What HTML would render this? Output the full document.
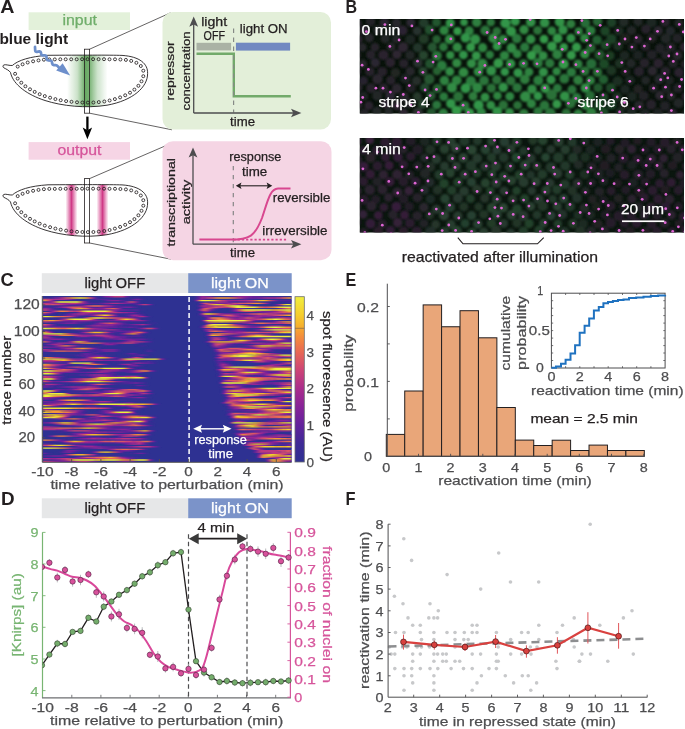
<!DOCTYPE html>
<html><head><meta charset="utf-8"><title>Figure</title>
<style>html,body{margin:0;padding:0;background:#fff;width:685px;height:729px;overflow:hidden}
svg{display:block} text{font-family:"Liberation Sans", sans-serif}</style></head>
<body><svg width="685" height="729" viewBox="0 0 685 729" font-family="Liberation Sans, sans-serif" style="will-change:transform">
<text x="0.3" y="12.7" font-size="18" fill="#231f20" font-weight="bold" textLength="14.2" lengthAdjust="spacingAndGlyphs" >A</text>
<rect x="28.6" y="12.3" width="101.4" height="17.7" fill="#e3f1da"/>
<text x="79.7" y="25.0" font-size="14" fill="#6fae6a" stroke="#6fae6a" stroke-width="0.25" text-anchor="middle" textLength="34.5" lengthAdjust="spacingAndGlyphs" >input</text>
<rect x="28.6" y="142.1" width="101.4" height="17.6" fill="#f6d5e5"/>
<text x="79.5" y="154.6" font-size="14" fill="#d6559b" stroke="#d6559b" stroke-width="0.25" text-anchor="middle" textLength="44" lengthAdjust="spacingAndGlyphs" >output</text>
<text x="-0.6" y="43.5" font-size="13.8" fill="#231f20" font-weight="bold" textLength="68.8" lengthAdjust="spacingAndGlyphs" >blue light</text>
<defs><linearGradient id="gg" x1="67" x2="107.5" y1="0" y2="0" gradientUnits="userSpaceOnUse"><stop offset="0" stop-color="#6fae6a" stop-opacity="0"/><stop offset="0.25" stop-color="#6fae6a" stop-opacity="0.35"/><stop offset="0.45" stop-color="#5fa45a" stop-opacity="0.95"/><stop offset="0.55" stop-color="#5fa45a" stop-opacity="0.85"/><stop offset="0.75" stop-color="#6fae6a" stop-opacity="0.35"/><stop offset="1" stop-color="#6fae6a" stop-opacity="0"/></linearGradient><linearGradient id="pg1" x1="65.5" x2="77.5" y1="0" y2="0" gradientUnits="userSpaceOnUse"><stop offset="0" stop-color="#d8468e" stop-opacity="0"/><stop offset="0.5" stop-color="#cf3a86" stop-opacity="1"/><stop offset="1" stop-color="#d8468e" stop-opacity="0"/></linearGradient><linearGradient id="pg2" x1="96.5" x2="108.5" y1="0" y2="0" gradientUnits="userSpaceOnUse"><stop offset="0" stop-color="#d8468e" stop-opacity="0"/><stop offset="0.5" stop-color="#cf3a86" stop-opacity="1"/><stop offset="1" stop-color="#d8468e" stop-opacity="0"/></linearGradient><clipPath id="ec1"><path d="M12.3,65.5 C18,60.4 30,56.4 48,55.3 C80,55.1 110,55.0 122,55.4 C140,56.5 148,64 147.6,73.5 C147.8,87 133,100.5 107,105.2 C86,108.6 62,106 45,100.5 C28,95 13.2,85 10.5,72.5 C9,70.2 6,69 4,67.9 C2.6,67.1 2.6,65.4 4,64.9 C6,64.2 9.5,65.8 12.3,65.5 Z"/></clipPath><clipPath id="ec2"><path d="M12.3,195.0 C18,189.9 30,185.9 48,184.8 C80,184.6 110,184.5 122,184.9 C140,186.0 148,193.5 147.6,203.0 C147.8,216.5 133,230.0 107,234.7 C86,238.1 62,235.5 45,230.0 C28,224.5 13.2,214.5 10.5,202.0 C9,199.7 6,198.5 4,197.4 C2.6,196.6 2.6,194.9 4,194.4 C6,193.7 9.5,195.3 12.3,195.0 Z"/></clipPath></defs>
<rect x="60" y="50" width="50" height="60" fill="url(#gg)" clip-path="url(#ec1)"/>
<path d="M12.3,65.5 C18,60.4 30,56.4 48,55.3 C80,55.1 110,55.0 122,55.4 C140,56.5 148,64 147.6,73.5 C147.8,87 133,100.5 107,105.2 C86,108.6 62,106 45,100.5 C28,95 13.2,85 10.5,72.5 C9,70.2 6,69 4,67.9 C2.6,67.1 2.6,65.4 4,64.9 C6,64.2 9.5,65.8 12.3,65.5 Z" fill="none" stroke="#231f20" stroke-width="0.9"/>
<g fill="none" stroke="#231f20" stroke-width="0.85"><circle cx="17.7" cy="66.6" r="1.5"/><circle cx="22.6" cy="64.3" r="1.5"/><circle cx="27.7" cy="62.5" r="1.5"/><circle cx="33.1" cy="61.3" r="1.5"/><circle cx="38.5" cy="60.4" r="1.5"/><circle cx="43.9" cy="59.7" r="1.5"/><circle cx="49.3" cy="59.4" r="1.5"/><circle cx="54.8" cy="59.4" r="1.5"/><circle cx="60.3" cy="59.3" r="1.5"/><circle cx="65.7" cy="59.3" r="1.5"/><circle cx="71.2" cy="59.3" r="1.5"/><circle cx="76.7" cy="59.3" r="1.5"/><circle cx="82.1" cy="59.2" r="1.5"/><circle cx="87.6" cy="59.2" r="1.5"/><circle cx="93.1" cy="59.2" r="1.5"/><circle cx="98.6" cy="59.2" r="1.5"/><circle cx="104.0" cy="59.2" r="1.5"/><circle cx="109.5" cy="59.3" r="1.5"/><circle cx="115.0" cy="59.3" r="1.5"/><circle cx="120.4" cy="59.5" r="1.5"/><circle cx="125.9" cy="59.9" r="1.5"/><circle cx="131.2" cy="60.9" r="1.5"/><circle cx="136.4" cy="62.8" r="1.5"/><circle cx="140.8" cy="66.0" r="1.5"/><circle cx="143.3" cy="70.7" r="1.5"/><circle cx="143.3" cy="76.2" r="1.5"/><circle cx="141.5" cy="81.3" r="1.5"/><circle cx="138.4" cy="85.8" r="1.5"/><circle cx="134.4" cy="89.6" r="1.5"/><circle cx="130.0" cy="92.7" r="1.5"/><circle cx="125.2" cy="95.3" r="1.5"/><circle cx="120.1" cy="97.4" r="1.5"/><circle cx="114.9" cy="99.1" r="1.5"/><circle cx="109.6" cy="100.5" r="1.5"/><circle cx="104.3" cy="101.5" r="1.5"/><circle cx="98.8" cy="102.1" r="1.5"/><circle cx="93.4" cy="102.5" r="1.5"/><circle cx="87.9" cy="102.6" r="1.5"/><circle cx="82.4" cy="102.5" r="1.5"/><circle cx="77.0" cy="102.3" r="1.5"/><circle cx="71.5" cy="101.8" r="1.5"/><circle cx="66.1" cy="101.1" r="1.5"/><circle cx="60.7" cy="100.2" r="1.5"/><circle cx="55.4" cy="99.1" r="1.5"/><circle cx="50.1" cy="97.7" r="1.5"/><circle cx="44.8" cy="96.1" r="1.5"/><circle cx="39.7" cy="94.2" r="1.5"/><circle cx="34.7" cy="91.9" r="1.5"/><circle cx="30.0" cy="89.3" r="1.5"/><circle cx="25.4" cy="86.3" r="1.5"/><circle cx="21.3" cy="82.7" r="1.5"/><circle cx="17.7" cy="78.6" r="1.5"/><circle cx="15.1" cy="73.8" r="1.5"/></g>
<g clip-path="url(#ec2)"><rect x="65.5" y="180" width="12" height="60" fill="url(#pg1)"/><rect x="96.5" y="180" width="12" height="60" fill="url(#pg2)"/></g>
<path d="M12.3,195.0 C18,189.9 30,185.9 48,184.8 C80,184.6 110,184.5 122,184.9 C140,186.0 148,193.5 147.6,203.0 C147.8,216.5 133,230.0 107,234.7 C86,238.1 62,235.5 45,230.0 C28,224.5 13.2,214.5 10.5,202.0 C9,199.7 6,198.5 4,197.4 C2.6,196.6 2.6,194.9 4,194.4 C6,193.7 9.5,195.3 12.3,195.0 Z" fill="none" stroke="#231f20" stroke-width="0.9"/>
<g fill="none" stroke="#231f20" stroke-width="0.85"><circle cx="17.7" cy="196.1" r="1.5"/><circle cx="22.6" cy="193.8" r="1.5"/><circle cx="27.7" cy="192.0" r="1.5"/><circle cx="33.1" cy="190.8" r="1.5"/><circle cx="38.5" cy="189.9" r="1.5"/><circle cx="43.9" cy="189.2" r="1.5"/><circle cx="49.3" cy="188.9" r="1.5"/><circle cx="54.8" cy="188.9" r="1.5"/><circle cx="60.3" cy="188.8" r="1.5"/><circle cx="65.7" cy="188.8" r="1.5"/><circle cx="71.2" cy="188.8" r="1.5"/><circle cx="76.7" cy="188.8" r="1.5"/><circle cx="82.1" cy="188.7" r="1.5"/><circle cx="87.6" cy="188.7" r="1.5"/><circle cx="93.1" cy="188.7" r="1.5"/><circle cx="98.6" cy="188.7" r="1.5"/><circle cx="104.0" cy="188.7" r="1.5"/><circle cx="109.5" cy="188.8" r="1.5"/><circle cx="115.0" cy="188.8" r="1.5"/><circle cx="120.4" cy="189.0" r="1.5"/><circle cx="125.9" cy="189.4" r="1.5"/><circle cx="131.2" cy="190.4" r="1.5"/><circle cx="136.4" cy="192.3" r="1.5"/><circle cx="140.8" cy="195.5" r="1.5"/><circle cx="143.3" cy="200.2" r="1.5"/><circle cx="143.3" cy="205.7" r="1.5"/><circle cx="141.5" cy="210.8" r="1.5"/><circle cx="138.4" cy="215.3" r="1.5"/><circle cx="134.4" cy="219.1" r="1.5"/><circle cx="130.0" cy="222.2" r="1.5"/><circle cx="125.2" cy="224.8" r="1.5"/><circle cx="120.1" cy="226.9" r="1.5"/><circle cx="114.9" cy="228.6" r="1.5"/><circle cx="109.6" cy="230.0" r="1.5"/><circle cx="104.3" cy="231.0" r="1.5"/><circle cx="98.8" cy="231.6" r="1.5"/><circle cx="93.4" cy="232.0" r="1.5"/><circle cx="87.9" cy="232.1" r="1.5"/><circle cx="82.4" cy="232.0" r="1.5"/><circle cx="77.0" cy="231.8" r="1.5"/><circle cx="71.5" cy="231.3" r="1.5"/><circle cx="66.1" cy="230.6" r="1.5"/><circle cx="60.7" cy="229.7" r="1.5"/><circle cx="55.4" cy="228.6" r="1.5"/><circle cx="50.1" cy="227.2" r="1.5"/><circle cx="44.8" cy="225.6" r="1.5"/><circle cx="39.7" cy="223.7" r="1.5"/><circle cx="34.7" cy="221.4" r="1.5"/><circle cx="30.0" cy="218.8" r="1.5"/><circle cx="25.4" cy="215.8" r="1.5"/><circle cx="21.3" cy="212.2" r="1.5"/><circle cx="17.7" cy="208.1" r="1.5"/><circle cx="15.1" cy="203.3" r="1.5"/></g>
<rect x="84.4" y="49.2" width="5.2" height="64" fill="none" stroke="#231f20" stroke-width="0.8"/>
<rect x="84.4" y="178.6" width="5.2" height="64.4" fill="none" stroke="#231f20" stroke-width="0.8"/>
<g stroke="#231f20" stroke-width="0.7"><line x1="89.6" y1="49.2" x2="170.5" y2="12.8"/><line x1="89.6" y1="113.2" x2="172" y2="129.8"/><line x1="89.6" y1="178.6" x2="168.5" y2="144.5"/><line x1="89.6" y1="243" x2="171" y2="259.2"/></g>
<line x1="87.4" y1="116.6" x2="87.4" y2="130" stroke="#000" stroke-width="2.3"/>
<path d="M82.7,127.6 L87.4,139.2 L92.1,127.6 L87.4,130.2 Z" fill="#000"/>
<path d="M35,46.9 L35.2,50.6 Q35.4,52.1 37,51.8 L39.3,51.4 Q40.8,51.2 41,52.7 L41.2,54.3 Q41.5,55.6 43,55.4 L44.9,55.3 Q46.3,55.3 46.5,56.8 L46.7,58.9 Q47,60.4 48.5,60.4 L50.3,60.5 Q51.8,60.6 52,62 L52.2,63.8 Q52.5,65.3 54,65.2 L55.5,65.1 Q57,65.1 58,66.5 L59,67.6" fill="none" stroke="#6d8fcb" stroke-width="2.7" stroke-linecap="round" stroke-linejoin="round"/>
<path d="M56.2,70.6 L62.6,63.2 L70.2,75.4 Z" fill="#6d8fcb"/>
<rect x="162.5" y="12" width="168.5" height="117.5" rx="10.5" fill="#e3efd9"/>
<rect x="162.5" y="141.2" width="169" height="119" rx="10.5" fill="#f5d5e4"/>
<rect x="196.5" y="42.8" width="34.6" height="7.6" fill="#aab2a5"/>
<rect x="235.9" y="42.7" width="54.2" height="7.9" fill="#7189c1"/>
<path d="M196.5,53.8 H233.8 V96.2 H290.8" fill="none" stroke="#72aa6a" stroke-width="2.4"/>
<line x1="233.6" y1="28.6" x2="233.6" y2="112.5" stroke="#868a86" stroke-width="1.2" stroke-dasharray="4.3,4.7"/>
<path d="M193.7,113 V22 M193.7,113 H295" fill="none" stroke="#4d4d4f" stroke-width="1.3"/>
<path d="M189.3,26.8 L193.7,16.6 L198.1,26.8 L193.7,24.5 Z" fill="#4d4d4f"/>
<path d="M291,108.8 L301.4,113 L291,117.2 L293.3,113 Z" fill="#4d4d4f"/>
<text x="214.2" y="25.6" font-size="12" fill="#231f20" stroke="#231f20" stroke-width="0.25" text-anchor="middle" textLength="26" lengthAdjust="spacingAndGlyphs" >light</text>
<text x="214.3" y="40.1" font-size="12" fill="#231f20" stroke="#231f20" stroke-width="0.25" text-anchor="middle" textLength="21.4" lengthAdjust="spacingAndGlyphs" >OFF</text>
<text x="239.8" y="32.7" font-size="12" fill="#231f20" stroke="#231f20" stroke-width="0.25" textLength="47.8" lengthAdjust="spacingAndGlyphs" >light ON</text>
<text x="230.1" y="125.8" font-size="12" fill="#231f20" stroke="#231f20" stroke-width="0.25" textLength="24.9" lengthAdjust="spacingAndGlyphs" >time</text>
<text transform="translate(174.3,70.9) rotate(-90)" font-size="11.8" fill="#231f20" stroke="#231f20" stroke-width="0.25" text-anchor="middle" textLength="59" lengthAdjust="spacingAndGlyphs" >repressor</text>
<text transform="translate(190.3,70.9) rotate(-90)" font-size="11.8" fill="#231f20" stroke="#231f20" stroke-width="0.25" text-anchor="middle" textLength="79" lengthAdjust="spacingAndGlyphs" >concentration</text>
<line x1="233.3" y1="166" x2="233.3" y2="243.5" stroke="#868686" stroke-width="1.2" stroke-dasharray="4.3,4.7"/>
<path d="M193,244.2 V152 M193,244.2 H295" fill="none" stroke="#4d4d4f" stroke-width="1.3"/>
<path d="M188.6,157.6 L193,147.4 L197.4,157.6 L193,155.3 Z" fill="#4d4d4f"/>
<path d="M291,240 L301.4,244.2 L291,248.4 L293.3,244.2 Z" fill="#4d4d4f"/>
<path d="M233.5,239.6 H287.5" stroke="#d8478f" stroke-width="1.8" stroke-dasharray="2.2,2"/>
<path d="M199.4,239.6 H230 C250,239.6 255,236 262,218 C268,200 270,189 278,188.6 H290.5" fill="none" stroke="#d8478f" stroke-width="2"/>
<path d="M240,185.8 H268" stroke="#231f20" stroke-width="1.1"/>
<path d="M235.8,185.8 L241.5,182.6 L240.3,185.8 L241.5,189 Z M272.3,185.8 L266.6,182.6 L267.8,185.8 L266.6,189 Z" fill="#231f20"/>
<text x="255.3" y="160.8" font-size="12" fill="#231f20" stroke="#231f20" stroke-width="0.25" text-anchor="middle" textLength="52" lengthAdjust="spacingAndGlyphs" >response</text>
<text x="254.7" y="176.0" font-size="12" fill="#231f20" stroke="#231f20" stroke-width="0.25" text-anchor="middle" textLength="25.2" lengthAdjust="spacingAndGlyphs" >time</text>
<text x="272.8" y="202.0" font-size="12" fill="#231f20" stroke="#231f20" stroke-width="0.25" textLength="57.5" lengthAdjust="spacingAndGlyphs" >reversible</text>
<text x="262.3" y="235.2" font-size="12" fill="#231f20" stroke="#231f20" stroke-width="0.25" textLength="65.2" lengthAdjust="spacingAndGlyphs" >irreversible</text>
<text x="230.1" y="257.3" font-size="12" fill="#231f20" stroke="#231f20" stroke-width="0.25" textLength="24.9" lengthAdjust="spacingAndGlyphs" >time</text>
<text transform="translate(174.5,202.3) rotate(-90)" font-size="11.8" fill="#231f20" stroke="#231f20" stroke-width="0.25" text-anchor="middle" textLength="88.5" lengthAdjust="spacingAndGlyphs" >transcriptional</text>
<text transform="translate(189.5,202.0) rotate(-90)" font-size="11.8" fill="#231f20" stroke="#231f20" stroke-width="0.25" text-anchor="middle" textLength="44.5" lengthAdjust="spacingAndGlyphs" >activity</text>
<defs><clipPath id="mc1"><rect x="359.8" y="19" width="324.2" height="94.5"/></clipPath><clipPath id="mc2"><rect x="359.8" y="138" width="324.2" height="94.5"/></clipPath><filter id="mblur" x="0" y="0" width="1" height="1"><feGaussianBlur stdDeviation="1.1"/></filter></defs>
<text x="345.4" y="12.7" font-size="18" fill="#231f20" font-weight="bold" textLength="11.6" lengthAdjust="spacingAndGlyphs" >B</text>
<rect x="359.8" y="19" width="324.2" height="94.5" fill="#08120a"/>
<g clip-path="url(#mc1)"><g filter="url(#mblur)">
<circle cx="357.1" cy="23.1" r="4.5" fill="rgb(45,37,49)"/>
<circle cx="370.5" cy="21.6" r="4.8" fill="rgb(34,35,38)"/>
<circle cx="384.4" cy="22.8" r="4.8" fill="rgb(44,37,48)"/>
<circle cx="396.5" cy="22.9" r="4.6" fill="rgb(38,38,42)"/>
<circle cx="410.7" cy="22.7" r="4.4" fill="rgb(44,38,49)"/>
<circle cx="423.8" cy="22.9" r="4.9" fill="rgb(33,59,41)"/>
<circle cx="436.5" cy="22.4" r="4.5" fill="rgb(35,87,46)"/>
<circle cx="450.2" cy="22.9" r="4.6" fill="rgb(50,146,71)"/>
<circle cx="464.0" cy="22.3" r="3.8" fill="rgb(50,146,71)"/>
<circle cx="476.7" cy="22.3" r="4.8" fill="rgb(45,127,63)"/>
<circle cx="490.8" cy="22.3" r="4.1" fill="rgb(43,118,59)"/>
<circle cx="505.4" cy="23.2" r="5.1" fill="rgb(51,149,72)"/>
<circle cx="515.2" cy="21.2" r="4.6" fill="rgb(51,149,72)"/>
<circle cx="530.8" cy="22.2" r="4.8" fill="rgb(50,144,70)"/>
<circle cx="544.6" cy="22.7" r="4.9" fill="rgb(50,144,70)"/>
<circle cx="559.7" cy="21.7" r="5.0" fill="rgb(51,147,71)"/>
<circle cx="570.9" cy="23.9" r="4.5" fill="rgb(45,125,62)"/>
<circle cx="585.2" cy="23.0" r="4.9" fill="rgb(40,108,55)"/>
<circle cx="597.5" cy="21.3" r="4.8" fill="rgb(38,101,52)"/>
<circle cx="611.6" cy="22.6" r="4.8" fill="rgb(30,63,38)"/>
<circle cx="623.7" cy="22.0" r="4.8" fill="rgb(32,43,37)"/>
<circle cx="638.1" cy="21.8" r="4.5" fill="rgb(32,39,37)"/>
<circle cx="651.5" cy="22.6" r="4.9" fill="rgb(31,39,36)"/>
<circle cx="665.0" cy="22.1" r="4.7" fill="rgb(39,34,44)"/>
<circle cx="678.9" cy="23.1" r="4.4" fill="rgb(35,38,40)"/>
<circle cx="692.1" cy="21.9" r="4.8" fill="rgb(31,39,36)"/>
<circle cx="364.2" cy="30.3" r="4.7" fill="rgb(45,39,50)"/>
<circle cx="377.7" cy="29.9" r="4.7" fill="rgb(36,39,40)"/>
<circle cx="391.1" cy="30.7" r="4.7" fill="rgb(32,39,37)"/>
<circle cx="402.6" cy="30.5" r="4.9" fill="rgb(44,35,48)"/>
<circle cx="417.1" cy="30.9" r="4.4" fill="rgb(40,49,47)"/>
<circle cx="429.6" cy="29.9" r="4.9" fill="rgb(35,79,46)"/>
<circle cx="444.1" cy="30.4" r="4.7" fill="rgb(47,133,65)"/>
<circle cx="457.5" cy="31.2" r="4.1" fill="rgb(52,154,74)"/>
<circle cx="469.2" cy="30.9" r="4.6" fill="rgb(46,129,64)"/>
<circle cx="485.2" cy="30.5" r="4.9" fill="rgb(42,115,58)"/>
<circle cx="496.8" cy="31.2" r="4.3" fill="rgb(41,113,57)"/>
<circle cx="511.1" cy="31.3" r="5.1" fill="rgb(51,148,71)"/>
<circle cx="524.0" cy="29.7" r="4.7" fill="rgb(48,137,67)"/>
<circle cx="537.6" cy="30.4" r="4.4" fill="rgb(41,114,57)"/>
<circle cx="551.8" cy="30.8" r="4.4" fill="rgb(46,132,65)"/>
<circle cx="563.0" cy="29.9" r="4.7" fill="rgb(50,144,70)"/>
<circle cx="578.7" cy="31.2" r="4.0" fill="rgb(46,129,63)"/>
<circle cx="590.7" cy="30.7" r="4.8" fill="rgb(44,122,61)"/>
<circle cx="605.1" cy="31.0" r="4.8" fill="rgb(30,69,39)"/>
<circle cx="618.9" cy="30.9" r="4.7" fill="rgb(28,43,33)"/>
<circle cx="631.4" cy="30.5" r="4.7" fill="rgb(33,37,37)"/>
<circle cx="645.9" cy="29.1" r="4.7" fill="rgb(39,36,43)"/>
<circle cx="658.2" cy="30.7" r="4.7" fill="rgb(41,37,46)"/>
<circle cx="670.4" cy="30.9" r="4.6" fill="rgb(36,39,41)"/>
<circle cx="684.5" cy="31.3" r="4.6" fill="rgb(33,34,37)"/>
<circle cx="698.4" cy="31.2" r="4.7" fill="rgb(36,33,40)"/>
<circle cx="357.9" cy="39.2" r="4.8" fill="rgb(41,35,45)"/>
<circle cx="369.4" cy="37.8" r="4.6" fill="rgb(37,38,42)"/>
<circle cx="385.2" cy="38.8" r="4.5" fill="rgb(34,38,38)"/>
<circle cx="396.4" cy="39.0" r="4.4" fill="rgb(35,37,39)"/>
<circle cx="410.2" cy="39.5" r="4.9" fill="rgb(31,38,36)"/>
<circle cx="423.8" cy="38.9" r="5.0" fill="rgb(33,58,40)"/>
<circle cx="436.6" cy="39.2" r="4.2" fill="rgb(37,97,51)"/>
<circle cx="449.7" cy="39.4" r="4.9" fill="rgb(48,138,67)"/>
<circle cx="465.4" cy="37.8" r="4.8" fill="rgb(51,149,72)"/>
<circle cx="475.2" cy="39.3" r="5.1" fill="rgb(50,145,70)"/>
<circle cx="493.1" cy="38.2" r="4.8" fill="rgb(48,136,67)"/>
<circle cx="503.1" cy="39.3" r="4.6" fill="rgb(46,131,64)"/>
<circle cx="516.8" cy="38.5" r="4.8" fill="rgb(43,120,60)"/>
<circle cx="530.7" cy="39.3" r="4.7" fill="rgb(49,140,68)"/>
<circle cx="544.0" cy="39.1" r="4.4" fill="rgb(53,154,74)"/>
<circle cx="557.6" cy="38.3" r="4.8" fill="rgb(52,152,73)"/>
<circle cx="570.9" cy="38.2" r="4.5" fill="rgb(50,144,70)"/>
<circle cx="584.6" cy="38.1" r="4.4" fill="rgb(47,132,65)"/>
<circle cx="597.0" cy="39.9" r="4.7" fill="rgb(36,96,50)"/>
<circle cx="611.4" cy="38.9" r="5.0" fill="rgb(29,64,38)"/>
<circle cx="625.3" cy="38.6" r="5.3" fill="rgb(27,36,31)"/>
<circle cx="638.0" cy="39.2" r="4.6" fill="rgb(38,36,43)"/>
<circle cx="651.9" cy="38.1" r="4.7" fill="rgb(32,34,36)"/>
<circle cx="665.8" cy="38.5" r="4.9" fill="rgb(35,39,39)"/>
<circle cx="677.4" cy="38.3" r="4.8" fill="rgb(34,36,38)"/>
<circle cx="691.4" cy="40.0" r="5.0" fill="rgb(32,33,36)"/>
<circle cx="362.4" cy="47.2" r="4.3" fill="rgb(38,37,43)"/>
<circle cx="375.0" cy="47.1" r="4.4" fill="rgb(37,34,41)"/>
<circle cx="391.1" cy="46.9" r="4.4" fill="rgb(39,37,44)"/>
<circle cx="403.1" cy="47.3" r="5.0" fill="rgb(46,39,51)"/>
<circle cx="417.7" cy="47.6" r="4.7" fill="rgb(36,54,43)"/>
<circle cx="432.3" cy="47.2" r="4.7" fill="rgb(37,87,49)"/>
<circle cx="443.4" cy="47.0" r="4.4" fill="rgb(43,118,59)"/>
<circle cx="457.2" cy="47.2" r="4.7" fill="rgb(48,137,67)"/>
<circle cx="470.7" cy="47.2" r="4.5" fill="rgb(52,153,74)"/>
<circle cx="482.6" cy="47.7" r="4.6" fill="rgb(47,133,65)"/>
<circle cx="497.0" cy="46.3" r="4.3" fill="rgb(51,148,71)"/>
<circle cx="511.5" cy="48.0" r="4.9" fill="rgb(48,139,68)"/>
<circle cx="524.7" cy="47.2" r="4.7" fill="rgb(43,120,60)"/>
<circle cx="536.9" cy="49.1" r="4.9" fill="rgb(45,126,62)"/>
<circle cx="551.9" cy="46.3" r="4.9" fill="rgb(52,153,74)"/>
<circle cx="563.8" cy="47.2" r="4.2" fill="rgb(52,152,73)"/>
<circle cx="576.5" cy="47.2" r="4.6" fill="rgb(53,154,74)"/>
<circle cx="590.9" cy="48.0" r="4.7" fill="rgb(37,97,50)"/>
<circle cx="605.6" cy="45.2" r="4.9" fill="rgb(30,70,39)"/>
<circle cx="618.1" cy="46.0" r="4.8" fill="rgb(26,47,32)"/>
<circle cx="632.5" cy="47.2" r="4.4" fill="rgb(30,35,34)"/>
<circle cx="645.4" cy="46.4" r="4.6" fill="rgb(36,34,40)"/>
<circle cx="659.9" cy="48.5" r="4.9" fill="rgb(35,35,40)"/>
<circle cx="670.7" cy="47.4" r="4.9" fill="rgb(32,35,37)"/>
<circle cx="684.5" cy="47.1" r="4.8" fill="rgb(42,36,46)"/>
<circle cx="697.4" cy="48.4" r="4.5" fill="rgb(43,38,47)"/>
<circle cx="355.9" cy="55.1" r="4.8" fill="rgb(42,39,47)"/>
<circle cx="370.7" cy="54.8" r="4.6" fill="rgb(38,36,42)"/>
<circle cx="383.4" cy="54.9" r="5.2" fill="rgb(41,34,45)"/>
<circle cx="396.9" cy="54.5" r="4.6" fill="rgb(45,37,49)"/>
<circle cx="410.0" cy="55.2" r="4.6" fill="rgb(35,38,39)"/>
<circle cx="423.5" cy="55.3" r="4.6" fill="rgb(38,68,47)"/>
<circle cx="436.9" cy="55.8" r="4.9" fill="rgb(43,117,59)"/>
<circle cx="450.3" cy="55.2" r="4.1" fill="rgb(49,141,69)"/>
<circle cx="463.4" cy="54.9" r="4.4" fill="rgb(51,148,72)"/>
<circle cx="476.3" cy="55.7" r="4.5" fill="rgb(52,150,72)"/>
<circle cx="489.8" cy="54.8" r="4.2" fill="rgb(44,124,62)"/>
<circle cx="504.5" cy="55.6" r="4.7" fill="rgb(46,132,65)"/>
<circle cx="517.2" cy="53.9" r="4.4" fill="rgb(46,131,64)"/>
<circle cx="531.4" cy="55.5" r="4.7" fill="rgb(53,155,74)"/>
<circle cx="543.1" cy="55.8" r="4.5" fill="rgb(49,140,68)"/>
<circle cx="557.2" cy="54.5" r="4.9" fill="rgb(46,129,63)"/>
<circle cx="571.3" cy="55.2" r="4.6" fill="rgb(52,153,74)"/>
<circle cx="584.8" cy="54.2" r="4.6" fill="rgb(48,138,67)"/>
<circle cx="599.6" cy="54.9" r="5.1" fill="rgb(33,83,44)"/>
<circle cx="610.0" cy="55.7" r="4.6" fill="rgb(28,60,36)"/>
<circle cx="624.5" cy="55.5" r="4.7" fill="rgb(30,40,35)"/>
<circle cx="637.9" cy="55.3" r="4.8" fill="rgb(28,34,32)"/>
<circle cx="651.8" cy="54.8" r="4.9" fill="rgb(36,34,40)"/>
<circle cx="665.6" cy="55.0" r="4.5" fill="rgb(33,34,37)"/>
<circle cx="677.6" cy="55.4" r="4.9" fill="rgb(39,38,43)"/>
<circle cx="692.2" cy="55.1" r="4.9" fill="rgb(32,36,36)"/>
<circle cx="362.7" cy="63.9" r="4.3" fill="rgb(40,39,44)"/>
<circle cx="375.3" cy="62.8" r="4.7" fill="rgb(43,37,48)"/>
<circle cx="390.3" cy="62.5" r="4.8" fill="rgb(41,34,45)"/>
<circle cx="403.7" cy="63.5" r="4.6" fill="rgb(39,34,43)"/>
<circle cx="417.9" cy="62.9" r="4.7" fill="rgb(39,50,45)"/>
<circle cx="429.9" cy="63.7" r="4.9" fill="rgb(36,81,47)"/>
<circle cx="441.7" cy="65.7" r="5.1" fill="rgb(44,123,61)"/>
<circle cx="456.7" cy="63.0" r="4.6" fill="rgb(48,137,67)"/>
<circle cx="471.5" cy="63.5" r="4.6" fill="rgb(49,142,69)"/>
<circle cx="482.5" cy="63.9" r="5.1" fill="rgb(48,136,67)"/>
<circle cx="498.3" cy="63.2" r="4.9" fill="rgb(52,152,73)"/>
<circle cx="510.6" cy="63.8" r="4.7" fill="rgb(50,145,70)"/>
<circle cx="523.5" cy="63.8" r="4.6" fill="rgb(44,123,61)"/>
<circle cx="537.9" cy="63.0" r="4.9" fill="rgb(44,122,61)"/>
<circle cx="549.8" cy="63.3" r="4.7" fill="rgb(43,119,59)"/>
<circle cx="563.7" cy="64.2" r="5.1" fill="rgb(52,152,73)"/>
<circle cx="578.0" cy="64.0" r="4.5" fill="rgb(45,128,63)"/>
<circle cx="591.4" cy="63.7" r="5.2" fill="rgb(40,109,55)"/>
<circle cx="604.0" cy="64.0" r="5.0" fill="rgb(31,73,40)"/>
<circle cx="619.7" cy="63.3" r="4.8" fill="rgb(30,49,36)"/>
<circle cx="631.0" cy="63.4" r="4.6" fill="rgb(32,38,37)"/>
<circle cx="644.5" cy="63.0" r="4.8" fill="rgb(37,36,42)"/>
<circle cx="658.4" cy="63.3" r="4.9" fill="rgb(42,36,46)"/>
<circle cx="673.0" cy="63.5" r="4.6" fill="rgb(34,34,38)"/>
<circle cx="685.4" cy="64.2" r="4.7" fill="rgb(36,35,40)"/>
<circle cx="698.2" cy="64.5" r="4.9" fill="rgb(34,33,38)"/>
<circle cx="356.2" cy="71.1" r="4.7" fill="rgb(44,33,48)"/>
<circle cx="369.9" cy="71.6" r="4.7" fill="rgb(37,36,42)"/>
<circle cx="382.3" cy="71.7" r="4.8" fill="rgb(40,33,44)"/>
<circle cx="395.5" cy="72.7" r="4.7" fill="rgb(32,38,36)"/>
<circle cx="410.3" cy="71.3" r="4.5" fill="rgb(39,39,44)"/>
<circle cx="423.0" cy="71.4" r="4.3" fill="rgb(41,71,51)"/>
<circle cx="437.0" cy="71.0" r="4.3" fill="rgb(38,98,51)"/>
<circle cx="449.8" cy="71.6" r="4.5" fill="rgb(48,139,68)"/>
<circle cx="463.5" cy="72.4" r="4.9" fill="rgb(48,138,67)"/>
<circle cx="478.4" cy="71.7" r="4.8" fill="rgb(48,136,67)"/>
<circle cx="491.2" cy="70.8" r="5.0" fill="rgb(50,144,70)"/>
<circle cx="504.8" cy="71.7" r="4.3" fill="rgb(51,149,72)"/>
<circle cx="518.0" cy="72.8" r="4.6" fill="rgb(51,149,72)"/>
<circle cx="528.9" cy="71.9" r="4.5" fill="rgb(46,130,64)"/>
<circle cx="543.4" cy="72.1" r="4.6" fill="rgb(50,145,70)"/>
<circle cx="556.6" cy="71.4" r="4.2" fill="rgb(47,136,66)"/>
<circle cx="571.4" cy="72.1" r="4.7" fill="rgb(43,121,60)"/>
<circle cx="584.7" cy="71.1" r="4.7" fill="rgb(41,112,56)"/>
<circle cx="597.5" cy="72.3" r="4.6" fill="rgb(41,111,56)"/>
<circle cx="611.4" cy="70.5" r="4.9" fill="rgb(27,54,34)"/>
<circle cx="625.6" cy="72.0" r="4.4" fill="rgb(26,36,31)"/>
<circle cx="639.0" cy="71.5" r="5.0" fill="rgb(39,35,43)"/>
<circle cx="652.3" cy="71.0" r="4.7" fill="rgb(42,39,47)"/>
<circle cx="665.5" cy="71.4" r="4.8" fill="rgb(37,36,42)"/>
<circle cx="679.0" cy="72.4" r="4.8" fill="rgb(41,33,45)"/>
<circle cx="691.1" cy="71.7" r="4.6" fill="rgb(38,36,43)"/>
<circle cx="363.5" cy="80.7" r="4.4" fill="rgb(40,36,45)"/>
<circle cx="377.5" cy="79.0" r="5.2" fill="rgb(41,37,45)"/>
<circle cx="390.7" cy="80.4" r="4.6" fill="rgb(38,33,42)"/>
<circle cx="405.6" cy="78.7" r="5.1" fill="rgb(31,34,35)"/>
<circle cx="416.6" cy="80.8" r="4.6" fill="rgb(37,47,43)"/>
<circle cx="429.3" cy="79.1" r="5.3" fill="rgb(39,87,51)"/>
<circle cx="444.4" cy="80.6" r="4.8" fill="rgb(46,130,64)"/>
<circle cx="456.7" cy="80.3" r="4.9" fill="rgb(46,131,64)"/>
<circle cx="470.8" cy="81.0" r="5.1" fill="rgb(44,124,62)"/>
<circle cx="484.1" cy="80.6" r="4.9" fill="rgb(42,117,59)"/>
<circle cx="496.7" cy="79.8" r="4.7" fill="rgb(41,111,56)"/>
<circle cx="510.8" cy="80.7" r="4.7" fill="rgb(41,111,56)"/>
<circle cx="524.8" cy="79.4" r="4.9" fill="rgb(45,125,62)"/>
<circle cx="538.3" cy="80.4" r="5.0" fill="rgb(44,125,62)"/>
<circle cx="551.0" cy="79.7" r="4.6" fill="rgb(50,144,70)"/>
<circle cx="564.3" cy="78.7" r="4.9" fill="rgb(42,117,59)"/>
<circle cx="578.1" cy="80.1" r="4.9" fill="rgb(45,125,62)"/>
<circle cx="590.5" cy="80.4" r="4.4" fill="rgb(45,128,63)"/>
<circle cx="603.5" cy="79.5" r="4.7" fill="rgb(36,94,49)"/>
<circle cx="617.7" cy="81.3" r="5.0" fill="rgb(26,46,32)"/>
<circle cx="630.1" cy="80.3" r="4.7" fill="rgb(30,38,35)"/>
<circle cx="645.7" cy="80.2" r="4.3" fill="rgb(36,38,40)"/>
<circle cx="659.4" cy="79.2" r="4.9" fill="rgb(36,39,41)"/>
<circle cx="669.6" cy="80.4" r="4.4" fill="rgb(30,34,34)"/>
<circle cx="684.0" cy="79.7" r="4.3" fill="rgb(30,34,34)"/>
<circle cx="697.4" cy="80.6" r="4.9" fill="rgb(39,39,44)"/>
<circle cx="357.6" cy="87.6" r="4.7" fill="rgb(41,39,46)"/>
<circle cx="371.0" cy="88.2" r="4.9" fill="rgb(38,35,42)"/>
<circle cx="383.5" cy="88.1" r="4.9" fill="rgb(37,34,41)"/>
<circle cx="396.8" cy="88.5" r="4.9" fill="rgb(42,37,46)"/>
<circle cx="410.7" cy="87.9" r="4.9" fill="rgb(33,36,37)"/>
<circle cx="424.7" cy="87.7" r="4.6" fill="rgb(36,70,46)"/>
<circle cx="437.5" cy="88.4" r="4.7" fill="rgb(37,96,50)"/>
<circle cx="451.9" cy="87.7" r="5.1" fill="rgb(49,140,68)"/>
<circle cx="465.6" cy="88.2" r="5.0" fill="rgb(51,150,72)"/>
<circle cx="477.2" cy="87.6" r="5.2" fill="rgb(47,135,66)"/>
<circle cx="491.3" cy="88.1" r="4.7" fill="rgb(41,113,57)"/>
<circle cx="503.2" cy="87.3" r="4.8" fill="rgb(50,146,71)"/>
<circle cx="517.1" cy="87.6" r="4.7" fill="rgb(42,117,59)"/>
<circle cx="532.0" cy="89.1" r="4.7" fill="rgb(49,140,68)"/>
<circle cx="545.2" cy="88.4" r="4.6" fill="rgb(52,151,73)"/>
<circle cx="557.4" cy="88.1" r="4.4" fill="rgb(43,120,60)"/>
<circle cx="572.0" cy="89.6" r="4.5" fill="rgb(42,115,58)"/>
<circle cx="585.4" cy="87.9" r="4.7" fill="rgb(50,143,70)"/>
<circle cx="598.0" cy="87.8" r="4.6" fill="rgb(34,88,46)"/>
<circle cx="610.7" cy="88.0" r="4.9" fill="rgb(30,68,39)"/>
<circle cx="625.0" cy="89.4" r="4.6" fill="rgb(29,39,34)"/>
<circle cx="638.2" cy="89.1" r="4.6" fill="rgb(32,33,36)"/>
<circle cx="653.2" cy="88.2" r="4.4" fill="rgb(34,36,39)"/>
<circle cx="666.4" cy="88.6" r="4.6" fill="rgb(30,33,34)"/>
<circle cx="678.0" cy="88.3" r="5.0" fill="rgb(34,33,38)"/>
<circle cx="691.8" cy="87.9" r="4.6" fill="rgb(35,33,39)"/>
<circle cx="363.3" cy="96.4" r="4.8" fill="rgb(31,36,36)"/>
<circle cx="377.3" cy="95.7" r="4.9" fill="rgb(36,38,40)"/>
<circle cx="390.3" cy="95.2" r="4.9" fill="rgb(43,38,48)"/>
<circle cx="403.9" cy="96.7" r="4.9" fill="rgb(37,38,42)"/>
<circle cx="417.2" cy="96.5" r="4.4" fill="rgb(37,55,44)"/>
<circle cx="431.0" cy="95.8" r="4.6" fill="rgb(38,87,50)"/>
<circle cx="443.7" cy="96.7" r="4.4" fill="rgb(44,122,61)"/>
<circle cx="458.2" cy="96.6" r="5.0" fill="rgb(41,113,57)"/>
<circle cx="473.0" cy="96.2" r="4.5" fill="rgb(45,125,62)"/>
<circle cx="485.0" cy="97.2" r="4.5" fill="rgb(49,142,69)"/>
<circle cx="497.4" cy="95.7" r="4.3" fill="rgb(47,133,65)"/>
<circle cx="509.8" cy="96.4" r="4.5" fill="rgb(47,134,66)"/>
<circle cx="525.3" cy="96.5" r="5.4" fill="rgb(49,140,68)"/>
<circle cx="537.9" cy="96.0" r="4.4" fill="rgb(51,149,72)"/>
<circle cx="551.6" cy="94.8" r="5.5" fill="rgb(41,113,57)"/>
<circle cx="564.7" cy="96.3" r="5.0" fill="rgb(50,146,71)"/>
<circle cx="576.7" cy="97.8" r="4.7" fill="rgb(43,121,60)"/>
<circle cx="590.1" cy="95.5" r="4.8" fill="rgb(39,106,54)"/>
<circle cx="603.6" cy="97.1" r="4.6" fill="rgb(30,70,39)"/>
<circle cx="617.3" cy="96.8" r="4.8" fill="rgb(28,47,34)"/>
<circle cx="632.0" cy="96.5" r="4.8" fill="rgb(29,39,34)"/>
<circle cx="643.7" cy="95.9" r="4.9" fill="rgb(35,33,39)"/>
<circle cx="659.8" cy="95.4" r="4.6" fill="rgb(42,38,47)"/>
<circle cx="671.0" cy="96.2" r="4.4" fill="rgb(35,38,40)"/>
<circle cx="685.8" cy="96.5" r="4.4" fill="rgb(40,34,44)"/>
<circle cx="699.2" cy="95.6" r="4.3" fill="rgb(37,37,41)"/>
<circle cx="357.7" cy="104.9" r="4.9" fill="rgb(38,34,43)"/>
<circle cx="368.8" cy="105.6" r="4.4" fill="rgb(42,34,46)"/>
<circle cx="385.7" cy="104.0" r="4.6" fill="rgb(44,33,48)"/>
<circle cx="397.1" cy="105.5" r="4.9" fill="rgb(42,36,46)"/>
<circle cx="409.1" cy="103.1" r="5.2" fill="rgb(32,36,37)"/>
<circle cx="422.6" cy="104.1" r="4.8" fill="rgb(37,67,46)"/>
<circle cx="436.7" cy="104.9" r="4.5" fill="rgb(43,118,60)"/>
<circle cx="450.8" cy="103.6" r="4.8" fill="rgb(51,149,72)"/>
<circle cx="464.5" cy="105.8" r="4.9" fill="rgb(42,115,58)"/>
<circle cx="478.5" cy="105.2" r="5.1" fill="rgb(51,150,72)"/>
<circle cx="490.8" cy="105.2" r="4.4" fill="rgb(49,142,69)"/>
<circle cx="503.3" cy="105.0" r="4.7" fill="rgb(41,111,56)"/>
<circle cx="517.5" cy="105.3" r="4.3" fill="rgb(41,112,56)"/>
<circle cx="531.4" cy="103.7" r="4.6" fill="rgb(46,131,64)"/>
<circle cx="544.5" cy="105.4" r="4.9" fill="rgb(42,116,58)"/>
<circle cx="556.8" cy="104.1" r="4.5" fill="rgb(52,151,73)"/>
<circle cx="570.5" cy="103.5" r="5.1" fill="rgb(41,112,57)"/>
<circle cx="585.5" cy="105.4" r="4.5" fill="rgb(45,127,63)"/>
<circle cx="598.7" cy="104.7" r="4.5" fill="rgb(33,84,45)"/>
<circle cx="611.4" cy="104.7" r="5.0" fill="rgb(29,63,38)"/>
<circle cx="624.1" cy="105.1" r="5.0" fill="rgb(27,36,31)"/>
<circle cx="639.1" cy="105.2" r="4.8" fill="rgb(39,37,43)"/>
<circle cx="651.1" cy="104.6" r="5.0" fill="rgb(38,35,42)"/>
<circle cx="664.9" cy="105.8" r="4.9" fill="rgb(34,36,38)"/>
<circle cx="678.6" cy="103.2" r="5.0" fill="rgb(35,37,40)"/>
<circle cx="692.2" cy="105.8" r="5.1" fill="rgb(36,33,40)"/>
<circle cx="364.1" cy="113.3" r="4.6" fill="rgb(35,33,39)"/>
<circle cx="376.9" cy="111.3" r="4.6" fill="rgb(35,37,40)"/>
<circle cx="388.7" cy="111.8" r="4.3" fill="rgb(33,37,38)"/>
<circle cx="403.6" cy="112.9" r="4.4" fill="rgb(45,39,50)"/>
<circle cx="417.7" cy="112.5" r="5.0" fill="rgb(41,49,47)"/>
<circle cx="431.4" cy="112.5" r="4.5" fill="rgb(36,86,47)"/>
<circle cx="443.3" cy="113.3" r="4.7" fill="rgb(45,128,63)"/>
<circle cx="456.5" cy="110.8" r="5.0" fill="rgb(53,154,74)"/>
<circle cx="469.7" cy="112.8" r="4.6" fill="rgb(52,152,73)"/>
<circle cx="481.3" cy="112.5" r="4.7" fill="rgb(47,134,66)"/>
<circle cx="497.2" cy="111.7" r="4.9" fill="rgb(51,147,71)"/>
<circle cx="509.6" cy="112.4" r="4.4" fill="rgb(49,141,69)"/>
<circle cx="523.8" cy="113.6" r="4.6" fill="rgb(45,125,62)"/>
<circle cx="538.0" cy="111.6" r="4.6" fill="rgb(43,118,59)"/>
<circle cx="550.3" cy="113.2" r="5.4" fill="rgb(42,115,58)"/>
<circle cx="566.2" cy="113.0" r="4.6" fill="rgb(41,112,56)"/>
<circle cx="578.2" cy="114.0" r="4.7" fill="rgb(46,129,64)"/>
<circle cx="591.3" cy="112.5" r="5.1" fill="rgb(45,126,62)"/>
<circle cx="603.4" cy="112.3" r="5.0" fill="rgb(30,73,40)"/>
<circle cx="620.1" cy="111.7" r="4.4" fill="rgb(27,42,32)"/>
<circle cx="631.5" cy="111.7" r="4.7" fill="rgb(28,39,33)"/>
<circle cx="645.0" cy="113.3" r="4.8" fill="rgb(31,35,35)"/>
<circle cx="658.1" cy="113.2" r="5.0" fill="rgb(31,33,35)"/>
<circle cx="672.3" cy="113.0" r="4.6" fill="rgb(42,36,46)"/>
<circle cx="686.6" cy="113.2" r="4.4" fill="rgb(34,39,39)"/>
<circle cx="698.2" cy="112.2" r="4.5" fill="rgb(38,38,43)"/>
<circle cx="356.0" cy="121.2" r="4.6" fill="rgb(45,37,49)"/>
<circle cx="369.9" cy="122.8" r="4.6" fill="rgb(35,36,39)"/>
<circle cx="385.3" cy="120.7" r="4.1" fill="rgb(34,36,39)"/>
<circle cx="396.7" cy="122.1" r="4.8" fill="rgb(42,39,46)"/>
<circle cx="408.7" cy="120.6" r="4.8" fill="rgb(39,40,44)"/>
<circle cx="424.7" cy="120.3" r="4.8" fill="rgb(38,73,48)"/>
<circle cx="436.8" cy="120.7" r="5.2" fill="rgb(37,97,51)"/>
<circle cx="451.2" cy="121.0" r="4.7" fill="rgb(51,150,72)"/>
<circle cx="464.4" cy="121.3" r="5.0" fill="rgb(53,154,74)"/>
<circle cx="477.4" cy="121.7" r="4.6" fill="rgb(51,147,71)"/>
<circle cx="490.1" cy="119.9" r="4.4" fill="rgb(44,125,62)"/>
<circle cx="502.6" cy="119.8" r="4.8" fill="rgb(41,113,57)"/>
<circle cx="517.1" cy="121.6" r="5.0" fill="rgb(50,145,70)"/>
<circle cx="531.2" cy="120.5" r="4.6" fill="rgb(49,141,69)"/>
<circle cx="543.4" cy="120.5" r="4.7" fill="rgb(46,130,64)"/>
<circle cx="557.4" cy="120.5" r="4.4" fill="rgb(48,139,68)"/>
<circle cx="569.9" cy="120.6" r="5.0" fill="rgb(44,123,61)"/>
<circle cx="585.5" cy="119.4" r="5.1" fill="rgb(42,116,58)"/>
<circle cx="597.8" cy="119.4" r="4.4" fill="rgb(37,98,51)"/>
<circle cx="611.6" cy="120.4" r="4.6" fill="rgb(28,61,36)"/>
<circle cx="622.9" cy="121.0" r="4.8" fill="rgb(27,41,32)"/>
<circle cx="639.8" cy="121.0" r="4.7" fill="rgb(30,33,34)"/>
<circle cx="652.6" cy="120.8" r="4.8" fill="rgb(34,34,38)"/>
<circle cx="663.1" cy="121.2" r="4.4" fill="rgb(32,35,36)"/>
<circle cx="678.0" cy="119.9" r="4.6" fill="rgb(31,35,35)"/>
<circle cx="692.5" cy="121.1" r="4.8" fill="rgb(38,34,43)"/>
</g>
<circle cx="384.9" cy="24.6" r="1.4" fill="#de66d4"/>
<circle cx="411.9" cy="25.9" r="1.4" fill="#de66d4"/>
<circle cx="451.3" cy="24.9" r="1.4" fill="#de66d4"/>
<circle cx="530.2" cy="19.6" r="1.4" fill="#de66d4"/>
<circle cx="581.9" cy="20.6" r="1.4" fill="#de66d4"/>
<circle cx="600.2" cy="25.3" r="1.4" fill="#de66d4"/>
<circle cx="662.9" cy="21.4" r="1.4" fill="#de66d4"/>
<circle cx="679.3" cy="24.4" r="1.4" fill="#de66d4"/>
<circle cx="692.0" cy="22.4" r="1.4" fill="#de66d4"/>
<circle cx="366.4" cy="31.6" r="1.4" fill="#de66d4"/>
<circle cx="432.1" cy="30.1" r="1.4" fill="#de66d4"/>
<circle cx="487.1" cy="32.5" r="1.4" fill="#de66d4"/>
<circle cx="578.4" cy="32.4" r="1.4" fill="#de66d4"/>
<circle cx="589.3" cy="33.6" r="1.4" fill="#de66d4"/>
<circle cx="617.7" cy="30.4" r="1.4" fill="#de66d4"/>
<circle cx="657.5" cy="31.3" r="1.4" fill="#de66d4"/>
<circle cx="683.3" cy="31.9" r="1.4" fill="#de66d4"/>
<circle cx="399.1" cy="40.0" r="1.4" fill="#de66d4"/>
<circle cx="450.8" cy="38.9" r="1.4" fill="#de66d4"/>
<circle cx="495.2" cy="37.5" r="1.4" fill="#de66d4"/>
<circle cx="505.5" cy="39.3" r="1.4" fill="#de66d4"/>
<circle cx="586.7" cy="40.3" r="1.4" fill="#de66d4"/>
<circle cx="625.0" cy="39.0" r="1.4" fill="#de66d4"/>
<circle cx="636.3" cy="37.6" r="1.4" fill="#de66d4"/>
<circle cx="650.2" cy="38.9" r="1.4" fill="#de66d4"/>
<circle cx="389.9" cy="46.4" r="1.4" fill="#de66d4"/>
<circle cx="499.1" cy="43.5" r="1.4" fill="#de66d4"/>
<circle cx="562.2" cy="49.3" r="1.4" fill="#de66d4"/>
<circle cx="590.4" cy="45.6" r="1.4" fill="#de66d4"/>
<circle cx="607.1" cy="44.7" r="1.4" fill="#de66d4"/>
<circle cx="619.3" cy="44.0" r="1.4" fill="#de66d4"/>
<circle cx="631.9" cy="47.1" r="1.4" fill="#de66d4"/>
<circle cx="644.4" cy="46.1" r="1.4" fill="#de66d4"/>
<circle cx="670.4" cy="47.0" r="1.4" fill="#de66d4"/>
<circle cx="697.7" cy="46.9" r="1.4" fill="#de66d4"/>
<circle cx="353.7" cy="56.7" r="1.4" fill="#de66d4"/>
<circle cx="435.8" cy="56.3" r="1.4" fill="#de66d4"/>
<circle cx="585.2" cy="52.5" r="1.4" fill="#de66d4"/>
<circle cx="599.1" cy="53.7" r="1.4" fill="#de66d4"/>
<circle cx="607.7" cy="55.8" r="1.4" fill="#de66d4"/>
<circle cx="668.8" cy="56.0" r="1.4" fill="#de66d4"/>
<circle cx="677.0" cy="54.0" r="1.4" fill="#de66d4"/>
<circle cx="362.1" cy="65.2" r="1.4" fill="#de66d4"/>
<circle cx="417.5" cy="61.2" r="1.4" fill="#de66d4"/>
<circle cx="433.1" cy="62.1" r="1.4" fill="#de66d4"/>
<circle cx="484.9" cy="65.4" r="1.4" fill="#de66d4"/>
<circle cx="509.6" cy="64.4" r="1.4" fill="#de66d4"/>
<circle cx="523.6" cy="63.3" r="1.4" fill="#de66d4"/>
<circle cx="537.0" cy="63.8" r="1.4" fill="#de66d4"/>
<circle cx="563.0" cy="62.0" r="1.4" fill="#de66d4"/>
<circle cx="575.9" cy="64.7" r="1.4" fill="#de66d4"/>
<circle cx="621.8" cy="62.6" r="1.4" fill="#de66d4"/>
<circle cx="673.3" cy="61.4" r="1.4" fill="#de66d4"/>
<circle cx="696.2" cy="65.5" r="1.4" fill="#de66d4"/>
<circle cx="368.4" cy="69.4" r="1.4" fill="#de66d4"/>
<circle cx="422.9" cy="72.3" r="1.4" fill="#de66d4"/>
<circle cx="479.7" cy="72.2" r="1.4" fill="#de66d4"/>
<circle cx="583.1" cy="71.4" r="1.4" fill="#de66d4"/>
<circle cx="597.4" cy="71.3" r="1.4" fill="#de66d4"/>
<circle cx="625.2" cy="71.4" r="1.4" fill="#de66d4"/>
<circle cx="664.6" cy="73.4" r="1.4" fill="#de66d4"/>
<circle cx="691.4" cy="71.7" r="1.4" fill="#de66d4"/>
<circle cx="405.5" cy="78.1" r="1.4" fill="#de66d4"/>
<circle cx="589.1" cy="80.6" r="1.4" fill="#de66d4"/>
<circle cx="629.8" cy="81.3" r="1.4" fill="#de66d4"/>
<circle cx="660.7" cy="79.7" r="1.4" fill="#de66d4"/>
<circle cx="667.8" cy="77.9" r="1.4" fill="#de66d4"/>
<circle cx="681.6" cy="79.5" r="1.4" fill="#de66d4"/>
<circle cx="699.2" cy="82.8" r="1.4" fill="#de66d4"/>
<circle cx="375.9" cy="88.2" r="1.4" fill="#de66d4"/>
<circle cx="383.0" cy="88.2" r="1.4" fill="#de66d4"/>
<circle cx="409.3" cy="85.6" r="1.4" fill="#de66d4"/>
<circle cx="425.1" cy="90.0" r="1.4" fill="#de66d4"/>
<circle cx="436.5" cy="89.4" r="1.4" fill="#de66d4"/>
<circle cx="544.7" cy="87.9" r="1.4" fill="#de66d4"/>
<circle cx="586.3" cy="88.0" r="1.4" fill="#de66d4"/>
<circle cx="612.5" cy="90.2" r="1.4" fill="#de66d4"/>
<circle cx="653.6" cy="88.2" r="1.4" fill="#de66d4"/>
<circle cx="665.5" cy="87.2" r="1.4" fill="#de66d4"/>
<circle cx="679.6" cy="86.5" r="1.4" fill="#de66d4"/>
<circle cx="362.7" cy="97.5" r="1.4" fill="#de66d4"/>
<circle cx="390.4" cy="92.1" r="1.4" fill="#de66d4"/>
<circle cx="403.3" cy="94.5" r="1.4" fill="#de66d4"/>
<circle cx="430.1" cy="95.6" r="1.4" fill="#de66d4"/>
<circle cx="575.8" cy="98.4" r="1.4" fill="#de66d4"/>
<circle cx="603.0" cy="95.0" r="1.4" fill="#de66d4"/>
<circle cx="617.2" cy="97.0" r="1.4" fill="#de66d4"/>
<circle cx="661.7" cy="96.7" r="1.4" fill="#de66d4"/>
<circle cx="671.4" cy="95.0" r="1.4" fill="#de66d4"/>
<circle cx="685.4" cy="94.8" r="1.4" fill="#de66d4"/>
<circle cx="701.7" cy="97.4" r="1.4" fill="#de66d4"/>
<circle cx="360.9" cy="102.2" r="1.4" fill="#de66d4"/>
<circle cx="397.3" cy="105.8" r="1.4" fill="#de66d4"/>
<circle cx="410.7" cy="105.1" r="1.4" fill="#de66d4"/>
<circle cx="463.1" cy="105.2" r="1.4" fill="#de66d4"/>
<circle cx="568.4" cy="103.3" r="1.4" fill="#de66d4"/>
<circle cx="624.4" cy="102.4" r="1.4" fill="#de66d4"/>
<circle cx="639.8" cy="106.8" r="1.4" fill="#de66d4"/>
<circle cx="418.4" cy="112.3" r="1.4" fill="#de66d4"/>
<circle cx="468.3" cy="112.5" r="1.4" fill="#de66d4"/>
<circle cx="581.6" cy="115.9" r="1.4" fill="#de66d4"/>
<circle cx="601.4" cy="112.9" r="1.4" fill="#de66d4"/>
<circle cx="619.6" cy="111.9" r="1.4" fill="#de66d4"/>
<circle cx="633.2" cy="108.7" r="1.4" fill="#de66d4"/>
<circle cx="645.7" cy="114.8" r="1.4" fill="#de66d4"/>
<circle cx="671.4" cy="110.6" r="1.4" fill="#de66d4"/>
<circle cx="387.7" cy="121.0" r="1.4" fill="#de66d4"/>
<circle cx="406.4" cy="121.9" r="1.4" fill="#de66d4"/>
<circle cx="503.3" cy="115.4" r="1.4" fill="#de66d4"/>
<circle cx="556.7" cy="123.1" r="1.4" fill="#de66d4"/>
<circle cx="598.7" cy="119.8" r="1.4" fill="#de66d4"/>
<circle cx="610.4" cy="121.7" r="1.4" fill="#de66d4"/>
<circle cx="661.1" cy="121.8" r="1.4" fill="#de66d4"/>
<circle cx="675.0" cy="119.6" r="1.4" fill="#de66d4"/>
</g>
<rect x="359.8" y="138" width="324.2" height="94.5" fill="#0a160e"/>
<g clip-path="url(#mc2)"><g filter="url(#mblur)">
<circle cx="357.0" cy="141.1" r="4.8" fill="rgb(46,31,49)"/>
<circle cx="369.8" cy="139.8" r="4.4" fill="rgb(55,33,59)"/>
<circle cx="385.2" cy="142.3" r="5.0" fill="rgb(42,29,46)"/>
<circle cx="396.7" cy="142.0" r="5.3" fill="rgb(45,29,49)"/>
<circle cx="410.7" cy="141.1" r="4.9" fill="rgb(36,30,39)"/>
<circle cx="424.7" cy="141.3" r="4.8" fill="rgb(30,38,35)"/>
<circle cx="436.9" cy="140.9" r="4.6" fill="rgb(33,58,41)"/>
<circle cx="451.0" cy="141.4" r="4.7" fill="rgb(39,60,46)"/>
<circle cx="464.5" cy="141.1" r="5.1" fill="rgb(33,56,41)"/>
<circle cx="477.5" cy="140.9" r="4.5" fill="rgb(34,56,41)"/>
<circle cx="491.6" cy="141.6" r="4.5" fill="rgb(38,63,46)"/>
<circle cx="504.5" cy="141.8" r="5.0" fill="rgb(40,60,48)"/>
<circle cx="516.7" cy="142.0" r="4.9" fill="rgb(33,58,41)"/>
<circle cx="532.9" cy="140.4" r="4.5" fill="rgb(33,55,40)"/>
<circle cx="542.8" cy="140.4" r="4.8" fill="rgb(38,67,47)"/>
<circle cx="558.6" cy="141.6" r="5.0" fill="rgb(39,62,47)"/>
<circle cx="572.2" cy="142.0" r="4.7" fill="rgb(36,55,43)"/>
<circle cx="584.8" cy="141.7" r="4.4" fill="rgb(30,44,35)"/>
<circle cx="597.8" cy="142.1" r="4.5" fill="rgb(31,35,35)"/>
<circle cx="610.4" cy="141.2" r="4.1" fill="rgb(35,30,39)"/>
<circle cx="625.0" cy="142.8" r="4.5" fill="rgb(33,29,37)"/>
<circle cx="637.5" cy="140.7" r="4.2" fill="rgb(32,30,35)"/>
<circle cx="651.1" cy="142.2" r="4.6" fill="rgb(34,31,38)"/>
<circle cx="664.8" cy="142.4" r="5.0" fill="rgb(38,30,41)"/>
<circle cx="676.7" cy="142.3" r="4.6" fill="rgb(32,32,36)"/>
<circle cx="692.7" cy="140.5" r="4.8" fill="rgb(46,31,49)"/>
<circle cx="363.6" cy="150.6" r="4.6" fill="rgb(42,30,45)"/>
<circle cx="377.0" cy="150.4" r="4.8" fill="rgb(42,31,46)"/>
<circle cx="392.4" cy="149.9" r="5.0" fill="rgb(42,29,46)"/>
<circle cx="403.4" cy="149.2" r="4.3" fill="rgb(37,32,41)"/>
<circle cx="417.7" cy="149.6" r="5.2" fill="rgb(34,31,38)"/>
<circle cx="430.3" cy="149.6" r="4.9" fill="rgb(33,50,39)"/>
<circle cx="444.5" cy="149.0" r="4.8" fill="rgb(38,63,46)"/>
<circle cx="455.9" cy="148.0" r="5.0" fill="rgb(41,64,50)"/>
<circle cx="471.8" cy="149.8" r="4.9" fill="rgb(41,69,50)"/>
<circle cx="485.5" cy="149.7" r="4.8" fill="rgb(39,66,48)"/>
<circle cx="496.8" cy="150.0" r="4.5" fill="rgb(40,59,48)"/>
<circle cx="510.8" cy="148.8" r="4.5" fill="rgb(38,59,46)"/>
<circle cx="523.5" cy="150.9" r="4.3" fill="rgb(35,55,42)"/>
<circle cx="538.0" cy="150.0" r="4.2" fill="rgb(36,55,43)"/>
<circle cx="550.9" cy="149.2" r="4.3" fill="rgb(38,57,45)"/>
<circle cx="565.3" cy="149.6" r="4.7" fill="rgb(39,61,47)"/>
<circle cx="577.2" cy="149.6" r="4.7" fill="rgb(32,44,37)"/>
<circle cx="590.5" cy="149.8" r="4.7" fill="rgb(28,39,33)"/>
<circle cx="605.7" cy="149.1" r="4.9" fill="rgb(32,31,36)"/>
<circle cx="619.4" cy="149.2" r="4.8" fill="rgb(37,32,40)"/>
<circle cx="631.6" cy="149.1" r="4.6" fill="rgb(45,33,49)"/>
<circle cx="644.7" cy="149.7" r="4.6" fill="rgb(30,28,33)"/>
<circle cx="657.9" cy="149.2" r="4.7" fill="rgb(35,31,39)"/>
<circle cx="671.1" cy="149.1" r="4.7" fill="rgb(38,32,42)"/>
<circle cx="683.7" cy="149.5" r="4.5" fill="rgb(43,33,47)"/>
<circle cx="698.9" cy="150.3" r="4.6" fill="rgb(42,29,45)"/>
<circle cx="357.4" cy="159.6" r="4.6" fill="rgb(43,30,47)"/>
<circle cx="370.5" cy="157.6" r="5.0" fill="rgb(41,32,44)"/>
<circle cx="385.3" cy="157.2" r="4.4" fill="rgb(47,30,51)"/>
<circle cx="397.9" cy="157.2" r="4.8" fill="rgb(51,29,55)"/>
<circle cx="410.7" cy="156.5" r="4.6" fill="rgb(41,29,45)"/>
<circle cx="424.6" cy="157.8" r="4.3" fill="rgb(36,43,41)"/>
<circle cx="436.3" cy="159.1" r="4.8" fill="rgb(39,59,46)"/>
<circle cx="451.3" cy="157.9" r="4.4" fill="rgb(39,59,47)"/>
<circle cx="463.3" cy="157.9" r="4.8" fill="rgb(41,66,50)"/>
<circle cx="477.3" cy="158.4" r="4.8" fill="rgb(38,59,45)"/>
<circle cx="491.5" cy="157.4" r="4.6" fill="rgb(35,59,42)"/>
<circle cx="503.7" cy="157.5" r="4.9" fill="rgb(35,55,42)"/>
<circle cx="516.4" cy="157.5" r="4.8" fill="rgb(36,69,45)"/>
<circle cx="530.9" cy="158.4" r="4.7" fill="rgb(39,56,47)"/>
<circle cx="545.6" cy="157.3" r="4.3" fill="rgb(40,68,49)"/>
<circle cx="558.3" cy="157.6" r="5.3" fill="rgb(34,58,42)"/>
<circle cx="573.1" cy="157.9" r="5.1" fill="rgb(35,55,42)"/>
<circle cx="585.1" cy="157.2" r="4.7" fill="rgb(31,46,36)"/>
<circle cx="597.3" cy="158.0" r="4.7" fill="rgb(30,35,35)"/>
<circle cx="611.1" cy="158.1" r="4.6" fill="rgb(35,32,39)"/>
<circle cx="623.4" cy="158.4" r="5.0" fill="rgb(37,31,41)"/>
<circle cx="637.4" cy="159.1" r="4.7" fill="rgb(38,30,42)"/>
<circle cx="651.3" cy="158.7" r="4.7" fill="rgb(46,32,49)"/>
<circle cx="663.7" cy="158.2" r="4.2" fill="rgb(46,32,50)"/>
<circle cx="677.6" cy="157.6" r="5.0" fill="rgb(34,32,38)"/>
<circle cx="691.8" cy="157.7" r="4.8" fill="rgb(44,30,48)"/>
<circle cx="363.7" cy="166.6" r="4.9" fill="rgb(54,31,58)"/>
<circle cx="377.5" cy="166.0" r="4.8" fill="rgb(44,30,47)"/>
<circle cx="389.1" cy="165.5" r="4.5" fill="rgb(52,30,56)"/>
<circle cx="403.5" cy="164.6" r="4.5" fill="rgb(42,29,45)"/>
<circle cx="417.8" cy="165.9" r="4.5" fill="rgb(34,33,38)"/>
<circle cx="430.3" cy="166.8" r="4.9" fill="rgb(32,45,37)"/>
<circle cx="444.5" cy="166.3" r="4.5" fill="rgb(40,58,47)"/>
<circle cx="456.4" cy="166.3" r="4.5" fill="rgb(41,62,49)"/>
<circle cx="471.0" cy="165.5" r="5.3" fill="rgb(36,57,44)"/>
<circle cx="485.0" cy="166.5" r="4.6" fill="rgb(38,57,45)"/>
<circle cx="495.7" cy="166.2" r="5.1" fill="rgb(38,61,46)"/>
<circle cx="509.8" cy="166.9" r="4.8" fill="rgb(33,56,41)"/>
<circle cx="525.0" cy="165.3" r="5.0" fill="rgb(40,67,49)"/>
<circle cx="536.9" cy="166.2" r="4.3" fill="rgb(37,58,44)"/>
<circle cx="550.9" cy="167.2" r="5.3" fill="rgb(36,55,43)"/>
<circle cx="565.2" cy="165.9" r="4.9" fill="rgb(34,55,41)"/>
<circle cx="578.4" cy="164.7" r="4.5" fill="rgb(33,42,38)"/>
<circle cx="591.6" cy="166.7" r="4.7" fill="rgb(35,34,39)"/>
<circle cx="604.5" cy="165.6" r="5.1" fill="rgb(32,31,35)"/>
<circle cx="618.6" cy="167.5" r="4.4" fill="rgb(34,33,37)"/>
<circle cx="631.7" cy="165.3" r="4.7" fill="rgb(31,32,35)"/>
<circle cx="646.2" cy="164.8" r="4.9" fill="rgb(31,30,35)"/>
<circle cx="658.8" cy="165.7" r="4.5" fill="rgb(41,33,45)"/>
<circle cx="672.5" cy="165.5" r="4.8" fill="rgb(32,29,36)"/>
<circle cx="686.3" cy="166.3" r="4.4" fill="rgb(34,29,37)"/>
<circle cx="696.9" cy="164.7" r="4.4" fill="rgb(41,32,45)"/>
<circle cx="356.5" cy="175.2" r="4.5" fill="rgb(44,32,47)"/>
<circle cx="370.3" cy="174.3" r="4.7" fill="rgb(50,29,54)"/>
<circle cx="383.4" cy="174.8" r="4.7" fill="rgb(45,32,49)"/>
<circle cx="397.3" cy="174.5" r="5.0" fill="rgb(46,32,50)"/>
<circle cx="409.5" cy="175.1" r="4.6" fill="rgb(34,32,38)"/>
<circle cx="425.0" cy="173.4" r="5.0" fill="rgb(36,37,40)"/>
<circle cx="439.3" cy="174.8" r="4.9" fill="rgb(34,59,42)"/>
<circle cx="450.2" cy="173.0" r="4.5" fill="rgb(37,66,46)"/>
<circle cx="464.6" cy="174.7" r="4.7" fill="rgb(39,59,46)"/>
<circle cx="476.9" cy="173.0" r="4.5" fill="rgb(33,61,41)"/>
<circle cx="491.8" cy="173.9" r="4.4" fill="rgb(35,62,43)"/>
<circle cx="503.8" cy="176.3" r="4.8" fill="rgb(34,60,42)"/>
<circle cx="519.5" cy="175.0" r="4.8" fill="rgb(36,63,44)"/>
<circle cx="530.6" cy="174.8" r="4.3" fill="rgb(34,54,41)"/>
<circle cx="542.3" cy="174.4" r="4.9" fill="rgb(35,58,43)"/>
<circle cx="557.1" cy="173.4" r="5.1" fill="rgb(41,62,49)"/>
<circle cx="569.8" cy="174.7" r="4.6" fill="rgb(36,59,44)"/>
<circle cx="584.7" cy="174.4" r="4.9" fill="rgb(29,47,35)"/>
<circle cx="598.8" cy="173.7" r="4.9" fill="rgb(29,35,34)"/>
<circle cx="610.3" cy="173.1" r="4.6" fill="rgb(28,31,32)"/>
<circle cx="624.5" cy="174.8" r="4.8" fill="rgb(40,29,43)"/>
<circle cx="638.1" cy="174.7" r="4.8" fill="rgb(40,32,44)"/>
<circle cx="650.5" cy="174.0" r="4.7" fill="rgb(36,29,40)"/>
<circle cx="664.3" cy="173.4" r="4.6" fill="rgb(39,32,43)"/>
<circle cx="680.1" cy="174.9" r="4.2" fill="rgb(47,32,51)"/>
<circle cx="691.1" cy="173.8" r="4.4" fill="rgb(38,30,42)"/>
<circle cx="363.4" cy="181.5" r="4.6" fill="rgb(43,29,46)"/>
<circle cx="377.3" cy="181.6" r="4.7" fill="rgb(35,32,39)"/>
<circle cx="390.0" cy="181.8" r="4.5" fill="rgb(53,28,56)"/>
<circle cx="403.3" cy="181.6" r="4.8" fill="rgb(40,29,43)"/>
<circle cx="415.7" cy="181.8" r="4.8" fill="rgb(44,31,48)"/>
<circle cx="429.9" cy="182.3" r="4.6" fill="rgb(35,43,41)"/>
<circle cx="444.0" cy="183.6" r="4.7" fill="rgb(36,66,44)"/>
<circle cx="458.0" cy="182.3" r="4.7" fill="rgb(35,64,43)"/>
<circle cx="471.4" cy="182.0" r="4.6" fill="rgb(39,65,48)"/>
<circle cx="485.4" cy="182.9" r="4.6" fill="rgb(37,67,45)"/>
<circle cx="496.3" cy="183.0" r="5.0" fill="rgb(39,58,47)"/>
<circle cx="511.6" cy="180.6" r="4.6" fill="rgb(39,65,47)"/>
<circle cx="523.6" cy="182.2" r="5.1" fill="rgb(38,58,45)"/>
<circle cx="536.0" cy="181.8" r="4.6" fill="rgb(41,63,50)"/>
<circle cx="550.2" cy="182.9" r="4.3" fill="rgb(39,57,46)"/>
<circle cx="564.8" cy="184.3" r="4.9" fill="rgb(34,55,42)"/>
<circle cx="577.5" cy="183.3" r="4.7" fill="rgb(37,47,43)"/>
<circle cx="591.4" cy="182.7" r="4.0" fill="rgb(33,35,37)"/>
<circle cx="603.7" cy="181.2" r="4.4" fill="rgb(31,34,35)"/>
<circle cx="617.4" cy="183.0" r="4.2" fill="rgb(32,31,35)"/>
<circle cx="632.9" cy="182.9" r="4.7" fill="rgb(31,32,35)"/>
<circle cx="645.3" cy="181.9" r="4.5" fill="rgb(35,30,39)"/>
<circle cx="659.7" cy="183.4" r="4.5" fill="rgb(43,29,46)"/>
<circle cx="671.2" cy="182.5" r="4.5" fill="rgb(46,31,50)"/>
<circle cx="684.2" cy="183.5" r="4.9" fill="rgb(33,30,37)"/>
<circle cx="698.9" cy="182.4" r="4.5" fill="rgb(43,31,46)"/>
<circle cx="357.2" cy="191.0" r="4.3" fill="rgb(50,32,53)"/>
<circle cx="369.8" cy="189.8" r="5.2" fill="rgb(43,32,47)"/>
<circle cx="382.4" cy="189.5" r="4.9" fill="rgb(43,33,47)"/>
<circle cx="397.4" cy="192.3" r="4.9" fill="rgb(45,32,49)"/>
<circle cx="408.9" cy="190.8" r="4.6" fill="rgb(52,32,56)"/>
<circle cx="424.2" cy="190.0" r="4.7" fill="rgb(36,43,42)"/>
<circle cx="437.4" cy="189.9" r="4.6" fill="rgb(33,49,39)"/>
<circle cx="451.7" cy="190.3" r="4.6" fill="rgb(34,62,42)"/>
<circle cx="464.1" cy="191.2" r="4.8" fill="rgb(39,58,47)"/>
<circle cx="477.0" cy="189.4" r="4.9" fill="rgb(37,55,44)"/>
<circle cx="490.3" cy="191.2" r="4.1" fill="rgb(34,64,42)"/>
<circle cx="504.1" cy="190.9" r="4.5" fill="rgb(38,56,45)"/>
<circle cx="516.6" cy="190.8" r="4.3" fill="rgb(34,64,43)"/>
<circle cx="531.7" cy="190.7" r="4.3" fill="rgb(37,55,45)"/>
<circle cx="546.1" cy="190.6" r="4.8" fill="rgb(39,60,46)"/>
<circle cx="556.9" cy="189.6" r="4.7" fill="rgb(33,59,41)"/>
<circle cx="572.2" cy="190.7" r="4.7" fill="rgb(34,49,40)"/>
<circle cx="585.5" cy="191.0" r="4.2" fill="rgb(35,40,40)"/>
<circle cx="599.5" cy="191.6" r="4.7" fill="rgb(33,34,37)"/>
<circle cx="611.1" cy="190.9" r="4.3" fill="rgb(39,29,42)"/>
<circle cx="625.8" cy="189.8" r="4.4" fill="rgb(35,31,39)"/>
<circle cx="639.5" cy="191.5" r="4.9" fill="rgb(32,29,35)"/>
<circle cx="652.5" cy="190.6" r="4.9" fill="rgb(43,29,46)"/>
<circle cx="665.3" cy="189.9" r="4.6" fill="rgb(33,29,36)"/>
<circle cx="678.5" cy="190.3" r="4.7" fill="rgb(40,29,43)"/>
<circle cx="691.9" cy="190.4" r="4.5" fill="rgb(44,31,48)"/>
<circle cx="363.8" cy="199.7" r="5.0" fill="rgb(39,29,43)"/>
<circle cx="375.7" cy="199.5" r="4.5" fill="rgb(35,30,38)"/>
<circle cx="388.5" cy="197.4" r="4.4" fill="rgb(43,32,47)"/>
<circle cx="403.6" cy="198.9" r="4.6" fill="rgb(35,31,39)"/>
<circle cx="417.5" cy="197.7" r="4.8" fill="rgb(38,34,42)"/>
<circle cx="430.4" cy="199.0" r="4.6" fill="rgb(31,44,37)"/>
<circle cx="445.0" cy="198.8" r="4.7" fill="rgb(40,66,48)"/>
<circle cx="457.8" cy="198.2" r="4.9" fill="rgb(39,55,46)"/>
<circle cx="470.5" cy="198.6" r="4.4" fill="rgb(33,60,41)"/>
<circle cx="484.7" cy="198.2" r="4.5" fill="rgb(37,53,44)"/>
<circle cx="496.7" cy="199.3" r="4.7" fill="rgb(39,61,47)"/>
<circle cx="512.5" cy="199.2" r="4.5" fill="rgb(37,57,44)"/>
<circle cx="524.6" cy="198.7" r="4.6" fill="rgb(34,63,42)"/>
<circle cx="538.7" cy="199.3" r="5.0" fill="rgb(37,57,45)"/>
<circle cx="552.7" cy="199.1" r="4.0" fill="rgb(35,55,42)"/>
<circle cx="563.6" cy="198.5" r="4.5" fill="rgb(39,64,48)"/>
<circle cx="577.0" cy="198.0" r="4.9" fill="rgb(34,50,41)"/>
<circle cx="592.4" cy="199.5" r="4.4" fill="rgb(32,35,36)"/>
<circle cx="603.6" cy="200.1" r="4.4" fill="rgb(30,31,33)"/>
<circle cx="618.3" cy="198.2" r="4.5" fill="rgb(32,32,36)"/>
<circle cx="631.8" cy="198.9" r="4.5" fill="rgb(44,32,47)"/>
<circle cx="644.2" cy="197.5" r="4.5" fill="rgb(41,29,45)"/>
<circle cx="658.3" cy="199.1" r="4.9" fill="rgb(44,30,47)"/>
<circle cx="669.4" cy="199.3" r="4.9" fill="rgb(43,32,46)"/>
<circle cx="685.7" cy="198.6" r="4.3" fill="rgb(32,30,36)"/>
<circle cx="698.6" cy="198.7" r="4.7" fill="rgb(42,30,45)"/>
<circle cx="356.0" cy="206.8" r="4.8" fill="rgb(48,32,52)"/>
<circle cx="371.4" cy="206.1" r="5.0" fill="rgb(44,32,47)"/>
<circle cx="383.8" cy="207.2" r="4.3" fill="rgb(45,30,48)"/>
<circle cx="396.4" cy="206.8" r="5.0" fill="rgb(54,29,58)"/>
<circle cx="409.1" cy="206.5" r="4.6" fill="rgb(33,30,37)"/>
<circle cx="423.8" cy="207.3" r="4.6" fill="rgb(43,39,47)"/>
<circle cx="436.4" cy="209.2" r="4.5" fill="rgb(40,56,47)"/>
<circle cx="450.1" cy="207.2" r="4.9" fill="rgb(40,62,48)"/>
<circle cx="463.8" cy="206.8" r="4.5" fill="rgb(33,53,40)"/>
<circle cx="478.6" cy="206.8" r="4.2" fill="rgb(32,54,39)"/>
<circle cx="492.0" cy="207.9" r="5.1" fill="rgb(38,67,47)"/>
<circle cx="503.3" cy="207.8" r="4.7" fill="rgb(42,69,51)"/>
<circle cx="517.0" cy="209.0" r="4.8" fill="rgb(35,64,43)"/>
<circle cx="530.7" cy="206.4" r="4.5" fill="rgb(41,65,50)"/>
<circle cx="542.7" cy="206.2" r="5.1" fill="rgb(33,54,39)"/>
<circle cx="557.3" cy="206.4" r="4.4" fill="rgb(41,64,49)"/>
<circle cx="570.1" cy="206.6" r="4.9" fill="rgb(34,57,41)"/>
<circle cx="584.4" cy="208.1" r="4.8" fill="rgb(32,42,37)"/>
<circle cx="596.5" cy="206.7" r="4.6" fill="rgb(27,33,31)"/>
<circle cx="610.5" cy="206.0" r="4.8" fill="rgb(40,30,43)"/>
<circle cx="623.7" cy="206.5" r="4.6" fill="rgb(31,29,34)"/>
<circle cx="638.8" cy="207.0" r="4.8" fill="rgb(33,32,37)"/>
<circle cx="651.1" cy="207.5" r="5.0" fill="rgb(46,33,49)"/>
<circle cx="665.3" cy="206.9" r="5.0" fill="rgb(44,31,48)"/>
<circle cx="678.7" cy="206.5" r="4.6" fill="rgb(36,28,39)"/>
<circle cx="692.4" cy="207.4" r="4.4" fill="rgb(46,30,49)"/>
<circle cx="363.1" cy="214.4" r="4.3" fill="rgb(51,33,55)"/>
<circle cx="378.3" cy="215.4" r="4.3" fill="rgb(54,30,57)"/>
<circle cx="393.0" cy="214.8" r="4.7" fill="rgb(39,32,43)"/>
<circle cx="404.5" cy="215.0" r="4.5" fill="rgb(53,30,56)"/>
<circle cx="417.3" cy="215.9" r="4.7" fill="rgb(39,33,43)"/>
<circle cx="429.8" cy="215.2" r="4.3" fill="rgb(34,48,40)"/>
<circle cx="444.0" cy="215.4" r="5.0" fill="rgb(41,65,50)"/>
<circle cx="457.8" cy="216.0" r="4.7" fill="rgb(39,58,47)"/>
<circle cx="471.5" cy="215.5" r="4.6" fill="rgb(40,65,49)"/>
<circle cx="483.8" cy="214.5" r="4.6" fill="rgb(33,54,39)"/>
<circle cx="496.8" cy="214.9" r="4.9" fill="rgb(40,63,49)"/>
<circle cx="511.5" cy="215.0" r="4.9" fill="rgb(41,64,49)"/>
<circle cx="523.2" cy="215.7" r="5.2" fill="rgb(39,57,46)"/>
<circle cx="537.0" cy="214.8" r="4.4" fill="rgb(35,55,42)"/>
<circle cx="550.9" cy="215.6" r="4.7" fill="rgb(40,62,48)"/>
<circle cx="562.3" cy="214.5" r="4.9" fill="rgb(36,51,43)"/>
<circle cx="578.1" cy="215.0" r="4.6" fill="rgb(30,47,36)"/>
<circle cx="590.5" cy="214.9" r="4.6" fill="rgb(28,38,32)"/>
<circle cx="605.9" cy="215.0" r="5.0" fill="rgb(30,31,34)"/>
<circle cx="618.7" cy="215.9" r="5.2" fill="rgb(40,28,43)"/>
<circle cx="631.1" cy="215.6" r="4.9" fill="rgb(38,29,42)"/>
<circle cx="644.5" cy="214.9" r="4.6" fill="rgb(41,32,45)"/>
<circle cx="657.3" cy="215.9" r="4.5" fill="rgb(35,30,38)"/>
<circle cx="671.3" cy="214.9" r="4.6" fill="rgb(41,33,45)"/>
<circle cx="684.1" cy="216.6" r="5.2" fill="rgb(42,29,46)"/>
<circle cx="699.2" cy="215.2" r="5.0" fill="rgb(31,30,34)"/>
<circle cx="356.2" cy="222.4" r="4.3" fill="rgb(38,29,42)"/>
<circle cx="370.5" cy="223.7" r="5.0" fill="rgb(51,30,55)"/>
<circle cx="382.3" cy="224.3" r="4.7" fill="rgb(38,29,42)"/>
<circle cx="397.7" cy="222.8" r="4.7" fill="rgb(53,32,57)"/>
<circle cx="409.9" cy="223.2" r="4.8" fill="rgb(44,28,47)"/>
<circle cx="423.9" cy="223.4" r="4.3" fill="rgb(33,36,38)"/>
<circle cx="435.7" cy="224.5" r="4.4" fill="rgb(37,53,44)"/>
<circle cx="450.9" cy="224.4" r="4.6" fill="rgb(39,62,47)"/>
<circle cx="465.1" cy="223.4" r="4.4" fill="rgb(36,64,45)"/>
<circle cx="477.7" cy="224.0" r="4.7" fill="rgb(39,65,48)"/>
<circle cx="491.5" cy="223.4" r="4.8" fill="rgb(32,58,40)"/>
<circle cx="503.6" cy="223.5" r="4.5" fill="rgb(37,55,45)"/>
<circle cx="516.9" cy="223.1" r="4.6" fill="rgb(32,54,39)"/>
<circle cx="529.2" cy="223.6" r="4.6" fill="rgb(35,66,43)"/>
<circle cx="543.5" cy="223.1" r="4.4" fill="rgb(37,62,46)"/>
<circle cx="557.8" cy="223.7" r="4.3" fill="rgb(34,60,42)"/>
<circle cx="572.9" cy="223.6" r="4.8" fill="rgb(33,55,40)"/>
<circle cx="583.3" cy="223.6" r="4.7" fill="rgb(29,41,34)"/>
<circle cx="597.5" cy="223.8" r="4.8" fill="rgb(32,32,36)"/>
<circle cx="610.8" cy="223.0" r="5.1" fill="rgb(39,31,43)"/>
<circle cx="624.3" cy="223.1" r="4.6" fill="rgb(39,29,43)"/>
<circle cx="636.6" cy="223.0" r="4.9" fill="rgb(43,29,47)"/>
<circle cx="651.6" cy="224.3" r="4.8" fill="rgb(37,30,41)"/>
<circle cx="664.7" cy="223.2" r="4.7" fill="rgb(37,32,41)"/>
<circle cx="678.9" cy="223.9" r="4.1" fill="rgb(32,28,35)"/>
<circle cx="693.2" cy="223.9" r="5.0" fill="rgb(38,30,42)"/>
<circle cx="363.5" cy="232.6" r="4.4" fill="rgb(38,31,41)"/>
<circle cx="378.3" cy="231.4" r="4.8" fill="rgb(41,29,44)"/>
<circle cx="390.4" cy="230.5" r="4.5" fill="rgb(51,31,55)"/>
<circle cx="403.4" cy="231.1" r="4.7" fill="rgb(41,29,44)"/>
<circle cx="416.9" cy="231.4" r="5.0" fill="rgb(41,31,45)"/>
<circle cx="430.4" cy="231.6" r="5.3" fill="rgb(35,47,41)"/>
<circle cx="444.3" cy="231.9" r="4.9" fill="rgb(35,59,43)"/>
<circle cx="456.8" cy="230.8" r="5.0" fill="rgb(38,67,46)"/>
<circle cx="471.8" cy="232.7" r="4.8" fill="rgb(38,67,47)"/>
<circle cx="483.7" cy="232.1" r="4.6" fill="rgb(39,61,47)"/>
<circle cx="496.1" cy="230.6" r="5.1" fill="rgb(38,53,44)"/>
<circle cx="510.7" cy="232.7" r="4.3" fill="rgb(37,56,45)"/>
<circle cx="523.4" cy="231.1" r="4.7" fill="rgb(34,61,42)"/>
<circle cx="539.1" cy="230.4" r="4.9" fill="rgb(34,61,42)"/>
<circle cx="551.7" cy="232.0" r="4.4" fill="rgb(32,53,39)"/>
<circle cx="564.3" cy="231.8" r="4.9" fill="rgb(36,53,42)"/>
<circle cx="580.3" cy="230.9" r="5.0" fill="rgb(33,48,39)"/>
<circle cx="591.0" cy="231.5" r="5.0" fill="rgb(33,39,38)"/>
<circle cx="604.1" cy="230.8" r="5.0" fill="rgb(35,32,39)"/>
<circle cx="619.5" cy="231.9" r="4.2" fill="rgb(31,31,35)"/>
<circle cx="629.9" cy="231.2" r="4.8" fill="rgb(33,31,36)"/>
<circle cx="645.3" cy="232.0" r="5.2" fill="rgb(32,30,35)"/>
<circle cx="657.0" cy="231.6" r="4.8" fill="rgb(39,31,43)"/>
<circle cx="671.9" cy="232.0" r="4.5" fill="rgb(42,29,45)"/>
<circle cx="685.5" cy="230.4" r="4.8" fill="rgb(42,28,45)"/>
<circle cx="700.2" cy="231.8" r="4.8" fill="rgb(39,31,43)"/>
<circle cx="358.4" cy="241.9" r="4.6" fill="rgb(42,32,46)"/>
<circle cx="370.1" cy="239.0" r="4.6" fill="rgb(45,29,48)"/>
<circle cx="384.4" cy="239.8" r="4.8" fill="rgb(42,30,45)"/>
<circle cx="396.6" cy="239.2" r="4.9" fill="rgb(52,31,55)"/>
<circle cx="411.9" cy="239.6" r="4.5" fill="rgb(49,30,53)"/>
<circle cx="422.5" cy="239.6" r="4.2" fill="rgb(32,34,37)"/>
<circle cx="436.2" cy="240.0" r="4.6" fill="rgb(37,52,44)"/>
<circle cx="450.2" cy="239.2" r="4.7" fill="rgb(36,68,45)"/>
<circle cx="464.5" cy="239.4" r="4.8" fill="rgb(35,56,42)"/>
<circle cx="478.1" cy="240.8" r="5.2" fill="rgb(37,58,44)"/>
<circle cx="490.5" cy="239.4" r="4.6" fill="rgb(35,54,42)"/>
<circle cx="504.4" cy="240.5" r="5.0" fill="rgb(34,53,41)"/>
<circle cx="517.6" cy="240.0" r="4.8" fill="rgb(38,66,47)"/>
<circle cx="531.0" cy="240.1" r="4.8" fill="rgb(39,57,46)"/>
<circle cx="545.0" cy="239.4" r="4.6" fill="rgb(34,62,42)"/>
<circle cx="557.4" cy="239.9" r="4.7" fill="rgb(32,53,38)"/>
<circle cx="570.6" cy="240.0" r="4.9" fill="rgb(30,47,36)"/>
<circle cx="585.1" cy="239.9" r="4.5" fill="rgb(30,45,36)"/>
<circle cx="597.5" cy="239.4" r="4.6" fill="rgb(30,32,34)"/>
<circle cx="613.0" cy="240.5" r="4.6" fill="rgb(35,32,39)"/>
<circle cx="623.8" cy="239.3" r="4.7" fill="rgb(32,29,35)"/>
<circle cx="639.9" cy="241.0" r="4.5" fill="rgb(45,31,48)"/>
<circle cx="651.7" cy="240.7" r="4.4" fill="rgb(44,32,48)"/>
<circle cx="663.7" cy="239.9" r="4.2" fill="rgb(32,31,35)"/>
<circle cx="679.1" cy="238.6" r="4.6" fill="rgb(41,29,45)"/>
<circle cx="691.1" cy="240.4" r="4.7" fill="rgb(34,29,38)"/>
</g>
<circle cx="437.0" cy="141.8" r="1.4" fill="#de66d4"/>
<circle cx="448.6" cy="142.4" r="1.4" fill="#de66d4"/>
<circle cx="494.5" cy="140.3" r="1.4" fill="#de66d4"/>
<circle cx="516.9" cy="142.3" r="1.4" fill="#de66d4"/>
<circle cx="558.7" cy="140.4" r="1.4" fill="#de66d4"/>
<circle cx="570.3" cy="138.8" r="1.4" fill="#de66d4"/>
<circle cx="583.8" cy="143.1" r="1.4" fill="#de66d4"/>
<circle cx="677.1" cy="142.4" r="1.4" fill="#de66d4"/>
<circle cx="692.3" cy="137.8" r="1.4" fill="#de66d4"/>
<circle cx="377.3" cy="152.1" r="1.4" fill="#de66d4"/>
<circle cx="404.2" cy="147.6" r="1.4" fill="#de66d4"/>
<circle cx="456.8" cy="148.6" r="1.4" fill="#de66d4"/>
<circle cx="467.5" cy="148.2" r="1.4" fill="#de66d4"/>
<circle cx="485.6" cy="146.1" r="1.4" fill="#de66d4"/>
<circle cx="497.4" cy="147.0" r="1.4" fill="#de66d4"/>
<circle cx="509.0" cy="150.5" r="1.4" fill="#de66d4"/>
<circle cx="528.4" cy="148.8" r="1.4" fill="#de66d4"/>
<circle cx="643.0" cy="150.0" r="1.4" fill="#de66d4"/>
<circle cx="659.3" cy="150.0" r="1.4" fill="#de66d4"/>
<circle cx="682.3" cy="149.8" r="1.4" fill="#de66d4"/>
<circle cx="356.6" cy="158.9" r="1.4" fill="#de66d4"/>
<circle cx="427.0" cy="157.8" r="1.4" fill="#de66d4"/>
<circle cx="434.0" cy="156.7" r="1.4" fill="#de66d4"/>
<circle cx="452.4" cy="158.5" r="1.4" fill="#de66d4"/>
<circle cx="463.6" cy="158.3" r="1.4" fill="#de66d4"/>
<circle cx="518.8" cy="157.5" r="1.4" fill="#de66d4"/>
<circle cx="529.0" cy="155.5" r="1.4" fill="#de66d4"/>
<circle cx="597.2" cy="156.4" r="1.4" fill="#de66d4"/>
<circle cx="622.7" cy="158.1" r="1.4" fill="#de66d4"/>
<circle cx="638.1" cy="160.4" r="1.4" fill="#de66d4"/>
<circle cx="650.3" cy="159.1" r="1.4" fill="#de66d4"/>
<circle cx="691.8" cy="157.4" r="1.4" fill="#de66d4"/>
<circle cx="362.9" cy="168.8" r="1.4" fill="#de66d4"/>
<circle cx="402.1" cy="166.8" r="1.4" fill="#de66d4"/>
<circle cx="416.8" cy="167.1" r="1.4" fill="#de66d4"/>
<circle cx="428.2" cy="166.3" r="1.4" fill="#de66d4"/>
<circle cx="455.0" cy="167.4" r="1.4" fill="#de66d4"/>
<circle cx="486.2" cy="166.1" r="1.4" fill="#de66d4"/>
<circle cx="495.5" cy="163.1" r="1.4" fill="#de66d4"/>
<circle cx="510.5" cy="166.1" r="1.4" fill="#de66d4"/>
<circle cx="525.2" cy="165.1" r="1.4" fill="#de66d4"/>
<circle cx="536.7" cy="165.4" r="1.4" fill="#de66d4"/>
<circle cx="553.5" cy="167.5" r="1.4" fill="#de66d4"/>
<circle cx="591.0" cy="167.8" r="1.4" fill="#de66d4"/>
<circle cx="646.2" cy="165.5" r="1.4" fill="#de66d4"/>
<circle cx="657.1" cy="165.5" r="1.4" fill="#de66d4"/>
<circle cx="698.4" cy="164.9" r="1.4" fill="#de66d4"/>
<circle cx="408.8" cy="173.8" r="1.4" fill="#de66d4"/>
<circle cx="441.3" cy="174.2" r="1.4" fill="#de66d4"/>
<circle cx="465.2" cy="174.2" r="1.4" fill="#de66d4"/>
<circle cx="475.4" cy="171.7" r="1.4" fill="#de66d4"/>
<circle cx="491.8" cy="174.7" r="1.4" fill="#de66d4"/>
<circle cx="504.7" cy="176.3" r="1.4" fill="#de66d4"/>
<circle cx="521.2" cy="174.2" r="1.4" fill="#de66d4"/>
<circle cx="554.7" cy="174.1" r="1.4" fill="#de66d4"/>
<circle cx="570.2" cy="172.0" r="1.4" fill="#de66d4"/>
<circle cx="587.8" cy="172.0" r="1.4" fill="#de66d4"/>
<circle cx="598.4" cy="173.8" r="1.4" fill="#de66d4"/>
<circle cx="638.9" cy="175.3" r="1.4" fill="#de66d4"/>
<circle cx="388.8" cy="181.4" r="1.4" fill="#de66d4"/>
<circle cx="415.1" cy="183.2" r="1.4" fill="#de66d4"/>
<circle cx="428.0" cy="181.0" r="1.4" fill="#de66d4"/>
<circle cx="459.2" cy="182.2" r="1.4" fill="#de66d4"/>
<circle cx="496.2" cy="182.0" r="1.4" fill="#de66d4"/>
<circle cx="508.9" cy="181.0" r="1.4" fill="#de66d4"/>
<circle cx="534.1" cy="183.7" r="1.4" fill="#de66d4"/>
<circle cx="547.3" cy="183.5" r="1.4" fill="#de66d4"/>
<circle cx="560.8" cy="185.1" r="1.4" fill="#de66d4"/>
<circle cx="578.7" cy="183.6" r="1.4" fill="#de66d4"/>
<circle cx="590.6" cy="183.5" r="1.4" fill="#de66d4"/>
<circle cx="602.9" cy="180.7" r="1.4" fill="#de66d4"/>
<circle cx="614.1" cy="183.7" r="1.4" fill="#de66d4"/>
<circle cx="629.5" cy="184.1" r="1.4" fill="#de66d4"/>
<circle cx="646.6" cy="184.1" r="1.4" fill="#de66d4"/>
<circle cx="397.7" cy="193.0" r="1.4" fill="#de66d4"/>
<circle cx="422.0" cy="190.3" r="1.4" fill="#de66d4"/>
<circle cx="477.1" cy="191.5" r="1.4" fill="#de66d4"/>
<circle cx="490.4" cy="192.6" r="1.4" fill="#de66d4"/>
<circle cx="506.6" cy="192.8" r="1.4" fill="#de66d4"/>
<circle cx="544.9" cy="192.1" r="1.4" fill="#de66d4"/>
<circle cx="585.4" cy="192.3" r="1.4" fill="#de66d4"/>
<circle cx="638.8" cy="190.3" r="1.4" fill="#de66d4"/>
<circle cx="665.9" cy="194.4" r="1.4" fill="#de66d4"/>
<circle cx="362.1" cy="200.4" r="1.4" fill="#de66d4"/>
<circle cx="497.2" cy="199.2" r="1.4" fill="#de66d4"/>
<circle cx="513.1" cy="200.8" r="1.4" fill="#de66d4"/>
<circle cx="523.6" cy="200.1" r="1.4" fill="#de66d4"/>
<circle cx="537.5" cy="198.8" r="1.4" fill="#de66d4"/>
<circle cx="547.5" cy="201.0" r="1.4" fill="#de66d4"/>
<circle cx="563.7" cy="198.1" r="1.4" fill="#de66d4"/>
<circle cx="603.2" cy="201.5" r="1.4" fill="#de66d4"/>
<circle cx="642.2" cy="199.3" r="1.4" fill="#de66d4"/>
<circle cx="686.9" cy="199.2" r="1.4" fill="#de66d4"/>
<circle cx="700.5" cy="197.1" r="1.4" fill="#de66d4"/>
<circle cx="356.4" cy="208.2" r="1.4" fill="#de66d4"/>
<circle cx="436.3" cy="209.1" r="1.4" fill="#de66d4"/>
<circle cx="449.6" cy="205.2" r="1.4" fill="#de66d4"/>
<circle cx="494.9" cy="207.6" r="1.4" fill="#de66d4"/>
<circle cx="501.5" cy="208.1" r="1.4" fill="#de66d4"/>
<circle cx="528.9" cy="206.1" r="1.4" fill="#de66d4"/>
<circle cx="555.8" cy="203.8" r="1.4" fill="#de66d4"/>
<circle cx="570.0" cy="204.5" r="1.4" fill="#de66d4"/>
<circle cx="586.4" cy="205.1" r="1.4" fill="#de66d4"/>
<circle cx="598.6" cy="209.1" r="1.4" fill="#de66d4"/>
<circle cx="608.3" cy="205.5" r="1.4" fill="#de66d4"/>
<circle cx="623.9" cy="205.8" r="1.4" fill="#de66d4"/>
<circle cx="665.7" cy="208.7" r="1.4" fill="#de66d4"/>
<circle cx="677.3" cy="207.8" r="1.4" fill="#de66d4"/>
<circle cx="429.3" cy="213.9" r="1.4" fill="#de66d4"/>
<circle cx="442.6" cy="213.5" r="1.4" fill="#de66d4"/>
<circle cx="458.8" cy="218.0" r="1.4" fill="#de66d4"/>
<circle cx="497.9" cy="216.2" r="1.4" fill="#de66d4"/>
<circle cx="513.2" cy="214.4" r="1.4" fill="#de66d4"/>
<circle cx="523.1" cy="216.7" r="1.4" fill="#de66d4"/>
<circle cx="549.6" cy="213.4" r="1.4" fill="#de66d4"/>
<circle cx="559.7" cy="215.5" r="1.4" fill="#de66d4"/>
<circle cx="580.2" cy="212.5" r="1.4" fill="#de66d4"/>
<circle cx="589.1" cy="213.5" r="1.4" fill="#de66d4"/>
<circle cx="607.4" cy="214.9" r="1.4" fill="#de66d4"/>
<circle cx="669.4" cy="214.5" r="1.4" fill="#de66d4"/>
<circle cx="684.6" cy="217.9" r="1.4" fill="#de66d4"/>
<circle cx="382.3" cy="225.2" r="1.4" fill="#de66d4"/>
<circle cx="448.8" cy="225.0" r="1.4" fill="#de66d4"/>
<circle cx="478.6" cy="222.6" r="1.4" fill="#de66d4"/>
<circle cx="489.8" cy="218.8" r="1.4" fill="#de66d4"/>
<circle cx="500.3" cy="223.5" r="1.4" fill="#de66d4"/>
<circle cx="545.2" cy="222.5" r="1.4" fill="#de66d4"/>
<circle cx="558.5" cy="226.3" r="1.4" fill="#de66d4"/>
<circle cx="573.4" cy="223.3" r="1.4" fill="#de66d4"/>
<circle cx="594.7" cy="221.3" r="1.4" fill="#de66d4"/>
<circle cx="665.2" cy="222.7" r="1.4" fill="#de66d4"/>
<circle cx="678.4" cy="226.8" r="1.4" fill="#de66d4"/>
<circle cx="694.5" cy="225.5" r="1.4" fill="#de66d4"/>
<circle cx="364.8" cy="232.7" r="1.4" fill="#de66d4"/>
<circle cx="391.0" cy="233.4" r="1.4" fill="#de66d4"/>
<circle cx="442.2" cy="230.6" r="1.4" fill="#de66d4"/>
<circle cx="455.6" cy="230.4" r="1.4" fill="#de66d4"/>
<circle cx="471.6" cy="231.5" r="1.4" fill="#de66d4"/>
<circle cx="540.3" cy="231.7" r="1.4" fill="#de66d4"/>
<circle cx="551.1" cy="230.6" r="1.4" fill="#de66d4"/>
<circle cx="563.2" cy="231.2" r="1.4" fill="#de66d4"/>
<circle cx="590.1" cy="232.9" r="1.4" fill="#de66d4"/>
<circle cx="602.4" cy="228.9" r="1.4" fill="#de66d4"/>
<circle cx="619.1" cy="230.5" r="1.4" fill="#de66d4"/>
<circle cx="642.9" cy="230.3" r="1.4" fill="#de66d4"/>
<circle cx="672.7" cy="231.5" r="1.4" fill="#de66d4"/>
<circle cx="685.0" cy="231.6" r="1.4" fill="#de66d4"/>
<circle cx="696.4" cy="232.1" r="1.4" fill="#de66d4"/>
<circle cx="358.3" cy="244.1" r="1.4" fill="#de66d4"/>
<circle cx="373.0" cy="236.5" r="1.4" fill="#de66d4"/>
<circle cx="385.0" cy="241.1" r="1.4" fill="#de66d4"/>
<circle cx="433.9" cy="237.2" r="1.4" fill="#de66d4"/>
<circle cx="450.8" cy="239.2" r="1.4" fill="#de66d4"/>
<circle cx="466.3" cy="237.6" r="1.4" fill="#de66d4"/>
<circle cx="480.4" cy="242.4" r="1.4" fill="#de66d4"/>
<circle cx="491.6" cy="237.2" r="1.4" fill="#de66d4"/>
<circle cx="531.7" cy="239.4" r="1.4" fill="#de66d4"/>
<circle cx="546.4" cy="242.7" r="1.4" fill="#de66d4"/>
<circle cx="571.7" cy="240.7" r="1.4" fill="#de66d4"/>
<circle cx="586.1" cy="240.0" r="1.4" fill="#de66d4"/>
<circle cx="595.6" cy="237.7" r="1.4" fill="#de66d4"/>
<circle cx="611.7" cy="240.9" r="1.4" fill="#de66d4"/>
<circle cx="642.4" cy="241.3" r="1.4" fill="#de66d4"/>
</g>
<text x="361.5" y="34.7" font-size="14" fill="#fff" stroke="#fff" stroke-width="0.25" textLength="38.8" lengthAdjust="spacingAndGlyphs" >0 min</text>
<text x="378.4" y="107.2" font-size="14" fill="#fff" stroke="#fff" stroke-width="0.25" textLength="51.2" lengthAdjust="spacingAndGlyphs" >stripe 4</text>
<text x="577.6" y="107.2" font-size="14" fill="#fff" stroke="#fff" stroke-width="0.25" textLength="51.1" lengthAdjust="spacingAndGlyphs" >stripe 6</text>
<text x="362.0" y="153.7" font-size="14" fill="#fff" stroke="#fff" stroke-width="0.25" textLength="38.8" lengthAdjust="spacingAndGlyphs" >4 min</text>
<text x="621.0" y="213.8" font-size="14" fill="#fff" stroke="#fff" stroke-width="0.25" textLength="43" lengthAdjust="spacingAndGlyphs" >20 μm</text>
<rect x="622" y="220.4" width="42.3" height="1.7" fill="#fff"/>
<path d="M457.8,237.7 L463,243.8 H537.5 L543.7,237.7" fill="none" stroke="#231f20" stroke-width="1.1"/>
<text x="401.7" y="261.6" font-size="14.2" fill="#231f20" stroke="#231f20" stroke-width="0.25" textLength="196.3" lengthAdjust="spacingAndGlyphs" >reactivated after illumination</text>
<defs><filter id="hblur" x="0" y="0" width="1" height="1"><feGaussianBlur stdDeviation="0.9,0.45"/></filter><clipPath id="hclip"><rect x="42.6" y="296.0" width="249.1" height="166.0"/></clipPath></defs>
<text x="0.4" y="286.3" font-size="18" fill="#231f20" font-weight="bold" textLength="13.2" lengthAdjust="spacingAndGlyphs" >C</text>
<rect x="41.8" y="273.2" width="146.4" height="19.8" fill="#e6e7e8"/>
<rect x="188.2" y="273.2" width="103.5" height="19.8" fill="#7b93c9"/>
<text x="84.4" y="287.8" font-size="14" fill="#231f20" stroke="#231f20" stroke-width="0.25" textLength="60.8" lengthAdjust="spacingAndGlyphs" >light OFF</text>
<text x="211.0" y="287.8" font-size="14" fill="#fff" stroke="#fff" stroke-width="0.25" textLength="57.8" lengthAdjust="spacingAndGlyphs" >light ON</text>
<rect x="42.6" y="296.0" width="249.1" height="166.0" fill="#2e3192"/>
<g filter="url(#hblur)" clip-path="url(#hclip)">
<path fill="#362e94" d="M98.7 296.00h1.5v1.38h-1.5zM130.9 296.00h1.5v1.38h-1.5zM195.2 296.00h1.5v1.38h-1.5zM214.2 296.00h2.9v1.38h-2.9zM228.8 296.00h1.5v1.38h-1.5zM268.3 296.00h14.6v1.38h-14.6zM47.5 297.33h2.9v1.38h-2.9zM97.2 297.33h1.5v1.38h-1.5zM132.3 297.33h2.9v1.38h-2.9zM139.6 297.33h2.9v1.38h-2.9zM76.8 298.66h2.9v1.38h-2.9zM87.0 298.66h4.4v1.38h-4.4zM111.8 298.66h2.9v1.38h-2.9zM125.0 298.66h2.9v1.38h-2.9zM144.0 298.66h1.5v1.38h-1.5zM209.8 298.66h1.5v1.38h-1.5zM237.6 298.66h2.9v1.38h-2.9zM252.2 298.66h2.9v1.38h-2.9zM56.3 299.98h1.5v1.38h-1.5zM101.6 299.98h1.5v1.38h-1.5zM126.5 299.98h8.8v1.38h-8.8zM138.2 299.98h2.9v1.38h-2.9zM89.9 301.31h1.5v1.38h-1.5zM122.1 301.31h1.5v1.38h-1.5zM139.6 301.31h1.5v1.38h-1.5zM205.4 301.31h2.9v1.38h-2.9zM258.0 301.31h1.5v1.38h-1.5zM282.9 301.31h2.9v1.38h-2.9zM139.6 302.64h2.9v1.38h-2.9zM198.1 302.64h1.5v1.38h-1.5zM269.7 302.64h1.5v1.38h-1.5zM87.0 303.97h2.9v1.38h-2.9zM100.1 303.97h1.5v1.38h-1.5zM111.8 303.97h1.5v1.38h-1.5zM132.3 303.97h1.5v1.38h-1.5zM152.8 303.97h1.5v1.38h-1.5zM198.1 303.97h1.5v1.38h-1.5zM244.9 303.97h2.9v1.38h-2.9zM272.7 303.97h1.5v1.38h-1.5zM54.8 305.30h2.9v1.38h-2.9zM125.0 305.30h7.3v1.38h-7.3zM253.7 305.30h1.5v1.38h-1.5zM274.1 305.30h1.5v1.38h-1.5zM281.4 305.30h2.9v1.38h-2.9zM138.2 306.62h1.5v1.38h-1.5zM198.1 306.62h1.5v1.38h-1.5zM54.8 307.95h2.9v1.38h-2.9zM63.6 307.95h1.5v1.38h-1.5zM198.1 307.95h1.5v1.38h-1.5zM221.5 307.95h7.3v1.38h-7.3zM246.3 307.95h1.5v1.38h-1.5zM275.6 307.95h1.5v1.38h-1.5zM59.2 309.28h1.5v1.38h-1.5zM78.2 309.28h2.9v1.38h-2.9zM141.1 309.28h4.4v1.38h-4.4zM215.6 309.28h1.5v1.38h-1.5zM228.8 309.28h1.5v1.38h-1.5zM46.1 310.61h1.5v1.38h-1.5zM120.6 310.61h1.5v1.38h-1.5zM212.7 310.61h1.5v1.38h-1.5zM228.8 310.61h1.5v1.38h-1.5zM57.8 311.94h1.5v1.38h-1.5zM73.8 311.94h1.5v1.38h-1.5zM139.6 311.94h2.9v1.38h-2.9zM208.3 311.94h2.9v1.38h-2.9zM244.9 311.94h7.3v1.38h-7.3zM53.4 313.26h1.5v1.38h-1.5zM62.1 313.26h2.9v1.38h-2.9zM116.2 313.26h8.8v1.38h-8.8zM138.2 313.26h5.8v1.38h-5.8zM198.1 313.26h1.5v1.38h-1.5zM59.2 314.59h1.5v1.38h-1.5zM119.2 314.59h5.8v1.38h-5.8zM198.1 314.59h1.5v1.38h-1.5zM81.1 315.92h2.9v1.38h-2.9zM88.5 315.92h2.9v1.38h-2.9zM149.9 315.92h1.5v1.38h-1.5zM201.0 315.92h1.5v1.38h-1.5zM212.7 315.92h5.8v1.38h-5.8zM282.9 315.92h1.5v1.38h-1.5zM49.0 317.25h2.9v1.38h-2.9zM81.1 317.25h1.5v1.38h-1.5zM138.2 317.25h1.5v1.38h-1.5zM204.0 317.25h1.5v1.38h-1.5zM53.4 318.58h2.9v1.38h-2.9zM98.7 318.58h1.5v1.38h-1.5zM202.5 318.58h1.5v1.38h-1.5zM149.9 319.90h1.5v1.38h-1.5zM275.6 319.90h2.9v1.38h-2.9zM95.8 321.23h13.2v1.38h-13.2zM132.3 321.23h11.7v1.38h-11.7zM202.5 321.23h1.5v1.38h-1.5zM255.1 321.23h1.5v1.38h-1.5zM268.3 321.23h1.5v1.38h-1.5zM53.4 322.56h1.5v1.38h-1.5zM85.5 322.56h5.8v1.38h-5.8zM127.9 322.56h1.5v1.38h-1.5zM148.4 322.56h8.8v1.38h-8.8zM204.0 322.56h1.5v1.38h-1.5zM221.5 322.56h14.6v1.38h-14.6zM56.3 323.89h1.5v1.38h-1.5zM87.0 323.89h1.5v1.38h-1.5zM151.3 323.89h1.5v1.38h-1.5zM204.0 323.89h1.5v1.38h-1.5zM244.9 323.89h4.4v1.38h-4.4zM256.6 323.89h5.8v1.38h-5.8zM271.2 323.89h2.9v1.38h-2.9zM57.8 325.22h1.5v1.38h-1.5zM79.7 325.22h2.9v1.38h-2.9zM138.2 325.22h2.9v1.38h-2.9zM75.3 326.54h2.9v1.38h-2.9zM85.5 326.54h4.4v1.38h-4.4zM141.1 326.54h2.9v1.38h-2.9zM110.4 327.87h1.5v1.38h-1.5zM133.8 327.87h1.5v1.38h-1.5zM158.6 327.87h1.5v1.38h-1.5zM202.5 327.87h2.9v1.38h-2.9zM218.6 327.87h1.5v1.38h-1.5zM263.9 327.87h1.5v1.38h-1.5zM72.4 329.20h1.5v1.38h-1.5zM123.5 329.20h1.5v1.38h-1.5zM106.0 330.53h4.4v1.38h-4.4zM144.0 330.53h1.5v1.38h-1.5zM247.8 330.53h1.5v1.38h-1.5zM78.2 331.86h1.5v1.38h-1.5zM117.7 331.86h1.5v1.38h-1.5zM148.4 331.86h1.5v1.38h-1.5zM218.6 331.86h1.5v1.38h-1.5zM87.0 333.18h4.4v1.38h-4.4zM110.4 333.18h5.8v1.38h-5.8zM205.4 333.18h1.5v1.38h-1.5zM263.9 333.18h2.9v1.38h-2.9zM116.2 334.51h1.5v1.38h-1.5zM132.3 334.51h1.5v1.38h-1.5zM141.1 334.51h1.5v1.38h-1.5zM275.6 334.51h1.5v1.38h-1.5zM70.9 335.84h1.5v1.38h-1.5zM144.0 335.84h1.5v1.38h-1.5zM205.4 335.84h2.9v1.38h-2.9zM218.6 335.84h10.2v1.38h-10.2zM56.3 337.17h1.5v1.38h-1.5zM100.1 337.17h1.5v1.38h-1.5zM130.9 337.17h2.9v1.38h-2.9zM228.8 337.17h2.9v1.38h-2.9zM262.4 337.17h4.4v1.38h-4.4zM281.4 337.17h2.9v1.38h-2.9zM149.9 338.50h2.9v1.38h-2.9zM206.9 338.50h1.5v1.38h-1.5zM228.8 338.50h1.5v1.38h-1.5zM252.2 338.50h1.5v1.38h-1.5zM51.9 339.82h2.9v1.38h-2.9zM68.0 339.82h1.5v1.38h-1.5zM92.8 339.82h1.5v1.38h-1.5zM122.1 339.82h1.5v1.38h-1.5zM141.1 339.82h2.9v1.38h-2.9zM53.4 341.15h1.5v1.38h-1.5zM65.1 341.15h1.5v1.38h-1.5zM117.7 341.15h1.5v1.38h-1.5zM204.0 341.15h1.5v1.38h-1.5zM253.7 341.15h1.5v1.38h-1.5zM265.4 341.15h2.9v1.38h-2.9zM47.5 342.48h1.5v1.38h-1.5zM141.1 342.48h1.5v1.38h-1.5zM66.5 343.81h1.5v1.38h-1.5zM119.2 343.81h2.9v1.38h-2.9zM208.3 343.81h1.5v1.38h-1.5zM237.6 343.81h13.2v1.38h-13.2zM89.9 345.14h4.4v1.38h-4.4zM136.7 345.14h2.9v1.38h-2.9zM145.5 345.14h1.5v1.38h-1.5zM75.3 346.46h2.9v1.38h-2.9zM91.4 346.46h2.9v1.38h-2.9zM103.1 346.46h2.9v1.38h-2.9zM227.3 346.46h1.5v1.38h-1.5zM249.3 346.46h1.5v1.38h-1.5zM54.8 347.79h1.5v1.38h-1.5zM100.1 347.79h1.5v1.38h-1.5zM212.7 347.79h2.9v1.38h-2.9zM120.6 349.12h1.5v1.38h-1.5zM145.5 349.12h7.3v1.38h-7.3zM120.6 350.45h1.5v1.38h-1.5zM144.0 350.45h1.5v1.38h-1.5zM152.8 350.45h1.5v1.38h-1.5zM212.7 350.45h1.5v1.38h-1.5zM277.1 350.45h5.8v1.38h-5.8zM88.5 351.78h1.5v1.38h-1.5zM103.1 351.78h2.9v1.38h-2.9zM214.2 351.78h1.5v1.38h-1.5zM265.4 351.78h1.5v1.38h-1.5zM42.6 353.10h3.5v1.38h-3.5zM78.2 353.10h1.5v1.38h-1.5zM95.8 353.10h1.5v1.38h-1.5zM123.5 353.10h2.9v1.38h-2.9zM138.2 353.10h1.5v1.38h-1.5zM214.2 353.10h1.5v1.38h-1.5zM288.7 353.10h2.9v1.38h-2.9zM49.0 354.43h5.8v1.38h-5.8zM110.4 354.43h4.4v1.38h-4.4zM127.9 354.43h2.9v1.38h-2.9zM148.4 354.43h2.9v1.38h-2.9zM75.3 355.76h2.9v1.38h-2.9zM108.9 355.76h1.5v1.38h-1.5zM129.4 355.76h2.9v1.38h-2.9zM138.2 355.76h2.9v1.38h-2.9zM215.6 355.76h1.5v1.38h-1.5zM68.0 357.09h1.5v1.38h-1.5zM82.6 357.09h1.5v1.38h-1.5zM119.2 357.09h2.9v1.38h-2.9zM125.0 357.09h1.5v1.38h-1.5zM144.0 357.09h1.5v1.38h-1.5zM282.9 357.09h1.5v1.38h-1.5zM103.1 358.42h1.5v1.38h-1.5zM113.3 358.42h1.5v1.38h-1.5zM165.9 358.42h1.5v1.38h-1.5zM215.6 358.42h1.5v1.38h-1.5zM142.5 359.74h4.4v1.38h-4.4zM73.8 361.07h5.8v1.38h-5.8zM88.5 361.07h7.3v1.38h-7.3zM111.8 361.07h5.8v1.38h-5.8zM120.6 361.07h7.3v1.38h-7.3zM138.2 361.07h4.4v1.38h-4.4zM152.8 361.07h4.4v1.38h-4.4zM214.2 361.07h1.5v1.38h-1.5zM223.0 361.07h1.5v1.38h-1.5zM244.9 361.07h1.5v1.38h-1.5zM43.1 362.40h2.9v1.38h-2.9zM65.1 362.40h1.5v1.38h-1.5zM127.9 362.40h1.5v1.38h-1.5zM155.7 362.40h1.5v1.38h-1.5zM230.3 362.40h1.5v1.38h-1.5zM275.6 362.40h1.5v1.38h-1.5zM73.8 363.73h2.9v1.38h-2.9zM111.8 363.73h4.4v1.38h-4.4zM136.7 363.73h1.5v1.38h-1.5zM215.6 363.73h1.5v1.38h-1.5zM233.2 363.73h1.5v1.38h-1.5zM263.9 363.73h1.5v1.38h-1.5zM66.5 365.06h2.9v1.38h-2.9zM94.3 365.06h5.8v1.38h-5.8zM122.1 365.06h1.5v1.38h-1.5zM142.5 365.06h2.9v1.38h-2.9zM234.7 365.06h2.9v1.38h-2.9zM250.7 365.06h2.9v1.38h-2.9zM285.8 365.06h2.9v1.38h-2.9zM95.8 366.38h2.9v1.38h-2.9zM104.5 366.38h2.9v1.38h-2.9zM122.1 366.38h1.5v1.38h-1.5zM217.1 366.38h1.5v1.38h-1.5zM135.2 367.71h1.5v1.38h-1.5zM217.1 367.71h1.5v1.38h-1.5zM84.1 369.04h1.5v1.38h-1.5zM100.1 369.04h1.5v1.38h-1.5zM127.9 369.04h5.8v1.38h-5.8zM81.1 370.37h2.9v1.38h-2.9zM89.9 370.37h1.5v1.38h-1.5zM155.7 370.37h1.5v1.38h-1.5zM217.1 370.37h1.5v1.38h-1.5zM116.2 371.70h8.8v1.38h-8.8zM145.5 371.70h1.5v1.38h-1.5zM217.1 371.70h1.5v1.38h-1.5zM227.3 371.70h1.5v1.38h-1.5zM84.1 373.02h5.8v1.38h-5.8zM94.3 373.02h4.4v1.38h-4.4zM117.7 373.02h1.5v1.38h-1.5zM218.6 373.02h1.5v1.38h-1.5zM63.6 374.35h4.4v1.38h-4.4zM114.8 374.35h1.5v1.38h-1.5zM217.1 374.35h1.5v1.38h-1.5zM65.1 375.68h1.5v1.38h-1.5zM82.6 375.68h2.9v1.38h-2.9zM144.0 375.68h1.5v1.38h-1.5zM217.1 375.68h1.5v1.38h-1.5zM63.6 377.01h2.9v1.38h-2.9zM224.4 377.01h1.5v1.38h-1.5zM120.6 378.34h1.5v1.38h-1.5zM127.9 378.34h2.9v1.38h-2.9zM139.6 378.34h2.9v1.38h-2.9zM221.5 378.34h2.9v1.38h-2.9zM51.9 379.66h1.5v1.38h-1.5zM68.0 379.66h1.5v1.38h-1.5zM113.3 379.66h1.5v1.38h-1.5zM278.5 379.66h1.5v1.38h-1.5zM132.3 380.99h2.9v1.38h-2.9zM218.6 380.99h1.5v1.38h-1.5zM265.4 380.99h1.5v1.38h-1.5zM287.3 380.99h4.4v1.38h-4.4zM42.6 382.32h4.9v1.38h-4.9zM63.6 382.32h5.8v1.38h-5.8zM87.0 382.32h1.5v1.38h-1.5zM113.3 382.32h4.4v1.38h-4.4zM145.5 382.32h2.9v1.38h-2.9zM218.6 382.32h1.5v1.38h-1.5zM65.1 383.65h4.4v1.38h-4.4zM84.1 383.65h1.5v1.38h-1.5zM117.7 383.65h13.2v1.38h-13.2zM223.0 383.65h1.5v1.38h-1.5zM60.7 384.98h5.8v1.38h-5.8zM73.8 384.98h8.8v1.38h-8.8zM104.5 384.98h1.5v1.38h-1.5zM130.9 384.98h2.9v1.38h-2.9zM146.9 384.98h1.5v1.38h-1.5zM221.5 384.98h1.5v1.38h-1.5zM246.3 384.98h1.5v1.38h-1.5zM275.6 384.98h1.5v1.38h-1.5zM220.0 386.30h1.5v1.38h-1.5zM65.1 387.63h2.9v1.38h-2.9zM120.6 387.63h20.5v1.38h-20.5zM230.3 387.63h1.5v1.38h-1.5zM49.0 388.96h1.5v1.38h-1.5zM100.1 388.96h1.5v1.38h-1.5zM113.3 388.96h1.5v1.38h-1.5zM145.5 388.96h1.5v1.38h-1.5zM221.5 388.96h1.5v1.38h-1.5zM284.4 388.96h1.5v1.38h-1.5zM60.7 390.29h1.5v1.38h-1.5zM100.1 390.29h1.5v1.38h-1.5zM65.1 391.62h2.9v1.38h-2.9zM148.4 391.62h1.5v1.38h-1.5zM152.8 392.94h1.5v1.38h-1.5zM220.0 392.94h1.5v1.38h-1.5zM146.9 394.27h2.9v1.38h-2.9zM287.3 394.27h4.4v1.38h-4.4zM132.3 395.60h1.5v1.38h-1.5zM223.0 395.60h1.5v1.38h-1.5zM265.4 395.60h1.5v1.38h-1.5zM68.0 396.93h7.3v1.38h-7.3zM114.8 396.93h2.9v1.38h-2.9zM148.4 396.93h2.9v1.38h-2.9zM243.4 396.93h4.4v1.38h-4.4zM268.3 396.93h2.9v1.38h-2.9zM56.3 398.26h2.9v1.38h-2.9zM103.1 398.26h7.3v1.38h-7.3zM138.2 398.26h10.2v1.38h-10.2zM223.0 398.26h1.5v1.38h-1.5zM97.2 399.58h2.9v1.38h-2.9zM106.0 399.58h4.4v1.38h-4.4zM126.5 399.58h17.5v1.38h-17.5zM223.0 399.58h1.5v1.38h-1.5zM284.4 399.58h1.5v1.38h-1.5zM117.7 400.91h1.5v1.38h-1.5zM223.0 400.91h1.5v1.38h-1.5zM263.9 400.91h2.9v1.38h-2.9zM272.7 400.91h1.5v1.38h-1.5zM136.7 402.24h1.5v1.38h-1.5zM220.0 402.24h1.5v1.38h-1.5zM247.8 402.24h10.2v1.38h-10.2zM269.7 402.24h2.9v1.38h-2.9zM158.6 403.57h1.5v1.38h-1.5zM225.9 403.57h1.5v1.38h-1.5zM68.0 404.90h4.4v1.38h-4.4zM85.5 404.90h19.0v1.38h-19.0zM145.5 404.90h1.5v1.38h-1.5zM224.4 404.90h1.5v1.38h-1.5zM50.4 406.22h10.2v1.38h-10.2zM81.1 406.22h1.5v1.38h-1.5zM98.7 406.22h1.5v1.38h-1.5zM148.4 406.22h1.5v1.38h-1.5zM225.9 406.22h1.5v1.38h-1.5zM113.3 407.55h1.5v1.38h-1.5zM130.9 407.55h1.5v1.38h-1.5zM142.5 407.55h1.5v1.38h-1.5zM225.9 407.55h1.5v1.38h-1.5zM285.8 407.55h1.5v1.38h-1.5zM60.7 408.88h11.7v1.38h-11.7zM114.8 408.88h1.5v1.38h-1.5zM141.1 408.88h1.5v1.38h-1.5zM228.8 408.88h1.5v1.38h-1.5zM87.0 410.21h1.5v1.38h-1.5zM95.8 410.21h2.9v1.38h-2.9zM133.8 410.21h1.5v1.38h-1.5zM224.4 410.21h1.5v1.38h-1.5zM84.1 411.54h2.9v1.38h-2.9zM94.3 411.54h2.9v1.38h-2.9zM135.2 411.54h1.5v1.38h-1.5zM227.3 411.54h4.4v1.38h-4.4zM49.0 412.86h2.9v1.38h-2.9zM88.5 412.86h11.7v1.38h-11.7zM138.2 412.86h2.9v1.38h-2.9zM70.9 415.52h1.5v1.38h-1.5zM91.4 415.52h1.5v1.38h-1.5zM151.3 415.52h2.9v1.38h-2.9zM69.4 416.85h1.5v1.38h-1.5zM84.1 416.85h1.5v1.38h-1.5zM104.5 416.85h2.9v1.38h-2.9zM111.8 416.85h2.9v1.38h-2.9zM43.1 418.18h4.4v1.38h-4.4zM113.3 418.18h4.4v1.38h-4.4zM149.9 418.18h1.5v1.38h-1.5zM230.3 418.18h1.5v1.38h-1.5zM268.3 418.18h1.5v1.38h-1.5zM72.4 419.50h1.5v1.38h-1.5zM151.3 419.50h1.5v1.38h-1.5zM268.3 419.50h1.5v1.38h-1.5zM62.1 420.83h4.4v1.38h-4.4zM148.4 420.83h1.5v1.38h-1.5zM230.3 420.83h1.5v1.38h-1.5zM249.3 420.83h1.5v1.38h-1.5zM259.5 420.83h2.9v1.38h-2.9zM82.6 422.16h1.5v1.38h-1.5zM98.7 422.16h1.5v1.38h-1.5zM151.3 422.16h2.9v1.38h-2.9zM233.2 423.49h1.5v1.38h-1.5zM62.1 424.82h1.5v1.38h-1.5zM152.8 424.82h1.5v1.38h-1.5zM231.7 424.82h1.5v1.38h-1.5zM266.8 424.82h1.5v1.38h-1.5zM275.6 424.82h1.5v1.38h-1.5zM65.1 426.14h10.2v1.38h-10.2zM119.2 426.14h8.8v1.38h-8.8zM138.2 426.14h5.8v1.38h-5.8zM144.0 427.47h1.5v1.38h-1.5zM266.8 427.47h2.9v1.38h-2.9zM76.8 428.80h7.3v1.38h-7.3zM133.8 428.80h1.5v1.38h-1.5zM233.2 428.80h1.5v1.38h-1.5zM100.1 430.13h1.5v1.38h-1.5zM116.2 430.13h2.9v1.38h-2.9zM236.1 430.13h2.9v1.38h-2.9zM54.8 431.46h1.5v1.38h-1.5zM63.6 431.46h2.9v1.38h-2.9zM81.1 431.46h1.5v1.38h-1.5zM151.3 431.46h1.5v1.38h-1.5zM234.7 431.46h5.8v1.38h-5.8zM244.9 431.46h2.9v1.38h-2.9zM278.5 431.46h1.5v1.38h-1.5zM66.5 432.78h1.5v1.38h-1.5zM106.0 432.78h21.9v1.38h-21.9zM135.2 432.78h7.3v1.38h-7.3zM268.3 432.78h2.9v1.38h-2.9zM68.0 434.11h1.5v1.38h-1.5zM151.3 434.11h1.5v1.38h-1.5zM234.7 434.11h1.5v1.38h-1.5zM46.1 435.44h1.5v1.38h-1.5zM91.4 435.44h1.5v1.38h-1.5zM116.2 435.44h1.5v1.38h-1.5zM145.5 435.44h1.5v1.38h-1.5zM56.3 436.77h8.8v1.38h-8.8zM79.7 436.77h2.9v1.38h-2.9zM107.5 436.77h4.4v1.38h-4.4zM129.4 436.77h4.4v1.38h-4.4zM236.1 436.77h1.5v1.38h-1.5zM284.4 436.77h1.5v1.38h-1.5zM66.5 438.10h4.4v1.38h-4.4zM148.4 438.10h1.5v1.38h-1.5zM239.0 438.10h1.5v1.38h-1.5zM70.9 439.42h2.9v1.38h-2.9zM106.0 439.42h2.9v1.38h-2.9zM139.6 439.42h2.9v1.38h-2.9zM239.0 439.42h1.5v1.38h-1.5zM256.6 439.42h1.5v1.38h-1.5zM280.0 439.42h2.9v1.38h-2.9zM155.7 440.75h1.5v1.38h-1.5zM240.5 440.75h1.5v1.38h-1.5zM249.3 440.75h5.8v1.38h-5.8zM262.4 440.75h2.9v1.38h-2.9zM60.7 442.08h1.5v1.38h-1.5zM148.4 442.08h1.5v1.38h-1.5zM243.4 442.08h1.5v1.38h-1.5zM281.4 442.08h2.9v1.38h-2.9zM53.4 443.41h1.5v1.38h-1.5zM122.1 443.41h1.5v1.38h-1.5zM149.9 443.41h1.5v1.38h-1.5zM100.1 444.74h1.5v1.38h-1.5zM272.7 444.74h2.9v1.38h-2.9zM280.0 444.74h2.9v1.38h-2.9zM62.1 446.06h1.5v1.38h-1.5zM72.4 446.06h1.5v1.38h-1.5zM158.6 446.06h1.5v1.38h-1.5zM247.8 446.06h1.5v1.38h-1.5zM117.7 447.39h2.9v1.38h-2.9zM149.9 447.39h1.5v1.38h-1.5zM244.9 447.39h1.5v1.38h-1.5zM265.4 447.39h1.5v1.38h-1.5zM281.4 447.39h4.4v1.38h-4.4zM146.9 448.72h1.5v1.38h-1.5zM265.4 448.72h1.5v1.38h-1.5zM60.7 450.05h1.5v1.38h-1.5zM85.5 450.05h2.9v1.38h-2.9zM110.4 450.05h1.5v1.38h-1.5zM136.7 450.05h1.5v1.38h-1.5zM57.8 451.38h1.5v1.38h-1.5zM76.8 451.38h1.5v1.38h-1.5zM89.9 451.38h1.5v1.38h-1.5zM123.5 451.38h1.5v1.38h-1.5zM50.4 452.70h1.5v1.38h-1.5zM120.6 452.70h8.8v1.38h-8.8zM146.9 452.70h1.5v1.38h-1.5zM255.1 452.70h1.5v1.38h-1.5zM60.7 454.03h1.5v1.38h-1.5zM69.4 455.36h2.9v1.38h-2.9zM92.8 455.36h1.5v1.38h-1.5zM114.8 455.36h4.4v1.38h-4.4zM42.6 456.69h0.5v1.38h-0.5zM72.4 456.69h1.5v1.38h-1.5zM138.2 456.69h2.9v1.38h-2.9zM138.2 458.02h4.4v1.38h-4.4zM261.0 458.02h2.9v1.38h-2.9zM266.8 458.02h4.4v1.38h-4.4zM47.5 459.34h2.9v1.38h-2.9zM101.6 460.67h10.2v1.38h-10.2zM136.7 460.67h4.4v1.38h-4.4zM265.4 460.67h1.5v1.38h-1.5z"/>
<path fill="#3e2a96" d="M100.1 296.00h1.5v1.38h-1.5zM129.4 296.00h1.5v1.38h-1.5zM212.7 296.00h1.5v1.38h-1.5zM230.3 296.00h1.5v1.38h-1.5zM262.4 296.00h5.8v1.38h-5.8zM50.4 297.33h1.5v1.38h-1.5zM135.2 297.33h4.4v1.38h-4.4zM195.2 297.33h1.5v1.38h-1.5zM75.3 298.66h1.5v1.38h-1.5zM91.4 298.66h4.4v1.38h-4.4zM108.9 298.66h2.9v1.38h-2.9zM127.9 298.66h2.9v1.38h-2.9zM142.5 298.66h1.5v1.38h-1.5zM193.7 298.66h1.5v1.38h-1.5zM206.9 298.66h2.9v1.38h-2.9zM240.5 298.66h2.9v1.38h-2.9zM247.8 298.66h4.4v1.38h-4.4zM54.8 299.98h1.5v1.38h-1.5zM103.1 299.98h1.5v1.38h-1.5zM125.0 299.98h1.5v1.38h-1.5zM135.2 299.98h2.9v1.38h-2.9zM193.7 299.98h1.5v1.38h-1.5zM42.6 301.31h3.5v1.38h-3.5zM88.5 301.31h1.5v1.38h-1.5zM208.3 301.31h1.5v1.38h-1.5zM236.1 301.31h2.9v1.38h-2.9zM256.6 301.31h1.5v1.38h-1.5zM285.8 301.31h4.4v1.38h-4.4zM136.7 302.64h2.9v1.38h-2.9zM85.5 303.97h1.5v1.38h-1.5zM101.6 303.97h4.4v1.38h-4.4zM108.9 303.97h2.9v1.38h-2.9zM133.8 303.97h1.5v1.38h-1.5zM199.6 303.97h1.5v1.38h-1.5zM243.4 303.97h1.5v1.38h-1.5zM57.8 305.30h2.9v1.38h-2.9zM66.5 305.30h10.2v1.38h-10.2zM120.6 305.30h4.4v1.38h-4.4zM196.6 305.30h1.5v1.38h-1.5zM275.6 305.30h5.8v1.38h-5.8zM49.0 306.62h4.4v1.38h-4.4zM136.7 306.62h1.5v1.38h-1.5zM199.6 306.62h1.5v1.38h-1.5zM53.4 307.95h1.5v1.38h-1.5zM65.1 307.95h1.5v1.38h-1.5zM122.1 307.95h1.5v1.38h-1.5zM220.0 307.95h1.5v1.38h-1.5zM228.8 307.95h2.9v1.38h-2.9zM244.9 307.95h1.5v1.38h-1.5zM277.1 307.95h1.5v1.38h-1.5zM56.3 309.28h2.9v1.38h-2.9zM81.1 309.28h2.9v1.38h-2.9zM138.2 309.28h2.9v1.38h-2.9zM196.6 309.28h1.5v1.38h-1.5zM214.2 309.28h1.5v1.38h-1.5zM47.5 310.61h1.5v1.38h-1.5zM119.2 310.61h1.5v1.38h-1.5zM199.6 310.61h1.5v1.38h-1.5zM211.3 310.61h1.5v1.38h-1.5zM230.3 310.61h1.5v1.38h-1.5zM56.3 311.94h1.5v1.38h-1.5zM75.3 311.94h1.5v1.38h-1.5zM138.2 311.94h1.5v1.38h-1.5zM201.0 311.94h1.5v1.38h-1.5zM206.9 311.94h1.5v1.38h-1.5zM252.2 311.94h5.8v1.38h-5.8zM50.4 313.26h2.9v1.38h-2.9zM65.1 313.26h1.5v1.38h-1.5zM110.4 313.26h5.8v1.38h-5.8zM125.0 313.26h13.2v1.38h-13.2zM60.7 314.59h2.9v1.38h-2.9zM117.7 314.59h1.5v1.38h-1.5zM125.0 314.59h1.5v1.38h-1.5zM144.0 314.59h1.5v1.38h-1.5zM199.6 314.59h1.5v1.38h-1.5zM79.7 315.92h1.5v1.38h-1.5zM91.4 315.92h2.9v1.38h-2.9zM117.7 315.92h10.2v1.38h-10.2zM148.4 315.92h1.5v1.38h-1.5zM211.3 315.92h1.5v1.38h-1.5zM218.6 315.92h1.5v1.38h-1.5zM281.4 315.92h1.5v1.38h-1.5zM47.5 317.25h1.5v1.38h-1.5zM136.7 317.25h1.5v1.38h-1.5zM56.3 318.58h1.5v1.38h-1.5zM111.8 318.58h1.5v1.38h-1.5zM204.0 318.58h1.5v1.38h-1.5zM148.4 319.90h1.5v1.38h-1.5zM201.0 319.90h1.5v1.38h-1.5zM271.2 319.90h4.4v1.38h-4.4zM88.5 321.23h7.3v1.38h-7.3zM253.7 321.23h1.5v1.38h-1.5zM269.7 321.23h1.5v1.38h-1.5zM54.8 322.56h2.9v1.38h-2.9zM81.1 322.56h4.4v1.38h-4.4zM91.4 322.56h2.9v1.38h-2.9zM126.5 322.56h1.5v1.38h-1.5zM205.4 322.56h1.5v1.38h-1.5zM217.1 322.56h4.4v1.38h-4.4zM236.1 322.56h2.9v1.38h-2.9zM54.8 323.89h1.5v1.38h-1.5zM88.5 323.89h2.9v1.38h-2.9zM243.4 323.89h1.5v1.38h-1.5zM262.4 323.89h8.8v1.38h-8.8zM54.8 325.22h2.9v1.38h-2.9zM82.6 325.22h1.5v1.38h-1.5zM122.1 325.22h16.1v1.38h-16.1zM201.0 325.22h1.5v1.38h-1.5zM290.2 325.22h1.5v1.38h-1.5zM72.4 326.54h2.9v1.38h-2.9zM89.9 326.54h2.9v1.38h-2.9zM138.2 326.54h2.9v1.38h-2.9zM199.6 326.54h1.5v1.38h-1.5zM108.9 327.87h1.5v1.38h-1.5zM135.2 327.87h1.5v1.38h-1.5zM205.4 327.87h1.5v1.38h-1.5zM217.1 327.87h1.5v1.38h-1.5zM73.8 329.20h1.5v1.38h-1.5zM122.1 329.20h1.5v1.38h-1.5zM202.5 329.20h1.5v1.38h-1.5zM243.4 329.20h10.2v1.38h-10.2zM50.4 330.53h1.5v1.38h-1.5zM110.4 330.53h1.5v1.38h-1.5zM142.5 330.53h1.5v1.38h-1.5zM204.0 330.53h1.5v1.38h-1.5zM246.3 330.53h1.5v1.38h-1.5zM268.3 330.53h1.5v1.38h-1.5zM114.8 331.86h2.9v1.38h-2.9zM119.2 331.86h4.4v1.38h-4.4zM81.1 333.18h5.8v1.38h-5.8zM91.4 333.18h4.4v1.38h-4.4zM107.5 333.18h2.9v1.38h-2.9zM116.2 333.18h2.9v1.38h-2.9zM142.5 333.18h1.5v1.38h-1.5zM261.0 333.18h2.9v1.38h-2.9zM114.8 334.51h1.5v1.38h-1.5zM133.8 334.51h2.9v1.38h-2.9zM139.6 334.51h1.5v1.38h-1.5zM205.4 334.51h1.5v1.38h-1.5zM233.2 334.51h4.4v1.38h-4.4zM50.4 335.84h1.5v1.38h-1.5zM72.4 335.84h1.5v1.38h-1.5zM141.1 335.84h2.9v1.38h-2.9zM208.3 335.84h10.2v1.38h-10.2zM228.8 335.84h1.5v1.38h-1.5zM54.8 337.17h1.5v1.38h-1.5zM101.6 337.17h1.5v1.38h-1.5zM127.9 337.17h2.9v1.38h-2.9zM206.9 337.17h1.5v1.38h-1.5zM227.3 337.17h1.5v1.38h-1.5zM266.8 337.17h2.9v1.38h-2.9zM278.5 337.17h2.9v1.38h-2.9zM69.4 338.50h11.7v1.38h-11.7zM146.9 338.50h2.9v1.38h-2.9zM208.3 338.50h1.5v1.38h-1.5zM253.7 338.50h1.5v1.38h-1.5zM288.7 338.50h2.9v1.38h-2.9zM50.4 339.82h1.5v1.38h-1.5zM69.4 339.82h2.9v1.38h-2.9zM91.4 339.82h1.5v1.38h-1.5zM123.5 339.82h1.5v1.38h-1.5zM139.6 339.82h1.5v1.38h-1.5zM66.5 341.15h1.5v1.38h-1.5zM89.9 341.15h1.5v1.38h-1.5zM119.2 341.15h1.5v1.38h-1.5zM151.3 341.15h1.5v1.38h-1.5zM252.2 341.15h1.5v1.38h-1.5zM268.3 341.15h1.5v1.38h-1.5zM49.0 342.48h1.5v1.38h-1.5zM139.6 342.48h1.5v1.38h-1.5zM209.8 342.48h1.5v1.38h-1.5zM42.6 343.81h2.0v1.38h-2.0zM65.1 343.81h1.5v1.38h-1.5zM100.1 343.81h1.5v1.38h-1.5zM117.7 343.81h1.5v1.38h-1.5zM209.8 343.81h1.5v1.38h-1.5zM233.2 343.81h4.4v1.38h-4.4zM250.7 343.81h2.9v1.38h-2.9zM51.9 345.14h1.5v1.38h-1.5zM84.1 345.14h5.8v1.38h-5.8zM139.6 345.14h5.8v1.38h-5.8zM209.8 345.14h1.5v1.38h-1.5zM236.1 345.14h2.9v1.38h-2.9zM73.8 346.46h1.5v1.38h-1.5zM94.3 346.46h8.8v1.38h-8.8zM211.3 346.46h1.5v1.38h-1.5zM225.9 346.46h1.5v1.38h-1.5zM56.3 347.79h1.5v1.38h-1.5zM98.7 347.79h1.5v1.38h-1.5zM215.6 347.79h1.5v1.38h-1.5zM84.1 349.12h5.8v1.38h-5.8zM119.2 349.12h1.5v1.38h-1.5zM212.7 349.12h1.5v1.38h-1.5zM272.7 349.12h1.5v1.38h-1.5zM92.8 350.45h4.4v1.38h-4.4zM119.2 350.45h1.5v1.38h-1.5zM145.5 350.45h1.5v1.38h-1.5zM151.3 350.45h1.5v1.38h-1.5zM274.1 350.45h2.9v1.38h-2.9zM89.9 351.78h2.9v1.38h-2.9zM98.7 351.78h4.4v1.38h-4.4zM215.6 351.78h1.5v1.38h-1.5zM79.7 353.10h1.5v1.38h-1.5zM92.8 353.10h2.9v1.38h-2.9zM126.5 353.10h1.5v1.38h-1.5zM136.7 353.10h1.5v1.38h-1.5zM215.6 353.10h1.5v1.38h-1.5zM281.4 353.10h7.3v1.38h-7.3zM54.8 354.43h20.5v1.38h-20.5zM106.0 354.43h4.4v1.38h-4.4zM130.9 354.43h2.9v1.38h-2.9zM146.9 354.43h1.5v1.38h-1.5zM214.2 354.43h1.5v1.38h-1.5zM78.2 355.76h2.9v1.38h-2.9zM107.5 355.76h1.5v1.38h-1.5zM132.3 355.76h5.8v1.38h-5.8zM66.5 357.09h1.5v1.38h-1.5zM84.1 357.09h1.5v1.38h-1.5zM117.7 357.09h1.5v1.38h-1.5zM126.5 357.09h1.5v1.38h-1.5zM281.4 357.09h1.5v1.38h-1.5zM100.1 358.42h2.9v1.38h-2.9zM114.8 358.42h1.5v1.38h-1.5zM164.5 358.42h1.5v1.38h-1.5zM217.1 358.42h1.5v1.38h-1.5zM141.1 359.74h1.5v1.38h-1.5zM214.2 359.74h1.5v1.38h-1.5zM69.4 361.07h4.4v1.38h-4.4zM117.7 361.07h2.9v1.38h-2.9zM142.5 361.07h4.4v1.38h-4.4zM149.9 361.07h2.9v1.38h-2.9zM215.6 361.07h1.5v1.38h-1.5zM221.5 361.07h1.5v1.38h-1.5zM246.3 361.07h1.5v1.38h-1.5zM275.6 361.07h10.2v1.38h-10.2zM42.6 362.40h0.5v1.38h-0.5zM95.8 362.40h1.5v1.38h-1.5zM129.4 362.40h1.5v1.38h-1.5zM154.2 362.40h1.5v1.38h-1.5zM215.6 362.40h1.5v1.38h-1.5zM227.3 362.40h2.9v1.38h-2.9zM277.1 362.40h1.5v1.38h-1.5zM70.9 363.73h2.9v1.38h-2.9zM76.8 363.73h1.5v1.38h-1.5zM108.9 363.73h2.9v1.38h-2.9zM116.2 363.73h1.5v1.38h-1.5zM217.1 363.73h1.5v1.38h-1.5zM231.7 363.73h1.5v1.38h-1.5zM265.4 363.73h1.5v1.38h-1.5zM65.1 365.06h1.5v1.38h-1.5zM123.5 365.06h2.9v1.38h-2.9zM141.1 365.06h1.5v1.38h-1.5zM215.6 365.06h1.5v1.38h-1.5zM233.2 365.06h1.5v1.38h-1.5zM253.7 365.06h1.5v1.38h-1.5zM282.9 365.06h2.9v1.38h-2.9zM56.3 366.38h5.8v1.38h-5.8zM94.3 366.38h1.5v1.38h-1.5zM107.5 366.38h4.4v1.38h-4.4zM119.2 366.38h2.9v1.38h-2.9zM218.6 366.38h1.5v1.38h-1.5zM68.0 367.71h7.3v1.38h-7.3zM218.6 367.71h1.5v1.38h-1.5zM42.6 369.04h2.0v1.38h-2.0zM81.1 369.04h2.9v1.38h-2.9zM101.6 369.04h1.5v1.38h-1.5zM125.0 369.04h2.9v1.38h-2.9zM133.8 369.04h2.9v1.38h-2.9zM145.5 369.04h1.5v1.38h-1.5zM215.6 369.04h1.5v1.38h-1.5zM79.7 370.37h1.5v1.38h-1.5zM91.4 370.37h2.9v1.38h-2.9zM113.3 371.70h2.9v1.38h-2.9zM125.0 371.70h1.5v1.38h-1.5zM144.0 371.70h1.5v1.38h-1.5zM218.6 371.70h1.5v1.38h-1.5zM223.0 371.70h4.4v1.38h-4.4zM228.8 371.70h2.9v1.38h-2.9zM63.6 373.02h1.5v1.38h-1.5zM98.7 373.02h4.4v1.38h-4.4zM114.8 373.02h2.9v1.38h-2.9zM68.0 374.35h11.7v1.38h-11.7zM113.3 374.35h1.5v1.38h-1.5zM218.6 374.35h1.5v1.38h-1.5zM253.7 374.35h2.9v1.38h-2.9zM63.6 375.68h1.5v1.38h-1.5zM85.5 375.68h2.9v1.38h-2.9zM142.5 375.68h1.5v1.38h-1.5zM258.0 375.68h2.9v1.38h-2.9zM60.7 377.01h2.9v1.38h-2.9zM89.9 377.01h1.5v1.38h-1.5zM148.4 377.01h1.5v1.38h-1.5zM288.7 377.01h2.9v1.38h-2.9zM62.1 378.34h5.8v1.38h-5.8zM119.2 378.34h1.5v1.38h-1.5zM130.9 378.34h8.8v1.38h-8.8zM224.4 378.34h2.9v1.38h-2.9zM50.4 379.66h1.5v1.38h-1.5zM69.4 379.66h1.5v1.38h-1.5zM111.8 379.66h1.5v1.38h-1.5zM220.0 379.66h1.5v1.38h-1.5zM277.1 379.66h1.5v1.38h-1.5zM129.4 380.99h2.9v1.38h-2.9zM220.0 380.99h1.5v1.38h-1.5zM263.9 380.99h1.5v1.38h-1.5zM69.4 382.32h4.4v1.38h-4.4zM84.1 382.32h2.9v1.38h-2.9zM117.7 382.32h5.8v1.38h-5.8zM144.0 382.32h1.5v1.38h-1.5zM63.6 383.65h1.5v1.38h-1.5zM85.5 383.65h1.5v1.38h-1.5zM114.8 383.65h2.9v1.38h-2.9zM56.3 384.98h4.4v1.38h-4.4zM82.6 384.98h5.8v1.38h-5.8zM101.6 384.98h2.9v1.38h-2.9zM133.8 384.98h1.5v1.38h-1.5zM145.5 384.98h1.5v1.38h-1.5zM223.0 384.98h1.5v1.38h-1.5zM244.9 384.98h1.5v1.38h-1.5zM277.1 384.98h1.5v1.38h-1.5zM53.4 386.30h4.4v1.38h-4.4zM100.1 386.30h1.5v1.38h-1.5zM243.4 386.30h1.5v1.38h-1.5zM275.6 386.30h1.5v1.38h-1.5zM68.0 387.63h1.5v1.38h-1.5zM113.3 387.63h7.3v1.38h-7.3zM50.4 388.96h1.5v1.38h-1.5zM114.8 388.96h1.5v1.38h-1.5zM223.0 388.96h1.5v1.38h-1.5zM282.9 388.96h1.5v1.38h-1.5zM101.6 390.29h1.5v1.38h-1.5zM151.3 390.29h1.5v1.38h-1.5zM221.5 390.29h1.5v1.38h-1.5zM53.4 391.62h1.5v1.38h-1.5zM68.0 391.62h11.7v1.38h-11.7zM146.9 391.62h1.5v1.38h-1.5zM221.5 391.62h1.5v1.38h-1.5zM94.3 392.94h1.5v1.38h-1.5zM130.9 392.94h4.4v1.38h-4.4zM144.0 394.27h2.9v1.38h-2.9zM227.3 394.27h1.5v1.38h-1.5zM284.4 394.27h2.9v1.38h-2.9zM130.9 395.60h1.5v1.38h-1.5zM263.9 395.60h1.5v1.38h-1.5zM63.6 396.93h4.4v1.38h-4.4zM117.7 396.93h4.4v1.38h-4.4zM146.9 396.93h1.5v1.38h-1.5zM225.9 396.93h1.5v1.38h-1.5zM242.0 396.93h1.5v1.38h-1.5zM271.2 396.93h1.5v1.38h-1.5zM53.4 398.26h2.9v1.38h-2.9zM224.4 398.26h1.5v1.38h-1.5zM287.3 398.26h4.4v1.38h-4.4zM53.4 399.58h1.5v1.38h-1.5zM95.8 399.58h1.5v1.38h-1.5zM110.4 399.58h4.4v1.38h-4.4zM119.2 399.58h7.3v1.38h-7.3zM116.2 400.91h1.5v1.38h-1.5zM262.4 400.91h1.5v1.38h-1.5zM274.1 400.91h1.5v1.38h-1.5zM110.4 402.24h10.2v1.38h-10.2zM135.2 402.24h1.5v1.38h-1.5zM246.3 402.24h1.5v1.38h-1.5zM258.0 402.24h11.7v1.38h-11.7zM65.1 404.90h2.9v1.38h-2.9zM104.5 404.90h4.4v1.38h-4.4zM144.0 404.90h1.5v1.38h-1.5zM225.9 404.90h1.5v1.38h-1.5zM82.6 406.22h2.9v1.38h-2.9zM97.2 406.22h1.5v1.38h-1.5zM126.5 406.22h1.5v1.38h-1.5zM227.3 406.22h1.5v1.38h-1.5zM132.3 407.55h1.5v1.38h-1.5zM139.6 407.55h2.9v1.38h-2.9zM227.3 407.55h1.5v1.38h-1.5zM284.4 407.55h1.5v1.38h-1.5zM56.3 408.88h4.4v1.38h-4.4zM116.2 408.88h2.9v1.38h-2.9zM139.6 408.88h1.5v1.38h-1.5zM230.3 408.88h1.5v1.38h-1.5zM243.4 408.88h5.8v1.38h-5.8zM85.5 410.21h1.5v1.38h-1.5zM98.7 410.21h1.5v1.38h-1.5zM132.3 410.21h1.5v1.38h-1.5zM225.9 410.21h1.5v1.38h-1.5zM82.6 411.54h1.5v1.38h-1.5zM97.2 411.54h2.9v1.38h-2.9zM255.1 411.54h1.5v1.38h-1.5zM51.9 412.86h2.9v1.38h-2.9zM84.1 412.86h4.4v1.38h-4.4zM100.1 412.86h1.5v1.38h-1.5zM136.7 412.86h1.5v1.38h-1.5zM103.1 414.19h1.5v1.38h-1.5zM225.9 414.19h1.5v1.38h-1.5zM149.9 415.52h1.5v1.38h-1.5zM68.0 416.85h1.5v1.38h-1.5zM85.5 416.85h1.5v1.38h-1.5zM103.1 416.85h1.5v1.38h-1.5zM114.8 416.85h1.5v1.38h-1.5zM155.7 416.85h1.5v1.38h-1.5zM228.8 416.85h1.5v1.38h-1.5zM47.5 418.18h2.9v1.38h-2.9zM110.4 418.18h2.9v1.38h-2.9zM117.7 418.18h2.9v1.38h-2.9zM146.9 418.18h2.9v1.38h-2.9zM231.7 418.18h1.5v1.38h-1.5zM265.4 418.18h2.9v1.38h-2.9zM73.8 419.50h2.9v1.38h-2.9zM149.9 419.50h1.5v1.38h-1.5zM269.7 419.50h1.5v1.38h-1.5zM66.5 420.83h5.8v1.38h-5.8zM247.8 420.83h1.5v1.38h-1.5zM262.4 420.83h2.9v1.38h-2.9zM81.1 422.16h1.5v1.38h-1.5zM148.4 422.16h2.9v1.38h-2.9zM51.9 423.49h1.5v1.38h-1.5zM142.5 423.49h1.5v1.38h-1.5zM234.7 423.49h1.5v1.38h-1.5zM63.6 424.82h2.9v1.38h-2.9zM151.3 424.82h1.5v1.38h-1.5zM233.2 424.82h1.5v1.38h-1.5zM265.4 424.82h1.5v1.38h-1.5zM277.1 424.82h1.5v1.38h-1.5zM60.7 426.14h4.4v1.38h-4.4zM75.3 426.14h4.4v1.38h-4.4zM111.8 426.14h7.3v1.38h-7.3zM127.9 426.14h10.2v1.38h-10.2zM231.7 426.14h1.5v1.38h-1.5zM142.5 427.47h1.5v1.38h-1.5zM269.7 427.47h1.5v1.38h-1.5zM73.8 428.80h2.9v1.38h-2.9zM84.1 428.80h4.4v1.38h-4.4zM132.3 428.80h1.5v1.38h-1.5zM62.1 430.13h1.5v1.38h-1.5zM98.7 430.13h1.5v1.38h-1.5zM119.2 430.13h1.5v1.38h-1.5zM154.2 430.13h1.5v1.38h-1.5zM239.0 430.13h1.5v1.38h-1.5zM56.3 431.46h7.3v1.38h-7.3zM82.6 431.46h1.5v1.38h-1.5zM149.9 431.46h1.5v1.38h-1.5zM247.8 431.46h2.9v1.38h-2.9zM68.0 432.78h2.9v1.38h-2.9zM101.6 432.78h4.4v1.38h-4.4zM127.9 432.78h7.3v1.38h-7.3zM233.2 432.78h1.5v1.38h-1.5zM266.8 432.78h1.5v1.38h-1.5zM69.4 434.11h2.9v1.38h-2.9zM149.9 434.11h1.5v1.38h-1.5zM262.4 434.11h7.3v1.38h-7.3zM47.5 435.44h1.5v1.38h-1.5zM89.9 435.44h1.5v1.38h-1.5zM144.0 435.44h1.5v1.38h-1.5zM236.1 435.44h1.5v1.38h-1.5zM82.6 436.77h4.4v1.38h-4.4zM103.1 436.77h4.4v1.38h-4.4zM111.8 436.77h5.8v1.38h-5.8zM125.0 436.77h4.4v1.38h-4.4zM282.9 436.77h1.5v1.38h-1.5zM70.9 438.10h2.9v1.38h-2.9zM146.9 438.10h1.5v1.38h-1.5zM240.5 438.10h1.5v1.38h-1.5zM66.5 439.42h4.4v1.38h-4.4zM108.9 439.42h2.9v1.38h-2.9zM136.7 439.42h2.9v1.38h-2.9zM282.9 439.42h2.9v1.38h-2.9zM42.6 440.75h12.2v1.38h-12.2zM242.0 440.75h7.3v1.38h-7.3zM265.4 440.75h1.5v1.38h-1.5zM62.1 442.08h1.5v1.38h-1.5zM146.9 442.08h1.5v1.38h-1.5zM280.0 442.08h1.5v1.38h-1.5zM51.9 443.41h1.5v1.38h-1.5zM148.4 443.41h1.5v1.38h-1.5zM243.4 443.41h1.5v1.38h-1.5zM97.2 444.74h2.9v1.38h-2.9zM242.0 444.74h1.5v1.38h-1.5zM271.2 444.74h1.5v1.38h-1.5zM282.9 444.74h1.5v1.38h-1.5zM42.6 446.06h4.9v1.38h-4.9zM59.2 446.06h2.9v1.38h-2.9zM73.8 446.06h1.5v1.38h-1.5zM116.2 447.39h1.5v1.38h-1.5zM263.9 447.39h1.5v1.38h-1.5zM285.8 447.39h5.8v1.38h-5.8zM104.5 448.72h1.5v1.38h-1.5zM62.1 450.05h1.5v1.38h-1.5zM81.1 450.05h4.4v1.38h-4.4zM111.8 450.05h2.9v1.38h-2.9zM135.2 450.05h1.5v1.38h-1.5zM59.2 451.38h1.5v1.38h-1.5zM75.3 451.38h1.5v1.38h-1.5zM252.2 451.38h1.5v1.38h-1.5zM47.5 452.70h2.9v1.38h-2.9zM129.4 452.70h4.4v1.38h-4.4zM145.5 452.70h1.5v1.38h-1.5zM256.6 452.70h1.5v1.38h-1.5zM97.2 454.03h1.5v1.38h-1.5zM256.6 454.03h1.5v1.38h-1.5zM68.0 455.36h1.5v1.38h-1.5zM94.3 455.36h2.9v1.38h-2.9zM106.0 455.36h8.8v1.38h-8.8zM73.8 456.69h1.5v1.38h-1.5zM133.8 456.69h4.4v1.38h-4.4zM135.2 458.02h2.9v1.38h-2.9zM263.9 458.02h2.9v1.38h-2.9zM271.2 458.02h1.5v1.38h-1.5zM50.4 459.34h1.5v1.38h-1.5zM152.8 459.34h1.5v1.38h-1.5zM98.7 460.67h2.9v1.38h-2.9zM111.8 460.67h2.9v1.38h-2.9zM135.2 460.67h1.5v1.38h-1.5z"/>
<path fill="#502699" d="M101.6 296.00h1.5v1.38h-1.5zM127.9 296.00h1.5v1.38h-1.5zM196.6 296.00h1.5v1.38h-1.5zM211.3 296.00h1.5v1.38h-1.5zM231.7 296.00h1.5v1.38h-1.5zM258.0 296.00h4.4v1.38h-4.4zM51.9 297.33h1.5v1.38h-1.5zM95.8 297.33h1.5v1.38h-1.5zM196.6 297.33h1.5v1.38h-1.5zM73.8 298.66h1.5v1.38h-1.5zM95.8 298.66h13.2v1.38h-13.2zM130.9 298.66h1.5v1.38h-1.5zM141.1 298.66h1.5v1.38h-1.5zM195.2 298.66h1.5v1.38h-1.5zM205.4 298.66h1.5v1.38h-1.5zM243.4 298.66h4.4v1.38h-4.4zM104.5 299.98h1.5v1.38h-1.5zM122.1 299.98h2.9v1.38h-2.9zM278.5 299.98h13.2v1.38h-13.2zM46.1 301.31h1.5v1.38h-1.5zM87.0 301.31h1.5v1.38h-1.5zM123.5 301.31h1.5v1.38h-1.5zM138.2 301.31h1.5v1.38h-1.5zM209.8 301.31h1.5v1.38h-1.5zM233.2 301.31h2.9v1.38h-2.9zM239.0 301.31h4.4v1.38h-4.4zM255.1 301.31h1.5v1.38h-1.5zM290.2 301.31h1.5v1.38h-1.5zM89.9 302.64h10.2v1.38h-10.2zM135.2 302.64h1.5v1.38h-1.5zM82.6 303.97h2.9v1.38h-2.9zM106.0 303.97h2.9v1.38h-2.9zM135.2 303.97h1.5v1.38h-1.5zM151.3 303.97h1.5v1.38h-1.5zM201.0 303.97h1.5v1.38h-1.5zM242.0 303.97h1.5v1.38h-1.5zM274.1 303.97h1.5v1.38h-1.5zM60.7 305.30h5.8v1.38h-5.8zM76.8 305.30h2.9v1.38h-2.9zM117.7 305.30h2.9v1.38h-2.9zM198.1 305.30h1.5v1.38h-1.5zM252.2 305.30h1.5v1.38h-1.5zM42.6 306.62h6.4v1.38h-6.4zM53.4 306.62h2.9v1.38h-2.9zM92.8 306.62h5.8v1.38h-5.8zM111.8 306.62h7.3v1.38h-7.3zM133.8 306.62h2.9v1.38h-2.9zM51.9 307.95h1.5v1.38h-1.5zM218.6 307.95h1.5v1.38h-1.5zM231.7 307.95h2.9v1.38h-2.9zM242.0 307.95h2.9v1.38h-2.9zM54.8 309.28h1.5v1.38h-1.5zM84.1 309.28h4.4v1.38h-4.4zM127.9 309.28h10.2v1.38h-10.2zM230.3 309.28h1.5v1.38h-1.5zM49.0 310.61h1.5v1.38h-1.5zM117.7 310.61h1.5v1.38h-1.5zM209.8 310.61h1.5v1.38h-1.5zM231.7 310.61h1.5v1.38h-1.5zM54.8 311.94h1.5v1.38h-1.5zM76.8 311.94h1.5v1.38h-1.5zM136.7 311.94h1.5v1.38h-1.5zM202.5 311.94h4.4v1.38h-4.4zM258.0 311.94h2.9v1.38h-2.9zM49.0 313.26h1.5v1.38h-1.5zM66.5 313.26h1.5v1.38h-1.5zM101.6 313.26h8.8v1.38h-8.8zM63.6 314.59h1.5v1.38h-1.5zM85.5 314.59h1.5v1.38h-1.5zM126.5 314.59h1.5v1.38h-1.5zM142.5 314.59h1.5v1.38h-1.5zM201.0 314.59h1.5v1.38h-1.5zM243.4 314.59h4.4v1.38h-4.4zM78.2 315.92h1.5v1.38h-1.5zM94.3 315.92h2.9v1.38h-2.9zM114.8 315.92h2.9v1.38h-2.9zM127.9 315.92h2.9v1.38h-2.9zM202.5 315.92h1.5v1.38h-1.5zM209.8 315.92h1.5v1.38h-1.5zM220.0 315.92h1.5v1.38h-1.5zM278.5 315.92h2.9v1.38h-2.9zM43.1 317.25h4.4v1.38h-4.4zM82.6 317.25h1.5v1.38h-1.5zM135.2 317.25h1.5v1.38h-1.5zM205.4 317.25h1.5v1.38h-1.5zM265.4 317.25h2.9v1.38h-2.9zM57.8 318.58h1.5v1.38h-1.5zM97.2 318.58h1.5v1.38h-1.5zM139.6 318.58h1.5v1.38h-1.5zM146.9 319.90h1.5v1.38h-1.5zM259.5 319.90h11.7v1.38h-11.7zM60.7 321.23h4.4v1.38h-4.4zM84.1 321.23h4.4v1.38h-4.4zM252.2 321.23h1.5v1.38h-1.5zM271.2 321.23h1.5v1.38h-1.5zM57.8 322.56h2.9v1.38h-2.9zM78.2 322.56h2.9v1.38h-2.9zM94.3 322.56h1.5v1.38h-1.5zM123.5 322.56h2.9v1.38h-2.9zM206.9 322.56h2.9v1.38h-2.9zM212.7 322.56h4.4v1.38h-4.4zM239.0 322.56h2.9v1.38h-2.9zM91.4 323.89h1.5v1.38h-1.5zM123.5 323.89h5.8v1.38h-5.8zM149.9 323.89h1.5v1.38h-1.5zM242.0 323.89h1.5v1.38h-1.5zM53.4 325.22h1.5v1.38h-1.5zM84.1 325.22h1.5v1.38h-1.5zM119.2 325.22h2.9v1.38h-2.9zM256.6 325.22h5.8v1.38h-5.8zM287.3 325.22h2.9v1.38h-2.9zM69.4 326.54h2.9v1.38h-2.9zM92.8 326.54h7.3v1.38h-7.3zM117.7 326.54h10.2v1.38h-10.2zM133.8 326.54h4.4v1.38h-4.4zM107.5 327.87h1.5v1.38h-1.5zM136.7 327.87h1.5v1.38h-1.5zM157.2 327.87h1.5v1.38h-1.5zM206.9 327.87h2.9v1.38h-2.9zM214.2 327.87h2.9v1.38h-2.9zM265.4 327.87h1.5v1.38h-1.5zM75.3 329.20h1.5v1.38h-1.5zM120.6 329.20h1.5v1.38h-1.5zM223.0 329.20h10.2v1.38h-10.2zM239.0 329.20h4.4v1.38h-4.4zM253.7 329.20h1.5v1.38h-1.5zM49.0 330.53h1.5v1.38h-1.5zM111.8 330.53h4.4v1.38h-4.4zM139.6 330.53h2.9v1.38h-2.9zM244.9 330.53h1.5v1.38h-1.5zM269.7 330.53h1.5v1.38h-1.5zM53.4 331.86h1.5v1.38h-1.5zM79.7 331.86h1.5v1.38h-1.5zM113.3 331.86h1.5v1.38h-1.5zM123.5 331.86h1.5v1.38h-1.5zM146.9 331.86h1.5v1.38h-1.5zM220.0 331.86h2.9v1.38h-2.9zM78.2 333.18h2.9v1.38h-2.9zM95.8 333.18h5.8v1.38h-5.8zM103.1 333.18h4.4v1.38h-4.4zM119.2 333.18h1.5v1.38h-1.5zM141.1 333.18h1.5v1.38h-1.5zM206.9 333.18h1.5v1.38h-1.5zM258.0 333.18h2.9v1.38h-2.9zM113.3 334.51h1.5v1.38h-1.5zM136.7 334.51h2.9v1.38h-2.9zM230.3 334.51h2.9v1.38h-2.9zM237.6 334.51h2.9v1.38h-2.9zM274.1 334.51h1.5v1.38h-1.5zM73.8 335.84h1.5v1.38h-1.5zM126.5 335.84h14.6v1.38h-14.6zM230.3 335.84h1.5v1.38h-1.5zM125.0 337.17h2.9v1.38h-2.9zM269.7 337.17h8.8v1.38h-8.8zM42.6 338.50h2.0v1.38h-2.0zM66.5 338.50h2.9v1.38h-2.9zM81.1 338.50h32.2v1.38h-32.2zM144.0 338.50h2.9v1.38h-2.9zM227.3 338.50h1.5v1.38h-1.5zM255.1 338.50h1.5v1.38h-1.5zM47.5 339.82h2.9v1.38h-2.9zM72.4 339.82h2.9v1.38h-2.9zM88.5 339.82h2.9v1.38h-2.9zM125.0 339.82h1.5v1.38h-1.5zM138.2 339.82h1.5v1.38h-1.5zM208.3 339.82h1.5v1.38h-1.5zM220.0 339.82h7.3v1.38h-7.3zM51.9 341.15h1.5v1.38h-1.5zM120.6 341.15h1.5v1.38h-1.5zM149.9 341.15h1.5v1.38h-1.5zM205.4 341.15h1.5v1.38h-1.5zM250.7 341.15h1.5v1.38h-1.5zM269.7 341.15h4.4v1.38h-4.4zM50.4 342.48h1.5v1.38h-1.5zM138.2 342.48h1.5v1.38h-1.5zM44.6 343.81h1.5v1.38h-1.5zM63.6 343.81h1.5v1.38h-1.5zM101.6 343.81h1.5v1.38h-1.5zM116.2 343.81h1.5v1.38h-1.5zM231.7 343.81h1.5v1.38h-1.5zM253.7 343.81h1.5v1.38h-1.5zM53.4 345.14h1.5v1.38h-1.5zM81.1 345.14h2.9v1.38h-2.9zM230.3 345.14h5.8v1.38h-5.8zM239.0 345.14h4.4v1.38h-4.4zM70.9 346.46h2.9v1.38h-2.9zM224.4 346.46h1.5v1.38h-1.5zM250.7 346.46h1.5v1.38h-1.5zM57.8 347.79h1.5v1.38h-1.5zM97.2 347.79h1.5v1.38h-1.5zM217.1 347.79h1.5v1.38h-1.5zM57.8 349.12h7.3v1.38h-7.3zM78.2 349.12h5.8v1.38h-5.8zM89.9 349.12h5.8v1.38h-5.8zM117.7 349.12h1.5v1.38h-1.5zM271.2 349.12h1.5v1.38h-1.5zM91.4 350.45h1.5v1.38h-1.5zM97.2 350.45h2.9v1.38h-2.9zM117.7 350.45h1.5v1.38h-1.5zM146.9 350.45h4.4v1.38h-4.4zM214.2 350.45h1.5v1.38h-1.5zM271.2 350.45h2.9v1.38h-2.9zM92.8 351.78h5.8v1.38h-5.8zM217.1 351.78h1.5v1.38h-1.5zM263.9 351.78h1.5v1.38h-1.5zM81.1 353.10h2.9v1.38h-2.9zM89.9 353.10h2.9v1.38h-2.9zM127.9 353.10h1.5v1.38h-1.5zM135.2 353.10h1.5v1.38h-1.5zM217.1 353.10h1.5v1.38h-1.5zM280.0 353.10h1.5v1.38h-1.5zM75.3 354.43h4.4v1.38h-4.4zM100.1 354.43h5.8v1.38h-5.8zM133.8 354.43h2.9v1.38h-2.9zM144.0 354.43h2.9v1.38h-2.9zM81.1 355.76h4.4v1.38h-4.4zM106.0 355.76h1.5v1.38h-1.5zM217.1 355.76h1.5v1.38h-1.5zM65.1 357.09h1.5v1.38h-1.5zM116.2 357.09h1.5v1.38h-1.5zM127.9 357.09h1.5v1.38h-1.5zM214.2 357.09h1.5v1.38h-1.5zM280.0 357.09h1.5v1.38h-1.5zM98.7 358.42h1.5v1.38h-1.5zM116.2 358.42h1.5v1.38h-1.5zM218.6 358.42h1.5v1.38h-1.5zM139.6 359.74h1.5v1.38h-1.5zM215.6 359.74h1.5v1.38h-1.5zM65.1 361.07h4.4v1.38h-4.4zM146.9 361.07h2.9v1.38h-2.9zM217.1 361.07h4.4v1.38h-4.4zM247.8 361.07h1.5v1.38h-1.5zM272.7 361.07h2.9v1.38h-2.9zM285.8 361.07h5.8v1.38h-5.8zM151.3 362.40h2.9v1.38h-2.9zM217.1 362.40h1.5v1.38h-1.5zM225.9 362.40h1.5v1.38h-1.5zM68.0 363.73h2.9v1.38h-2.9zM78.2 363.73h1.5v1.38h-1.5zM107.5 363.73h1.5v1.38h-1.5zM117.7 363.73h1.5v1.38h-1.5zM135.2 363.73h1.5v1.38h-1.5zM230.3 363.73h1.5v1.38h-1.5zM266.8 363.73h1.5v1.38h-1.5zM63.6 365.06h1.5v1.38h-1.5zM126.5 365.06h1.5v1.38h-1.5zM139.6 365.06h1.5v1.38h-1.5zM217.1 365.06h1.5v1.38h-1.5zM231.7 365.06h1.5v1.38h-1.5zM255.1 365.06h2.9v1.38h-2.9zM281.4 365.06h1.5v1.38h-1.5zM54.8 366.38h1.5v1.38h-1.5zM62.1 366.38h1.5v1.38h-1.5zM92.8 366.38h1.5v1.38h-1.5zM111.8 366.38h7.3v1.38h-7.3zM65.1 367.71h2.9v1.38h-2.9zM75.3 367.71h1.5v1.38h-1.5zM133.8 367.71h1.5v1.38h-1.5zM220.0 367.71h1.5v1.38h-1.5zM44.6 369.04h4.4v1.38h-4.4zM79.7 369.04h1.5v1.38h-1.5zM103.1 369.04h1.5v1.38h-1.5zM123.5 369.04h1.5v1.38h-1.5zM144.0 369.04h1.5v1.38h-1.5zM78.2 370.37h1.5v1.38h-1.5zM94.3 370.37h1.5v1.38h-1.5zM154.2 370.37h1.5v1.38h-1.5zM218.6 370.37h1.5v1.38h-1.5zM110.4 371.70h2.9v1.38h-2.9zM126.5 371.70h2.9v1.38h-2.9zM142.5 371.70h1.5v1.38h-1.5zM220.0 371.70h2.9v1.38h-2.9zM231.7 371.70h1.5v1.38h-1.5zM269.7 371.70h4.4v1.38h-4.4zM62.1 373.02h1.5v1.38h-1.5zM103.1 373.02h11.7v1.38h-11.7zM79.7 374.35h5.8v1.38h-5.8zM111.8 374.35h1.5v1.38h-1.5zM220.0 374.35h1.5v1.38h-1.5zM249.3 374.35h4.4v1.38h-4.4zM256.6 374.35h2.9v1.38h-2.9zM62.1 375.68h1.5v1.38h-1.5zM88.5 375.68h1.5v1.38h-1.5zM250.7 375.68h7.3v1.38h-7.3zM261.0 375.68h7.3v1.38h-7.3zM59.2 377.01h1.5v1.38h-1.5zM91.4 377.01h1.5v1.38h-1.5zM225.9 377.01h1.5v1.38h-1.5zM285.8 377.01h2.9v1.38h-2.9zM60.7 378.34h1.5v1.38h-1.5zM68.0 378.34h1.5v1.38h-1.5zM117.7 378.34h1.5v1.38h-1.5zM227.3 378.34h2.9v1.38h-2.9zM49.0 379.66h1.5v1.38h-1.5zM70.9 379.66h1.5v1.38h-1.5zM275.6 379.66h1.5v1.38h-1.5zM126.5 380.99h2.9v1.38h-2.9zM262.4 380.99h1.5v1.38h-1.5zM73.8 382.32h10.2v1.38h-10.2zM123.5 382.32h4.4v1.38h-4.4zM141.1 382.32h2.9v1.38h-2.9zM62.1 383.65h1.5v1.38h-1.5zM87.0 383.65h1.5v1.38h-1.5zM113.3 383.65h1.5v1.38h-1.5zM224.4 383.65h1.5v1.38h-1.5zM266.8 383.65h5.8v1.38h-5.8zM50.4 384.98h5.8v1.38h-5.8zM88.5 384.98h4.4v1.38h-4.4zM97.2 384.98h4.4v1.38h-4.4zM135.2 384.98h1.5v1.38h-1.5zM142.5 384.98h2.9v1.38h-2.9zM224.4 384.98h1.5v1.38h-1.5zM242.0 384.98h2.9v1.38h-2.9zM278.5 384.98h1.5v1.38h-1.5zM49.0 386.30h4.4v1.38h-4.4zM57.8 386.30h2.9v1.38h-2.9zM98.7 386.30h1.5v1.38h-1.5zM221.5 386.30h1.5v1.38h-1.5zM242.0 386.30h1.5v1.38h-1.5zM69.4 387.63h2.9v1.38h-2.9zM111.8 387.63h1.5v1.38h-1.5zM231.7 387.63h1.5v1.38h-1.5zM51.9 388.96h1.5v1.38h-1.5zM65.1 388.96h2.9v1.38h-2.9zM98.7 388.96h1.5v1.38h-1.5zM144.0 388.96h1.5v1.38h-1.5zM281.4 388.96h1.5v1.38h-1.5zM59.2 390.29h1.5v1.38h-1.5zM51.9 391.62h1.5v1.38h-1.5zM79.7 391.62h5.8v1.38h-5.8zM145.5 391.62h1.5v1.38h-1.5zM69.4 392.94h1.5v1.38h-1.5zM129.4 392.94h1.5v1.38h-1.5zM135.2 392.94h1.5v1.38h-1.5zM151.3 392.94h1.5v1.38h-1.5zM221.5 392.94h1.5v1.38h-1.5zM142.5 394.27h1.5v1.38h-1.5zM282.9 394.27h1.5v1.38h-1.5zM129.4 395.60h1.5v1.38h-1.5zM224.4 395.60h1.5v1.38h-1.5zM261.0 395.60h2.9v1.38h-2.9zM60.7 396.93h2.9v1.38h-2.9zM122.1 396.93h5.8v1.38h-5.8zM145.5 396.93h1.5v1.38h-1.5zM240.5 396.93h1.5v1.38h-1.5zM272.7 396.93h2.9v1.38h-2.9zM51.9 398.26h1.5v1.38h-1.5zM225.9 398.26h1.5v1.38h-1.5zM285.8 398.26h1.5v1.38h-1.5zM94.3 399.58h1.5v1.38h-1.5zM114.8 399.58h4.4v1.38h-4.4zM224.4 399.58h1.5v1.38h-1.5zM282.9 399.58h1.5v1.38h-1.5zM69.4 400.91h13.2v1.38h-13.2zM114.8 400.91h1.5v1.38h-1.5zM261.0 400.91h1.5v1.38h-1.5zM275.6 400.91h1.5v1.38h-1.5zM42.6 402.24h4.9v1.38h-4.9zM87.0 402.24h7.3v1.38h-7.3zM107.5 402.24h2.9v1.38h-2.9zM120.6 402.24h2.9v1.38h-2.9zM133.8 402.24h1.5v1.38h-1.5zM244.9 402.24h1.5v1.38h-1.5zM157.2 403.57h1.5v1.38h-1.5zM227.3 403.57h1.5v1.38h-1.5zM288.7 403.57h2.9v1.38h-2.9zM62.1 404.90h2.9v1.38h-2.9zM108.9 404.90h2.9v1.38h-2.9zM142.5 404.90h1.5v1.38h-1.5zM85.5 406.22h1.5v1.38h-1.5zM94.3 406.22h2.9v1.38h-2.9zM146.9 406.22h1.5v1.38h-1.5zM228.8 406.22h1.5v1.38h-1.5zM111.8 407.55h1.5v1.38h-1.5zM133.8 407.55h5.8v1.38h-5.8zM228.8 407.55h1.5v1.38h-1.5zM282.9 407.55h1.5v1.38h-1.5zM54.8 408.88h1.5v1.38h-1.5zM119.2 408.88h1.5v1.38h-1.5zM136.7 408.88h2.9v1.38h-2.9zM231.7 408.88h1.5v1.38h-1.5zM239.0 408.88h4.4v1.38h-4.4zM249.3 408.88h2.9v1.38h-2.9zM84.1 410.21h1.5v1.38h-1.5zM100.1 410.21h1.5v1.38h-1.5zM130.9 410.21h1.5v1.38h-1.5zM227.3 410.21h2.9v1.38h-2.9zM233.2 410.21h8.8v1.38h-8.8zM81.1 411.54h1.5v1.38h-1.5zM100.1 411.54h2.9v1.38h-2.9zM256.6 411.54h1.5v1.38h-1.5zM54.8 412.86h2.9v1.38h-2.9zM81.1 412.86h2.9v1.38h-2.9zM101.6 412.86h2.9v1.38h-2.9zM135.2 412.86h1.5v1.38h-1.5zM227.3 412.86h1.5v1.38h-1.5zM69.4 415.52h1.5v1.38h-1.5zM92.8 415.52h1.5v1.38h-1.5zM148.4 415.52h1.5v1.38h-1.5zM230.3 415.52h1.5v1.38h-1.5zM87.0 416.85h1.5v1.38h-1.5zM100.1 416.85h2.9v1.38h-2.9zM116.2 416.85h1.5v1.38h-1.5zM50.4 418.18h2.9v1.38h-2.9zM88.5 418.18h4.4v1.38h-4.4zM107.5 418.18h2.9v1.38h-2.9zM120.6 418.18h2.9v1.38h-2.9zM145.5 418.18h1.5v1.38h-1.5zM233.2 418.18h1.5v1.38h-1.5zM263.9 418.18h1.5v1.38h-1.5zM76.8 419.50h1.5v1.38h-1.5zM119.2 419.50h10.2v1.38h-10.2zM148.4 419.50h1.5v1.38h-1.5zM271.2 419.50h2.9v1.38h-2.9zM72.4 420.83h2.9v1.38h-2.9zM103.1 420.83h10.2v1.38h-10.2zM146.9 420.83h1.5v1.38h-1.5zM231.7 420.83h1.5v1.38h-1.5zM246.3 420.83h1.5v1.38h-1.5zM265.4 420.83h2.9v1.38h-2.9zM100.1 422.16h1.5v1.38h-1.5zM146.9 422.16h1.5v1.38h-1.5zM228.8 422.16h1.5v1.38h-1.5zM53.4 423.49h1.5v1.38h-1.5zM141.1 423.49h1.5v1.38h-1.5zM236.1 423.49h1.5v1.38h-1.5zM66.5 424.82h2.9v1.38h-2.9zM149.9 424.82h1.5v1.38h-1.5zM278.5 424.82h1.5v1.38h-1.5zM59.2 426.14h1.5v1.38h-1.5zM79.7 426.14h1.5v1.38h-1.5zM107.5 426.14h4.4v1.38h-4.4zM139.6 427.47h2.9v1.38h-2.9zM271.2 427.47h2.9v1.38h-2.9zM70.9 428.80h2.9v1.38h-2.9zM88.5 428.80h4.4v1.38h-4.4zM130.9 428.80h1.5v1.38h-1.5zM234.7 428.80h1.5v1.38h-1.5zM97.2 430.13h1.5v1.38h-1.5zM120.6 430.13h2.9v1.38h-2.9zM240.5 430.13h13.2v1.38h-13.2zM84.1 431.46h1.5v1.38h-1.5zM129.4 431.46h5.8v1.38h-5.8zM148.4 431.46h1.5v1.38h-1.5zM250.7 431.46h1.5v1.38h-1.5zM277.1 431.46h1.5v1.38h-1.5zM70.9 432.78h1.5v1.38h-1.5zM97.2 432.78h4.4v1.38h-4.4zM234.7 432.78h1.5v1.38h-1.5zM265.4 432.78h1.5v1.38h-1.5zM72.4 434.11h1.5v1.38h-1.5zM261.0 434.11h1.5v1.38h-1.5zM269.7 434.11h2.9v1.38h-2.9zM287.3 434.11h4.4v1.38h-4.4zM88.5 435.44h1.5v1.38h-1.5zM117.7 435.44h1.5v1.38h-1.5zM142.5 435.44h1.5v1.38h-1.5zM237.6 435.44h1.5v1.38h-1.5zM87.0 436.77h2.9v1.38h-2.9zM100.1 436.77h2.9v1.38h-2.9zM117.7 436.77h7.3v1.38h-7.3zM237.6 436.77h1.5v1.38h-1.5zM281.4 436.77h1.5v1.38h-1.5zM73.8 438.10h2.9v1.38h-2.9zM145.5 438.10h1.5v1.38h-1.5zM242.0 438.10h1.5v1.38h-1.5zM65.1 439.42h1.5v1.38h-1.5zM111.8 439.42h5.8v1.38h-5.8zM133.8 439.42h2.9v1.38h-2.9zM255.1 439.42h1.5v1.38h-1.5zM285.8 439.42h5.8v1.38h-5.8zM54.8 440.75h4.4v1.38h-4.4zM154.2 440.75h1.5v1.38h-1.5zM266.8 440.75h1.5v1.38h-1.5zM63.6 442.08h1.5v1.38h-1.5zM101.6 442.08h13.2v1.38h-13.2zM145.5 442.08h1.5v1.38h-1.5zM244.9 442.08h1.5v1.38h-1.5zM278.5 442.08h1.5v1.38h-1.5zM49.0 443.41h2.9v1.38h-2.9zM123.5 443.41h1.5v1.38h-1.5zM146.9 443.41h1.5v1.38h-1.5zM94.3 444.74h2.9v1.38h-2.9zM269.7 444.74h1.5v1.38h-1.5zM284.4 444.74h2.9v1.38h-2.9zM47.5 446.06h2.9v1.38h-2.9zM57.8 446.06h1.5v1.38h-1.5zM75.3 446.06h1.5v1.38h-1.5zM106.0 446.06h13.2v1.38h-13.2zM157.2 446.06h1.5v1.38h-1.5zM249.3 446.06h1.5v1.38h-1.5zM82.6 447.39h1.5v1.38h-1.5zM113.3 447.39h2.9v1.38h-2.9zM262.4 447.39h1.5v1.38h-1.5zM106.0 448.72h1.5v1.38h-1.5zM145.5 448.72h1.5v1.38h-1.5zM249.3 448.72h1.5v1.38h-1.5zM263.9 448.72h1.5v1.38h-1.5zM63.6 450.05h1.5v1.38h-1.5zM78.2 450.05h2.9v1.38h-2.9zM114.8 450.05h2.9v1.38h-2.9zM132.3 450.05h2.9v1.38h-2.9zM253.7 450.05h1.5v1.38h-1.5zM60.7 451.38h1.5v1.38h-1.5zM73.8 451.38h1.5v1.38h-1.5zM91.4 451.38h1.5v1.38h-1.5zM122.1 451.38h1.5v1.38h-1.5zM46.1 452.70h1.5v1.38h-1.5zM133.8 452.70h2.9v1.38h-2.9zM144.0 452.70h1.5v1.38h-1.5zM258.0 452.70h1.5v1.38h-1.5zM62.1 454.03h1.5v1.38h-1.5zM42.6 455.36h3.5v1.38h-3.5zM66.5 455.36h1.5v1.38h-1.5zM97.2 455.36h8.8v1.38h-8.8zM256.6 455.36h1.5v1.38h-1.5zM129.4 456.69h4.4v1.38h-4.4zM256.6 456.69h1.5v1.38h-1.5zM132.3 458.02h2.9v1.38h-2.9zM272.7 458.02h1.5v1.38h-1.5zM51.9 459.34h1.5v1.38h-1.5zM265.4 459.34h1.5v1.38h-1.5zM97.2 460.67h1.5v1.38h-1.5zM114.8 460.67h2.9v1.38h-2.9zM133.8 460.67h1.5v1.38h-1.5z"/>
<path fill="#62229c" d="M103.1 296.00h1.5v1.38h-1.5zM126.5 296.00h1.5v1.38h-1.5zM198.1 296.00h1.5v1.38h-1.5zM208.3 296.00h2.9v1.38h-2.9zM233.2 296.00h2.9v1.38h-2.9zM252.2 296.00h5.8v1.38h-5.8zM53.4 297.33h1.5v1.38h-1.5zM198.1 297.33h1.5v1.38h-1.5zM72.4 298.66h1.5v1.38h-1.5zM132.3 298.66h2.9v1.38h-2.9zM139.6 298.66h1.5v1.38h-1.5zM196.6 298.66h1.5v1.38h-1.5zM204.0 298.66h1.5v1.38h-1.5zM53.4 299.98h1.5v1.38h-1.5zM106.0 299.98h1.5v1.38h-1.5zM120.6 299.98h1.5v1.38h-1.5zM277.1 299.98h1.5v1.38h-1.5zM47.5 301.31h1.5v1.38h-1.5zM211.3 301.31h1.5v1.38h-1.5zM230.3 301.31h2.9v1.38h-2.9zM243.4 301.31h2.9v1.38h-2.9zM253.7 301.31h1.5v1.38h-1.5zM88.5 302.64h1.5v1.38h-1.5zM100.1 302.64h2.9v1.38h-2.9zM130.9 302.64h4.4v1.38h-4.4zM199.6 302.64h1.5v1.38h-1.5zM268.3 302.64h1.5v1.38h-1.5zM76.8 303.97h5.8v1.38h-5.8zM136.7 303.97h1.5v1.38h-1.5zM202.5 303.97h1.5v1.38h-1.5zM240.5 303.97h1.5v1.38h-1.5zM275.6 303.97h1.5v1.38h-1.5zM79.7 305.30h1.5v1.38h-1.5zM114.8 305.30h2.9v1.38h-2.9zM56.3 306.62h1.5v1.38h-1.5zM91.4 306.62h1.5v1.38h-1.5zM98.7 306.62h13.2v1.38h-13.2zM119.2 306.62h4.4v1.38h-4.4zM132.3 306.62h1.5v1.38h-1.5zM201.0 306.62h1.5v1.38h-1.5zM50.4 307.95h1.5v1.38h-1.5zM66.5 307.95h1.5v1.38h-1.5zM120.6 307.95h1.5v1.38h-1.5zM199.6 307.95h1.5v1.38h-1.5zM217.1 307.95h1.5v1.38h-1.5zM234.7 307.95h7.3v1.38h-7.3zM278.5 307.95h1.5v1.38h-1.5zM53.4 309.28h1.5v1.38h-1.5zM88.5 309.28h4.4v1.38h-4.4zM123.5 309.28h4.4v1.38h-4.4zM212.7 309.28h1.5v1.38h-1.5zM231.7 309.28h1.5v1.38h-1.5zM201.0 310.61h1.5v1.38h-1.5zM208.3 310.61h1.5v1.38h-1.5zM233.2 310.61h1.5v1.38h-1.5zM53.4 311.94h1.5v1.38h-1.5zM135.2 311.94h1.5v1.38h-1.5zM261.0 311.94h2.9v1.38h-2.9zM47.5 313.26h1.5v1.38h-1.5zM68.0 313.26h2.9v1.38h-2.9zM94.3 313.26h7.3v1.38h-7.3zM199.6 313.26h1.5v1.38h-1.5zM285.8 313.26h5.8v1.38h-5.8zM65.1 314.59h2.9v1.38h-2.9zM79.7 314.59h5.8v1.38h-5.8zM87.0 314.59h2.9v1.38h-2.9zM116.2 314.59h1.5v1.38h-1.5zM127.9 314.59h1.5v1.38h-1.5zM141.1 314.59h1.5v1.38h-1.5zM202.5 314.59h1.5v1.38h-1.5zM206.9 314.59h7.3v1.38h-7.3zM240.5 314.59h2.9v1.38h-2.9zM247.8 314.59h4.4v1.38h-4.4zM76.8 315.92h1.5v1.38h-1.5zM97.2 315.92h1.5v1.38h-1.5zM111.8 315.92h2.9v1.38h-2.9zM130.9 315.92h1.5v1.38h-1.5zM146.9 315.92h1.5v1.38h-1.5zM204.0 315.92h1.5v1.38h-1.5zM221.5 315.92h1.5v1.38h-1.5zM275.6 315.92h2.9v1.38h-2.9zM42.6 317.25h0.5v1.38h-0.5zM133.8 317.25h1.5v1.38h-1.5zM262.4 317.25h2.9v1.38h-2.9zM268.3 317.25h2.9v1.38h-2.9zM59.2 318.58h1.5v1.38h-1.5zM113.3 318.58h1.5v1.38h-1.5zM205.4 318.58h1.5v1.38h-1.5zM103.1 319.90h5.8v1.38h-5.8zM145.5 319.90h1.5v1.38h-1.5zM256.6 319.90h2.9v1.38h-2.9zM56.3 321.23h4.4v1.38h-4.4zM65.1 321.23h7.3v1.38h-7.3zM78.2 321.23h5.8v1.38h-5.8zM204.0 321.23h1.5v1.38h-1.5zM272.7 321.23h1.5v1.38h-1.5zM60.7 322.56h4.4v1.38h-4.4zM75.3 322.56h2.9v1.38h-2.9zM95.8 322.56h1.5v1.38h-1.5zM122.1 322.56h1.5v1.38h-1.5zM209.8 322.56h2.9v1.38h-2.9zM242.0 322.56h1.5v1.38h-1.5zM53.4 323.89h1.5v1.38h-1.5zM92.8 323.89h4.4v1.38h-4.4zM120.6 323.89h2.9v1.38h-2.9zM129.4 323.89h2.9v1.38h-2.9zM148.4 323.89h1.5v1.38h-1.5zM205.4 323.89h1.5v1.38h-1.5zM240.5 323.89h1.5v1.38h-1.5zM51.9 325.22h1.5v1.38h-1.5zM85.5 325.22h1.5v1.38h-1.5zM116.2 325.22h2.9v1.38h-2.9zM252.2 325.22h4.4v1.38h-4.4zM262.4 325.22h4.4v1.38h-4.4zM284.4 325.22h2.9v1.38h-2.9zM42.6 326.54h10.8v1.38h-10.8zM65.1 326.54h4.4v1.38h-4.4zM100.1 326.54h17.5v1.38h-17.5zM127.9 326.54h5.8v1.38h-5.8zM201.0 326.54h1.5v1.38h-1.5zM104.5 327.87h2.9v1.38h-2.9zM138.2 327.87h1.5v1.38h-1.5zM209.8 327.87h4.4v1.38h-4.4zM266.8 327.87h1.5v1.38h-1.5zM76.8 329.20h1.5v1.38h-1.5zM119.2 329.20h1.5v1.38h-1.5zM218.6 329.20h4.4v1.38h-4.4zM233.2 329.20h5.8v1.38h-5.8zM255.1 329.20h1.5v1.38h-1.5zM47.5 330.53h1.5v1.38h-1.5zM116.2 330.53h13.2v1.38h-13.2zM138.2 330.53h1.5v1.38h-1.5zM205.4 330.53h1.5v1.38h-1.5zM242.0 330.53h2.9v1.38h-2.9zM111.8 331.86h1.5v1.38h-1.5zM125.0 331.86h1.5v1.38h-1.5zM223.0 331.86h1.5v1.38h-1.5zM76.8 333.18h1.5v1.38h-1.5zM101.6 333.18h1.5v1.38h-1.5zM255.1 333.18h2.9v1.38h-2.9zM111.8 334.51h1.5v1.38h-1.5zM228.8 334.51h1.5v1.38h-1.5zM240.5 334.51h1.5v1.38h-1.5zM272.7 334.51h1.5v1.38h-1.5zM49.0 335.84h1.5v1.38h-1.5zM119.2 335.84h7.3v1.38h-7.3zM231.7 335.84h1.5v1.38h-1.5zM53.4 337.17h1.5v1.38h-1.5zM103.1 337.17h1.5v1.38h-1.5zM122.1 337.17h2.9v1.38h-2.9zM208.3 337.17h1.5v1.38h-1.5zM225.9 337.17h1.5v1.38h-1.5zM44.6 338.50h2.9v1.38h-2.9zM63.6 338.50h2.9v1.38h-2.9zM113.3 338.50h4.4v1.38h-4.4zM132.3 338.50h11.7v1.38h-11.7zM209.8 338.50h1.5v1.38h-1.5zM225.9 338.50h1.5v1.38h-1.5zM287.3 338.50h1.5v1.38h-1.5zM42.6 339.82h4.9v1.38h-4.9zM75.3 339.82h2.9v1.38h-2.9zM85.5 339.82h2.9v1.38h-2.9zM126.5 339.82h1.5v1.38h-1.5zM136.7 339.82h1.5v1.38h-1.5zM218.6 339.82h1.5v1.38h-1.5zM227.3 339.82h1.5v1.38h-1.5zM287.3 339.82h4.4v1.38h-4.4zM122.1 341.15h1.5v1.38h-1.5zM148.4 341.15h1.5v1.38h-1.5zM249.3 341.15h1.5v1.38h-1.5zM274.1 341.15h10.2v1.38h-10.2zM51.9 342.48h2.9v1.38h-2.9zM211.3 342.48h1.5v1.38h-1.5zM46.1 343.81h1.5v1.38h-1.5zM103.1 343.81h1.5v1.38h-1.5zM114.8 343.81h1.5v1.38h-1.5zM211.3 343.81h1.5v1.38h-1.5zM228.8 343.81h2.9v1.38h-2.9zM255.1 343.81h2.9v1.38h-2.9zM78.2 345.14h2.9v1.38h-2.9zM227.3 345.14h2.9v1.38h-2.9zM243.4 345.14h2.9v1.38h-2.9zM68.0 346.46h2.9v1.38h-2.9zM212.7 346.46h1.5v1.38h-1.5zM223.0 346.46h1.5v1.38h-1.5zM59.2 347.79h1.5v1.38h-1.5zM95.8 347.79h1.5v1.38h-1.5zM218.6 347.79h1.5v1.38h-1.5zM54.8 349.12h2.9v1.38h-2.9zM65.1 349.12h13.2v1.38h-13.2zM95.8 349.12h5.8v1.38h-5.8zM114.8 349.12h2.9v1.38h-2.9zM214.2 349.12h1.5v1.38h-1.5zM269.7 349.12h1.5v1.38h-1.5zM89.9 350.45h1.5v1.38h-1.5zM100.1 350.45h2.9v1.38h-2.9zM116.2 350.45h1.5v1.38h-1.5zM244.9 350.45h13.2v1.38h-13.2zM266.8 350.45h4.4v1.38h-4.4zM218.6 351.78h1.5v1.38h-1.5zM228.8 351.78h2.9v1.38h-2.9zM262.4 351.78h1.5v1.38h-1.5zM84.1 353.10h5.8v1.38h-5.8zM129.4 353.10h5.8v1.38h-5.8zM218.6 353.10h1.5v1.38h-1.5zM277.1 353.10h2.9v1.38h-2.9zM79.7 354.43h20.5v1.38h-20.5zM136.7 354.43h4.4v1.38h-4.4zM142.5 354.43h1.5v1.38h-1.5zM215.6 354.43h1.5v1.38h-1.5zM85.5 355.76h2.9v1.38h-2.9zM104.5 355.76h1.5v1.38h-1.5zM63.6 357.09h1.5v1.38h-1.5zM85.5 357.09h1.5v1.38h-1.5zM114.8 357.09h1.5v1.38h-1.5zM129.4 357.09h1.5v1.38h-1.5zM142.5 357.09h1.5v1.38h-1.5zM236.1 357.09h13.2v1.38h-13.2zM278.5 357.09h1.5v1.38h-1.5zM97.2 358.42h1.5v1.38h-1.5zM163.0 358.42h1.5v1.38h-1.5zM220.0 358.42h1.5v1.38h-1.5zM138.2 359.74h1.5v1.38h-1.5zM217.1 359.74h1.5v1.38h-1.5zM60.7 361.07h4.4v1.38h-4.4zM249.3 361.07h1.5v1.38h-1.5zM271.2 361.07h1.5v1.38h-1.5zM66.5 362.40h1.5v1.38h-1.5zM94.3 362.40h1.5v1.38h-1.5zM130.9 362.40h1.5v1.38h-1.5zM148.4 362.40h2.9v1.38h-2.9zM224.4 362.40h1.5v1.38h-1.5zM278.5 362.40h1.5v1.38h-1.5zM66.5 363.73h1.5v1.38h-1.5zM79.7 363.73h1.5v1.38h-1.5zM119.2 363.73h1.5v1.38h-1.5zM133.8 363.73h1.5v1.38h-1.5zM218.6 363.73h1.5v1.38h-1.5zM228.8 363.73h1.5v1.38h-1.5zM268.3 363.73h1.5v1.38h-1.5zM62.1 365.06h1.5v1.38h-1.5zM127.9 365.06h2.9v1.38h-2.9zM138.2 365.06h1.5v1.38h-1.5zM218.6 365.06h1.5v1.38h-1.5zM230.3 365.06h1.5v1.38h-1.5zM258.0 365.06h1.5v1.38h-1.5zM280.0 365.06h1.5v1.38h-1.5zM53.4 366.38h1.5v1.38h-1.5zM63.6 366.38h1.5v1.38h-1.5zM89.9 366.38h2.9v1.38h-2.9zM220.0 366.38h1.5v1.38h-1.5zM62.1 367.71h2.9v1.38h-2.9zM76.8 367.71h2.9v1.38h-2.9zM132.3 367.71h1.5v1.38h-1.5zM221.5 367.71h1.5v1.38h-1.5zM49.0 369.04h1.5v1.38h-1.5zM78.2 369.04h1.5v1.38h-1.5zM104.5 369.04h1.5v1.38h-1.5zM122.1 369.04h1.5v1.38h-1.5zM136.7 369.04h7.3v1.38h-7.3zM76.8 370.37h1.5v1.38h-1.5zM95.8 370.37h1.5v1.38h-1.5zM119.2 370.37h10.2v1.38h-10.2zM152.8 370.37h1.5v1.38h-1.5zM72.4 371.70h14.6v1.38h-14.6zM108.9 371.70h1.5v1.38h-1.5zM129.4 371.70h2.9v1.38h-2.9zM141.1 371.70h1.5v1.38h-1.5zM233.2 371.70h1.5v1.38h-1.5zM266.8 371.70h2.9v1.38h-2.9zM274.1 371.70h2.9v1.38h-2.9zM60.7 373.02h1.5v1.38h-1.5zM220.0 373.02h1.5v1.38h-1.5zM85.5 374.35h2.9v1.38h-2.9zM110.4 374.35h1.5v1.38h-1.5zM221.5 374.35h1.5v1.38h-1.5zM246.3 374.35h2.9v1.38h-2.9zM259.5 374.35h2.9v1.38h-2.9zM59.2 375.68h2.9v1.38h-2.9zM89.9 375.68h2.9v1.38h-2.9zM141.1 375.68h1.5v1.38h-1.5zM247.8 375.68h2.9v1.38h-2.9zM268.3 375.68h2.9v1.38h-2.9zM57.8 377.01h1.5v1.38h-1.5zM146.9 377.01h1.5v1.38h-1.5zM227.3 377.01h1.5v1.38h-1.5zM282.9 377.01h2.9v1.38h-2.9zM59.2 378.34h1.5v1.38h-1.5zM69.4 378.34h1.5v1.38h-1.5zM230.3 378.34h1.5v1.38h-1.5zM72.4 379.66h1.5v1.38h-1.5zM110.4 379.66h1.5v1.38h-1.5zM221.5 379.66h1.5v1.38h-1.5zM274.1 379.66h1.5v1.38h-1.5zM123.5 380.99h2.9v1.38h-2.9zM221.5 380.99h1.5v1.38h-1.5zM127.9 382.32h5.8v1.38h-5.8zM138.2 382.32h2.9v1.38h-2.9zM59.2 383.65h2.9v1.38h-2.9zM88.5 383.65h1.5v1.38h-1.5zM111.8 383.65h1.5v1.38h-1.5zM236.1 383.65h8.8v1.38h-8.8zM263.9 383.65h2.9v1.38h-2.9zM272.7 383.65h2.9v1.38h-2.9zM42.6 384.98h7.8v1.38h-7.8zM92.8 384.98h4.4v1.38h-4.4zM136.7 384.98h5.8v1.38h-5.8zM225.9 384.98h1.5v1.38h-1.5zM240.5 384.98h1.5v1.38h-1.5zM280.0 384.98h2.9v1.38h-2.9zM46.1 386.30h2.9v1.38h-2.9zM60.7 386.30h2.9v1.38h-2.9zM277.1 386.30h1.5v1.38h-1.5zM72.4 387.63h2.9v1.38h-2.9zM108.9 387.63h2.9v1.38h-2.9zM233.2 387.63h1.5v1.38h-1.5zM53.4 388.96h1.5v1.38h-1.5zM60.7 388.96h4.4v1.38h-4.4zM68.0 388.96h2.9v1.38h-2.9zM97.2 388.96h1.5v1.38h-1.5zM116.2 388.96h1.5v1.38h-1.5zM142.5 388.96h1.5v1.38h-1.5zM224.4 388.96h1.5v1.38h-1.5zM280.0 388.96h1.5v1.38h-1.5zM103.1 390.29h1.5v1.38h-1.5zM149.9 390.29h1.5v1.38h-1.5zM223.0 390.29h1.5v1.38h-1.5zM85.5 391.62h4.4v1.38h-4.4zM98.7 391.62h5.8v1.38h-5.8zM144.0 391.62h1.5v1.38h-1.5zM223.0 391.62h1.5v1.38h-1.5zM262.4 391.62h5.8v1.38h-5.8zM95.8 392.94h1.5v1.38h-1.5zM127.9 392.94h1.5v1.38h-1.5zM136.7 392.94h1.5v1.38h-1.5zM149.9 392.94h1.5v1.38h-1.5zM139.6 394.27h2.9v1.38h-2.9zM280.0 394.27h2.9v1.38h-2.9zM127.9 395.60h1.5v1.38h-1.5zM259.5 395.60h1.5v1.38h-1.5zM57.8 396.93h2.9v1.38h-2.9zM127.9 396.93h4.4v1.38h-4.4zM144.0 396.93h1.5v1.38h-1.5zM227.3 396.93h1.5v1.38h-1.5zM239.0 396.93h1.5v1.38h-1.5zM275.6 396.93h1.5v1.38h-1.5zM49.0 398.26h2.9v1.38h-2.9zM282.9 398.26h2.9v1.38h-2.9zM54.8 399.58h1.5v1.38h-1.5zM92.8 399.58h1.5v1.38h-1.5zM281.4 399.58h1.5v1.38h-1.5zM47.5 400.91h21.9v1.38h-21.9zM82.6 400.91h4.4v1.38h-4.4zM113.3 400.91h1.5v1.38h-1.5zM224.4 400.91h1.5v1.38h-1.5zM259.5 400.91h1.5v1.38h-1.5zM47.5 402.24h4.4v1.38h-4.4zM84.1 402.24h2.9v1.38h-2.9zM94.3 402.24h13.2v1.38h-13.2zM123.5 402.24h2.9v1.38h-2.9zM132.3 402.24h1.5v1.38h-1.5zM221.5 402.24h1.5v1.38h-1.5zM243.4 402.24h1.5v1.38h-1.5zM155.7 403.57h1.5v1.38h-1.5zM284.4 403.57h4.4v1.38h-4.4zM60.7 404.90h1.5v1.38h-1.5zM111.8 404.90h1.5v1.38h-1.5zM141.1 404.90h1.5v1.38h-1.5zM227.3 404.90h1.5v1.38h-1.5zM87.0 406.22h7.3v1.38h-7.3zM127.9 406.22h1.5v1.38h-1.5zM145.5 406.22h1.5v1.38h-1.5zM110.4 407.55h1.5v1.38h-1.5zM230.3 407.55h1.5v1.38h-1.5zM280.0 407.55h2.9v1.38h-2.9zM51.9 408.88h2.9v1.38h-2.9zM120.6 408.88h1.5v1.38h-1.5zM135.2 408.88h1.5v1.38h-1.5zM233.2 408.88h5.8v1.38h-5.8zM252.2 408.88h1.5v1.38h-1.5zM82.6 410.21h1.5v1.38h-1.5zM101.6 410.21h1.5v1.38h-1.5zM113.3 410.21h17.5v1.38h-17.5zM230.3 410.21h2.9v1.38h-2.9zM242.0 410.21h4.4v1.38h-4.4zM79.7 411.54h1.5v1.38h-1.5zM103.1 411.54h1.5v1.38h-1.5zM133.8 411.54h1.5v1.38h-1.5zM258.0 411.54h1.5v1.38h-1.5zM57.8 412.86h2.9v1.38h-2.9zM76.8 412.86h4.4v1.38h-4.4zM104.5 412.86h2.9v1.38h-2.9zM133.8 412.86h1.5v1.38h-1.5zM101.6 414.19h1.5v1.38h-1.5zM227.3 414.19h1.5v1.38h-1.5zM146.9 415.52h1.5v1.38h-1.5zM66.5 416.85h1.5v1.38h-1.5zM88.5 416.85h1.5v1.38h-1.5zM98.7 416.85h1.5v1.38h-1.5zM117.7 416.85h1.5v1.38h-1.5zM154.2 416.85h1.5v1.38h-1.5zM230.3 416.85h1.5v1.38h-1.5zM53.4 418.18h2.9v1.38h-2.9zM85.5 418.18h2.9v1.38h-2.9zM92.8 418.18h2.9v1.38h-2.9zM106.0 418.18h1.5v1.38h-1.5zM123.5 418.18h2.9v1.38h-2.9zM142.5 418.18h2.9v1.38h-2.9zM258.0 418.18h5.8v1.38h-5.8zM78.2 419.50h4.4v1.38h-4.4zM117.7 419.50h1.5v1.38h-1.5zM129.4 419.50h2.9v1.38h-2.9zM146.9 419.50h1.5v1.38h-1.5zM274.1 419.50h1.5v1.38h-1.5zM75.3 420.83h2.9v1.38h-2.9zM98.7 420.83h4.4v1.38h-4.4zM113.3 420.83h1.5v1.38h-1.5zM244.9 420.83h1.5v1.38h-1.5zM268.3 420.83h23.4v1.38h-23.4zM79.7 422.16h1.5v1.38h-1.5zM101.6 422.16h1.5v1.38h-1.5zM144.0 422.16h2.9v1.38h-2.9zM54.8 423.49h1.5v1.38h-1.5zM237.6 423.49h1.5v1.38h-1.5zM69.4 424.82h4.4v1.38h-4.4zM148.4 424.82h1.5v1.38h-1.5zM234.7 424.82h1.5v1.38h-1.5zM263.9 424.82h1.5v1.38h-1.5zM280.0 424.82h1.5v1.38h-1.5zM56.3 426.14h2.9v1.38h-2.9zM81.1 426.14h2.9v1.38h-2.9zM104.5 426.14h2.9v1.38h-2.9zM233.2 426.14h1.5v1.38h-1.5zM113.3 427.47h26.3v1.38h-26.3zM274.1 427.47h2.9v1.38h-2.9zM68.0 428.80h2.9v1.38h-2.9zM92.8 428.80h21.9v1.38h-21.9zM129.4 428.80h1.5v1.38h-1.5zM63.6 430.13h1.5v1.38h-1.5zM123.5 430.13h2.9v1.38h-2.9zM152.8 430.13h1.5v1.38h-1.5zM253.7 430.13h17.5v1.38h-17.5zM85.5 431.46h1.5v1.38h-1.5zM125.0 431.46h4.4v1.38h-4.4zM135.2 431.46h2.9v1.38h-2.9zM146.9 431.46h1.5v1.38h-1.5zM252.2 431.46h1.5v1.38h-1.5zM275.6 431.46h1.5v1.38h-1.5zM72.4 432.78h2.9v1.38h-2.9zM94.3 432.78h2.9v1.38h-2.9zM236.1 432.78h1.5v1.38h-1.5zM263.9 432.78h1.5v1.38h-1.5zM73.8 434.11h1.5v1.38h-1.5zM148.4 434.11h1.5v1.38h-1.5zM236.1 434.11h1.5v1.38h-1.5zM259.5 434.11h1.5v1.38h-1.5zM272.7 434.11h2.9v1.38h-2.9zM284.4 434.11h2.9v1.38h-2.9zM49.0 435.44h1.5v1.38h-1.5zM87.0 435.44h1.5v1.38h-1.5zM141.1 435.44h1.5v1.38h-1.5zM239.0 435.44h1.5v1.38h-1.5zM89.9 436.77h10.2v1.38h-10.2zM239.0 436.77h1.5v1.38h-1.5zM280.0 436.77h1.5v1.38h-1.5zM76.8 438.10h2.9v1.38h-2.9zM144.0 438.10h1.5v1.38h-1.5zM243.4 438.10h4.4v1.38h-4.4zM62.1 439.42h2.9v1.38h-2.9zM117.7 439.42h16.1v1.38h-16.1zM240.5 439.42h1.5v1.38h-1.5zM253.7 439.42h1.5v1.38h-1.5zM59.2 440.75h1.5v1.38h-1.5zM268.3 440.75h2.9v1.38h-2.9zM65.1 442.08h2.9v1.38h-2.9zM98.7 442.08h2.9v1.38h-2.9zM114.8 442.08h2.9v1.38h-2.9zM144.0 442.08h1.5v1.38h-1.5zM246.3 442.08h1.5v1.38h-1.5zM277.1 442.08h1.5v1.38h-1.5zM44.6 443.41h4.4v1.38h-4.4zM125.0 443.41h1.5v1.38h-1.5zM145.5 443.41h1.5v1.38h-1.5zM244.9 443.41h1.5v1.38h-1.5zM278.5 443.41h8.8v1.38h-8.8zM85.5 444.74h8.8v1.38h-8.8zM243.4 444.74h1.5v1.38h-1.5zM268.3 444.74h1.5v1.38h-1.5zM287.3 444.74h1.5v1.38h-1.5zM50.4 446.06h7.3v1.38h-7.3zM76.8 446.06h1.5v1.38h-1.5zM101.6 446.06h4.4v1.38h-4.4zM119.2 446.06h7.3v1.38h-7.3zM155.7 446.06h1.5v1.38h-1.5zM78.2 447.39h4.4v1.38h-4.4zM84.1 447.39h5.8v1.38h-5.8zM110.4 447.39h2.9v1.38h-2.9zM246.3 447.39h1.5v1.38h-1.5zM261.0 447.39h1.5v1.38h-1.5zM107.5 448.72h1.5v1.38h-1.5zM144.0 448.72h1.5v1.38h-1.5zM262.4 448.72h1.5v1.38h-1.5zM65.1 450.05h1.5v1.38h-1.5zM75.3 450.05h2.9v1.38h-2.9zM117.7 450.05h2.9v1.38h-2.9zM129.4 450.05h2.9v1.38h-2.9zM255.1 450.05h1.5v1.38h-1.5zM62.1 451.38h1.5v1.38h-1.5zM72.4 451.38h1.5v1.38h-1.5zM253.7 451.38h1.5v1.38h-1.5zM42.6 452.70h3.5v1.38h-3.5zM136.7 452.70h2.9v1.38h-2.9zM141.1 452.70h2.9v1.38h-2.9zM259.5 452.70h1.5v1.38h-1.5zM63.6 454.03h1.5v1.38h-1.5zM95.8 454.03h1.5v1.38h-1.5zM258.0 454.03h1.5v1.38h-1.5zM46.1 455.36h5.8v1.38h-5.8zM63.6 455.36h2.9v1.38h-2.9zM75.3 456.69h1.5v1.38h-1.5zM126.5 456.69h2.9v1.38h-2.9zM130.9 458.02h1.5v1.38h-1.5zM53.4 459.34h2.9v1.38h-2.9zM151.3 459.34h1.5v1.38h-1.5zM95.8 460.67h1.5v1.38h-1.5zM117.7 460.67h4.4v1.38h-4.4zM129.4 460.67h4.4v1.38h-4.4zM266.8 460.67h1.5v1.38h-1.5z"/>
<path fill="#74229a" d="M104.5 296.00h1.5v1.38h-1.5zM125.0 296.00h1.5v1.38h-1.5zM199.6 296.00h1.5v1.38h-1.5zM205.4 296.00h2.9v1.38h-2.9zM236.1 296.00h1.5v1.38h-1.5zM247.8 296.00h4.4v1.38h-4.4zM54.8 297.33h2.9v1.38h-2.9zM94.3 297.33h1.5v1.38h-1.5zM247.8 297.33h10.2v1.38h-10.2zM70.9 298.66h1.5v1.38h-1.5zM135.2 298.66h4.4v1.38h-4.4zM198.1 298.66h1.5v1.38h-1.5zM201.0 298.66h2.9v1.38h-2.9zM107.5 299.98h2.9v1.38h-2.9zM119.2 299.98h1.5v1.38h-1.5zM195.2 299.98h1.5v1.38h-1.5zM275.6 299.98h1.5v1.38h-1.5zM49.0 301.31h1.5v1.38h-1.5zM85.5 301.31h1.5v1.38h-1.5zM125.0 301.31h1.5v1.38h-1.5zM136.7 301.31h1.5v1.38h-1.5zM212.7 301.31h1.5v1.38h-1.5zM228.8 301.31h1.5v1.38h-1.5zM246.3 301.31h7.3v1.38h-7.3zM85.5 302.64h2.9v1.38h-2.9zM103.1 302.64h1.5v1.38h-1.5zM126.5 302.64h4.4v1.38h-4.4zM217.1 302.64h8.8v1.38h-8.8zM70.9 303.97h5.8v1.38h-5.8zM138.2 303.97h1.5v1.38h-1.5zM149.9 303.97h1.5v1.38h-1.5zM239.0 303.97h1.5v1.38h-1.5zM81.1 305.30h1.5v1.38h-1.5zM113.3 305.30h1.5v1.38h-1.5zM199.6 305.30h1.5v1.38h-1.5zM250.7 305.30h1.5v1.38h-1.5zM57.8 306.62h2.9v1.38h-2.9zM88.5 306.62h2.9v1.38h-2.9zM123.5 306.62h8.8v1.38h-8.8zM202.5 306.62h1.5v1.38h-1.5zM49.0 307.95h1.5v1.38h-1.5zM68.0 307.95h1.5v1.38h-1.5zM215.6 307.95h1.5v1.38h-1.5zM280.0 307.95h1.5v1.38h-1.5zM51.9 309.28h1.5v1.38h-1.5zM92.8 309.28h20.5v1.38h-20.5zM119.2 309.28h4.4v1.38h-4.4zM198.1 309.28h1.5v1.38h-1.5zM211.3 309.28h1.5v1.38h-1.5zM50.4 310.61h1.5v1.38h-1.5zM116.2 310.61h1.5v1.38h-1.5zM202.5 310.61h1.5v1.38h-1.5zM234.7 310.61h1.5v1.38h-1.5zM262.4 310.61h10.2v1.38h-10.2zM78.2 311.94h1.5v1.38h-1.5zM133.8 311.94h1.5v1.38h-1.5zM263.9 311.94h2.9v1.38h-2.9zM46.1 313.26h1.5v1.38h-1.5zM70.9 313.26h1.5v1.38h-1.5zM89.9 313.26h4.4v1.38h-4.4zM224.4 313.26h11.7v1.38h-11.7zM284.4 313.26h1.5v1.38h-1.5zM68.0 314.59h4.4v1.38h-4.4zM75.3 314.59h4.4v1.38h-4.4zM89.9 314.59h1.5v1.38h-1.5zM129.4 314.59h1.5v1.38h-1.5zM139.6 314.59h1.5v1.38h-1.5zM204.0 314.59h2.9v1.38h-2.9zM214.2 314.59h2.9v1.38h-2.9zM239.0 314.59h1.5v1.38h-1.5zM252.2 314.59h2.9v1.38h-2.9zM75.3 315.92h1.5v1.38h-1.5zM98.7 315.92h2.9v1.38h-2.9zM108.9 315.92h2.9v1.38h-2.9zM132.3 315.92h2.9v1.38h-2.9zM145.5 315.92h1.5v1.38h-1.5zM205.4 315.92h4.4v1.38h-4.4zM223.0 315.92h1.5v1.38h-1.5zM243.4 315.92h2.9v1.38h-2.9zM271.2 315.92h4.4v1.38h-4.4zM132.3 317.25h1.5v1.38h-1.5zM206.9 317.25h1.5v1.38h-1.5zM233.2 317.25h4.4v1.38h-4.4zM261.0 317.25h1.5v1.38h-1.5zM271.2 317.25h2.9v1.38h-2.9zM95.8 318.58h1.5v1.38h-1.5zM138.2 318.58h1.5v1.38h-1.5zM97.2 319.90h5.8v1.38h-5.8zM108.9 319.90h5.8v1.38h-5.8zM144.0 319.90h1.5v1.38h-1.5zM255.1 319.90h1.5v1.38h-1.5zM54.8 321.23h1.5v1.38h-1.5zM72.4 321.23h5.8v1.38h-5.8zM250.7 321.23h1.5v1.38h-1.5zM65.1 322.56h10.2v1.38h-10.2zM97.2 322.56h1.5v1.38h-1.5zM120.6 322.56h1.5v1.38h-1.5zM243.4 322.56h2.9v1.38h-2.9zM51.9 323.89h1.5v1.38h-1.5zM97.2 323.89h8.8v1.38h-8.8zM116.2 323.89h4.4v1.38h-4.4zM132.3 323.89h2.9v1.38h-2.9zM146.9 323.89h1.5v1.38h-1.5zM239.0 323.89h1.5v1.38h-1.5zM50.4 325.22h1.5v1.38h-1.5zM87.0 325.22h2.9v1.38h-2.9zM113.3 325.22h2.9v1.38h-2.9zM202.5 325.22h1.5v1.38h-1.5zM249.3 325.22h2.9v1.38h-2.9zM266.8 325.22h1.5v1.38h-1.5zM282.9 325.22h1.5v1.38h-1.5zM53.4 326.54h11.7v1.38h-11.7zM101.6 327.87h2.9v1.38h-2.9zM139.6 327.87h1.5v1.38h-1.5zM155.7 327.87h1.5v1.38h-1.5zM268.3 327.87h1.5v1.38h-1.5zM78.2 329.20h2.9v1.38h-2.9zM117.7 329.20h1.5v1.38h-1.5zM204.0 329.20h1.5v1.38h-1.5zM217.1 329.20h1.5v1.38h-1.5zM256.6 329.20h1.5v1.38h-1.5zM129.4 330.53h8.8v1.38h-8.8zM233.2 330.53h8.8v1.38h-8.8zM271.2 330.53h1.5v1.38h-1.5zM51.9 331.86h1.5v1.38h-1.5zM81.1 331.86h1.5v1.38h-1.5zM110.4 331.86h1.5v1.38h-1.5zM126.5 331.86h1.5v1.38h-1.5zM145.5 331.86h1.5v1.38h-1.5zM224.4 331.86h2.9v1.38h-2.9zM75.3 333.18h1.5v1.38h-1.5zM120.6 333.18h1.5v1.38h-1.5zM139.6 333.18h1.5v1.38h-1.5zM208.3 333.18h1.5v1.38h-1.5zM249.3 333.18h5.8v1.38h-5.8zM110.4 334.51h1.5v1.38h-1.5zM206.9 334.51h1.5v1.38h-1.5zM227.3 334.51h1.5v1.38h-1.5zM242.0 334.51h1.5v1.38h-1.5zM271.2 334.51h1.5v1.38h-1.5zM47.5 335.84h1.5v1.38h-1.5zM75.3 335.84h1.5v1.38h-1.5zM89.9 335.84h5.8v1.38h-5.8zM116.2 335.84h2.9v1.38h-2.9zM233.2 335.84h1.5v1.38h-1.5zM51.9 337.17h1.5v1.38h-1.5zM104.5 337.17h1.5v1.38h-1.5zM119.2 337.17h2.9v1.38h-2.9zM224.4 337.17h1.5v1.38h-1.5zM47.5 338.50h2.9v1.38h-2.9zM62.1 338.50h1.5v1.38h-1.5zM117.7 338.50h14.6v1.38h-14.6zM224.4 338.50h1.5v1.38h-1.5zM256.6 338.50h1.5v1.38h-1.5zM285.8 338.50h1.5v1.38h-1.5zM78.2 339.82h7.3v1.38h-7.3zM127.9 339.82h1.5v1.38h-1.5zM135.2 339.82h1.5v1.38h-1.5zM209.8 339.82h1.5v1.38h-1.5zM217.1 339.82h1.5v1.38h-1.5zM284.4 339.82h2.9v1.38h-2.9zM50.4 341.15h1.5v1.38h-1.5zM68.0 341.15h1.5v1.38h-1.5zM88.5 341.15h1.5v1.38h-1.5zM123.5 341.15h1.5v1.38h-1.5zM146.9 341.15h1.5v1.38h-1.5zM247.8 341.15h1.5v1.38h-1.5zM284.4 341.15h7.3v1.38h-7.3zM54.8 342.48h1.5v1.38h-1.5zM108.9 342.48h2.9v1.38h-2.9zM136.7 342.48h1.5v1.38h-1.5zM239.0 342.48h2.9v1.38h-2.9zM47.5 343.81h2.9v1.38h-2.9zM62.1 343.81h1.5v1.38h-1.5zM104.5 343.81h1.5v1.38h-1.5zM113.3 343.81h1.5v1.38h-1.5zM227.3 343.81h1.5v1.38h-1.5zM258.0 343.81h2.9v1.38h-2.9zM54.8 345.14h1.5v1.38h-1.5zM76.8 345.14h1.5v1.38h-1.5zM211.3 345.14h1.5v1.38h-1.5zM225.9 345.14h1.5v1.38h-1.5zM246.3 345.14h1.5v1.38h-1.5zM47.5 346.46h20.5v1.38h-20.5zM214.2 346.46h1.5v1.38h-1.5zM220.0 346.46h2.9v1.38h-2.9zM252.2 346.46h1.5v1.38h-1.5zM60.7 347.79h2.9v1.38h-2.9zM94.3 347.79h1.5v1.38h-1.5zM220.0 347.79h1.5v1.38h-1.5zM51.9 349.12h2.9v1.38h-2.9zM101.6 349.12h13.2v1.38h-13.2zM42.6 350.45h2.0v1.38h-2.0zM88.5 350.45h1.5v1.38h-1.5zM103.1 350.45h1.5v1.38h-1.5zM114.8 350.45h1.5v1.38h-1.5zM215.6 350.45h1.5v1.38h-1.5zM242.0 350.45h2.9v1.38h-2.9zM258.0 350.45h8.8v1.38h-8.8zM220.0 351.78h1.5v1.38h-1.5zM223.0 351.78h5.8v1.38h-5.8zM231.7 351.78h4.4v1.38h-4.4zM220.0 353.10h1.5v1.38h-1.5zM275.6 353.10h1.5v1.38h-1.5zM141.1 354.43h1.5v1.38h-1.5zM88.5 355.76h4.4v1.38h-4.4zM103.1 355.76h1.5v1.38h-1.5zM218.6 355.76h1.5v1.38h-1.5zM62.1 357.09h1.5v1.38h-1.5zM130.9 357.09h1.5v1.38h-1.5zM215.6 357.09h1.5v1.38h-1.5zM233.2 357.09h2.9v1.38h-2.9zM249.3 357.09h2.9v1.38h-2.9zM277.1 357.09h1.5v1.38h-1.5zM95.8 358.42h1.5v1.38h-1.5zM117.7 358.42h1.5v1.38h-1.5zM221.5 358.42h1.5v1.38h-1.5zM136.7 359.74h1.5v1.38h-1.5zM218.6 359.74h10.2v1.38h-10.2zM57.8 361.07h2.9v1.38h-2.9zM250.7 361.07h1.5v1.38h-1.5zM269.7 361.07h1.5v1.38h-1.5zM132.3 362.40h1.5v1.38h-1.5zM144.0 362.40h4.4v1.38h-4.4zM218.6 362.40h2.9v1.38h-2.9zM223.0 362.40h1.5v1.38h-1.5zM280.0 362.40h1.5v1.38h-1.5zM65.1 363.73h1.5v1.38h-1.5zM81.1 363.73h1.5v1.38h-1.5zM106.0 363.73h1.5v1.38h-1.5zM120.6 363.73h1.5v1.38h-1.5zM132.3 363.73h1.5v1.38h-1.5zM227.3 363.73h1.5v1.38h-1.5zM269.7 363.73h1.5v1.38h-1.5zM285.8 363.73h5.8v1.38h-5.8zM60.7 365.06h1.5v1.38h-1.5zM130.9 365.06h7.3v1.38h-7.3zM227.3 365.06h2.9v1.38h-2.9zM259.5 365.06h1.5v1.38h-1.5zM278.5 365.06h1.5v1.38h-1.5zM51.9 366.38h1.5v1.38h-1.5zM65.1 366.38h1.5v1.38h-1.5zM88.5 366.38h1.5v1.38h-1.5zM60.7 367.71h1.5v1.38h-1.5zM79.7 367.71h1.5v1.38h-1.5zM223.0 367.71h1.5v1.38h-1.5zM50.4 369.04h1.5v1.38h-1.5zM76.8 369.04h1.5v1.38h-1.5zM106.0 369.04h1.5v1.38h-1.5zM120.6 369.04h1.5v1.38h-1.5zM217.1 369.04h1.5v1.38h-1.5zM249.3 369.04h4.4v1.38h-4.4zM75.3 370.37h1.5v1.38h-1.5zM97.2 370.37h1.5v1.38h-1.5zM116.2 370.37h2.9v1.38h-2.9zM129.4 370.37h1.5v1.38h-1.5zM220.0 370.37h1.5v1.38h-1.5zM252.2 370.37h24.9v1.38h-24.9zM63.6 371.70h8.8v1.38h-8.8zM87.0 371.70h4.4v1.38h-4.4zM106.0 371.70h2.9v1.38h-2.9zM132.3 371.70h2.9v1.38h-2.9zM139.6 371.70h1.5v1.38h-1.5zM265.4 371.70h1.5v1.38h-1.5zM277.1 371.70h1.5v1.38h-1.5zM88.5 374.35h1.5v1.38h-1.5zM108.9 374.35h1.5v1.38h-1.5zM223.0 374.35h8.8v1.38h-8.8zM244.9 374.35h1.5v1.38h-1.5zM262.4 374.35h1.5v1.38h-1.5zM57.8 375.68h1.5v1.38h-1.5zM92.8 375.68h2.9v1.38h-2.9zM114.8 375.68h2.9v1.38h-2.9zM139.6 375.68h1.5v1.38h-1.5zM218.6 375.68h1.5v1.38h-1.5zM246.3 375.68h1.5v1.38h-1.5zM271.2 375.68h2.9v1.38h-2.9zM56.3 377.01h1.5v1.38h-1.5zM281.4 377.01h1.5v1.38h-1.5zM57.8 378.34h1.5v1.38h-1.5zM70.9 378.34h2.9v1.38h-2.9zM116.2 378.34h1.5v1.38h-1.5zM231.7 378.34h2.9v1.38h-2.9zM47.5 379.66h1.5v1.38h-1.5zM73.8 379.66h2.9v1.38h-2.9zM108.9 379.66h1.5v1.38h-1.5zM272.7 379.66h1.5v1.38h-1.5zM53.4 380.99h7.3v1.38h-7.3zM122.1 380.99h1.5v1.38h-1.5zM223.0 380.99h1.5v1.38h-1.5zM261.0 380.99h1.5v1.38h-1.5zM133.8 382.32h4.4v1.38h-4.4zM256.6 382.32h17.5v1.38h-17.5zM57.8 383.65h1.5v1.38h-1.5zM89.9 383.65h1.5v1.38h-1.5zM110.4 383.65h1.5v1.38h-1.5zM225.9 383.65h1.5v1.38h-1.5zM234.7 383.65h1.5v1.38h-1.5zM244.9 383.65h2.9v1.38h-2.9zM261.0 383.65h2.9v1.38h-2.9zM275.6 383.65h2.9v1.38h-2.9zM227.3 384.98h4.4v1.38h-4.4zM237.6 384.98h2.9v1.38h-2.9zM282.9 384.98h4.4v1.38h-4.4zM42.6 386.30h3.5v1.38h-3.5zM63.6 386.30h2.9v1.38h-2.9zM97.2 386.30h1.5v1.38h-1.5zM240.5 386.30h1.5v1.38h-1.5zM75.3 387.63h1.5v1.38h-1.5zM107.5 387.63h1.5v1.38h-1.5zM234.7 387.63h2.9v1.38h-2.9zM54.8 388.96h5.8v1.38h-5.8zM70.9 388.96h1.5v1.38h-1.5zM95.8 388.96h1.5v1.38h-1.5zM117.7 388.96h1.5v1.38h-1.5zM225.9 388.96h1.5v1.38h-1.5zM57.8 390.29h1.5v1.38h-1.5zM104.5 390.29h2.9v1.38h-2.9zM50.4 391.62h1.5v1.38h-1.5zM89.9 391.62h8.8v1.38h-8.8zM104.5 391.62h2.9v1.38h-2.9zM141.1 391.62h2.9v1.38h-2.9zM259.5 391.62h2.9v1.38h-2.9zM268.3 391.62h2.9v1.38h-2.9zM97.2 392.94h1.5v1.38h-1.5zM138.2 392.94h1.5v1.38h-1.5zM223.0 392.94h1.5v1.38h-1.5zM136.7 394.27h2.9v1.38h-2.9zM228.8 394.27h1.5v1.38h-1.5zM278.5 394.27h1.5v1.38h-1.5zM98.7 395.60h2.9v1.38h-2.9zM126.5 395.60h1.5v1.38h-1.5zM225.9 395.60h1.5v1.38h-1.5zM258.0 395.60h1.5v1.38h-1.5zM54.8 396.93h2.9v1.38h-2.9zM132.3 396.93h4.4v1.38h-4.4zM142.5 396.93h1.5v1.38h-1.5zM237.6 396.93h1.5v1.38h-1.5zM277.1 396.93h1.5v1.38h-1.5zM44.6 398.26h4.4v1.38h-4.4zM227.3 398.26h1.5v1.38h-1.5zM281.4 398.26h1.5v1.38h-1.5zM56.3 399.58h1.5v1.38h-1.5zM91.4 399.58h1.5v1.38h-1.5zM225.9 399.58h1.5v1.38h-1.5zM42.6 400.91h4.9v1.38h-4.9zM87.0 400.91h2.9v1.38h-2.9zM111.8 400.91h1.5v1.38h-1.5zM258.0 400.91h1.5v1.38h-1.5zM277.1 400.91h1.5v1.38h-1.5zM51.9 402.24h2.9v1.38h-2.9zM81.1 402.24h2.9v1.38h-2.9zM126.5 402.24h5.8v1.38h-5.8zM242.0 402.24h1.5v1.38h-1.5zM281.4 403.57h2.9v1.38h-2.9zM59.2 404.90h1.5v1.38h-1.5zM113.3 404.90h2.9v1.38h-2.9zM230.3 406.22h1.5v1.38h-1.5zM231.7 407.55h1.5v1.38h-1.5zM278.5 407.55h1.5v1.38h-1.5zM50.4 408.88h1.5v1.38h-1.5zM122.1 408.88h1.5v1.38h-1.5zM133.8 408.88h1.5v1.38h-1.5zM253.7 408.88h1.5v1.38h-1.5zM81.1 410.21h1.5v1.38h-1.5zM103.1 410.21h1.5v1.38h-1.5zM110.4 410.21h2.9v1.38h-2.9zM246.3 410.21h10.2v1.38h-10.2zM78.2 411.54h1.5v1.38h-1.5zM104.5 411.54h1.5v1.38h-1.5zM259.5 411.54h1.5v1.38h-1.5zM60.7 412.86h4.4v1.38h-4.4zM73.8 412.86h2.9v1.38h-2.9zM107.5 412.86h1.5v1.38h-1.5zM132.3 412.86h1.5v1.38h-1.5zM228.8 412.86h1.5v1.38h-1.5zM73.8 414.19h7.3v1.38h-7.3zM287.3 414.19h4.4v1.38h-4.4zM94.3 415.52h1.5v1.38h-1.5zM113.3 415.52h7.3v1.38h-7.3zM89.9 416.85h8.8v1.38h-8.8zM119.2 416.85h1.5v1.38h-1.5zM56.3 418.18h1.5v1.38h-1.5zM84.1 418.18h1.5v1.38h-1.5zM95.8 418.18h10.2v1.38h-10.2zM126.5 418.18h5.8v1.38h-5.8zM135.2 418.18h7.3v1.38h-7.3zM234.7 418.18h1.5v1.38h-1.5zM253.7 418.18h4.4v1.38h-4.4zM82.6 419.50h5.8v1.38h-5.8zM114.8 419.50h2.9v1.38h-2.9zM132.3 419.50h2.9v1.38h-2.9zM145.5 419.50h1.5v1.38h-1.5zM275.6 419.50h2.9v1.38h-2.9zM288.7 419.50h2.9v1.38h-2.9zM78.2 420.83h2.9v1.38h-2.9zM94.3 420.83h4.4v1.38h-4.4zM114.8 420.83h2.9v1.38h-2.9zM233.2 420.83h1.5v1.38h-1.5zM243.4 420.83h1.5v1.38h-1.5zM42.6 422.16h3.5v1.38h-3.5zM139.6 422.16h4.4v1.38h-4.4zM139.6 423.49h1.5v1.38h-1.5zM73.8 424.82h2.9v1.38h-2.9zM146.9 424.82h1.5v1.38h-1.5zM262.4 424.82h1.5v1.38h-1.5zM281.4 424.82h1.5v1.38h-1.5zM53.4 426.14h2.9v1.38h-2.9zM84.1 426.14h2.9v1.38h-2.9zM100.1 426.14h4.4v1.38h-4.4zM234.7 426.14h1.5v1.38h-1.5zM108.9 427.47h4.4v1.38h-4.4zM277.1 427.47h1.5v1.38h-1.5zM65.1 428.80h2.9v1.38h-2.9zM114.8 428.80h4.4v1.38h-4.4zM126.5 428.80h2.9v1.38h-2.9zM65.1 430.13h1.5v1.38h-1.5zM95.8 430.13h1.5v1.38h-1.5zM126.5 430.13h1.5v1.38h-1.5zM271.2 430.13h2.9v1.38h-2.9zM87.0 431.46h1.5v1.38h-1.5zM122.1 431.46h2.9v1.38h-2.9zM138.2 431.46h2.9v1.38h-2.9zM145.5 431.46h1.5v1.38h-1.5zM253.7 431.46h2.9v1.38h-2.9zM272.7 431.46h2.9v1.38h-2.9zM75.3 432.78h2.9v1.38h-2.9zM89.9 432.78h4.4v1.38h-4.4zM237.6 432.78h1.5v1.38h-1.5zM75.3 434.11h1.5v1.38h-1.5zM258.0 434.11h1.5v1.38h-1.5zM275.6 434.11h8.8v1.38h-8.8zM84.1 435.44h2.9v1.38h-2.9zM119.2 435.44h1.5v1.38h-1.5zM139.6 435.44h1.5v1.38h-1.5zM240.5 435.44h1.5v1.38h-1.5zM277.1 436.77h2.9v1.38h-2.9zM79.7 438.10h2.9v1.38h-2.9zM142.5 438.10h1.5v1.38h-1.5zM247.8 438.10h2.9v1.38h-2.9zM60.7 439.42h1.5v1.38h-1.5zM60.7 440.75h1.5v1.38h-1.5zM152.8 440.75h1.5v1.38h-1.5zM271.2 440.75h1.5v1.38h-1.5zM68.0 442.08h2.9v1.38h-2.9zM94.3 442.08h4.4v1.38h-4.4zM117.7 442.08h4.4v1.38h-4.4zM274.1 442.08h2.9v1.38h-2.9zM42.6 443.41h2.0v1.38h-2.0zM126.5 443.41h1.5v1.38h-1.5zM144.0 443.41h1.5v1.38h-1.5zM275.6 443.41h2.9v1.38h-2.9zM287.3 443.41h4.4v1.38h-4.4zM79.7 444.74h5.8v1.38h-5.8zM266.8 444.74h1.5v1.38h-1.5zM288.7 444.74h2.9v1.38h-2.9zM78.2 446.06h2.9v1.38h-2.9zM97.2 446.06h4.4v1.38h-4.4zM126.5 446.06h2.9v1.38h-2.9zM154.2 446.06h1.5v1.38h-1.5zM250.7 446.06h1.5v1.38h-1.5zM76.8 447.39h1.5v1.38h-1.5zM89.9 447.39h2.9v1.38h-2.9zM107.5 447.39h2.9v1.38h-2.9zM259.5 447.39h1.5v1.38h-1.5zM250.7 448.72h1.5v1.38h-1.5zM66.5 450.05h8.8v1.38h-8.8zM120.6 450.05h8.8v1.38h-8.8zM63.6 451.38h2.9v1.38h-2.9zM70.9 451.38h1.5v1.38h-1.5zM92.8 451.38h1.5v1.38h-1.5zM120.6 451.38h1.5v1.38h-1.5zM139.6 452.70h1.5v1.38h-1.5zM288.7 454.03h2.9v1.38h-2.9zM51.9 455.36h11.7v1.38h-11.7zM76.8 456.69h1.5v1.38h-1.5zM125.0 456.69h1.5v1.38h-1.5zM129.4 458.02h1.5v1.38h-1.5zM274.1 458.02h1.5v1.38h-1.5zM56.3 459.34h2.9v1.38h-2.9zM59.2 460.67h10.2v1.38h-10.2zM92.8 460.67h2.9v1.38h-2.9zM122.1 460.67h7.3v1.38h-7.3zM290.2 460.67h1.5v1.38h-1.5z"/>
<path fill="#872298" d="M106.0 296.00h2.9v1.38h-2.9zM201.0 296.00h4.4v1.38h-4.4zM237.6 296.00h10.2v1.38h-10.2zM57.8 297.33h1.5v1.38h-1.5zM199.6 297.33h1.5v1.38h-1.5zM244.9 297.33h2.9v1.38h-2.9zM258.0 297.33h4.4v1.38h-4.4zM69.4 298.66h1.5v1.38h-1.5zM199.6 298.66h1.5v1.38h-1.5zM51.9 299.98h1.5v1.38h-1.5zM110.4 299.98h8.8v1.38h-8.8zM214.2 301.31h1.5v1.38h-1.5zM227.3 301.31h1.5v1.38h-1.5zM84.1 302.64h1.5v1.38h-1.5zM104.5 302.64h2.9v1.38h-2.9zM123.5 302.64h2.9v1.38h-2.9zM215.6 302.64h1.5v1.38h-1.5zM225.9 302.64h1.5v1.38h-1.5zM266.8 302.64h1.5v1.38h-1.5zM68.0 303.97h2.9v1.38h-2.9zM204.0 303.97h1.5v1.38h-1.5zM237.6 303.97h1.5v1.38h-1.5zM277.1 303.97h1.5v1.38h-1.5zM82.6 305.30h1.5v1.38h-1.5zM111.8 305.30h1.5v1.38h-1.5zM60.7 306.62h1.5v1.38h-1.5zM87.0 306.62h1.5v1.38h-1.5zM204.0 306.62h1.5v1.38h-1.5zM47.5 307.95h1.5v1.38h-1.5zM94.3 307.95h7.3v1.38h-7.3zM119.2 307.95h1.5v1.38h-1.5zM201.0 307.95h1.5v1.38h-1.5zM214.2 307.95h1.5v1.38h-1.5zM50.4 309.28h1.5v1.38h-1.5zM113.3 309.28h5.8v1.38h-5.8zM209.8 309.28h1.5v1.38h-1.5zM233.2 309.28h1.5v1.38h-1.5zM114.8 310.61h1.5v1.38h-1.5zM204.0 310.61h1.5v1.38h-1.5zM206.9 310.61h1.5v1.38h-1.5zM236.1 310.61h1.5v1.38h-1.5zM261.0 310.61h1.5v1.38h-1.5zM272.7 310.61h2.9v1.38h-2.9zM51.9 311.94h1.5v1.38h-1.5zM79.7 311.94h1.5v1.38h-1.5zM127.9 311.94h5.8v1.38h-5.8zM266.8 311.94h2.9v1.38h-2.9zM44.6 313.26h1.5v1.38h-1.5zM72.4 313.26h1.5v1.38h-1.5zM88.5 313.26h1.5v1.38h-1.5zM223.0 313.26h1.5v1.38h-1.5zM236.1 313.26h4.4v1.38h-4.4zM281.4 313.26h2.9v1.38h-2.9zM72.4 314.59h2.9v1.38h-2.9zM91.4 314.59h1.5v1.38h-1.5zM114.8 314.59h1.5v1.38h-1.5zM130.9 314.59h1.5v1.38h-1.5zM138.2 314.59h1.5v1.38h-1.5zM217.1 314.59h1.5v1.38h-1.5zM237.6 314.59h1.5v1.38h-1.5zM255.1 314.59h2.9v1.38h-2.9zM73.8 315.92h1.5v1.38h-1.5zM101.6 315.92h7.3v1.38h-7.3zM135.2 315.92h1.5v1.38h-1.5zM224.4 315.92h1.5v1.38h-1.5zM239.0 315.92h4.4v1.38h-4.4zM246.3 315.92h7.3v1.38h-7.3zM262.4 315.92h8.8v1.38h-8.8zM84.1 317.25h1.5v1.38h-1.5zM127.9 317.25h4.4v1.38h-4.4zM230.3 317.25h2.9v1.38h-2.9zM237.6 317.25h1.5v1.38h-1.5zM259.5 317.25h1.5v1.38h-1.5zM274.1 317.25h1.5v1.38h-1.5zM60.7 318.58h1.5v1.38h-1.5zM114.8 318.58h1.5v1.38h-1.5zM206.9 318.58h1.5v1.38h-1.5zM68.0 319.90h4.4v1.38h-4.4zM92.8 319.90h4.4v1.38h-4.4zM114.8 319.90h5.8v1.38h-5.8zM127.9 319.90h2.9v1.38h-2.9zM142.5 319.90h1.5v1.38h-1.5zM202.5 319.90h1.5v1.38h-1.5zM253.7 319.90h1.5v1.38h-1.5zM51.9 321.23h2.9v1.38h-2.9zM249.3 321.23h1.5v1.38h-1.5zM274.1 321.23h1.5v1.38h-1.5zM98.7 322.56h1.5v1.38h-1.5zM119.2 322.56h1.5v1.38h-1.5zM246.3 322.56h1.5v1.38h-1.5zM50.4 323.89h1.5v1.38h-1.5zM106.0 323.89h10.2v1.38h-10.2zM135.2 323.89h2.9v1.38h-2.9zM145.5 323.89h1.5v1.38h-1.5zM237.6 323.89h1.5v1.38h-1.5zM49.0 325.22h1.5v1.38h-1.5zM89.9 325.22h1.5v1.38h-1.5zM108.9 325.22h4.4v1.38h-4.4zM247.8 325.22h1.5v1.38h-1.5zM268.3 325.22h2.9v1.38h-2.9zM281.4 325.22h1.5v1.38h-1.5zM250.7 326.54h4.4v1.38h-4.4zM98.7 327.87h2.9v1.38h-2.9zM141.1 327.87h1.5v1.38h-1.5zM154.2 327.87h1.5v1.38h-1.5zM269.7 327.87h1.5v1.38h-1.5zM81.1 329.20h1.5v1.38h-1.5zM94.3 329.20h2.9v1.38h-2.9zM116.2 329.20h1.5v1.38h-1.5zM214.2 329.20h2.9v1.38h-2.9zM258.0 329.20h1.5v1.38h-1.5zM46.1 330.53h1.5v1.38h-1.5zM206.9 330.53h1.5v1.38h-1.5zM228.8 330.53h4.4v1.38h-4.4zM272.7 330.53h1.5v1.38h-1.5zM82.6 331.86h1.5v1.38h-1.5zM108.9 331.86h1.5v1.38h-1.5zM127.9 331.86h1.5v1.38h-1.5zM227.3 331.86h7.3v1.38h-7.3zM73.8 333.18h1.5v1.38h-1.5zM122.1 333.18h1.5v1.38h-1.5zM243.4 333.18h5.8v1.38h-5.8zM42.6 334.51h2.0v1.38h-2.0zM108.9 334.51h1.5v1.38h-1.5zM225.9 334.51h1.5v1.38h-1.5zM243.4 334.51h1.5v1.38h-1.5zM46.1 335.84h1.5v1.38h-1.5zM76.8 335.84h2.9v1.38h-2.9zM87.0 335.84h2.9v1.38h-2.9zM95.8 335.84h4.4v1.38h-4.4zM113.3 335.84h2.9v1.38h-2.9zM234.7 335.84h1.5v1.38h-1.5zM50.4 337.17h1.5v1.38h-1.5zM106.0 337.17h2.9v1.38h-2.9zM114.8 337.17h4.4v1.38h-4.4zM209.8 337.17h1.5v1.38h-1.5zM221.5 337.17h2.9v1.38h-2.9zM50.4 338.50h11.7v1.38h-11.7zM211.3 338.50h1.5v1.38h-1.5zM223.0 338.50h1.5v1.38h-1.5zM129.4 339.82h5.8v1.38h-5.8zM211.3 339.82h1.5v1.38h-1.5zM215.6 339.82h1.5v1.38h-1.5zM228.8 339.82h1.5v1.38h-1.5zM255.1 339.82h7.3v1.38h-7.3zM282.9 339.82h1.5v1.38h-1.5zM125.0 341.15h1.5v1.38h-1.5zM145.5 341.15h1.5v1.38h-1.5zM206.9 341.15h1.5v1.38h-1.5zM246.3 341.15h1.5v1.38h-1.5zM56.3 342.48h1.5v1.38h-1.5zM106.0 342.48h2.9v1.38h-2.9zM111.8 342.48h4.4v1.38h-4.4zM135.2 342.48h1.5v1.38h-1.5zM212.7 342.48h1.5v1.38h-1.5zM234.7 342.48h4.4v1.38h-4.4zM242.0 342.48h5.8v1.38h-5.8zM265.4 342.48h8.8v1.38h-8.8zM50.4 343.81h1.5v1.38h-1.5zM60.7 343.81h1.5v1.38h-1.5zM106.0 343.81h7.3v1.38h-7.3zM212.7 343.81h1.5v1.38h-1.5zM225.9 343.81h1.5v1.38h-1.5zM261.0 343.81h2.9v1.38h-2.9zM75.3 345.14h1.5v1.38h-1.5zM223.0 345.14h2.9v1.38h-2.9zM247.8 345.14h1.5v1.38h-1.5zM42.6 346.46h4.9v1.38h-4.9zM215.6 346.46h1.5v1.38h-1.5zM218.6 346.46h1.5v1.38h-1.5zM63.6 347.79h1.5v1.38h-1.5zM221.5 347.79h1.5v1.38h-1.5zM252.2 347.79h39.5v1.38h-39.5zM50.4 349.12h1.5v1.38h-1.5zM215.6 349.12h1.5v1.38h-1.5zM268.3 349.12h1.5v1.38h-1.5zM44.6 350.45h1.5v1.38h-1.5zM87.0 350.45h1.5v1.38h-1.5zM104.5 350.45h4.4v1.38h-4.4zM110.4 350.45h4.4v1.38h-4.4zM240.5 350.45h1.5v1.38h-1.5zM221.5 351.78h1.5v1.38h-1.5zM236.1 351.78h1.5v1.38h-1.5zM261.0 351.78h1.5v1.38h-1.5zM221.5 353.10h1.5v1.38h-1.5zM274.1 353.10h1.5v1.38h-1.5zM217.1 354.43h1.5v1.38h-1.5zM92.8 355.76h10.2v1.38h-10.2zM60.7 357.09h1.5v1.38h-1.5zM87.0 357.09h1.5v1.38h-1.5zM113.3 357.09h1.5v1.38h-1.5zM141.1 357.09h1.5v1.38h-1.5zM230.3 357.09h2.9v1.38h-2.9zM252.2 357.09h2.9v1.38h-2.9zM94.3 358.42h1.5v1.38h-1.5zM161.6 358.42h1.5v1.38h-1.5zM223.0 358.42h4.4v1.38h-4.4zM103.1 359.74h14.6v1.38h-14.6zM135.2 359.74h1.5v1.38h-1.5zM228.8 359.74h2.9v1.38h-2.9zM54.8 361.07h2.9v1.38h-2.9zM252.2 361.07h1.5v1.38h-1.5zM266.8 361.07h2.9v1.38h-2.9zM133.8 362.40h1.5v1.38h-1.5zM141.1 362.40h2.9v1.38h-2.9zM221.5 362.40h1.5v1.38h-1.5zM281.4 362.40h1.5v1.38h-1.5zM62.1 363.73h2.9v1.38h-2.9zM82.6 363.73h1.5v1.38h-1.5zM104.5 363.73h1.5v1.38h-1.5zM122.1 363.73h1.5v1.38h-1.5zM130.9 363.73h1.5v1.38h-1.5zM220.0 363.73h1.5v1.38h-1.5zM225.9 363.73h1.5v1.38h-1.5zM271.2 363.73h2.9v1.38h-2.9zM282.9 363.73h2.9v1.38h-2.9zM59.2 365.06h1.5v1.38h-1.5zM220.0 365.06h1.5v1.38h-1.5zM224.4 365.06h2.9v1.38h-2.9zM261.0 365.06h1.5v1.38h-1.5zM275.6 365.06h2.9v1.38h-2.9zM50.4 366.38h1.5v1.38h-1.5zM66.5 366.38h1.5v1.38h-1.5zM87.0 366.38h1.5v1.38h-1.5zM59.2 367.71h1.5v1.38h-1.5zM81.1 367.71h1.5v1.38h-1.5zM130.9 367.71h1.5v1.38h-1.5zM51.9 369.04h1.5v1.38h-1.5zM107.5 369.04h2.9v1.38h-2.9zM119.2 369.04h1.5v1.38h-1.5zM246.3 369.04h2.9v1.38h-2.9zM253.7 369.04h2.9v1.38h-2.9zM73.8 370.37h1.5v1.38h-1.5zM98.7 370.37h1.5v1.38h-1.5zM111.8 370.37h4.4v1.38h-4.4zM130.9 370.37h1.5v1.38h-1.5zM151.3 370.37h1.5v1.38h-1.5zM249.3 370.37h2.9v1.38h-2.9zM277.1 370.37h2.9v1.38h-2.9zM59.2 371.70h4.4v1.38h-4.4zM91.4 371.70h4.4v1.38h-4.4zM103.1 371.70h2.9v1.38h-2.9zM135.2 371.70h4.4v1.38h-4.4zM234.7 371.70h1.5v1.38h-1.5zM278.5 371.70h1.5v1.38h-1.5zM59.2 373.02h1.5v1.38h-1.5zM221.5 373.02h1.5v1.38h-1.5zM262.4 373.02h11.7v1.38h-11.7zM89.9 374.35h2.9v1.38h-2.9zM106.0 374.35h2.9v1.38h-2.9zM231.7 374.35h4.4v1.38h-4.4zM240.5 374.35h4.4v1.38h-4.4zM263.9 374.35h1.5v1.38h-1.5zM56.3 375.68h1.5v1.38h-1.5zM95.8 375.68h2.9v1.38h-2.9zM108.9 375.68h5.8v1.38h-5.8zM117.7 375.68h4.4v1.38h-4.4zM138.2 375.68h1.5v1.38h-1.5zM244.9 375.68h1.5v1.38h-1.5zM274.1 375.68h1.5v1.38h-1.5zM53.4 377.01h2.9v1.38h-2.9zM92.8 377.01h1.5v1.38h-1.5zM228.8 377.01h1.5v1.38h-1.5zM278.5 377.01h2.9v1.38h-2.9zM73.8 378.34h1.5v1.38h-1.5zM114.8 378.34h1.5v1.38h-1.5zM234.7 378.34h1.5v1.38h-1.5zM46.1 379.66h1.5v1.38h-1.5zM76.8 379.66h1.5v1.38h-1.5zM106.0 379.66h2.9v1.38h-2.9zM223.0 379.66h1.5v1.38h-1.5zM269.7 379.66h2.9v1.38h-2.9zM51.9 380.99h1.5v1.38h-1.5zM60.7 380.99h2.9v1.38h-2.9zM120.6 380.99h1.5v1.38h-1.5zM224.4 380.99h2.9v1.38h-2.9zM220.0 382.32h1.5v1.38h-1.5zM255.1 382.32h1.5v1.38h-1.5zM274.1 382.32h4.4v1.38h-4.4zM56.3 383.65h1.5v1.38h-1.5zM108.9 383.65h1.5v1.38h-1.5zM233.2 383.65h1.5v1.38h-1.5zM247.8 383.65h2.9v1.38h-2.9zM258.0 383.65h2.9v1.38h-2.9zM278.5 383.65h1.5v1.38h-1.5zM231.7 384.98h5.8v1.38h-5.8zM287.3 384.98h4.4v1.38h-4.4zM66.5 386.30h4.4v1.38h-4.4zM95.8 386.30h1.5v1.38h-1.5zM223.0 386.30h1.5v1.38h-1.5zM278.5 386.30h1.5v1.38h-1.5zM76.8 387.63h1.5v1.38h-1.5zM104.5 387.63h2.9v1.38h-2.9zM237.6 387.63h2.9v1.38h-2.9zM72.4 388.96h1.5v1.38h-1.5zM94.3 388.96h1.5v1.38h-1.5zM141.1 388.96h1.5v1.38h-1.5zM227.3 388.96h4.4v1.38h-4.4zM278.5 388.96h1.5v1.38h-1.5zM107.5 390.29h1.5v1.38h-1.5zM224.4 390.29h1.5v1.38h-1.5zM253.7 390.29h7.3v1.38h-7.3zM107.5 391.62h1.5v1.38h-1.5zM133.8 391.62h7.3v1.38h-7.3zM224.4 391.62h1.5v1.38h-1.5zM256.6 391.62h2.9v1.38h-2.9zM271.2 391.62h1.5v1.38h-1.5zM68.0 392.94h1.5v1.38h-1.5zM126.5 392.94h1.5v1.38h-1.5zM139.6 392.94h1.5v1.38h-1.5zM148.4 392.94h1.5v1.38h-1.5zM110.4 394.27h13.2v1.38h-13.2zM133.8 394.27h2.9v1.38h-2.9zM275.6 394.27h2.9v1.38h-2.9zM75.3 395.60h23.4v1.38h-23.4zM101.6 395.60h4.4v1.38h-4.4zM125.0 395.60h1.5v1.38h-1.5zM256.6 395.60h1.5v1.38h-1.5zM51.9 396.93h2.9v1.38h-2.9zM136.7 396.93h5.8v1.38h-5.8zM228.8 396.93h1.5v1.38h-1.5zM236.1 396.93h1.5v1.38h-1.5zM278.5 396.93h1.5v1.38h-1.5zM42.6 398.26h2.0v1.38h-2.0zM228.8 398.26h2.9v1.38h-2.9zM280.0 398.26h1.5v1.38h-1.5zM89.9 399.58h1.5v1.38h-1.5zM280.0 399.58h1.5v1.38h-1.5zM89.9 400.91h4.4v1.38h-4.4zM110.4 400.91h1.5v1.38h-1.5zM256.6 400.91h1.5v1.38h-1.5zM54.8 402.24h4.4v1.38h-4.4zM79.7 402.24h1.5v1.38h-1.5zM223.0 402.24h1.5v1.38h-1.5zM240.5 402.24h1.5v1.38h-1.5zM42.6 403.57h4.9v1.38h-4.9zM154.2 403.57h1.5v1.38h-1.5zM228.8 403.57h1.5v1.38h-1.5zM278.5 403.57h2.9v1.38h-2.9zM57.8 404.90h1.5v1.38h-1.5zM116.2 404.90h1.5v1.38h-1.5zM139.6 404.90h1.5v1.38h-1.5zM228.8 404.90h1.5v1.38h-1.5zM129.4 406.22h1.5v1.38h-1.5zM144.0 406.22h1.5v1.38h-1.5zM288.7 406.22h2.9v1.38h-2.9zM108.9 407.55h1.5v1.38h-1.5zM233.2 407.55h1.5v1.38h-1.5zM277.1 407.55h1.5v1.38h-1.5zM47.5 408.88h2.9v1.38h-2.9zM123.5 408.88h2.9v1.38h-2.9zM132.3 408.88h1.5v1.38h-1.5zM255.1 408.88h1.5v1.38h-1.5zM79.7 410.21h1.5v1.38h-1.5zM104.5 410.21h5.8v1.38h-5.8zM256.6 410.21h2.9v1.38h-2.9zM76.8 411.54h1.5v1.38h-1.5zM106.0 411.54h1.5v1.38h-1.5zM261.0 411.54h1.5v1.38h-1.5zM65.1 412.86h8.8v1.38h-8.8zM108.9 412.86h2.9v1.38h-2.9zM129.4 412.86h2.9v1.38h-2.9zM72.4 414.19h1.5v1.38h-1.5zM81.1 414.19h2.9v1.38h-2.9zM100.1 414.19h1.5v1.38h-1.5zM228.8 414.19h1.5v1.38h-1.5zM239.0 414.19h4.4v1.38h-4.4zM284.4 414.19h2.9v1.38h-2.9zM68.0 415.52h1.5v1.38h-1.5zM95.8 415.52h1.5v1.38h-1.5zM111.8 415.52h1.5v1.38h-1.5zM120.6 415.52h1.5v1.38h-1.5zM145.5 415.52h1.5v1.38h-1.5zM65.1 416.85h1.5v1.38h-1.5zM152.8 416.85h1.5v1.38h-1.5zM57.8 418.18h2.9v1.38h-2.9zM132.3 418.18h2.9v1.38h-2.9zM236.1 418.18h4.4v1.38h-4.4zM249.3 418.18h4.4v1.38h-4.4zM88.5 419.50h5.8v1.38h-5.8zM113.3 419.50h1.5v1.38h-1.5zM135.2 419.50h2.9v1.38h-2.9zM278.5 419.50h10.2v1.38h-10.2zM81.1 420.83h4.4v1.38h-4.4zM88.5 420.83h5.8v1.38h-5.8zM117.7 420.83h1.5v1.38h-1.5zM145.5 420.83h1.5v1.38h-1.5zM234.7 420.83h1.5v1.38h-1.5zM242.0 420.83h1.5v1.38h-1.5zM46.1 422.16h2.9v1.38h-2.9zM78.2 422.16h1.5v1.38h-1.5zM103.1 422.16h1.5v1.38h-1.5zM135.2 422.16h4.4v1.38h-4.4zM56.3 423.49h1.5v1.38h-1.5zM239.0 423.49h1.5v1.38h-1.5zM76.8 424.82h2.9v1.38h-2.9zM282.9 424.82h1.5v1.38h-1.5zM50.4 426.14h2.9v1.38h-2.9zM87.0 426.14h4.4v1.38h-4.4zM95.8 426.14h4.4v1.38h-4.4zM107.5 427.47h1.5v1.38h-1.5zM278.5 427.47h2.9v1.38h-2.9zM62.1 428.80h2.9v1.38h-2.9zM119.2 428.80h7.3v1.38h-7.3zM236.1 428.80h1.5v1.38h-1.5zM66.5 430.13h1.5v1.38h-1.5zM92.8 430.13h2.9v1.38h-2.9zM127.9 430.13h2.9v1.38h-2.9zM151.3 430.13h1.5v1.38h-1.5zM274.1 430.13h4.4v1.38h-4.4zM88.5 431.46h2.9v1.38h-2.9zM107.5 431.46h14.6v1.38h-14.6zM141.1 431.46h4.4v1.38h-4.4zM256.6 431.46h4.4v1.38h-4.4zM268.3 431.46h4.4v1.38h-4.4zM78.2 432.78h11.7v1.38h-11.7zM262.4 432.78h1.5v1.38h-1.5zM76.8 434.11h1.5v1.38h-1.5zM146.9 434.11h1.5v1.38h-1.5zM256.6 434.11h1.5v1.38h-1.5zM50.4 435.44h1.5v1.38h-1.5zM78.2 435.44h5.8v1.38h-5.8zM120.6 435.44h1.5v1.38h-1.5zM138.2 435.44h1.5v1.38h-1.5zM242.0 435.44h26.3v1.38h-26.3zM240.5 436.77h1.5v1.38h-1.5zM275.6 436.77h1.5v1.38h-1.5zM82.6 438.10h4.4v1.38h-4.4zM106.0 438.10h2.9v1.38h-2.9zM141.1 438.10h1.5v1.38h-1.5zM250.7 438.10h2.9v1.38h-2.9zM59.2 439.42h1.5v1.38h-1.5zM242.0 439.42h1.5v1.38h-1.5zM252.2 439.42h1.5v1.38h-1.5zM62.1 440.75h1.5v1.38h-1.5zM272.7 440.75h1.5v1.38h-1.5zM70.9 442.08h23.4v1.38h-23.4zM122.1 442.08h8.8v1.38h-8.8zM142.5 442.08h1.5v1.38h-1.5zM247.8 442.08h1.5v1.38h-1.5zM271.2 442.08h2.9v1.38h-2.9zM127.9 443.41h1.5v1.38h-1.5zM142.5 443.41h1.5v1.38h-1.5zM274.1 443.41h1.5v1.38h-1.5zM76.8 444.74h2.9v1.38h-2.9zM244.9 444.74h1.5v1.38h-1.5zM265.4 444.74h1.5v1.38h-1.5zM81.1 446.06h1.5v1.38h-1.5zM94.3 446.06h2.9v1.38h-2.9zM129.4 446.06h2.9v1.38h-2.9zM152.8 446.06h1.5v1.38h-1.5zM73.8 447.39h2.9v1.38h-2.9zM92.8 447.39h4.4v1.38h-4.4zM103.1 447.39h4.4v1.38h-4.4zM258.0 447.39h1.5v1.38h-1.5zM108.9 448.72h1.5v1.38h-1.5zM142.5 448.72h1.5v1.38h-1.5zM261.0 448.72h1.5v1.38h-1.5zM256.6 450.05h1.5v1.38h-1.5zM66.5 451.38h4.4v1.38h-4.4zM119.2 451.38h1.5v1.38h-1.5zM255.1 451.38h1.5v1.38h-1.5zM261.0 452.70h2.9v1.38h-2.9zM65.1 454.03h1.5v1.38h-1.5zM94.3 454.03h1.5v1.38h-1.5zM259.5 454.03h1.5v1.38h-1.5zM287.3 454.03h1.5v1.38h-1.5zM258.0 455.36h1.5v1.38h-1.5zM78.2 456.69h1.5v1.38h-1.5zM123.5 456.69h1.5v1.38h-1.5zM258.0 456.69h1.5v1.38h-1.5zM280.0 456.69h11.7v1.38h-11.7zM78.2 458.02h10.2v1.38h-10.2zM127.9 458.02h1.5v1.38h-1.5zM59.2 459.34h1.5v1.38h-1.5zM149.9 459.34h1.5v1.38h-1.5zM266.8 459.34h1.5v1.38h-1.5zM56.3 460.67h2.9v1.38h-2.9zM69.4 460.67h2.9v1.38h-2.9zM91.4 460.67h1.5v1.38h-1.5zM268.3 460.67h1.5v1.38h-1.5zM287.3 460.67h2.9v1.38h-2.9z"/>
<path fill="#982892" d="M108.9 296.00h1.5v1.38h-1.5zM123.5 296.00h1.5v1.38h-1.5zM59.2 297.33h1.5v1.38h-1.5zM92.8 297.33h1.5v1.38h-1.5zM243.4 297.33h1.5v1.38h-1.5zM262.4 297.33h2.9v1.38h-2.9zM66.5 298.66h2.9v1.38h-2.9zM227.3 299.98h11.7v1.38h-11.7zM274.1 299.98h1.5v1.38h-1.5zM50.4 301.31h1.5v1.38h-1.5zM84.1 301.31h1.5v1.38h-1.5zM126.5 301.31h1.5v1.38h-1.5zM135.2 301.31h1.5v1.38h-1.5zM215.6 301.31h1.5v1.38h-1.5zM225.9 301.31h1.5v1.38h-1.5zM53.4 302.64h13.2v1.38h-13.2zM81.1 302.64h2.9v1.38h-2.9zM107.5 302.64h2.9v1.38h-2.9zM119.2 302.64h4.4v1.38h-4.4zM201.0 302.64h1.5v1.38h-1.5zM214.2 302.64h1.5v1.38h-1.5zM227.3 302.64h2.9v1.38h-2.9zM65.1 303.97h2.9v1.38h-2.9zM139.6 303.97h1.5v1.38h-1.5zM148.4 303.97h1.5v1.38h-1.5zM236.1 303.97h1.5v1.38h-1.5zM110.4 305.30h1.5v1.38h-1.5zM201.0 305.30h1.5v1.38h-1.5zM206.9 305.30h5.8v1.38h-5.8zM249.3 305.30h1.5v1.38h-1.5zM62.1 306.62h1.5v1.38h-1.5zM85.5 306.62h1.5v1.38h-1.5zM205.4 306.62h1.5v1.38h-1.5zM43.1 307.95h4.4v1.38h-4.4zM69.4 307.95h1.5v1.38h-1.5zM92.8 307.95h1.5v1.38h-1.5zM101.6 307.95h2.9v1.38h-2.9zM212.7 307.95h1.5v1.38h-1.5zM281.4 307.95h1.5v1.38h-1.5zM49.0 309.28h1.5v1.38h-1.5zM234.7 309.28h1.5v1.38h-1.5zM51.9 310.61h1.5v1.38h-1.5zM205.4 310.61h1.5v1.38h-1.5zM237.6 310.61h1.5v1.38h-1.5zM259.5 310.61h1.5v1.38h-1.5zM275.6 310.61h1.5v1.38h-1.5zM50.4 311.94h1.5v1.38h-1.5zM81.1 311.94h1.5v1.38h-1.5zM122.1 311.94h5.8v1.38h-5.8zM269.7 311.94h2.9v1.38h-2.9zM42.6 313.26h2.0v1.38h-2.0zM73.8 313.26h2.9v1.38h-2.9zM84.1 313.26h4.4v1.38h-4.4zM201.0 313.26h1.5v1.38h-1.5zM221.5 313.26h1.5v1.38h-1.5zM240.5 313.26h4.4v1.38h-4.4zM278.5 313.26h2.9v1.38h-2.9zM92.8 314.59h1.5v1.38h-1.5zM132.3 314.59h5.8v1.38h-5.8zM218.6 314.59h1.5v1.38h-1.5zM236.1 314.59h1.5v1.38h-1.5zM258.0 314.59h8.8v1.38h-8.8zM136.7 315.92h1.5v1.38h-1.5zM144.0 315.92h1.5v1.38h-1.5zM225.9 315.92h1.5v1.38h-1.5zM236.1 315.92h2.9v1.38h-2.9zM253.7 315.92h8.8v1.38h-8.8zM125.0 317.25h2.9v1.38h-2.9zM228.8 317.25h1.5v1.38h-1.5zM239.0 317.25h1.5v1.38h-1.5zM256.6 317.25h2.9v1.38h-2.9zM275.6 317.25h1.5v1.38h-1.5zM62.1 318.58h1.5v1.38h-1.5zM94.3 318.58h1.5v1.38h-1.5zM136.7 318.58h1.5v1.38h-1.5zM208.3 318.58h1.5v1.38h-1.5zM236.1 318.58h11.7v1.38h-11.7zM65.1 319.90h2.9v1.38h-2.9zM72.4 319.90h5.8v1.38h-5.8zM89.9 319.90h2.9v1.38h-2.9zM120.6 319.90h7.3v1.38h-7.3zM130.9 319.90h11.7v1.38h-11.7zM50.4 321.23h1.5v1.38h-1.5zM205.4 321.23h1.5v1.38h-1.5zM247.8 321.23h1.5v1.38h-1.5zM275.6 321.23h1.5v1.38h-1.5zM100.1 322.56h1.5v1.38h-1.5zM117.7 322.56h1.5v1.38h-1.5zM247.8 322.56h1.5v1.38h-1.5zM138.2 323.89h2.9v1.38h-2.9zM144.0 323.89h1.5v1.38h-1.5zM236.1 323.89h1.5v1.38h-1.5zM47.5 325.22h1.5v1.38h-1.5zM91.4 325.22h4.4v1.38h-4.4zM101.6 325.22h7.3v1.38h-7.3zM244.9 325.22h2.9v1.38h-2.9zM271.2 325.22h4.4v1.38h-4.4zM277.1 325.22h4.4v1.38h-4.4zM202.5 326.54h1.5v1.38h-1.5zM247.8 326.54h2.9v1.38h-2.9zM255.1 326.54h1.5v1.38h-1.5zM95.8 327.87h2.9v1.38h-2.9zM142.5 327.87h1.5v1.38h-1.5zM271.2 327.87h2.9v1.38h-2.9zM82.6 329.20h11.7v1.38h-11.7zM97.2 329.20h5.8v1.38h-5.8zM113.3 329.20h2.9v1.38h-2.9zM205.4 329.20h1.5v1.38h-1.5zM212.7 329.20h1.5v1.38h-1.5zM259.5 329.20h1.5v1.38h-1.5zM43.1 330.53h2.9v1.38h-2.9zM227.3 330.53h1.5v1.38h-1.5zM50.4 331.86h1.5v1.38h-1.5zM129.4 331.86h1.5v1.38h-1.5zM144.0 331.86h1.5v1.38h-1.5zM234.7 331.86h4.4v1.38h-4.4zM72.4 333.18h1.5v1.38h-1.5zM138.2 333.18h1.5v1.38h-1.5zM239.0 333.18h4.4v1.38h-4.4zM44.6 334.51h4.4v1.38h-4.4zM82.6 334.51h8.8v1.38h-8.8zM107.5 334.51h1.5v1.38h-1.5zM224.4 334.51h1.5v1.38h-1.5zM244.9 334.51h1.5v1.38h-1.5zM269.7 334.51h1.5v1.38h-1.5zM44.6 335.84h1.5v1.38h-1.5zM79.7 335.84h7.3v1.38h-7.3zM100.1 335.84h2.9v1.38h-2.9zM110.4 335.84h2.9v1.38h-2.9zM236.1 335.84h1.5v1.38h-1.5zM49.0 337.17h1.5v1.38h-1.5zM108.9 337.17h5.8v1.38h-5.8zM211.3 337.17h1.5v1.38h-1.5zM220.0 337.17h1.5v1.38h-1.5zM221.5 338.50h1.5v1.38h-1.5zM258.0 338.50h1.5v1.38h-1.5zM284.4 338.50h1.5v1.38h-1.5zM212.7 339.82h2.9v1.38h-2.9zM230.3 339.82h1.5v1.38h-1.5zM253.7 339.82h1.5v1.38h-1.5zM262.4 339.82h2.9v1.38h-2.9zM280.0 339.82h2.9v1.38h-2.9zM49.0 341.15h1.5v1.38h-1.5zM69.4 341.15h1.5v1.38h-1.5zM126.5 341.15h1.5v1.38h-1.5zM144.0 341.15h1.5v1.38h-1.5zM57.8 342.48h4.4v1.38h-4.4zM104.5 342.48h1.5v1.38h-1.5zM116.2 342.48h2.9v1.38h-2.9zM231.7 342.48h2.9v1.38h-2.9zM247.8 342.48h2.9v1.38h-2.9zM262.4 342.48h2.9v1.38h-2.9zM274.1 342.48h1.5v1.38h-1.5zM51.9 343.81h2.9v1.38h-2.9zM57.8 343.81h2.9v1.38h-2.9zM224.4 343.81h1.5v1.38h-1.5zM263.9 343.81h2.9v1.38h-2.9zM56.3 345.14h1.5v1.38h-1.5zM212.7 345.14h1.5v1.38h-1.5zM221.5 345.14h1.5v1.38h-1.5zM249.3 345.14h1.5v1.38h-1.5zM217.1 346.46h1.5v1.38h-1.5zM253.7 346.46h1.5v1.38h-1.5zM285.8 346.46h5.8v1.38h-5.8zM65.1 347.79h2.9v1.38h-2.9zM92.8 347.79h1.5v1.38h-1.5zM223.0 347.79h1.5v1.38h-1.5zM247.8 347.79h4.4v1.38h-4.4zM47.5 349.12h2.9v1.38h-2.9zM266.8 349.12h1.5v1.38h-1.5zM46.1 350.45h1.5v1.38h-1.5zM85.5 350.45h1.5v1.38h-1.5zM108.9 350.45h1.5v1.38h-1.5zM217.1 350.45h1.5v1.38h-1.5zM237.6 350.45h2.9v1.38h-2.9zM237.6 351.78h1.5v1.38h-1.5zM259.5 351.78h1.5v1.38h-1.5zM223.0 353.10h2.9v1.38h-2.9zM272.7 353.10h1.5v1.38h-1.5zM220.0 355.76h1.5v1.38h-1.5zM269.7 355.76h4.4v1.38h-4.4zM59.2 357.09h1.5v1.38h-1.5zM111.8 357.09h1.5v1.38h-1.5zM132.3 357.09h1.5v1.38h-1.5zM217.1 357.09h1.5v1.38h-1.5zM227.3 357.09h2.9v1.38h-2.9zM255.1 357.09h2.9v1.38h-2.9zM275.6 357.09h1.5v1.38h-1.5zM73.8 358.42h7.3v1.38h-7.3zM92.8 358.42h1.5v1.38h-1.5zM119.2 358.42h1.5v1.38h-1.5zM227.3 358.42h2.9v1.38h-2.9zM88.5 359.74h14.6v1.38h-14.6zM117.7 359.74h2.9v1.38h-2.9zM133.8 359.74h1.5v1.38h-1.5zM231.7 359.74h1.5v1.38h-1.5zM266.8 359.74h2.9v1.38h-2.9zM42.6 361.07h12.2v1.38h-12.2zM253.7 361.07h1.5v1.38h-1.5zM265.4 361.07h1.5v1.38h-1.5zM135.2 362.40h5.8v1.38h-5.8zM59.2 363.73h2.9v1.38h-2.9zM103.1 363.73h1.5v1.38h-1.5zM123.5 363.73h2.9v1.38h-2.9zM129.4 363.73h1.5v1.38h-1.5zM221.5 363.73h1.5v1.38h-1.5zM224.4 363.73h1.5v1.38h-1.5zM274.1 363.73h8.8v1.38h-8.8zM57.8 365.06h1.5v1.38h-1.5zM221.5 365.06h2.9v1.38h-2.9zM262.4 365.06h2.9v1.38h-2.9zM274.1 365.06h1.5v1.38h-1.5zM49.0 366.38h1.5v1.38h-1.5zM68.0 366.38h1.5v1.38h-1.5zM85.5 366.38h1.5v1.38h-1.5zM221.5 366.38h1.5v1.38h-1.5zM57.8 367.71h1.5v1.38h-1.5zM82.6 367.71h1.5v1.38h-1.5zM224.4 367.71h1.5v1.38h-1.5zM53.4 369.04h1.5v1.38h-1.5zM75.3 369.04h1.5v1.38h-1.5zM110.4 369.04h8.8v1.38h-8.8zM218.6 369.04h1.5v1.38h-1.5zM244.9 369.04h1.5v1.38h-1.5zM256.6 369.04h1.5v1.38h-1.5zM72.4 370.37h1.5v1.38h-1.5zM100.1 370.37h2.9v1.38h-2.9zM108.9 370.37h2.9v1.38h-2.9zM132.3 370.37h1.5v1.38h-1.5zM221.5 370.37h1.5v1.38h-1.5zM246.3 370.37h2.9v1.38h-2.9zM280.0 370.37h1.5v1.38h-1.5zM54.8 371.70h4.4v1.38h-4.4zM95.8 371.70h7.3v1.38h-7.3zM236.1 371.70h1.5v1.38h-1.5zM263.9 371.70h1.5v1.38h-1.5zM280.0 371.70h1.5v1.38h-1.5zM223.0 373.02h1.5v1.38h-1.5zM258.0 373.02h4.4v1.38h-4.4zM274.1 373.02h4.4v1.38h-4.4zM92.8 374.35h4.4v1.38h-4.4zM103.1 374.35h2.9v1.38h-2.9zM236.1 374.35h4.4v1.38h-4.4zM53.4 375.68h2.9v1.38h-2.9zM98.7 375.68h10.2v1.38h-10.2zM122.1 375.68h2.9v1.38h-2.9zM243.4 375.68h1.5v1.38h-1.5zM275.6 375.68h1.5v1.38h-1.5zM51.9 377.01h1.5v1.38h-1.5zM145.5 377.01h1.5v1.38h-1.5zM230.3 377.01h1.5v1.38h-1.5zM277.1 377.01h1.5v1.38h-1.5zM56.3 378.34h1.5v1.38h-1.5zM75.3 378.34h2.9v1.38h-2.9zM236.1 378.34h1.5v1.38h-1.5zM44.6 379.66h1.5v1.38h-1.5zM78.2 379.66h1.5v1.38h-1.5zM104.5 379.66h1.5v1.38h-1.5zM268.3 379.66h1.5v1.38h-1.5zM50.4 380.99h1.5v1.38h-1.5zM63.6 380.99h2.9v1.38h-2.9zM117.7 380.99h2.9v1.38h-2.9zM227.3 380.99h2.9v1.38h-2.9zM259.5 380.99h1.5v1.38h-1.5zM253.7 382.32h1.5v1.38h-1.5zM278.5 382.32h2.9v1.38h-2.9zM53.4 383.65h2.9v1.38h-2.9zM91.4 383.65h1.5v1.38h-1.5zM107.5 383.65h1.5v1.38h-1.5zM227.3 383.65h1.5v1.38h-1.5zM231.7 383.65h1.5v1.38h-1.5zM250.7 383.65h7.3v1.38h-7.3zM280.0 383.65h1.5v1.38h-1.5zM70.9 386.30h16.1v1.38h-16.1zM92.8 386.30h2.9v1.38h-2.9zM239.0 386.30h1.5v1.38h-1.5zM78.2 387.63h2.9v1.38h-2.9zM103.1 387.63h1.5v1.38h-1.5zM240.5 387.63h10.2v1.38h-10.2zM73.8 388.96h1.5v1.38h-1.5zM119.2 388.96h1.5v1.38h-1.5zM139.6 388.96h1.5v1.38h-1.5zM231.7 388.96h2.9v1.38h-2.9zM277.1 388.96h1.5v1.38h-1.5zM56.3 390.29h1.5v1.38h-1.5zM108.9 390.29h1.5v1.38h-1.5zM148.4 390.29h1.5v1.38h-1.5zM250.7 390.29h2.9v1.38h-2.9zM261.0 390.29h1.5v1.38h-1.5zM49.0 391.62h1.5v1.38h-1.5zM108.9 391.62h1.5v1.38h-1.5zM130.9 391.62h2.9v1.38h-2.9zM225.9 391.62h1.5v1.38h-1.5zM230.3 391.62h10.2v1.38h-10.2zM255.1 391.62h1.5v1.38h-1.5zM272.7 391.62h1.5v1.38h-1.5zM98.7 392.94h1.5v1.38h-1.5zM146.9 392.94h1.5v1.38h-1.5zM107.5 394.27h2.9v1.38h-2.9zM123.5 394.27h10.2v1.38h-10.2zM274.1 394.27h1.5v1.38h-1.5zM72.4 395.60h2.9v1.38h-2.9zM106.0 395.60h2.9v1.38h-2.9zM255.1 395.60h1.5v1.38h-1.5zM47.5 396.93h4.4v1.38h-4.4zM234.7 396.93h1.5v1.38h-1.5zM280.0 396.93h2.9v1.38h-2.9zM231.7 398.26h4.4v1.38h-4.4zM277.1 398.26h2.9v1.38h-2.9zM57.8 399.58h1.5v1.38h-1.5zM227.3 399.58h1.5v1.38h-1.5zM94.3 400.91h4.4v1.38h-4.4zM107.5 400.91h2.9v1.38h-2.9zM225.9 400.91h1.5v1.38h-1.5zM255.1 400.91h1.5v1.38h-1.5zM278.5 400.91h1.5v1.38h-1.5zM59.2 402.24h2.9v1.38h-2.9zM76.8 402.24h2.9v1.38h-2.9zM239.0 402.24h1.5v1.38h-1.5zM47.5 403.57h4.4v1.38h-4.4zM277.1 403.57h1.5v1.38h-1.5zM56.3 404.90h1.5v1.38h-1.5zM117.7 404.90h2.9v1.38h-2.9zM138.2 404.90h1.5v1.38h-1.5zM130.9 406.22h1.5v1.38h-1.5zM231.7 406.22h2.9v1.38h-2.9zM285.8 406.22h2.9v1.38h-2.9zM107.5 407.55h1.5v1.38h-1.5zM234.7 407.55h2.9v1.38h-2.9zM274.1 407.55h2.9v1.38h-2.9zM44.6 408.88h2.9v1.38h-2.9zM126.5 408.88h5.8v1.38h-5.8zM256.6 408.88h1.5v1.38h-1.5zM78.2 410.21h1.5v1.38h-1.5zM259.5 410.21h1.5v1.38h-1.5zM107.5 411.54h1.5v1.38h-1.5zM262.4 411.54h1.5v1.38h-1.5zM111.8 412.86h17.5v1.38h-17.5zM230.3 412.86h1.5v1.38h-1.5zM287.3 412.86h4.4v1.38h-4.4zM70.9 414.19h1.5v1.38h-1.5zM84.1 414.19h1.5v1.38h-1.5zM98.7 414.19h1.5v1.38h-1.5zM236.1 414.19h2.9v1.38h-2.9zM243.4 414.19h1.5v1.38h-1.5zM281.4 414.19h2.9v1.38h-2.9zM42.6 415.52h2.0v1.38h-2.0zM110.4 415.52h1.5v1.38h-1.5zM122.1 415.52h1.5v1.38h-1.5zM144.0 415.52h1.5v1.38h-1.5zM231.7 415.52h1.5v1.38h-1.5zM120.6 416.85h1.5v1.38h-1.5zM231.7 416.85h1.5v1.38h-1.5zM60.7 418.18h1.5v1.38h-1.5zM82.6 418.18h1.5v1.38h-1.5zM240.5 418.18h8.8v1.38h-8.8zM94.3 419.50h2.9v1.38h-2.9zM110.4 419.50h2.9v1.38h-2.9zM138.2 419.50h7.3v1.38h-7.3zM85.5 420.83h2.9v1.38h-2.9zM119.2 420.83h1.5v1.38h-1.5zM240.5 420.83h1.5v1.38h-1.5zM49.0 422.16h1.5v1.38h-1.5zM104.5 422.16h1.5v1.38h-1.5zM132.3 422.16h2.9v1.38h-2.9zM230.3 422.16h1.5v1.38h-1.5zM57.8 423.49h1.5v1.38h-1.5zM119.2 423.49h7.3v1.38h-7.3zM138.2 423.49h1.5v1.38h-1.5zM240.5 423.49h1.5v1.38h-1.5zM287.3 423.49h4.4v1.38h-4.4zM79.7 424.82h2.9v1.38h-2.9zM113.3 424.82h7.3v1.38h-7.3zM145.5 424.82h1.5v1.38h-1.5zM236.1 424.82h1.5v1.38h-1.5zM261.0 424.82h1.5v1.38h-1.5zM284.4 424.82h1.5v1.38h-1.5zM46.1 426.14h4.4v1.38h-4.4zM91.4 426.14h4.4v1.38h-4.4zM236.1 426.14h1.5v1.38h-1.5zM106.0 427.47h1.5v1.38h-1.5zM281.4 427.47h5.8v1.38h-5.8zM56.3 428.80h5.8v1.38h-5.8zM91.4 430.13h1.5v1.38h-1.5zM130.9 430.13h1.5v1.38h-1.5zM278.5 430.13h13.2v1.38h-13.2zM91.4 431.46h2.9v1.38h-2.9zM100.1 431.46h7.3v1.38h-7.3zM261.0 431.46h7.3v1.38h-7.3zM239.0 432.78h2.9v1.38h-2.9zM261.0 432.78h1.5v1.38h-1.5zM117.7 434.11h7.3v1.38h-7.3zM237.6 434.11h1.5v1.38h-1.5zM255.1 434.11h1.5v1.38h-1.5zM51.9 435.44h1.5v1.38h-1.5zM73.8 435.44h4.4v1.38h-4.4zM268.3 435.44h4.4v1.38h-4.4zM242.0 436.77h14.6v1.38h-14.6zM272.7 436.77h2.9v1.38h-2.9zM87.0 438.10h4.4v1.38h-4.4zM95.8 438.10h10.2v1.38h-10.2zM108.9 438.10h5.8v1.38h-5.8zM136.7 438.10h4.4v1.38h-4.4zM253.7 438.10h1.5v1.38h-1.5zM57.8 439.42h1.5v1.38h-1.5zM250.7 439.42h1.5v1.38h-1.5zM63.6 440.75h1.5v1.38h-1.5zM151.3 440.75h1.5v1.38h-1.5zM274.1 440.75h1.5v1.38h-1.5zM130.9 442.08h5.8v1.38h-5.8zM141.1 442.08h1.5v1.38h-1.5zM249.3 442.08h10.2v1.38h-10.2zM268.3 442.08h2.9v1.38h-2.9zM129.4 443.41h2.9v1.38h-2.9zM141.1 443.41h1.5v1.38h-1.5zM246.3 443.41h1.5v1.38h-1.5zM272.7 443.41h1.5v1.38h-1.5zM75.3 444.74h1.5v1.38h-1.5zM262.4 444.74h2.9v1.38h-2.9zM82.6 446.06h11.7v1.38h-11.7zM132.3 446.06h2.9v1.38h-2.9zM151.3 446.06h1.5v1.38h-1.5zM72.4 447.39h1.5v1.38h-1.5zM97.2 447.39h5.8v1.38h-5.8zM247.8 447.39h1.5v1.38h-1.5zM110.4 448.72h1.5v1.38h-1.5zM259.5 448.72h1.5v1.38h-1.5zM94.3 451.38h1.5v1.38h-1.5zM263.9 452.70h2.9v1.38h-2.9zM66.5 454.03h1.5v1.38h-1.5zM285.8 454.03h1.5v1.38h-1.5zM79.7 456.69h1.5v1.38h-1.5zM122.1 456.69h1.5v1.38h-1.5zM277.1 456.69h2.9v1.38h-2.9zM49.0 458.02h7.3v1.38h-7.3zM75.3 458.02h2.9v1.38h-2.9zM88.5 458.02h2.9v1.38h-2.9zM126.5 458.02h1.5v1.38h-1.5zM275.6 458.02h1.5v1.38h-1.5zM60.7 459.34h2.9v1.38h-2.9zM53.4 460.67h2.9v1.38h-2.9zM72.4 460.67h2.9v1.38h-2.9zM89.9 460.67h1.5v1.38h-1.5zM285.8 460.67h1.5v1.38h-1.5z"/>
<path fill="#aa2d8c" d="M110.4 296.00h2.9v1.38h-2.9zM60.7 297.33h1.5v1.38h-1.5zM201.0 297.33h4.4v1.38h-4.4zM242.0 297.33h1.5v1.38h-1.5zM265.4 297.33h10.2v1.38h-10.2zM51.9 298.66h14.6v1.38h-14.6zM50.4 299.98h1.5v1.38h-1.5zM196.6 299.98h1.5v1.38h-1.5zM225.9 299.98h1.5v1.38h-1.5zM239.0 299.98h7.3v1.38h-7.3zM272.7 299.98h1.5v1.38h-1.5zM51.9 301.31h1.5v1.38h-1.5zM217.1 301.31h2.9v1.38h-2.9zM221.5 301.31h4.4v1.38h-4.4zM49.0 302.64h4.4v1.38h-4.4zM66.5 302.64h2.9v1.38h-2.9zM78.2 302.64h2.9v1.38h-2.9zM110.4 302.64h8.8v1.38h-8.8zM211.3 302.64h2.9v1.38h-2.9zM230.3 302.64h1.5v1.38h-1.5zM265.4 302.64h1.5v1.38h-1.5zM62.1 303.97h2.9v1.38h-2.9zM141.1 303.97h1.5v1.38h-1.5zM146.9 303.97h1.5v1.38h-1.5zM205.4 303.97h1.5v1.38h-1.5zM233.2 303.97h2.9v1.38h-2.9zM278.5 303.97h1.5v1.38h-1.5zM84.1 305.30h1.5v1.38h-1.5zM107.5 305.30h2.9v1.38h-2.9zM202.5 305.30h4.4v1.38h-4.4zM212.7 305.30h4.4v1.38h-4.4zM63.6 306.62h2.9v1.38h-2.9zM84.1 306.62h1.5v1.38h-1.5zM206.9 306.62h1.5v1.38h-1.5zM42.6 307.95h0.5v1.38h-0.5zM91.4 307.95h1.5v1.38h-1.5zM117.7 307.95h1.5v1.38h-1.5zM211.3 307.95h1.5v1.38h-1.5zM282.9 307.95h1.5v1.38h-1.5zM47.5 309.28h1.5v1.38h-1.5zM199.6 309.28h1.5v1.38h-1.5zM208.3 309.28h1.5v1.38h-1.5zM53.4 310.61h1.5v1.38h-1.5zM113.3 310.61h1.5v1.38h-1.5zM239.0 310.61h1.5v1.38h-1.5zM256.6 310.61h2.9v1.38h-2.9zM277.1 310.61h1.5v1.38h-1.5zM82.6 311.94h1.5v1.38h-1.5zM98.7 311.94h7.3v1.38h-7.3zM117.7 311.94h4.4v1.38h-4.4zM272.7 311.94h4.4v1.38h-4.4zM76.8 313.26h7.3v1.38h-7.3zM220.0 313.26h1.5v1.38h-1.5zM244.9 313.26h2.9v1.38h-2.9zM277.1 313.26h1.5v1.38h-1.5zM113.3 314.59h1.5v1.38h-1.5zM220.0 314.59h1.5v1.38h-1.5zM234.7 314.59h1.5v1.38h-1.5zM266.8 314.59h4.4v1.38h-4.4zM72.4 315.92h1.5v1.38h-1.5zM138.2 315.92h5.8v1.38h-5.8zM227.3 315.92h2.9v1.38h-2.9zM233.2 315.92h2.9v1.38h-2.9zM85.5 317.25h1.5v1.38h-1.5zM122.1 317.25h2.9v1.38h-2.9zM208.3 317.25h1.5v1.38h-1.5zM227.3 317.25h1.5v1.38h-1.5zM240.5 317.25h2.9v1.38h-2.9zM255.1 317.25h1.5v1.38h-1.5zM277.1 317.25h4.4v1.38h-4.4zM285.8 317.25h5.8v1.38h-5.8zM116.2 318.58h1.5v1.38h-1.5zM209.8 318.58h1.5v1.38h-1.5zM233.2 318.58h2.9v1.38h-2.9zM247.8 318.58h7.3v1.38h-7.3zM63.6 319.90h1.5v1.38h-1.5zM78.2 319.90h11.7v1.38h-11.7zM252.2 319.90h1.5v1.38h-1.5zM47.5 321.23h2.9v1.38h-2.9zM246.3 321.23h1.5v1.38h-1.5zM101.6 322.56h1.5v1.38h-1.5zM116.2 322.56h1.5v1.38h-1.5zM249.3 322.56h1.5v1.38h-1.5zM49.0 323.89h1.5v1.38h-1.5zM141.1 323.89h2.9v1.38h-2.9zM206.9 323.89h1.5v1.38h-1.5zM46.1 325.22h1.5v1.38h-1.5zM95.8 325.22h5.8v1.38h-5.8zM204.0 325.22h1.5v1.38h-1.5zM243.4 325.22h1.5v1.38h-1.5zM275.6 325.22h1.5v1.38h-1.5zM246.3 326.54h1.5v1.38h-1.5zM256.6 326.54h2.9v1.38h-2.9zM92.8 327.87h2.9v1.38h-2.9zM144.0 327.87h1.5v1.38h-1.5zM152.8 327.87h1.5v1.38h-1.5zM274.1 327.87h2.9v1.38h-2.9zM103.1 329.20h10.2v1.38h-10.2zM206.9 329.20h1.5v1.38h-1.5zM211.3 329.20h1.5v1.38h-1.5zM42.6 330.53h0.5v1.38h-0.5zM208.3 330.53h1.5v1.38h-1.5zM224.4 330.53h2.9v1.38h-2.9zM274.1 330.53h1.5v1.38h-1.5zM84.1 331.86h1.5v1.38h-1.5zM107.5 331.86h1.5v1.38h-1.5zM130.9 331.86h1.5v1.38h-1.5zM239.0 331.86h2.9v1.38h-2.9zM70.9 333.18h1.5v1.38h-1.5zM123.5 333.18h1.5v1.38h-1.5zM209.8 333.18h1.5v1.38h-1.5zM237.6 333.18h1.5v1.38h-1.5zM49.0 334.51h2.9v1.38h-2.9zM79.7 334.51h2.9v1.38h-2.9zM91.4 334.51h2.9v1.38h-2.9zM104.5 334.51h2.9v1.38h-2.9zM208.3 334.51h1.5v1.38h-1.5zM246.3 334.51h1.5v1.38h-1.5zM268.3 334.51h1.5v1.38h-1.5zM42.6 335.84h2.0v1.38h-2.0zM103.1 335.84h7.3v1.38h-7.3zM237.6 335.84h1.5v1.38h-1.5zM47.5 337.17h1.5v1.38h-1.5zM218.6 337.17h1.5v1.38h-1.5zM212.7 338.50h1.5v1.38h-1.5zM220.0 338.50h1.5v1.38h-1.5zM259.5 338.50h1.5v1.38h-1.5zM252.2 339.82h1.5v1.38h-1.5zM265.4 339.82h1.5v1.38h-1.5zM278.5 339.82h1.5v1.38h-1.5zM87.0 341.15h1.5v1.38h-1.5zM127.9 341.15h2.9v1.38h-2.9zM142.5 341.15h1.5v1.38h-1.5zM244.9 341.15h1.5v1.38h-1.5zM62.1 342.48h11.7v1.38h-11.7zM103.1 342.48h1.5v1.38h-1.5zM119.2 342.48h2.9v1.38h-2.9zM133.8 342.48h1.5v1.38h-1.5zM230.3 342.48h1.5v1.38h-1.5zM250.7 342.48h5.8v1.38h-5.8zM258.0 342.48h4.4v1.38h-4.4zM54.8 343.81h2.9v1.38h-2.9zM223.0 343.81h1.5v1.38h-1.5zM266.8 343.81h4.4v1.38h-4.4zM73.8 345.14h1.5v1.38h-1.5zM214.2 345.14h1.5v1.38h-1.5zM218.6 345.14h2.9v1.38h-2.9zM250.7 345.14h1.5v1.38h-1.5zM255.1 346.46h1.5v1.38h-1.5zM275.6 346.46h10.2v1.38h-10.2zM68.0 347.79h2.9v1.38h-2.9zM91.4 347.79h1.5v1.38h-1.5zM224.4 347.79h1.5v1.38h-1.5zM244.9 347.79h2.9v1.38h-2.9zM44.6 349.12h2.9v1.38h-2.9zM228.8 349.12h8.8v1.38h-8.8zM265.4 349.12h1.5v1.38h-1.5zM47.5 350.45h1.5v1.38h-1.5zM82.6 350.45h2.9v1.38h-2.9zM236.1 350.45h1.5v1.38h-1.5zM239.0 351.78h1.5v1.38h-1.5zM225.9 353.10h2.9v1.38h-2.9zM271.2 353.10h1.5v1.38h-1.5zM265.4 355.76h4.4v1.38h-4.4zM274.1 355.76h5.8v1.38h-5.8zM56.3 357.09h2.9v1.38h-2.9zM88.5 357.09h1.5v1.38h-1.5zM139.6 357.09h1.5v1.38h-1.5zM224.4 357.09h2.9v1.38h-2.9zM258.0 357.09h1.5v1.38h-1.5zM274.1 357.09h1.5v1.38h-1.5zM72.4 358.42h1.5v1.38h-1.5zM81.1 358.42h2.9v1.38h-2.9zM89.9 358.42h2.9v1.38h-2.9zM160.1 358.42h1.5v1.38h-1.5zM230.3 358.42h2.9v1.38h-2.9zM76.8 359.74h11.7v1.38h-11.7zM120.6 359.74h2.9v1.38h-2.9zM132.3 359.74h1.5v1.38h-1.5zM233.2 359.74h1.5v1.38h-1.5zM263.9 359.74h2.9v1.38h-2.9zM269.7 359.74h2.9v1.38h-2.9zM255.1 361.07h1.5v1.38h-1.5zM263.9 361.07h1.5v1.38h-1.5zM68.0 362.40h1.5v1.38h-1.5zM92.8 362.40h1.5v1.38h-1.5zM282.9 362.40h1.5v1.38h-1.5zM56.3 363.73h2.9v1.38h-2.9zM84.1 363.73h1.5v1.38h-1.5zM126.5 363.73h2.9v1.38h-2.9zM223.0 363.73h1.5v1.38h-1.5zM56.3 365.06h1.5v1.38h-1.5zM265.4 365.06h2.9v1.38h-2.9zM269.7 365.06h4.4v1.38h-4.4zM47.5 366.38h1.5v1.38h-1.5zM69.4 366.38h2.9v1.38h-2.9zM82.6 366.38h2.9v1.38h-2.9zM56.3 367.71h1.5v1.38h-1.5zM84.1 367.71h1.5v1.38h-1.5zM129.4 367.71h1.5v1.38h-1.5zM225.9 367.71h2.9v1.38h-2.9zM54.8 369.04h1.5v1.38h-1.5zM73.8 369.04h1.5v1.38h-1.5zM243.4 369.04h1.5v1.38h-1.5zM258.0 369.04h1.5v1.38h-1.5zM69.4 370.37h2.9v1.38h-2.9zM103.1 370.37h5.8v1.38h-5.8zM133.8 370.37h1.5v1.38h-1.5zM149.9 370.37h1.5v1.38h-1.5zM230.3 370.37h2.9v1.38h-2.9zM243.4 370.37h2.9v1.38h-2.9zM281.4 370.37h1.5v1.38h-1.5zM49.0 371.70h5.8v1.38h-5.8zM262.4 371.70h1.5v1.38h-1.5zM281.4 371.70h1.5v1.38h-1.5zM57.8 373.02h1.5v1.38h-1.5zM228.8 373.02h7.3v1.38h-7.3zM256.6 373.02h1.5v1.38h-1.5zM278.5 373.02h4.4v1.38h-4.4zM97.2 374.35h5.8v1.38h-5.8zM265.4 374.35h1.5v1.38h-1.5zM50.4 375.68h2.9v1.38h-2.9zM125.0 375.68h4.4v1.38h-4.4zM136.7 375.68h1.5v1.38h-1.5zM220.0 375.68h1.5v1.38h-1.5zM242.0 375.68h1.5v1.38h-1.5zM277.1 375.68h1.5v1.38h-1.5zM49.0 377.01h2.9v1.38h-2.9zM94.3 377.01h1.5v1.38h-1.5zM275.6 377.01h1.5v1.38h-1.5zM78.2 378.34h2.9v1.38h-2.9zM113.3 378.34h1.5v1.38h-1.5zM42.6 379.66h2.0v1.38h-2.0zM79.7 379.66h2.9v1.38h-2.9zM103.1 379.66h1.5v1.38h-1.5zM224.4 379.66h1.5v1.38h-1.5zM265.4 379.66h2.9v1.38h-2.9zM49.0 380.99h1.5v1.38h-1.5zM66.5 380.99h2.9v1.38h-2.9zM116.2 380.99h1.5v1.38h-1.5zM230.3 380.99h1.5v1.38h-1.5zM258.0 380.99h1.5v1.38h-1.5zM252.2 382.32h1.5v1.38h-1.5zM281.4 382.32h2.9v1.38h-2.9zM42.6 383.65h10.8v1.38h-10.8zM92.8 383.65h1.5v1.38h-1.5zM106.0 383.65h1.5v1.38h-1.5zM228.8 383.65h2.9v1.38h-2.9zM281.4 383.65h1.5v1.38h-1.5zM87.0 386.30h5.8v1.38h-5.8zM224.4 386.30h1.5v1.38h-1.5zM237.6 386.30h1.5v1.38h-1.5zM280.0 386.30h1.5v1.38h-1.5zM81.1 387.63h1.5v1.38h-1.5zM101.6 387.63h1.5v1.38h-1.5zM250.7 387.63h2.9v1.38h-2.9zM75.3 388.96h2.9v1.38h-2.9zM92.8 388.96h1.5v1.38h-1.5zM120.6 388.96h1.5v1.38h-1.5zM234.7 388.96h2.9v1.38h-2.9zM249.3 388.96h10.2v1.38h-10.2zM275.6 388.96h1.5v1.38h-1.5zM110.4 390.29h2.9v1.38h-2.9zM249.3 390.29h1.5v1.38h-1.5zM262.4 390.29h2.9v1.38h-2.9zM110.4 391.62h1.5v1.38h-1.5zM129.4 391.62h1.5v1.38h-1.5zM227.3 391.62h2.9v1.38h-2.9zM240.5 391.62h5.8v1.38h-5.8zM250.7 391.62h4.4v1.38h-4.4zM274.1 391.62h1.5v1.38h-1.5zM125.0 392.94h1.5v1.38h-1.5zM141.1 392.94h1.5v1.38h-1.5zM145.5 392.94h1.5v1.38h-1.5zM106.0 394.27h1.5v1.38h-1.5zM230.3 394.27h1.5v1.38h-1.5zM269.7 394.27h4.4v1.38h-4.4zM70.9 395.60h1.5v1.38h-1.5zM108.9 395.60h1.5v1.38h-1.5zM123.5 395.60h1.5v1.38h-1.5zM227.3 395.60h1.5v1.38h-1.5zM253.7 395.60h1.5v1.38h-1.5zM42.6 396.93h4.9v1.38h-4.9zM230.3 396.93h1.5v1.38h-1.5zM233.2 396.93h1.5v1.38h-1.5zM282.9 396.93h1.5v1.38h-1.5zM236.1 398.26h2.9v1.38h-2.9zM263.9 398.26h13.2v1.38h-13.2zM88.5 399.58h1.5v1.38h-1.5zM278.5 399.58h1.5v1.38h-1.5zM98.7 400.91h8.8v1.38h-8.8zM236.1 400.91h1.5v1.38h-1.5zM253.7 400.91h1.5v1.38h-1.5zM62.1 402.24h5.8v1.38h-5.8zM72.4 402.24h4.4v1.38h-4.4zM224.4 402.24h1.5v1.38h-1.5zM237.6 402.24h1.5v1.38h-1.5zM51.9 403.57h4.4v1.38h-4.4zM152.8 403.57h1.5v1.38h-1.5zM230.3 403.57h1.5v1.38h-1.5zM275.6 403.57h1.5v1.38h-1.5zM54.8 404.90h1.5v1.38h-1.5zM120.6 404.90h5.8v1.38h-5.8zM256.6 404.90h7.3v1.38h-7.3zM142.5 406.22h1.5v1.38h-1.5zM234.7 406.22h1.5v1.38h-1.5zM282.9 406.22h2.9v1.38h-2.9zM106.0 407.55h1.5v1.38h-1.5zM237.6 407.55h1.5v1.38h-1.5zM268.3 407.55h5.8v1.38h-5.8zM42.6 408.88h2.0v1.38h-2.0zM258.0 408.88h1.5v1.38h-1.5zM75.3 410.21h2.9v1.38h-2.9zM261.0 410.21h1.5v1.38h-1.5zM75.3 411.54h1.5v1.38h-1.5zM108.9 411.54h1.5v1.38h-1.5zM132.3 411.54h1.5v1.38h-1.5zM263.9 411.54h2.9v1.38h-2.9zM284.4 412.86h2.9v1.38h-2.9zM69.4 414.19h1.5v1.38h-1.5zM230.3 414.19h1.5v1.38h-1.5zM234.7 414.19h1.5v1.38h-1.5zM244.9 414.19h1.5v1.38h-1.5zM280.0 414.19h1.5v1.38h-1.5zM44.6 415.52h1.5v1.38h-1.5zM66.5 415.52h1.5v1.38h-1.5zM97.2 415.52h1.5v1.38h-1.5zM108.9 415.52h1.5v1.38h-1.5zM123.5 415.52h2.9v1.38h-2.9zM141.1 415.52h2.9v1.38h-2.9zM63.6 416.85h1.5v1.38h-1.5zM122.1 416.85h1.5v1.38h-1.5zM62.1 418.18h1.5v1.38h-1.5zM81.1 418.18h1.5v1.38h-1.5zM97.2 419.50h4.4v1.38h-4.4zM107.5 419.50h2.9v1.38h-2.9zM120.6 420.83h1.5v1.38h-1.5zM236.1 420.83h1.5v1.38h-1.5zM239.0 420.83h1.5v1.38h-1.5zM50.4 422.16h1.5v1.38h-1.5zM76.8 422.16h1.5v1.38h-1.5zM130.9 422.16h1.5v1.38h-1.5zM117.7 423.49h1.5v1.38h-1.5zM126.5 423.49h2.9v1.38h-2.9zM242.0 423.49h1.5v1.38h-1.5zM284.4 423.49h2.9v1.38h-2.9zM82.6 424.82h2.9v1.38h-2.9zM106.0 424.82h7.3v1.38h-7.3zM120.6 424.82h2.9v1.38h-2.9zM144.0 424.82h1.5v1.38h-1.5zM285.8 424.82h1.5v1.38h-1.5zM42.6 426.14h3.5v1.38h-3.5zM104.5 427.47h1.5v1.38h-1.5zM287.3 427.47h4.4v1.38h-4.4zM42.6 428.80h13.7v1.38h-13.7zM237.6 428.80h1.5v1.38h-1.5zM68.0 430.13h2.9v1.38h-2.9zM89.9 430.13h1.5v1.38h-1.5zM132.3 430.13h1.5v1.38h-1.5zM149.9 430.13h1.5v1.38h-1.5zM94.3 431.46h5.8v1.38h-5.8zM242.0 432.78h2.9v1.38h-2.9zM259.5 432.78h1.5v1.38h-1.5zM78.2 434.11h1.5v1.38h-1.5zM114.8 434.11h2.9v1.38h-2.9zM125.0 434.11h2.9v1.38h-2.9zM145.5 434.11h1.5v1.38h-1.5zM253.7 434.11h1.5v1.38h-1.5zM72.4 435.44h1.5v1.38h-1.5zM122.1 435.44h1.5v1.38h-1.5zM133.8 435.44h4.4v1.38h-4.4zM272.7 435.44h4.4v1.38h-4.4zM256.6 436.77h4.4v1.38h-4.4zM268.3 436.77h4.4v1.38h-4.4zM91.4 438.10h4.4v1.38h-4.4zM114.8 438.10h5.8v1.38h-5.8zM130.9 438.10h5.8v1.38h-5.8zM255.1 438.10h2.9v1.38h-2.9zM56.3 439.42h1.5v1.38h-1.5zM88.5 440.75h8.8v1.38h-8.8zM275.6 440.75h1.5v1.38h-1.5zM136.7 442.08h4.4v1.38h-4.4zM259.5 442.08h8.8v1.38h-8.8zM132.3 443.41h8.8v1.38h-8.8zM271.2 443.41h1.5v1.38h-1.5zM73.8 444.74h1.5v1.38h-1.5zM246.3 444.74h1.5v1.38h-1.5zM259.5 444.74h2.9v1.38h-2.9zM135.2 446.06h2.9v1.38h-2.9zM149.9 446.06h1.5v1.38h-1.5zM252.2 446.06h1.5v1.38h-1.5zM70.9 447.39h1.5v1.38h-1.5zM256.6 447.39h1.5v1.38h-1.5zM111.8 448.72h1.5v1.38h-1.5zM141.1 448.72h1.5v1.38h-1.5zM252.2 448.72h1.5v1.38h-1.5zM258.0 450.05h1.5v1.38h-1.5zM117.7 451.38h1.5v1.38h-1.5zM256.6 451.38h1.5v1.38h-1.5zM266.8 452.70h4.4v1.38h-4.4zM92.8 454.03h1.5v1.38h-1.5zM284.4 454.03h1.5v1.38h-1.5zM81.1 456.69h1.5v1.38h-1.5zM120.6 456.69h1.5v1.38h-1.5zM274.1 456.69h2.9v1.38h-2.9zM44.6 458.02h4.4v1.38h-4.4zM56.3 458.02h4.4v1.38h-4.4zM72.4 458.02h2.9v1.38h-2.9zM91.4 458.02h2.9v1.38h-2.9zM125.0 458.02h1.5v1.38h-1.5zM63.6 459.34h1.5v1.38h-1.5zM50.4 460.67h2.9v1.38h-2.9zM75.3 460.67h2.9v1.38h-2.9zM87.0 460.67h2.9v1.38h-2.9zM284.4 460.67h1.5v1.38h-1.5z"/>
<path fill="#bc3881" d="M113.3 296.00h4.4v1.38h-4.4zM119.2 296.00h4.4v1.38h-4.4zM62.1 297.33h1.5v1.38h-1.5zM91.4 297.33h1.5v1.38h-1.5zM205.4 297.33h1.5v1.38h-1.5zM240.5 297.33h1.5v1.38h-1.5zM275.6 297.33h4.4v1.38h-4.4zM49.0 298.66h2.9v1.38h-2.9zM223.0 299.98h2.9v1.38h-2.9zM246.3 299.98h2.9v1.38h-2.9zM82.6 301.31h1.5v1.38h-1.5zM127.9 301.31h1.5v1.38h-1.5zM133.8 301.31h1.5v1.38h-1.5zM220.0 301.31h1.5v1.38h-1.5zM42.6 302.64h6.4v1.38h-6.4zM69.4 302.64h8.8v1.38h-8.8zM202.5 302.64h1.5v1.38h-1.5zM209.8 302.64h1.5v1.38h-1.5zM231.7 302.64h1.5v1.38h-1.5zM263.9 302.64h1.5v1.38h-1.5zM59.2 303.97h2.9v1.38h-2.9zM142.5 303.97h1.5v1.38h-1.5zM145.5 303.97h1.5v1.38h-1.5zM231.7 303.97h1.5v1.38h-1.5zM85.5 305.30h1.5v1.38h-1.5zM104.5 305.30h2.9v1.38h-2.9zM217.1 305.30h1.5v1.38h-1.5zM247.8 305.30h1.5v1.38h-1.5zM66.5 306.62h1.5v1.38h-1.5zM82.6 306.62h1.5v1.38h-1.5zM208.3 306.62h2.9v1.38h-2.9zM223.0 306.62h4.4v1.38h-4.4zM70.9 307.95h1.5v1.38h-1.5zM89.9 307.95h1.5v1.38h-1.5zM104.5 307.95h1.5v1.38h-1.5zM202.5 307.95h1.5v1.38h-1.5zM46.1 309.28h1.5v1.38h-1.5zM236.1 309.28h1.5v1.38h-1.5zM73.8 310.61h1.5v1.38h-1.5zM240.5 310.61h1.5v1.38h-1.5zM255.1 310.61h1.5v1.38h-1.5zM278.5 310.61h1.5v1.38h-1.5zM49.0 311.94h1.5v1.38h-1.5zM84.1 311.94h2.9v1.38h-2.9zM92.8 311.94h5.8v1.38h-5.8zM106.0 311.94h11.7v1.38h-11.7zM277.1 311.94h2.9v1.38h-2.9zM218.6 313.26h1.5v1.38h-1.5zM247.8 313.26h1.5v1.38h-1.5zM272.7 313.26h4.4v1.38h-4.4zM94.3 314.59h1.5v1.38h-1.5zM221.5 314.59h1.5v1.38h-1.5zM233.2 314.59h1.5v1.38h-1.5zM271.2 314.59h2.9v1.38h-2.9zM70.9 315.92h1.5v1.38h-1.5zM230.3 315.92h2.9v1.38h-2.9zM119.2 317.25h2.9v1.38h-2.9zM225.9 317.25h1.5v1.38h-1.5zM243.4 317.25h1.5v1.38h-1.5zM253.7 317.25h1.5v1.38h-1.5zM281.4 317.25h4.4v1.38h-4.4zM63.6 318.58h1.5v1.38h-1.5zM92.8 318.58h1.5v1.38h-1.5zM135.2 318.58h1.5v1.38h-1.5zM211.3 318.58h1.5v1.38h-1.5zM231.7 318.58h1.5v1.38h-1.5zM255.1 318.58h2.9v1.38h-2.9zM62.1 319.90h1.5v1.38h-1.5zM250.7 319.90h1.5v1.38h-1.5zM43.1 321.23h4.4v1.38h-4.4zM244.9 321.23h1.5v1.38h-1.5zM277.1 321.23h1.5v1.38h-1.5zM103.1 322.56h1.5v1.38h-1.5zM114.8 322.56h1.5v1.38h-1.5zM250.7 322.56h2.9v1.38h-2.9zM271.2 322.56h11.7v1.38h-11.7zM47.5 323.89h1.5v1.38h-1.5zM234.7 323.89h1.5v1.38h-1.5zM43.1 325.22h2.9v1.38h-2.9zM240.5 325.22h2.9v1.38h-2.9zM204.0 326.54h1.5v1.38h-1.5zM244.9 326.54h1.5v1.38h-1.5zM91.4 327.87h1.5v1.38h-1.5zM145.5 327.87h1.5v1.38h-1.5zM151.3 327.87h1.5v1.38h-1.5zM277.1 327.87h4.4v1.38h-4.4zM208.3 329.20h2.9v1.38h-2.9zM261.0 329.20h1.5v1.38h-1.5zM223.0 330.53h1.5v1.38h-1.5zM275.6 330.53h1.5v1.38h-1.5zM49.0 331.86h1.5v1.38h-1.5zM85.5 331.86h1.5v1.38h-1.5zM132.3 331.86h1.5v1.38h-1.5zM142.5 331.86h1.5v1.38h-1.5zM242.0 331.86h1.5v1.38h-1.5zM69.4 333.18h1.5v1.38h-1.5zM125.0 333.18h1.5v1.38h-1.5zM234.7 333.18h2.9v1.38h-2.9zM51.9 334.51h2.9v1.38h-2.9zM78.2 334.51h1.5v1.38h-1.5zM94.3 334.51h10.2v1.38h-10.2zM223.0 334.51h1.5v1.38h-1.5zM266.8 334.51h1.5v1.38h-1.5zM43.1 337.17h4.4v1.38h-4.4zM212.7 337.17h5.8v1.38h-5.8zM215.6 338.50h4.4v1.38h-4.4zM282.9 338.50h1.5v1.38h-1.5zM231.7 339.82h1.5v1.38h-1.5zM250.7 339.82h1.5v1.38h-1.5zM266.8 339.82h2.9v1.38h-2.9zM277.1 339.82h1.5v1.38h-1.5zM47.5 341.15h1.5v1.38h-1.5zM70.9 341.15h1.5v1.38h-1.5zM130.9 341.15h11.7v1.38h-11.7zM208.3 341.15h1.5v1.38h-1.5zM243.4 341.15h1.5v1.38h-1.5zM73.8 342.48h2.9v1.38h-2.9zM101.6 342.48h1.5v1.38h-1.5zM122.1 342.48h2.9v1.38h-2.9zM132.3 342.48h1.5v1.38h-1.5zM214.2 342.48h1.5v1.38h-1.5zM227.3 342.48h2.9v1.38h-2.9zM256.6 342.48h1.5v1.38h-1.5zM275.6 342.48h1.5v1.38h-1.5zM214.2 343.81h1.5v1.38h-1.5zM221.5 343.81h1.5v1.38h-1.5zM271.2 343.81h5.8v1.38h-5.8zM282.9 343.81h8.8v1.38h-8.8zM57.8 345.14h1.5v1.38h-1.5zM72.4 345.14h1.5v1.38h-1.5zM217.1 345.14h1.5v1.38h-1.5zM252.2 345.14h1.5v1.38h-1.5zM272.7 346.46h2.9v1.38h-2.9zM70.9 347.79h1.5v1.38h-1.5zM225.9 347.79h1.5v1.38h-1.5zM242.0 347.79h2.9v1.38h-2.9zM42.6 349.12h2.0v1.38h-2.0zM217.1 349.12h1.5v1.38h-1.5zM227.3 349.12h1.5v1.38h-1.5zM237.6 349.12h1.5v1.38h-1.5zM262.4 349.12h2.9v1.38h-2.9zM49.0 350.45h1.5v1.38h-1.5zM81.1 350.45h1.5v1.38h-1.5zM218.6 350.45h1.5v1.38h-1.5zM234.7 350.45h1.5v1.38h-1.5zM240.5 351.78h1.5v1.38h-1.5zM258.0 351.78h1.5v1.38h-1.5zM228.8 353.10h2.9v1.38h-2.9zM269.7 353.10h1.5v1.38h-1.5zM218.6 354.43h1.5v1.38h-1.5zM262.4 355.76h2.9v1.38h-2.9zM280.0 355.76h4.4v1.38h-4.4zM54.8 357.09h1.5v1.38h-1.5zM110.4 357.09h1.5v1.38h-1.5zM133.8 357.09h1.5v1.38h-1.5zM138.2 357.09h1.5v1.38h-1.5zM218.6 357.09h1.5v1.38h-1.5zM223.0 357.09h1.5v1.38h-1.5zM259.5 357.09h2.9v1.38h-2.9zM272.7 357.09h1.5v1.38h-1.5zM70.9 358.42h1.5v1.38h-1.5zM84.1 358.42h5.8v1.38h-5.8zM120.6 358.42h1.5v1.38h-1.5zM233.2 358.42h2.9v1.38h-2.9zM42.6 359.74h7.8v1.38h-7.8zM75.3 359.74h1.5v1.38h-1.5zM123.5 359.74h8.8v1.38h-8.8zM234.7 359.74h1.5v1.38h-1.5zM262.4 359.74h1.5v1.38h-1.5zM272.7 359.74h1.5v1.38h-1.5zM256.6 361.07h7.3v1.38h-7.3zM284.4 362.40h1.5v1.38h-1.5zM53.4 363.73h2.9v1.38h-2.9zM85.5 363.73h1.5v1.38h-1.5zM101.6 363.73h1.5v1.38h-1.5zM54.8 365.06h1.5v1.38h-1.5zM268.3 365.06h1.5v1.38h-1.5zM46.1 366.38h1.5v1.38h-1.5zM72.4 366.38h2.9v1.38h-2.9zM79.7 366.38h2.9v1.38h-2.9zM223.0 366.38h1.5v1.38h-1.5zM54.8 367.71h1.5v1.38h-1.5zM85.5 367.71h1.5v1.38h-1.5zM228.8 367.71h2.9v1.38h-2.9zM237.6 367.71h2.9v1.38h-2.9zM56.3 369.04h1.5v1.38h-1.5zM72.4 369.04h1.5v1.38h-1.5zM242.0 369.04h1.5v1.38h-1.5zM259.5 369.04h1.5v1.38h-1.5zM68.0 370.37h1.5v1.38h-1.5zM135.2 370.37h1.5v1.38h-1.5zM223.0 370.37h1.5v1.38h-1.5zM225.9 370.37h4.4v1.38h-4.4zM233.2 370.37h10.2v1.38h-10.2zM282.9 370.37h1.5v1.38h-1.5zM42.6 371.70h6.4v1.38h-6.4zM237.6 371.70h1.5v1.38h-1.5zM282.9 371.70h1.5v1.38h-1.5zM224.4 373.02h4.4v1.38h-4.4zM236.1 373.02h4.4v1.38h-4.4zM253.7 373.02h2.9v1.38h-2.9zM282.9 373.02h2.9v1.38h-2.9zM266.8 374.35h1.5v1.38h-1.5zM46.1 375.68h4.4v1.38h-4.4zM129.4 375.68h7.3v1.38h-7.3zM278.5 375.68h2.9v1.38h-2.9zM42.6 377.01h6.4v1.38h-6.4zM231.7 377.01h1.5v1.38h-1.5zM272.7 377.01h2.9v1.38h-2.9zM54.8 378.34h1.5v1.38h-1.5zM81.1 378.34h1.5v1.38h-1.5zM237.6 378.34h1.5v1.38h-1.5zM82.6 379.66h1.5v1.38h-1.5zM101.6 379.66h1.5v1.38h-1.5zM263.9 379.66h1.5v1.38h-1.5zM47.5 380.99h1.5v1.38h-1.5zM69.4 380.99h2.9v1.38h-2.9zM114.8 380.99h1.5v1.38h-1.5zM231.7 380.99h1.5v1.38h-1.5zM250.7 382.32h1.5v1.38h-1.5zM284.4 382.32h4.4v1.38h-4.4zM94.3 383.65h1.5v1.38h-1.5zM104.5 383.65h1.5v1.38h-1.5zM282.9 383.65h2.9v1.38h-2.9zM236.1 386.30h1.5v1.38h-1.5zM281.4 386.30h1.5v1.38h-1.5zM82.6 387.63h2.9v1.38h-2.9zM98.7 387.63h2.9v1.38h-2.9zM253.7 387.63h1.5v1.38h-1.5zM78.2 388.96h1.5v1.38h-1.5zM89.9 388.96h2.9v1.38h-2.9zM122.1 388.96h1.5v1.38h-1.5zM138.2 388.96h1.5v1.38h-1.5zM237.6 388.96h2.9v1.38h-2.9zM244.9 388.96h4.4v1.38h-4.4zM259.5 388.96h2.9v1.38h-2.9zM274.1 388.96h1.5v1.38h-1.5zM113.3 390.29h2.9v1.38h-2.9zM146.9 390.29h1.5v1.38h-1.5zM225.9 390.29h1.5v1.38h-1.5zM247.8 390.29h1.5v1.38h-1.5zM265.4 390.29h1.5v1.38h-1.5zM288.7 390.29h2.9v1.38h-2.9zM111.8 391.62h1.5v1.38h-1.5zM126.5 391.62h2.9v1.38h-2.9zM246.3 391.62h4.4v1.38h-4.4zM275.6 391.62h1.5v1.38h-1.5zM66.5 392.94h1.5v1.38h-1.5zM100.1 392.94h1.5v1.38h-1.5zM142.5 392.94h2.9v1.38h-2.9zM224.4 392.94h1.5v1.38h-1.5zM278.5 392.94h13.2v1.38h-13.2zM82.6 394.27h5.8v1.38h-5.8zM103.1 394.27h2.9v1.38h-2.9zM266.8 394.27h2.9v1.38h-2.9zM68.0 395.60h2.9v1.38h-2.9zM110.4 395.60h2.9v1.38h-2.9zM120.6 395.60h2.9v1.38h-2.9zM250.7 395.60h2.9v1.38h-2.9zM231.7 396.93h1.5v1.38h-1.5zM284.4 396.93h1.5v1.38h-1.5zM239.0 398.26h2.9v1.38h-2.9zM261.0 398.26h2.9v1.38h-2.9zM59.2 399.58h1.5v1.38h-1.5zM87.0 399.58h1.5v1.38h-1.5zM228.8 399.58h1.5v1.38h-1.5zM277.1 399.58h1.5v1.38h-1.5zM227.3 400.91h1.5v1.38h-1.5zM233.2 400.91h2.9v1.38h-2.9zM237.6 400.91h5.8v1.38h-5.8zM252.2 400.91h1.5v1.38h-1.5zM280.0 400.91h1.5v1.38h-1.5zM68.0 402.24h4.4v1.38h-4.4zM236.1 402.24h1.5v1.38h-1.5zM56.3 403.57h2.9v1.38h-2.9zM274.1 403.57h1.5v1.38h-1.5zM53.4 404.90h1.5v1.38h-1.5zM126.5 404.90h11.7v1.38h-11.7zM230.3 404.90h1.5v1.38h-1.5zM255.1 404.90h1.5v1.38h-1.5zM263.9 404.90h2.9v1.38h-2.9zM132.3 406.22h1.5v1.38h-1.5zM236.1 406.22h1.5v1.38h-1.5zM281.4 406.22h1.5v1.38h-1.5zM103.1 407.55h2.9v1.38h-2.9zM239.0 407.55h1.5v1.38h-1.5zM262.4 407.55h5.8v1.38h-5.8zM259.5 408.88h1.5v1.38h-1.5zM72.4 410.21h2.9v1.38h-2.9zM262.4 410.21h1.5v1.38h-1.5zM73.8 411.54h1.5v1.38h-1.5zM266.8 411.54h4.4v1.38h-4.4zM231.7 412.86h1.5v1.38h-1.5zM247.8 412.86h10.2v1.38h-10.2zM282.9 412.86h1.5v1.38h-1.5zM68.0 414.19h1.5v1.38h-1.5zM85.5 414.19h1.5v1.38h-1.5zM97.2 414.19h1.5v1.38h-1.5zM231.7 414.19h2.9v1.38h-2.9zM246.3 414.19h1.5v1.38h-1.5zM277.1 414.19h2.9v1.38h-2.9zM46.1 415.52h1.5v1.38h-1.5zM98.7 415.52h1.5v1.38h-1.5zM106.0 415.52h2.9v1.38h-2.9zM126.5 415.52h1.5v1.38h-1.5zM139.6 415.52h1.5v1.38h-1.5zM123.5 416.85h1.5v1.38h-1.5zM151.3 416.85h1.5v1.38h-1.5zM63.6 418.18h1.5v1.38h-1.5zM79.7 418.18h1.5v1.38h-1.5zM101.6 419.50h5.8v1.38h-5.8zM122.1 420.83h1.5v1.38h-1.5zM144.0 420.83h1.5v1.38h-1.5zM237.6 420.83h1.5v1.38h-1.5zM51.9 422.16h1.5v1.38h-1.5zM106.0 422.16h1.5v1.38h-1.5zM127.9 422.16h2.9v1.38h-2.9zM59.2 423.49h1.5v1.38h-1.5zM78.2 423.49h2.9v1.38h-2.9zM116.2 423.49h1.5v1.38h-1.5zM129.4 423.49h1.5v1.38h-1.5zM136.7 423.49h1.5v1.38h-1.5zM243.4 423.49h1.5v1.38h-1.5zM281.4 423.49h2.9v1.38h-2.9zM85.5 424.82h20.5v1.38h-20.5zM123.5 424.82h2.9v1.38h-2.9zM142.5 424.82h1.5v1.38h-1.5zM259.5 424.82h1.5v1.38h-1.5zM287.3 424.82h4.4v1.38h-4.4zM237.6 426.14h1.5v1.38h-1.5zM103.1 427.47h1.5v1.38h-1.5zM256.6 428.80h13.2v1.38h-13.2zM70.9 430.13h1.5v1.38h-1.5zM87.0 430.13h2.9v1.38h-2.9zM133.8 430.13h1.5v1.38h-1.5zM244.9 432.78h1.5v1.38h-1.5zM258.0 432.78h1.5v1.38h-1.5zM79.7 434.11h1.5v1.38h-1.5zM113.3 434.11h1.5v1.38h-1.5zM127.9 434.11h1.5v1.38h-1.5zM239.0 434.11h1.5v1.38h-1.5zM252.2 434.11h1.5v1.38h-1.5zM53.4 435.44h1.5v1.38h-1.5zM69.4 435.44h2.9v1.38h-2.9zM123.5 435.44h10.2v1.38h-10.2zM277.1 435.44h14.6v1.38h-14.6zM261.0 436.77h7.3v1.38h-7.3zM120.6 438.10h10.2v1.38h-10.2zM258.0 438.10h1.5v1.38h-1.5zM54.8 439.42h1.5v1.38h-1.5zM243.4 439.42h1.5v1.38h-1.5zM249.3 439.42h1.5v1.38h-1.5zM65.1 440.75h1.5v1.38h-1.5zM85.5 440.75h2.9v1.38h-2.9zM97.2 440.75h2.9v1.38h-2.9zM132.3 440.75h2.9v1.38h-2.9zM149.9 440.75h1.5v1.38h-1.5zM277.1 440.75h2.9v1.38h-2.9zM269.7 443.41h1.5v1.38h-1.5zM72.4 444.74h1.5v1.38h-1.5zM255.1 444.74h4.4v1.38h-4.4zM138.2 446.06h11.7v1.38h-11.7zM69.4 447.39h1.5v1.38h-1.5zM249.3 447.39h1.5v1.38h-1.5zM255.1 447.39h1.5v1.38h-1.5zM113.3 448.72h1.5v1.38h-1.5zM139.6 448.72h1.5v1.38h-1.5zM258.0 448.72h1.5v1.38h-1.5zM259.5 450.05h17.5v1.38h-17.5zM95.8 451.38h1.5v1.38h-1.5zM116.2 451.38h1.5v1.38h-1.5zM258.0 451.38h23.4v1.38h-23.4zM271.2 452.70h7.3v1.38h-7.3zM287.3 452.70h4.4v1.38h-4.4zM68.0 454.03h1.5v1.38h-1.5zM91.4 454.03h1.5v1.38h-1.5zM261.0 454.03h1.5v1.38h-1.5zM282.9 454.03h1.5v1.38h-1.5zM259.5 455.36h1.5v1.38h-1.5zM82.6 456.69h1.5v1.38h-1.5zM119.2 456.69h1.5v1.38h-1.5zM259.5 456.69h1.5v1.38h-1.5zM272.7 456.69h1.5v1.38h-1.5zM42.6 458.02h2.0v1.38h-2.0zM60.7 458.02h4.4v1.38h-4.4zM68.0 458.02h4.4v1.38h-4.4zM94.3 458.02h2.9v1.38h-2.9zM122.1 458.02h2.9v1.38h-2.9zM277.1 458.02h1.5v1.38h-1.5zM65.1 459.34h1.5v1.38h-1.5zM148.4 459.34h1.5v1.38h-1.5zM268.3 459.34h1.5v1.38h-1.5zM290.2 459.34h1.5v1.38h-1.5zM46.1 460.67h4.4v1.38h-4.4zM78.2 460.67h8.8v1.38h-8.8zM269.7 460.67h1.5v1.38h-1.5z"/>
<path fill="#cd4476" d="M117.7 296.00h1.5v1.38h-1.5zM63.6 297.33h1.5v1.38h-1.5zM206.9 297.33h2.9v1.38h-2.9zM237.6 297.33h2.9v1.38h-2.9zM280.0 297.33h1.5v1.38h-1.5zM46.1 298.66h2.9v1.38h-2.9zM49.0 299.98h1.5v1.38h-1.5zM221.5 299.98h1.5v1.38h-1.5zM249.3 299.98h2.9v1.38h-2.9zM271.2 299.98h1.5v1.38h-1.5zM53.4 301.31h1.5v1.38h-1.5zM129.4 301.31h1.5v1.38h-1.5zM132.3 301.31h1.5v1.38h-1.5zM208.3 302.64h1.5v1.38h-1.5zM233.2 302.64h4.4v1.38h-4.4zM42.6 303.97h7.8v1.38h-7.8zM54.8 303.97h4.4v1.38h-4.4zM144.0 303.97h1.5v1.38h-1.5zM206.9 303.97h1.5v1.38h-1.5zM230.3 303.97h1.5v1.38h-1.5zM280.0 303.97h1.5v1.38h-1.5zM87.0 305.30h1.5v1.38h-1.5zM103.1 305.30h1.5v1.38h-1.5zM218.6 305.30h2.9v1.38h-2.9zM68.0 306.62h2.9v1.38h-2.9zM81.1 306.62h1.5v1.38h-1.5zM211.3 306.62h2.9v1.38h-2.9zM218.6 306.62h4.4v1.38h-4.4zM227.3 306.62h1.5v1.38h-1.5zM88.5 307.95h1.5v1.38h-1.5zM106.0 307.95h1.5v1.38h-1.5zM116.2 307.95h1.5v1.38h-1.5zM209.8 307.95h1.5v1.38h-1.5zM284.4 307.95h1.5v1.38h-1.5zM43.1 309.28h2.9v1.38h-2.9zM201.0 309.28h1.5v1.38h-1.5zM206.9 309.28h1.5v1.38h-1.5zM54.8 310.61h1.5v1.38h-1.5zM69.4 310.61h4.4v1.38h-4.4zM75.3 310.61h2.9v1.38h-2.9zM111.8 310.61h1.5v1.38h-1.5zM242.0 310.61h1.5v1.38h-1.5zM253.7 310.61h1.5v1.38h-1.5zM280.0 310.61h1.5v1.38h-1.5zM47.5 311.94h1.5v1.38h-1.5zM87.0 311.94h5.8v1.38h-5.8zM280.0 311.94h2.9v1.38h-2.9zM249.3 313.26h2.9v1.38h-2.9zM268.3 313.26h4.4v1.38h-4.4zM95.8 314.59h1.5v1.38h-1.5zM111.8 314.59h1.5v1.38h-1.5zM223.0 314.59h1.5v1.38h-1.5zM231.7 314.59h1.5v1.38h-1.5zM274.1 314.59h2.9v1.38h-2.9zM68.0 315.92h2.9v1.38h-2.9zM87.0 317.25h1.5v1.38h-1.5zM116.2 317.25h2.9v1.38h-2.9zM209.8 317.25h1.5v1.38h-1.5zM224.4 317.25h1.5v1.38h-1.5zM244.9 317.25h1.5v1.38h-1.5zM250.7 317.25h2.9v1.38h-2.9zM65.1 318.58h1.5v1.38h-1.5zM117.7 318.58h1.5v1.38h-1.5zM212.7 318.58h1.5v1.38h-1.5zM230.3 318.58h1.5v1.38h-1.5zM258.0 318.58h2.9v1.38h-2.9zM60.7 319.90h1.5v1.38h-1.5zM204.0 319.90h1.5v1.38h-1.5zM42.6 321.23h0.5v1.38h-0.5zM206.9 321.23h1.5v1.38h-1.5zM243.4 321.23h1.5v1.38h-1.5zM278.5 321.23h1.5v1.38h-1.5zM104.5 322.56h2.9v1.38h-2.9zM113.3 322.56h1.5v1.38h-1.5zM253.7 322.56h1.5v1.38h-1.5zM268.3 322.56h2.9v1.38h-2.9zM282.9 322.56h2.9v1.38h-2.9zM46.1 323.89h1.5v1.38h-1.5zM233.2 323.89h1.5v1.38h-1.5zM42.6 325.22h0.5v1.38h-0.5zM237.6 325.22h2.9v1.38h-2.9zM243.4 326.54h1.5v1.38h-1.5zM259.5 326.54h1.5v1.38h-1.5zM89.9 327.87h1.5v1.38h-1.5zM146.9 327.87h2.9v1.38h-2.9zM281.4 327.87h10.2v1.38h-10.2zM262.4 329.20h1.5v1.38h-1.5zM221.5 330.53h1.5v1.38h-1.5zM277.1 330.53h1.5v1.38h-1.5zM87.0 331.86h1.5v1.38h-1.5zM106.0 331.86h1.5v1.38h-1.5zM133.8 331.86h1.5v1.38h-1.5zM243.4 331.86h2.9v1.38h-2.9zM258.0 331.86h14.6v1.38h-14.6zM136.7 333.18h1.5v1.38h-1.5zM231.7 333.18h2.9v1.38h-2.9zM54.8 334.51h2.9v1.38h-2.9zM75.3 334.51h2.9v1.38h-2.9zM221.5 334.51h1.5v1.38h-1.5zM247.8 334.51h1.5v1.38h-1.5zM265.4 334.51h1.5v1.38h-1.5zM239.0 335.84h1.5v1.38h-1.5zM42.6 337.17h0.5v1.38h-0.5zM214.2 338.50h1.5v1.38h-1.5zM261.0 338.50h1.5v1.38h-1.5zM269.7 339.82h7.3v1.38h-7.3zM46.1 341.15h1.5v1.38h-1.5zM85.5 341.15h1.5v1.38h-1.5zM242.0 341.15h1.5v1.38h-1.5zM76.8 342.48h2.9v1.38h-2.9zM100.1 342.48h1.5v1.38h-1.5zM125.0 342.48h7.3v1.38h-7.3zM224.4 342.48h2.9v1.38h-2.9zM277.1 342.48h1.5v1.38h-1.5zM215.6 343.81h5.8v1.38h-5.8zM277.1 343.81h5.8v1.38h-5.8zM59.2 345.14h1.5v1.38h-1.5zM70.9 345.14h1.5v1.38h-1.5zM215.6 345.14h1.5v1.38h-1.5zM256.6 346.46h1.5v1.38h-1.5zM269.7 346.46h2.9v1.38h-2.9zM72.4 347.79h1.5v1.38h-1.5zM89.9 347.79h1.5v1.38h-1.5zM227.3 347.79h1.5v1.38h-1.5zM239.0 347.79h2.9v1.38h-2.9zM224.4 349.12h2.9v1.38h-2.9zM239.0 349.12h2.9v1.38h-2.9zM261.0 349.12h1.5v1.38h-1.5zM50.4 350.45h1.5v1.38h-1.5zM78.2 350.45h2.9v1.38h-2.9zM233.2 350.45h1.5v1.38h-1.5zM242.0 351.78h1.5v1.38h-1.5zM256.6 351.78h1.5v1.38h-1.5zM231.7 353.10h1.5v1.38h-1.5zM268.3 353.10h1.5v1.38h-1.5zM221.5 355.76h1.5v1.38h-1.5zM261.0 355.76h1.5v1.38h-1.5zM284.4 355.76h4.4v1.38h-4.4zM53.4 357.09h1.5v1.38h-1.5zM89.9 357.09h1.5v1.38h-1.5zM108.9 357.09h1.5v1.38h-1.5zM135.2 357.09h2.9v1.38h-2.9zM220.0 357.09h2.9v1.38h-2.9zM262.4 357.09h2.9v1.38h-2.9zM269.7 357.09h2.9v1.38h-2.9zM69.4 358.42h1.5v1.38h-1.5zM236.1 358.42h5.8v1.38h-5.8zM252.2 358.42h13.2v1.38h-13.2zM50.4 359.74h2.9v1.38h-2.9zM72.4 359.74h2.9v1.38h-2.9zM236.1 359.74h1.5v1.38h-1.5zM261.0 359.74h1.5v1.38h-1.5zM274.1 359.74h1.5v1.38h-1.5zM285.8 362.40h1.5v1.38h-1.5zM51.9 363.73h1.5v1.38h-1.5zM87.0 363.73h1.5v1.38h-1.5zM100.1 363.73h1.5v1.38h-1.5zM51.9 365.06h2.9v1.38h-2.9zM43.1 366.38h2.9v1.38h-2.9zM75.3 366.38h4.4v1.38h-4.4zM53.4 367.71h1.5v1.38h-1.5zM87.0 367.71h2.9v1.38h-2.9zM127.9 367.71h1.5v1.38h-1.5zM231.7 367.71h5.8v1.38h-5.8zM240.5 367.71h4.4v1.38h-4.4zM57.8 369.04h2.9v1.38h-2.9zM69.4 369.04h2.9v1.38h-2.9zM220.0 369.04h1.5v1.38h-1.5zM240.5 369.04h1.5v1.38h-1.5zM261.0 369.04h1.5v1.38h-1.5zM65.1 370.37h2.9v1.38h-2.9zM136.7 370.37h1.5v1.38h-1.5zM148.4 370.37h1.5v1.38h-1.5zM224.4 370.37h1.5v1.38h-1.5zM284.4 370.37h2.9v1.38h-2.9zM261.0 371.70h1.5v1.38h-1.5zM284.4 371.70h1.5v1.38h-1.5zM56.3 373.02h1.5v1.38h-1.5zM240.5 373.02h2.9v1.38h-2.9zM249.3 373.02h4.4v1.38h-4.4zM285.8 373.02h5.8v1.38h-5.8zM268.3 374.35h1.5v1.38h-1.5zM42.6 375.68h3.5v1.38h-3.5zM240.5 375.68h1.5v1.38h-1.5zM281.4 375.68h1.5v1.38h-1.5zM95.8 377.01h1.5v1.38h-1.5zM144.0 377.01h1.5v1.38h-1.5zM233.2 377.01h2.9v1.38h-2.9zM262.4 377.01h10.2v1.38h-10.2zM82.6 378.34h2.9v1.38h-2.9zM111.8 378.34h1.5v1.38h-1.5zM239.0 378.34h1.5v1.38h-1.5zM84.1 379.66h2.9v1.38h-2.9zM98.7 379.66h2.9v1.38h-2.9zM225.9 379.66h1.5v1.38h-1.5zM262.4 379.66h1.5v1.38h-1.5zM46.1 380.99h1.5v1.38h-1.5zM72.4 380.99h2.9v1.38h-2.9zM113.3 380.99h1.5v1.38h-1.5zM233.2 380.99h2.9v1.38h-2.9zM256.6 380.99h1.5v1.38h-1.5zM249.3 382.32h1.5v1.38h-1.5zM288.7 382.32h2.9v1.38h-2.9zM95.8 383.65h1.5v1.38h-1.5zM103.1 383.65h1.5v1.38h-1.5zM285.8 383.65h1.5v1.38h-1.5zM225.9 386.30h1.5v1.38h-1.5zM234.7 386.30h1.5v1.38h-1.5zM85.5 387.63h13.2v1.38h-13.2zM255.1 387.63h1.5v1.38h-1.5zM79.7 388.96h4.4v1.38h-4.4zM87.0 388.96h2.9v1.38h-2.9zM123.5 388.96h2.9v1.38h-2.9zM136.7 388.96h1.5v1.38h-1.5zM240.5 388.96h4.4v1.38h-4.4zM262.4 388.96h4.4v1.38h-4.4zM271.2 388.96h2.9v1.38h-2.9zM54.8 390.29h1.5v1.38h-1.5zM116.2 390.29h19.0v1.38h-19.0zM145.5 390.29h1.5v1.38h-1.5zM246.3 390.29h1.5v1.38h-1.5zM266.8 390.29h1.5v1.38h-1.5zM284.4 390.29h4.4v1.38h-4.4zM47.5 391.62h1.5v1.38h-1.5zM113.3 391.62h1.5v1.38h-1.5zM125.0 391.62h1.5v1.38h-1.5zM277.1 391.62h1.5v1.38h-1.5zM101.6 392.94h1.5v1.38h-1.5zM123.5 392.94h1.5v1.38h-1.5zM274.1 392.94h4.4v1.38h-4.4zM79.7 394.27h2.9v1.38h-2.9zM88.5 394.27h4.4v1.38h-4.4zM100.1 394.27h2.9v1.38h-2.9zM263.9 394.27h2.9v1.38h-2.9zM65.1 395.60h2.9v1.38h-2.9zM113.3 395.60h2.9v1.38h-2.9zM117.7 395.60h2.9v1.38h-2.9zM249.3 395.60h1.5v1.38h-1.5zM285.8 396.93h4.4v1.38h-4.4zM242.0 398.26h2.9v1.38h-2.9zM258.0 398.26h2.9v1.38h-2.9zM60.7 399.58h1.5v1.38h-1.5zM85.5 399.58h1.5v1.38h-1.5zM230.3 399.58h2.9v1.38h-2.9zM228.8 400.91h4.4v1.38h-4.4zM243.4 400.91h8.8v1.38h-8.8zM234.7 402.24h1.5v1.38h-1.5zM59.2 403.57h2.9v1.38h-2.9zM272.7 403.57h1.5v1.38h-1.5zM51.9 404.90h1.5v1.38h-1.5zM253.7 404.90h1.5v1.38h-1.5zM266.8 404.90h1.5v1.38h-1.5zM133.8 406.22h1.5v1.38h-1.5zM141.1 406.22h1.5v1.38h-1.5zM237.6 406.22h1.5v1.38h-1.5zM280.0 406.22h1.5v1.38h-1.5zM97.2 407.55h5.8v1.38h-5.8zM240.5 407.55h1.5v1.38h-1.5zM261.0 407.55h1.5v1.38h-1.5zM261.0 408.88h1.5v1.38h-1.5zM69.4 410.21h2.9v1.38h-2.9zM263.9 410.21h1.5v1.38h-1.5zM72.4 411.54h1.5v1.38h-1.5zM110.4 411.54h1.5v1.38h-1.5zM271.2 411.54h4.4v1.38h-4.4zM239.0 412.86h8.8v1.38h-8.8zM258.0 412.86h5.8v1.38h-5.8zM280.0 412.86h2.9v1.38h-2.9zM66.5 414.19h1.5v1.38h-1.5zM87.0 414.19h2.9v1.38h-2.9zM95.8 414.19h1.5v1.38h-1.5zM247.8 414.19h1.5v1.38h-1.5zM274.1 414.19h2.9v1.38h-2.9zM47.5 415.52h1.5v1.38h-1.5zM65.1 415.52h1.5v1.38h-1.5zM100.1 415.52h5.8v1.38h-5.8zM127.9 415.52h1.5v1.38h-1.5zM138.2 415.52h1.5v1.38h-1.5zM233.2 415.52h1.5v1.38h-1.5zM258.0 415.52h10.2v1.38h-10.2zM62.1 416.85h1.5v1.38h-1.5zM125.0 416.85h1.5v1.38h-1.5zM233.2 416.85h1.5v1.38h-1.5zM266.8 416.85h2.9v1.38h-2.9zM65.1 418.18h2.9v1.38h-2.9zM78.2 418.18h1.5v1.38h-1.5zM123.5 420.83h1.5v1.38h-1.5zM53.4 422.16h1.5v1.38h-1.5zM75.3 422.16h1.5v1.38h-1.5zM107.5 422.16h1.5v1.38h-1.5zM126.5 422.16h1.5v1.38h-1.5zM268.3 422.16h4.4v1.38h-4.4zM60.7 423.49h1.5v1.38h-1.5zM75.3 423.49h2.9v1.38h-2.9zM81.1 423.49h2.9v1.38h-2.9zM113.3 423.49h2.9v1.38h-2.9zM130.9 423.49h1.5v1.38h-1.5zM135.2 423.49h1.5v1.38h-1.5zM244.9 423.49h1.5v1.38h-1.5zM265.4 423.49h16.1v1.38h-16.1zM126.5 424.82h2.9v1.38h-2.9zM141.1 424.82h1.5v1.38h-1.5zM237.6 424.82h1.5v1.38h-1.5zM239.0 426.14h1.5v1.38h-1.5zM42.6 427.47h10.8v1.38h-10.8zM101.6 427.47h1.5v1.38h-1.5zM252.2 428.80h4.4v1.38h-4.4zM269.7 428.80h2.9v1.38h-2.9zM72.4 430.13h14.6v1.38h-14.6zM135.2 430.13h1.5v1.38h-1.5zM246.3 432.78h2.9v1.38h-2.9zM256.6 432.78h1.5v1.38h-1.5zM81.1 434.11h1.5v1.38h-1.5zM110.4 434.11h2.9v1.38h-2.9zM129.4 434.11h1.5v1.38h-1.5zM250.7 434.11h1.5v1.38h-1.5zM68.0 435.44h1.5v1.38h-1.5zM259.5 438.10h2.9v1.38h-2.9zM53.4 439.42h1.5v1.38h-1.5zM247.8 439.42h1.5v1.38h-1.5zM66.5 440.75h1.5v1.38h-1.5zM84.1 440.75h1.5v1.38h-1.5zM100.1 440.75h2.9v1.38h-2.9zM125.0 440.75h7.3v1.38h-7.3zM135.2 440.75h4.4v1.38h-4.4zM280.0 440.75h1.5v1.38h-1.5zM247.8 443.41h1.5v1.38h-1.5zM268.3 443.41h1.5v1.38h-1.5zM42.6 444.74h3.5v1.38h-3.5zM70.9 444.74h1.5v1.38h-1.5zM247.8 444.74h7.3v1.38h-7.3zM253.7 446.06h1.5v1.38h-1.5zM68.0 447.39h1.5v1.38h-1.5zM253.7 447.39h1.5v1.38h-1.5zM114.8 448.72h1.5v1.38h-1.5zM138.2 448.72h1.5v1.38h-1.5zM253.7 448.72h1.5v1.38h-1.5zM256.6 448.72h1.5v1.38h-1.5zM277.1 450.05h8.8v1.38h-8.8zM281.4 451.38h2.9v1.38h-2.9zM278.5 452.70h8.8v1.38h-8.8zM89.9 454.03h1.5v1.38h-1.5zM84.1 456.69h1.5v1.38h-1.5zM269.7 456.69h2.9v1.38h-2.9zM65.1 458.02h2.9v1.38h-2.9zM97.2 458.02h2.9v1.38h-2.9zM120.6 458.02h1.5v1.38h-1.5zM66.5 459.34h1.5v1.38h-1.5zM285.8 459.34h4.4v1.38h-4.4zM42.6 460.67h3.5v1.38h-3.5zM282.9 460.67h1.5v1.38h-1.5z"/>
<path fill="#da5665" d="M65.1 297.33h1.5v1.38h-1.5zM89.9 297.33h1.5v1.38h-1.5zM209.8 297.33h2.9v1.38h-2.9zM236.1 297.33h1.5v1.38h-1.5zM281.4 297.33h1.5v1.38h-1.5zM42.6 298.66h3.5v1.38h-3.5zM47.5 299.98h1.5v1.38h-1.5zM220.0 299.98h1.5v1.38h-1.5zM252.2 299.98h1.5v1.38h-1.5zM269.7 299.98h1.5v1.38h-1.5zM81.1 301.31h1.5v1.38h-1.5zM130.9 301.31h1.5v1.38h-1.5zM204.0 302.64h1.5v1.38h-1.5zM206.9 302.64h1.5v1.38h-1.5zM237.6 302.64h8.8v1.38h-8.8zM262.4 302.64h1.5v1.38h-1.5zM50.4 303.97h4.4v1.38h-4.4zM208.3 303.97h1.5v1.38h-1.5zM228.8 303.97h1.5v1.38h-1.5zM88.5 305.30h2.9v1.38h-2.9zM100.1 305.30h2.9v1.38h-2.9zM221.5 305.30h1.5v1.38h-1.5zM246.3 305.30h1.5v1.38h-1.5zM70.9 306.62h10.2v1.38h-10.2zM214.2 306.62h4.4v1.38h-4.4zM228.8 306.62h1.5v1.38h-1.5zM263.9 306.62h2.9v1.38h-2.9zM72.4 307.95h1.5v1.38h-1.5zM107.5 307.95h2.9v1.38h-2.9zM114.8 307.95h1.5v1.38h-1.5zM204.0 307.95h1.5v1.38h-1.5zM208.3 307.95h1.5v1.38h-1.5zM285.8 307.95h1.5v1.38h-1.5zM42.6 309.28h0.5v1.38h-0.5zM205.4 309.28h1.5v1.38h-1.5zM237.6 309.28h1.5v1.38h-1.5zM56.3 310.61h1.5v1.38h-1.5zM68.0 310.61h1.5v1.38h-1.5zM78.2 310.61h1.5v1.38h-1.5zM243.4 310.61h10.2v1.38h-10.2zM281.4 310.61h1.5v1.38h-1.5zM46.1 311.94h1.5v1.38h-1.5zM282.9 311.94h4.4v1.38h-4.4zM202.5 313.26h1.5v1.38h-1.5zM217.1 313.26h1.5v1.38h-1.5zM252.2 313.26h4.4v1.38h-4.4zM262.4 313.26h5.8v1.38h-5.8zM224.4 314.59h7.3v1.38h-7.3zM277.1 314.59h2.9v1.38h-2.9zM65.1 315.92h2.9v1.38h-2.9zM113.3 317.25h2.9v1.38h-2.9zM223.0 317.25h1.5v1.38h-1.5zM246.3 317.25h4.4v1.38h-4.4zM119.2 318.58h1.5v1.38h-1.5zM133.8 318.58h1.5v1.38h-1.5zM214.2 318.58h1.5v1.38h-1.5zM228.8 318.58h1.5v1.38h-1.5zM261.0 318.58h1.5v1.38h-1.5zM288.7 318.58h2.9v1.38h-2.9zM59.2 319.90h1.5v1.38h-1.5zM249.3 319.90h1.5v1.38h-1.5zM240.5 321.23h2.9v1.38h-2.9zM280.0 321.23h1.5v1.38h-1.5zM107.5 322.56h5.8v1.38h-5.8zM255.1 322.56h2.9v1.38h-2.9zM265.4 322.56h2.9v1.38h-2.9zM285.8 322.56h2.9v1.38h-2.9zM42.6 323.89h3.5v1.38h-3.5zM205.4 325.22h1.5v1.38h-1.5zM234.7 325.22h2.9v1.38h-2.9zM242.0 326.54h1.5v1.38h-1.5zM261.0 326.54h1.5v1.38h-1.5zM87.0 327.87h2.9v1.38h-2.9zM149.9 327.87h1.5v1.38h-1.5zM263.9 329.20h1.5v1.38h-1.5zM209.8 330.53h2.9v1.38h-2.9zM218.6 330.53h2.9v1.38h-2.9zM278.5 330.53h2.9v1.38h-2.9zM47.5 331.86h1.5v1.38h-1.5zM104.5 331.86h1.5v1.38h-1.5zM135.2 331.86h1.5v1.38h-1.5zM141.1 331.86h1.5v1.38h-1.5zM246.3 331.86h11.7v1.38h-11.7zM272.7 331.86h1.5v1.38h-1.5zM68.0 333.18h1.5v1.38h-1.5zM126.5 333.18h1.5v1.38h-1.5zM211.3 333.18h1.5v1.38h-1.5zM228.8 333.18h2.9v1.38h-2.9zM57.8 334.51h1.5v1.38h-1.5zM73.8 334.51h1.5v1.38h-1.5zM220.0 334.51h1.5v1.38h-1.5zM249.3 334.51h1.5v1.38h-1.5zM263.9 334.51h1.5v1.38h-1.5zM240.5 335.84h1.5v1.38h-1.5zM281.4 338.50h1.5v1.38h-1.5zM233.2 339.82h1.5v1.38h-1.5zM249.3 339.82h1.5v1.38h-1.5zM72.4 341.15h1.5v1.38h-1.5zM240.5 341.15h1.5v1.38h-1.5zM79.7 342.48h1.5v1.38h-1.5zM98.7 342.48h1.5v1.38h-1.5zM215.6 342.48h8.8v1.38h-8.8zM60.7 345.14h1.5v1.38h-1.5zM69.4 345.14h1.5v1.38h-1.5zM253.7 345.14h1.5v1.38h-1.5zM258.0 346.46h1.5v1.38h-1.5zM266.8 346.46h2.9v1.38h-2.9zM73.8 347.79h1.5v1.38h-1.5zM88.5 347.79h1.5v1.38h-1.5zM228.8 347.79h10.2v1.38h-10.2zM218.6 349.12h5.8v1.38h-5.8zM242.0 349.12h1.5v1.38h-1.5zM258.0 349.12h2.9v1.38h-2.9zM51.9 350.45h2.9v1.38h-2.9zM66.5 350.45h11.7v1.38h-11.7zM220.0 350.45h2.9v1.38h-2.9zM230.3 350.45h2.9v1.38h-2.9zM243.4 351.78h1.5v1.38h-1.5zM255.1 351.78h1.5v1.38h-1.5zM233.2 353.10h2.9v1.38h-2.9zM266.8 353.10h1.5v1.38h-1.5zM220.0 354.43h1.5v1.38h-1.5zM262.4 354.43h10.2v1.38h-10.2zM258.0 355.76h2.9v1.38h-2.9zM288.7 355.76h2.9v1.38h-2.9zM51.9 357.09h1.5v1.38h-1.5zM91.4 357.09h1.5v1.38h-1.5zM265.4 357.09h4.4v1.38h-4.4zM68.0 358.42h1.5v1.38h-1.5zM122.1 358.42h1.5v1.38h-1.5zM158.6 358.42h1.5v1.38h-1.5zM242.0 358.42h10.2v1.38h-10.2zM265.4 358.42h5.8v1.38h-5.8zM53.4 359.74h1.5v1.38h-1.5zM70.9 359.74h1.5v1.38h-1.5zM237.6 359.74h1.5v1.38h-1.5zM275.6 359.74h1.5v1.38h-1.5zM69.4 362.40h1.5v1.38h-1.5zM91.4 362.40h1.5v1.38h-1.5zM287.3 362.40h1.5v1.38h-1.5zM50.4 363.73h1.5v1.38h-1.5zM88.5 363.73h1.5v1.38h-1.5zM98.7 363.73h1.5v1.38h-1.5zM50.4 365.06h1.5v1.38h-1.5zM42.6 366.38h0.5v1.38h-0.5zM272.7 366.38h19.0v1.38h-19.0zM51.9 367.71h1.5v1.38h-1.5zM89.9 367.71h4.4v1.38h-4.4zM244.9 367.71h2.9v1.38h-2.9zM60.7 369.04h1.5v1.38h-1.5zM66.5 369.04h2.9v1.38h-2.9zM239.0 369.04h1.5v1.38h-1.5zM262.4 369.04h1.5v1.38h-1.5zM62.1 370.37h2.9v1.38h-2.9zM138.2 370.37h1.5v1.38h-1.5zM287.3 370.37h4.4v1.38h-4.4zM239.0 371.70h1.5v1.38h-1.5zM259.5 371.70h1.5v1.38h-1.5zM285.8 371.70h1.5v1.38h-1.5zM54.8 373.02h1.5v1.38h-1.5zM243.4 373.02h5.8v1.38h-5.8zM269.7 374.35h1.5v1.38h-1.5zM239.0 375.68h1.5v1.38h-1.5zM282.9 375.68h2.9v1.38h-2.9zM236.1 377.01h2.9v1.38h-2.9zM253.7 377.01h8.8v1.38h-8.8zM85.5 378.34h2.9v1.38h-2.9zM240.5 378.34h1.5v1.38h-1.5zM268.3 378.34h1.5v1.38h-1.5zM87.0 379.66h4.4v1.38h-4.4zM94.3 379.66h4.4v1.38h-4.4zM227.3 379.66h10.2v1.38h-10.2zM259.5 379.66h2.9v1.38h-2.9zM43.1 380.99h2.9v1.38h-2.9zM75.3 380.99h2.9v1.38h-2.9zM110.4 380.99h2.9v1.38h-2.9zM236.1 380.99h1.5v1.38h-1.5zM255.1 380.99h1.5v1.38h-1.5zM221.5 382.32h1.5v1.38h-1.5zM97.2 383.65h5.8v1.38h-5.8zM287.3 383.65h4.4v1.38h-4.4zM227.3 386.30h7.3v1.38h-7.3zM282.9 386.30h1.5v1.38h-1.5zM256.6 387.63h1.5v1.38h-1.5zM84.1 388.96h2.9v1.38h-2.9zM126.5 388.96h10.2v1.38h-10.2zM266.8 388.96h4.4v1.38h-4.4zM135.2 390.29h2.9v1.38h-2.9zM244.9 390.29h1.5v1.38h-1.5zM268.3 390.29h2.9v1.38h-2.9zM281.4 390.29h2.9v1.38h-2.9zM114.8 391.62h1.5v1.38h-1.5zM123.5 391.62h1.5v1.38h-1.5zM278.5 391.62h1.5v1.38h-1.5zM271.2 392.94h2.9v1.38h-2.9zM76.8 394.27h2.9v1.38h-2.9zM92.8 394.27h7.3v1.38h-7.3zM261.0 394.27h2.9v1.38h-2.9zM60.7 395.60h4.4v1.38h-4.4zM116.2 395.60h1.5v1.38h-1.5zM228.8 395.60h1.5v1.38h-1.5zM247.8 395.60h1.5v1.38h-1.5zM290.2 396.93h1.5v1.38h-1.5zM244.9 398.26h1.5v1.38h-1.5zM255.1 398.26h2.9v1.38h-2.9zM62.1 399.58h1.5v1.38h-1.5zM84.1 399.58h1.5v1.38h-1.5zM233.2 399.58h4.4v1.38h-4.4zM275.6 399.58h1.5v1.38h-1.5zM281.4 400.91h1.5v1.38h-1.5zM225.9 402.24h1.5v1.38h-1.5zM231.7 402.24h2.9v1.38h-2.9zM62.1 403.57h1.5v1.38h-1.5zM84.1 403.57h8.8v1.38h-8.8zM151.3 403.57h1.5v1.38h-1.5zM231.7 403.57h13.2v1.38h-13.2zM271.2 403.57h1.5v1.38h-1.5zM50.4 404.90h1.5v1.38h-1.5zM231.7 404.90h1.5v1.38h-1.5zM250.7 404.90h2.9v1.38h-2.9zM268.3 404.90h2.9v1.38h-2.9zM135.2 406.22h1.5v1.38h-1.5zM239.0 406.22h1.5v1.38h-1.5zM278.5 406.22h1.5v1.38h-1.5zM89.9 407.55h7.3v1.38h-7.3zM242.0 407.55h1.5v1.38h-1.5zM259.5 407.55h1.5v1.38h-1.5zM262.4 408.88h1.5v1.38h-1.5zM66.5 410.21h2.9v1.38h-2.9zM265.4 410.21h1.5v1.38h-1.5zM70.9 411.54h1.5v1.38h-1.5zM275.6 411.54h1.5v1.38h-1.5zM233.2 412.86h5.8v1.38h-5.8zM263.9 412.86h7.3v1.38h-7.3zM274.1 412.86h5.8v1.38h-5.8zM65.1 414.19h1.5v1.38h-1.5zM89.9 414.19h5.8v1.38h-5.8zM249.3 414.19h1.5v1.38h-1.5zM272.7 414.19h1.5v1.38h-1.5zM129.4 415.52h8.8v1.38h-8.8zM253.7 415.52h4.4v1.38h-4.4zM268.3 415.52h5.8v1.38h-5.8zM60.7 416.85h1.5v1.38h-1.5zM126.5 416.85h1.5v1.38h-1.5zM149.9 416.85h1.5v1.38h-1.5zM261.0 416.85h5.8v1.38h-5.8zM269.7 416.85h7.3v1.38h-7.3zM68.0 418.18h1.5v1.38h-1.5zM76.8 418.18h1.5v1.38h-1.5zM125.0 420.83h1.5v1.38h-1.5zM54.8 422.16h1.5v1.38h-1.5zM73.8 422.16h1.5v1.38h-1.5zM108.9 422.16h1.5v1.38h-1.5zM125.0 422.16h1.5v1.38h-1.5zM265.4 422.16h2.9v1.38h-2.9zM272.7 422.16h4.4v1.38h-4.4zM62.1 423.49h1.5v1.38h-1.5zM72.4 423.49h2.9v1.38h-2.9zM84.1 423.49h1.5v1.38h-1.5zM111.8 423.49h1.5v1.38h-1.5zM132.3 423.49h2.9v1.38h-2.9zM246.3 423.49h1.5v1.38h-1.5zM262.4 423.49h2.9v1.38h-2.9zM129.4 424.82h4.4v1.38h-4.4zM138.2 424.82h2.9v1.38h-2.9zM258.0 424.82h1.5v1.38h-1.5zM240.5 426.14h2.9v1.38h-2.9zM53.4 427.47h4.4v1.38h-4.4zM70.9 427.47h2.9v1.38h-2.9zM100.1 427.47h1.5v1.38h-1.5zM239.0 428.80h1.5v1.38h-1.5zM246.3 428.80h5.8v1.38h-5.8zM272.7 428.80h1.5v1.38h-1.5zM136.7 430.13h1.5v1.38h-1.5zM148.4 430.13h1.5v1.38h-1.5zM249.3 432.78h7.3v1.38h-7.3zM82.6 434.11h1.5v1.38h-1.5zM108.9 434.11h1.5v1.38h-1.5zM130.9 434.11h1.5v1.38h-1.5zM144.0 434.11h1.5v1.38h-1.5zM247.8 434.11h2.9v1.38h-2.9zM54.8 435.44h1.5v1.38h-1.5zM66.5 435.44h1.5v1.38h-1.5zM262.4 438.10h2.9v1.38h-2.9zM51.9 439.42h1.5v1.38h-1.5zM244.9 439.42h2.9v1.38h-2.9zM68.0 440.75h1.5v1.38h-1.5zM103.1 440.75h7.3v1.38h-7.3zM114.8 440.75h10.2v1.38h-10.2zM139.6 440.75h2.9v1.38h-2.9zM148.4 440.75h1.5v1.38h-1.5zM281.4 440.75h2.9v1.38h-2.9zM46.1 444.74h1.5v1.38h-1.5zM66.5 447.39h1.5v1.38h-1.5zM250.7 447.39h1.5v1.38h-1.5zM116.2 448.72h4.4v1.38h-4.4zM129.4 448.72h8.8v1.38h-8.8zM255.1 448.72h1.5v1.38h-1.5zM285.8 450.05h5.8v1.38h-5.8zM97.2 451.38h1.5v1.38h-1.5zM114.8 451.38h1.5v1.38h-1.5zM284.4 451.38h5.8v1.38h-5.8zM69.4 454.03h1.5v1.38h-1.5zM88.5 454.03h1.5v1.38h-1.5zM281.4 454.03h1.5v1.38h-1.5zM85.5 456.69h8.8v1.38h-8.8zM117.7 456.69h1.5v1.38h-1.5zM268.3 456.69h1.5v1.38h-1.5zM100.1 458.02h4.4v1.38h-4.4zM117.7 458.02h2.9v1.38h-2.9zM278.5 458.02h1.5v1.38h-1.5zM68.0 459.34h1.5v1.38h-1.5zM282.9 459.34h2.9v1.38h-2.9zM281.4 460.67h1.5v1.38h-1.5z"/>
<path fill="#e86954" d="M66.5 297.33h2.9v1.38h-2.9zM88.5 297.33h1.5v1.38h-1.5zM212.7 297.33h1.5v1.38h-1.5zM233.2 297.33h2.9v1.38h-2.9zM282.9 297.33h2.9v1.38h-2.9zM198.1 299.98h1.5v1.38h-1.5zM218.6 299.98h1.5v1.38h-1.5zM253.7 299.98h1.5v1.38h-1.5zM268.3 299.98h1.5v1.38h-1.5zM54.8 301.31h1.5v1.38h-1.5zM205.4 302.64h1.5v1.38h-1.5zM246.3 302.64h4.4v1.38h-4.4zM261.0 302.64h1.5v1.38h-1.5zM225.9 303.97h2.9v1.38h-2.9zM91.4 305.30h8.8v1.38h-8.8zM223.0 305.30h1.5v1.38h-1.5zM230.3 306.62h1.5v1.38h-1.5zM261.0 306.62h2.9v1.38h-2.9zM266.8 306.62h2.9v1.38h-2.9zM73.8 307.95h1.5v1.38h-1.5zM87.0 307.95h1.5v1.38h-1.5zM110.4 307.95h4.4v1.38h-4.4zM205.4 307.95h2.9v1.38h-2.9zM287.3 307.95h1.5v1.38h-1.5zM202.5 309.28h1.5v1.38h-1.5zM57.8 310.61h1.5v1.38h-1.5zM65.1 310.61h2.9v1.38h-2.9zM79.7 310.61h1.5v1.38h-1.5zM110.4 310.61h1.5v1.38h-1.5zM282.9 310.61h1.5v1.38h-1.5zM44.6 311.94h1.5v1.38h-1.5zM287.3 311.94h4.4v1.38h-4.4zM215.6 313.26h1.5v1.38h-1.5zM256.6 313.26h5.8v1.38h-5.8zM97.2 314.59h1.5v1.38h-1.5zM110.4 314.59h1.5v1.38h-1.5zM280.0 314.59h2.9v1.38h-2.9zM59.2 315.92h5.8v1.38h-5.8zM88.5 317.25h1.5v1.38h-1.5zM108.9 317.25h4.4v1.38h-4.4zM221.5 317.25h1.5v1.38h-1.5zM66.5 318.58h1.5v1.38h-1.5zM91.4 318.58h1.5v1.38h-1.5zM215.6 318.58h1.5v1.38h-1.5zM225.9 318.58h2.9v1.38h-2.9zM262.4 318.58h1.5v1.38h-1.5zM285.8 318.58h2.9v1.38h-2.9zM42.6 319.90h0.5v1.38h-0.5zM56.3 319.90h2.9v1.38h-2.9zM208.3 321.23h1.5v1.38h-1.5zM237.6 321.23h2.9v1.38h-2.9zM281.4 321.23h1.5v1.38h-1.5zM258.0 322.56h7.3v1.38h-7.3zM288.7 322.56h2.9v1.38h-2.9zM208.3 323.89h1.5v1.38h-1.5zM231.7 323.89h1.5v1.38h-1.5zM231.7 325.22h2.9v1.38h-2.9zM205.4 326.54h1.5v1.38h-1.5zM240.5 326.54h1.5v1.38h-1.5zM262.4 326.54h1.5v1.38h-1.5zM60.7 327.87h4.4v1.38h-4.4zM85.5 327.87h1.5v1.38h-1.5zM212.7 330.53h5.8v1.38h-5.8zM281.4 330.53h4.4v1.38h-4.4zM88.5 331.86h1.5v1.38h-1.5zM103.1 331.86h1.5v1.38h-1.5zM136.7 331.86h4.4v1.38h-4.4zM274.1 331.86h2.9v1.38h-2.9zM66.5 333.18h1.5v1.38h-1.5zM127.9 333.18h1.5v1.38h-1.5zM135.2 333.18h1.5v1.38h-1.5zM212.7 333.18h2.9v1.38h-2.9zM224.4 333.18h4.4v1.38h-4.4zM59.2 334.51h2.9v1.38h-2.9zM70.9 334.51h2.9v1.38h-2.9zM209.8 334.51h1.5v1.38h-1.5zM250.7 334.51h2.9v1.38h-2.9zM262.4 334.51h1.5v1.38h-1.5zM242.0 335.84h2.9v1.38h-2.9zM262.4 338.50h1.5v1.38h-1.5zM234.7 339.82h1.5v1.38h-1.5zM247.8 339.82h1.5v1.38h-1.5zM44.6 341.15h1.5v1.38h-1.5zM84.1 341.15h1.5v1.38h-1.5zM209.8 341.15h1.5v1.38h-1.5zM239.0 341.15h1.5v1.38h-1.5zM81.1 342.48h2.9v1.38h-2.9zM97.2 342.48h1.5v1.38h-1.5zM278.5 342.48h1.5v1.38h-1.5zM62.1 345.14h1.5v1.38h-1.5zM68.0 345.14h1.5v1.38h-1.5zM255.1 345.14h1.5v1.38h-1.5zM259.5 346.46h7.3v1.38h-7.3zM75.3 347.79h1.5v1.38h-1.5zM87.0 347.79h1.5v1.38h-1.5zM243.4 349.12h2.9v1.38h-2.9zM255.1 349.12h2.9v1.38h-2.9zM54.8 350.45h11.7v1.38h-11.7zM223.0 350.45h7.3v1.38h-7.3zM244.9 351.78h2.9v1.38h-2.9zM253.7 351.78h1.5v1.38h-1.5zM236.1 353.10h1.5v1.38h-1.5zM265.4 353.10h1.5v1.38h-1.5zM221.5 354.43h4.4v1.38h-4.4zM259.5 354.43h2.9v1.38h-2.9zM272.7 354.43h2.9v1.38h-2.9zM223.0 355.76h2.9v1.38h-2.9zM256.6 355.76h1.5v1.38h-1.5zM49.0 357.09h2.9v1.38h-2.9zM107.5 357.09h1.5v1.38h-1.5zM271.2 358.42h4.4v1.38h-4.4zM54.8 359.74h1.5v1.38h-1.5zM69.4 359.74h1.5v1.38h-1.5zM239.0 359.74h1.5v1.38h-1.5zM259.5 359.74h1.5v1.38h-1.5zM277.1 359.74h1.5v1.38h-1.5zM288.7 362.40h2.9v1.38h-2.9zM49.0 363.73h1.5v1.38h-1.5zM89.9 363.73h1.5v1.38h-1.5zM97.2 363.73h1.5v1.38h-1.5zM46.1 365.06h4.4v1.38h-4.4zM224.4 366.38h1.5v1.38h-1.5zM263.9 366.38h8.8v1.38h-8.8zM50.4 367.71h1.5v1.38h-1.5zM94.3 367.71h2.9v1.38h-2.9zM126.5 367.71h1.5v1.38h-1.5zM247.8 367.71h2.9v1.38h-2.9zM62.1 369.04h4.4v1.38h-4.4zM237.6 369.04h1.5v1.38h-1.5zM263.9 369.04h1.5v1.38h-1.5zM59.2 370.37h2.9v1.38h-2.9zM139.6 370.37h1.5v1.38h-1.5zM240.5 371.70h1.5v1.38h-1.5zM287.3 371.70h1.5v1.38h-1.5zM221.5 375.68h1.5v1.38h-1.5zM285.8 375.68h2.9v1.38h-2.9zM239.0 377.01h14.6v1.38h-14.6zM53.4 378.34h1.5v1.38h-1.5zM88.5 378.34h1.5v1.38h-1.5zM110.4 378.34h1.5v1.38h-1.5zM242.0 378.34h1.5v1.38h-1.5zM263.9 378.34h4.4v1.38h-4.4zM269.7 378.34h5.8v1.38h-5.8zM91.4 379.66h2.9v1.38h-2.9zM237.6 379.66h2.9v1.38h-2.9zM258.0 379.66h1.5v1.38h-1.5zM42.6 380.99h0.5v1.38h-0.5zM78.2 380.99h1.5v1.38h-1.5zM108.9 380.99h1.5v1.38h-1.5zM237.6 380.99h1.5v1.38h-1.5zM253.7 380.99h1.5v1.38h-1.5zM247.8 382.32h1.5v1.38h-1.5zM284.4 386.30h1.5v1.38h-1.5zM258.0 387.63h1.5v1.38h-1.5zM53.4 390.29h1.5v1.38h-1.5zM138.2 390.29h2.9v1.38h-2.9zM144.0 390.29h1.5v1.38h-1.5zM227.3 390.29h1.5v1.38h-1.5zM243.4 390.29h1.5v1.38h-1.5zM271.2 390.29h4.4v1.38h-4.4zM277.1 390.29h4.4v1.38h-4.4zM46.1 391.62h1.5v1.38h-1.5zM116.2 391.62h7.3v1.38h-7.3zM280.0 391.62h1.5v1.38h-1.5zM42.6 392.94h2.0v1.38h-2.0zM65.1 392.94h1.5v1.38h-1.5zM103.1 392.94h1.5v1.38h-1.5zM122.1 392.94h1.5v1.38h-1.5zM225.9 392.94h1.5v1.38h-1.5zM269.7 392.94h1.5v1.38h-1.5zM75.3 394.27h1.5v1.38h-1.5zM231.7 394.27h1.5v1.38h-1.5zM259.5 394.27h1.5v1.38h-1.5zM57.8 395.60h2.9v1.38h-2.9zM230.3 395.60h1.5v1.38h-1.5zM244.9 395.60h2.9v1.38h-2.9zM246.3 398.26h8.8v1.38h-8.8zM63.6 399.58h1.5v1.38h-1.5zM82.6 399.58h1.5v1.38h-1.5zM237.6 399.58h2.9v1.38h-2.9zM274.1 399.58h1.5v1.38h-1.5zM227.3 402.24h4.4v1.38h-4.4zM63.6 403.57h1.5v1.38h-1.5zM82.6 403.57h1.5v1.38h-1.5zM92.8 403.57h1.5v1.38h-1.5zM149.9 403.57h1.5v1.38h-1.5zM244.9 403.57h4.4v1.38h-4.4zM269.7 403.57h1.5v1.38h-1.5zM49.0 404.90h1.5v1.38h-1.5zM233.2 404.90h1.5v1.38h-1.5zM249.3 404.90h1.5v1.38h-1.5zM271.2 404.90h1.5v1.38h-1.5zM136.7 406.22h4.4v1.38h-4.4zM275.6 406.22h2.9v1.38h-2.9zM84.1 407.55h5.8v1.38h-5.8zM243.4 407.55h1.5v1.38h-1.5zM256.6 407.55h2.9v1.38h-2.9zM263.9 408.88h1.5v1.38h-1.5zM63.6 410.21h2.9v1.38h-2.9zM266.8 410.21h1.5v1.38h-1.5zM68.0 411.54h2.9v1.38h-2.9zM111.8 411.54h1.5v1.38h-1.5zM130.9 411.54h1.5v1.38h-1.5zM277.1 411.54h1.5v1.38h-1.5zM271.2 412.86h2.9v1.38h-2.9zM63.6 414.19h1.5v1.38h-1.5zM271.2 414.19h1.5v1.38h-1.5zM49.0 415.52h1.5v1.38h-1.5zM63.6 415.52h1.5v1.38h-1.5zM249.3 415.52h4.4v1.38h-4.4zM274.1 415.52h11.7v1.38h-11.7zM127.9 416.85h1.5v1.38h-1.5zM256.6 416.85h4.4v1.38h-4.4zM277.1 416.85h5.8v1.38h-5.8zM69.4 418.18h2.9v1.38h-2.9zM75.3 418.18h1.5v1.38h-1.5zM142.5 420.83h1.5v1.38h-1.5zM56.3 422.16h1.5v1.38h-1.5zM110.4 422.16h1.5v1.38h-1.5zM122.1 422.16h2.9v1.38h-2.9zM231.7 422.16h1.5v1.38h-1.5zM262.4 422.16h2.9v1.38h-2.9zM277.1 422.16h1.5v1.38h-1.5zM63.6 423.49h2.9v1.38h-2.9zM69.4 423.49h2.9v1.38h-2.9zM85.5 423.49h1.5v1.38h-1.5zM110.4 423.49h1.5v1.38h-1.5zM247.8 423.49h1.5v1.38h-1.5zM259.5 423.49h2.9v1.38h-2.9zM133.8 424.82h4.4v1.38h-4.4zM239.0 424.82h1.5v1.38h-1.5zM256.6 424.82h1.5v1.38h-1.5zM243.4 426.14h1.5v1.38h-1.5zM263.9 426.14h4.4v1.38h-4.4zM57.8 427.47h13.2v1.38h-13.2zM73.8 427.47h4.4v1.38h-4.4zM98.7 427.47h1.5v1.38h-1.5zM240.5 428.80h5.8v1.38h-5.8zM274.1 428.80h2.9v1.38h-2.9zM138.2 430.13h1.5v1.38h-1.5zM84.1 434.11h1.5v1.38h-1.5zM106.0 434.11h2.9v1.38h-2.9zM132.3 434.11h1.5v1.38h-1.5zM142.5 434.11h1.5v1.38h-1.5zM240.5 434.11h1.5v1.38h-1.5zM246.3 434.11h1.5v1.38h-1.5zM56.3 435.44h1.5v1.38h-1.5zM65.1 435.44h1.5v1.38h-1.5zM265.4 438.10h2.9v1.38h-2.9zM287.3 438.10h4.4v1.38h-4.4zM49.0 439.42h2.9v1.38h-2.9zM82.6 440.75h1.5v1.38h-1.5zM110.4 440.75h4.4v1.38h-4.4zM142.5 440.75h2.9v1.38h-2.9zM146.9 440.75h1.5v1.38h-1.5zM284.4 440.75h4.4v1.38h-4.4zM249.3 443.41h1.5v1.38h-1.5zM266.8 443.41h1.5v1.38h-1.5zM47.5 444.74h1.5v1.38h-1.5zM69.4 444.74h1.5v1.38h-1.5zM255.1 446.06h1.5v1.38h-1.5zM65.1 447.39h1.5v1.38h-1.5zM252.2 447.39h1.5v1.38h-1.5zM120.6 448.72h8.8v1.38h-8.8zM113.3 451.38h1.5v1.38h-1.5zM290.2 451.38h1.5v1.38h-1.5zM70.9 454.03h1.5v1.38h-1.5zM87.0 454.03h1.5v1.38h-1.5zM262.4 454.03h1.5v1.38h-1.5zM280.0 454.03h1.5v1.38h-1.5zM261.0 455.36h1.5v1.38h-1.5zM94.3 456.69h5.8v1.38h-5.8zM116.2 456.69h1.5v1.38h-1.5zM261.0 456.69h1.5v1.38h-1.5zM266.8 456.69h1.5v1.38h-1.5zM104.5 458.02h13.2v1.38h-13.2zM69.4 459.34h1.5v1.38h-1.5zM146.9 459.34h1.5v1.38h-1.5zM269.7 459.34h1.5v1.38h-1.5zM280.0 459.34h2.9v1.38h-2.9zM280.0 460.67h1.5v1.38h-1.5z"/>
<path fill="#f07f45" d="M69.4 297.33h1.5v1.38h-1.5zM214.2 297.33h2.9v1.38h-2.9zM230.3 297.33h2.9v1.38h-2.9zM285.8 297.33h1.5v1.38h-1.5zM46.1 299.98h1.5v1.38h-1.5zM255.1 299.98h1.5v1.38h-1.5zM250.7 302.64h4.4v1.38h-4.4zM258.0 302.64h2.9v1.38h-2.9zM209.8 303.97h1.5v1.38h-1.5zM224.4 303.97h1.5v1.38h-1.5zM281.4 303.97h1.5v1.38h-1.5zM224.4 305.30h1.5v1.38h-1.5zM244.9 305.30h1.5v1.38h-1.5zM231.7 306.62h1.5v1.38h-1.5zM259.5 306.62h1.5v1.38h-1.5zM269.7 306.62h2.9v1.38h-2.9zM75.3 307.95h1.5v1.38h-1.5zM84.1 307.95h2.9v1.38h-2.9zM288.7 307.95h2.9v1.38h-2.9zM204.0 309.28h1.5v1.38h-1.5zM239.0 309.28h1.5v1.38h-1.5zM59.2 310.61h5.8v1.38h-5.8zM284.4 310.61h1.5v1.38h-1.5zM42.6 311.94h2.0v1.38h-2.0zM214.2 313.26h1.5v1.38h-1.5zM98.7 314.59h1.5v1.38h-1.5zM108.9 314.59h1.5v1.38h-1.5zM282.9 314.59h1.5v1.38h-1.5zM56.3 315.92h2.9v1.38h-2.9zM107.5 317.25h1.5v1.38h-1.5zM211.3 317.25h10.2v1.38h-10.2zM120.6 318.58h1.5v1.38h-1.5zM132.3 318.58h1.5v1.38h-1.5zM217.1 318.58h2.9v1.38h-2.9zM223.0 318.58h2.9v1.38h-2.9zM263.9 318.58h1.5v1.38h-1.5zM284.4 318.58h1.5v1.38h-1.5zM43.1 319.90h4.4v1.38h-4.4zM54.8 319.90h1.5v1.38h-1.5zM247.8 319.90h1.5v1.38h-1.5zM233.2 321.23h4.4v1.38h-4.4zM282.9 321.23h2.9v1.38h-2.9zM227.3 325.22h4.4v1.38h-4.4zM206.9 326.54h2.9v1.38h-2.9zM239.0 326.54h1.5v1.38h-1.5zM263.9 326.54h1.5v1.38h-1.5zM57.8 327.87h2.9v1.38h-2.9zM65.1 327.87h2.9v1.38h-2.9zM84.1 327.87h1.5v1.38h-1.5zM265.4 329.20h1.5v1.38h-1.5zM285.8 330.53h5.8v1.38h-5.8zM46.1 331.86h1.5v1.38h-1.5zM89.9 331.86h1.5v1.38h-1.5zM277.1 331.86h1.5v1.38h-1.5zM129.4 333.18h1.5v1.38h-1.5zM215.6 333.18h8.8v1.38h-8.8zM62.1 334.51h8.8v1.38h-8.8zM218.6 334.51h1.5v1.38h-1.5zM253.7 334.51h1.5v1.38h-1.5zM261.0 334.51h1.5v1.38h-1.5zM244.9 335.84h1.5v1.38h-1.5zM280.0 338.50h1.5v1.38h-1.5zM246.3 339.82h1.5v1.38h-1.5zM42.6 341.15h2.0v1.38h-2.0zM73.8 341.15h1.5v1.38h-1.5zM236.1 341.15h2.9v1.38h-2.9zM84.1 342.48h2.9v1.38h-2.9zM94.3 342.48h2.9v1.38h-2.9zM280.0 342.48h1.5v1.38h-1.5zM63.6 345.14h4.4v1.38h-4.4zM256.6 345.14h1.5v1.38h-1.5zM275.6 345.14h8.8v1.38h-8.8zM76.8 347.79h2.9v1.38h-2.9zM85.5 347.79h1.5v1.38h-1.5zM246.3 349.12h8.8v1.38h-8.8zM247.8 351.78h5.8v1.38h-5.8zM237.6 353.10h2.9v1.38h-2.9zM262.4 353.10h2.9v1.38h-2.9zM225.9 354.43h2.9v1.38h-2.9zM258.0 354.43h1.5v1.38h-1.5zM275.6 354.43h2.9v1.38h-2.9zM225.9 355.76h2.9v1.38h-2.9zM255.1 355.76h1.5v1.38h-1.5zM47.5 357.09h1.5v1.38h-1.5zM92.8 357.09h1.5v1.38h-1.5zM106.0 357.09h1.5v1.38h-1.5zM66.5 358.42h1.5v1.38h-1.5zM123.5 358.42h1.5v1.38h-1.5zM275.6 358.42h4.4v1.38h-4.4zM56.3 359.74h1.5v1.38h-1.5zM68.0 359.74h1.5v1.38h-1.5zM240.5 359.74h1.5v1.38h-1.5zM258.0 359.74h1.5v1.38h-1.5zM278.5 359.74h1.5v1.38h-1.5zM46.1 363.73h2.9v1.38h-2.9zM91.4 363.73h5.8v1.38h-5.8zM42.6 365.06h3.5v1.38h-3.5zM225.9 366.38h2.9v1.38h-2.9zM261.0 366.38h2.9v1.38h-2.9zM49.0 367.71h1.5v1.38h-1.5zM97.2 367.71h1.5v1.38h-1.5zM250.7 367.71h17.5v1.38h-17.5zM221.5 369.04h1.5v1.38h-1.5zM234.7 369.04h2.9v1.38h-2.9zM265.4 369.04h1.5v1.38h-1.5zM57.8 370.37h1.5v1.38h-1.5zM141.1 370.37h7.3v1.38h-7.3zM258.0 371.70h1.5v1.38h-1.5zM288.7 371.70h2.9v1.38h-2.9zM53.4 373.02h1.5v1.38h-1.5zM271.2 374.35h1.5v1.38h-1.5zM237.6 375.68h1.5v1.38h-1.5zM288.7 375.68h2.9v1.38h-2.9zM97.2 377.01h1.5v1.38h-1.5zM89.9 378.34h1.5v1.38h-1.5zM108.9 378.34h1.5v1.38h-1.5zM243.4 378.34h1.5v1.38h-1.5zM261.0 378.34h2.9v1.38h-2.9zM275.6 378.34h8.8v1.38h-8.8zM240.5 379.66h4.4v1.38h-4.4zM255.1 379.66h2.9v1.38h-2.9zM79.7 380.99h1.5v1.38h-1.5zM107.5 380.99h1.5v1.38h-1.5zM239.0 380.99h1.5v1.38h-1.5zM252.2 380.99h1.5v1.38h-1.5zM285.8 386.30h1.5v1.38h-1.5zM259.5 387.63h1.5v1.38h-1.5zM141.1 390.29h2.9v1.38h-2.9zM228.8 390.29h1.5v1.38h-1.5zM242.0 390.29h1.5v1.38h-1.5zM275.6 390.29h1.5v1.38h-1.5zM281.4 391.62h1.5v1.38h-1.5zM44.6 392.94h1.5v1.38h-1.5zM244.9 392.94h7.3v1.38h-7.3zM266.8 392.94h2.9v1.38h-2.9zM72.4 394.27h2.9v1.38h-2.9zM258.0 394.27h1.5v1.38h-1.5zM54.8 395.60h2.9v1.38h-2.9zM231.7 395.60h1.5v1.38h-1.5zM243.4 395.60h1.5v1.38h-1.5zM65.1 399.58h1.5v1.38h-1.5zM79.7 399.58h2.9v1.38h-2.9zM240.5 399.58h2.9v1.38h-2.9zM272.7 399.58h1.5v1.38h-1.5zM65.1 403.57h1.5v1.38h-1.5zM81.1 403.57h1.5v1.38h-1.5zM94.3 403.57h1.5v1.38h-1.5zM148.4 403.57h1.5v1.38h-1.5zM249.3 403.57h2.9v1.38h-2.9zM268.3 403.57h1.5v1.38h-1.5zM47.5 404.90h1.5v1.38h-1.5zM234.7 404.90h2.9v1.38h-2.9zM247.8 404.90h1.5v1.38h-1.5zM272.7 404.90h4.4v1.38h-4.4zM240.5 406.22h1.5v1.38h-1.5zM274.1 406.22h1.5v1.38h-1.5zM78.2 407.55h5.8v1.38h-5.8zM244.9 407.55h2.9v1.38h-2.9zM255.1 407.55h1.5v1.38h-1.5zM265.4 408.88h1.5v1.38h-1.5zM284.4 408.88h7.3v1.38h-7.3zM60.7 410.21h2.9v1.38h-2.9zM268.3 410.21h2.9v1.38h-2.9zM278.5 410.21h11.7v1.38h-11.7zM63.6 411.54h4.4v1.38h-4.4zM113.3 411.54h1.5v1.38h-1.5zM278.5 411.54h1.5v1.38h-1.5zM62.1 414.19h1.5v1.38h-1.5zM250.7 414.19h1.5v1.38h-1.5zM269.7 414.19h1.5v1.38h-1.5zM50.4 415.52h1.5v1.38h-1.5zM234.7 415.52h1.5v1.38h-1.5zM246.3 415.52h2.9v1.38h-2.9zM285.8 415.52h5.8v1.38h-5.8zM59.2 416.85h1.5v1.38h-1.5zM129.4 416.85h1.5v1.38h-1.5zM234.7 416.85h1.5v1.38h-1.5zM252.2 416.85h4.4v1.38h-4.4zM282.9 416.85h8.8v1.38h-8.8zM72.4 418.18h2.9v1.38h-2.9zM126.5 420.83h1.5v1.38h-1.5zM57.8 422.16h1.5v1.38h-1.5zM72.4 422.16h1.5v1.38h-1.5zM111.8 422.16h1.5v1.38h-1.5zM119.2 422.16h2.9v1.38h-2.9zM261.0 422.16h1.5v1.38h-1.5zM278.5 422.16h1.5v1.38h-1.5zM66.5 423.49h2.9v1.38h-2.9zM87.0 423.49h1.5v1.38h-1.5zM108.9 423.49h1.5v1.38h-1.5zM249.3 423.49h2.9v1.38h-2.9zM256.6 423.49h2.9v1.38h-2.9zM240.5 424.82h1.5v1.38h-1.5zM244.9 426.14h1.5v1.38h-1.5zM259.5 426.14h4.4v1.38h-4.4zM268.3 426.14h4.4v1.38h-4.4zM288.7 426.14h2.9v1.38h-2.9zM78.2 427.47h2.9v1.38h-2.9zM97.2 427.47h1.5v1.38h-1.5zM277.1 428.80h1.5v1.38h-1.5zM139.6 430.13h1.5v1.38h-1.5zM146.9 430.13h1.5v1.38h-1.5zM85.5 434.11h1.5v1.38h-1.5zM103.1 434.11h2.9v1.38h-2.9zM133.8 434.11h2.9v1.38h-2.9zM139.6 434.11h2.9v1.38h-2.9zM243.4 434.11h2.9v1.38h-2.9zM57.8 435.44h7.3v1.38h-7.3zM268.3 438.10h4.4v1.38h-4.4zM281.4 438.10h5.8v1.38h-5.8zM46.1 439.42h2.9v1.38h-2.9zM69.4 440.75h1.5v1.38h-1.5zM81.1 440.75h1.5v1.38h-1.5zM145.5 440.75h1.5v1.38h-1.5zM288.7 440.75h2.9v1.38h-2.9zM250.7 443.41h1.5v1.38h-1.5zM265.4 443.41h1.5v1.38h-1.5zM49.0 444.74h1.5v1.38h-1.5zM68.0 444.74h1.5v1.38h-1.5zM256.6 446.06h2.9v1.38h-2.9zM63.6 447.39h1.5v1.38h-1.5zM98.7 451.38h1.5v1.38h-1.5zM111.8 451.38h1.5v1.38h-1.5zM72.4 454.03h1.5v1.38h-1.5zM85.5 454.03h1.5v1.38h-1.5zM263.9 454.03h1.5v1.38h-1.5zM278.5 454.03h1.5v1.38h-1.5zM100.1 456.69h2.9v1.38h-2.9zM114.8 456.69h1.5v1.38h-1.5zM265.4 456.69h1.5v1.38h-1.5zM125.0 459.34h4.4v1.38h-4.4zM278.5 459.34h1.5v1.38h-1.5zM271.2 460.67h1.5v1.38h-1.5zM278.5 460.67h1.5v1.38h-1.5z"/>
<path fill="#f59737" d="M70.9 297.33h1.5v1.38h-1.5zM87.0 297.33h1.5v1.38h-1.5zM217.1 297.33h13.2v1.38h-13.2zM287.3 297.33h2.9v1.38h-2.9zM44.6 299.98h1.5v1.38h-1.5zM217.1 299.98h1.5v1.38h-1.5zM256.6 299.98h1.5v1.38h-1.5zM266.8 299.98h1.5v1.38h-1.5zM79.7 301.31h1.5v1.38h-1.5zM255.1 302.64h2.9v1.38h-2.9zM211.3 303.97h1.5v1.38h-1.5zM223.0 303.97h1.5v1.38h-1.5zM225.9 305.30h1.5v1.38h-1.5zM243.4 305.30h1.5v1.38h-1.5zM258.0 306.62h1.5v1.38h-1.5zM272.7 306.62h2.9v1.38h-2.9zM76.8 307.95h2.9v1.38h-2.9zM82.6 307.95h1.5v1.38h-1.5zM240.5 309.28h1.5v1.38h-1.5zM81.1 310.61h1.5v1.38h-1.5zM108.9 310.61h1.5v1.38h-1.5zM285.8 310.61h1.5v1.38h-1.5zM204.0 313.26h1.5v1.38h-1.5zM212.7 313.26h1.5v1.38h-1.5zM100.1 314.59h1.5v1.38h-1.5zM284.4 314.59h2.9v1.38h-2.9zM53.4 315.92h2.9v1.38h-2.9zM89.9 317.25h1.5v1.38h-1.5zM104.5 317.25h2.9v1.38h-2.9zM68.0 318.58h1.5v1.38h-1.5zM89.9 318.58h1.5v1.38h-1.5zM122.1 318.58h1.5v1.38h-1.5zM130.9 318.58h1.5v1.38h-1.5zM220.0 318.58h2.9v1.38h-2.9zM265.4 318.58h1.5v1.38h-1.5zM282.9 318.58h1.5v1.38h-1.5zM47.5 319.90h7.3v1.38h-7.3zM205.4 319.90h1.5v1.38h-1.5zM246.3 319.90h1.5v1.38h-1.5zM209.8 321.23h2.9v1.38h-2.9zM228.8 321.23h4.4v1.38h-4.4zM285.8 321.23h4.4v1.38h-4.4zM230.3 323.89h1.5v1.38h-1.5zM223.0 325.22h4.4v1.38h-4.4zM209.8 326.54h1.5v1.38h-1.5zM236.1 326.54h2.9v1.38h-2.9zM285.8 326.54h5.8v1.38h-5.8zM54.8 327.87h2.9v1.38h-2.9zM68.0 327.87h2.9v1.38h-2.9zM82.6 327.87h1.5v1.38h-1.5zM266.8 329.20h1.5v1.38h-1.5zM44.6 331.86h1.5v1.38h-1.5zM91.4 331.86h1.5v1.38h-1.5zM101.6 331.86h1.5v1.38h-1.5zM278.5 331.86h1.5v1.38h-1.5zM65.1 333.18h1.5v1.38h-1.5zM130.9 333.18h4.4v1.38h-4.4zM215.6 334.51h2.9v1.38h-2.9zM255.1 334.51h5.8v1.38h-5.8zM246.3 335.84h1.5v1.38h-1.5zM263.9 338.50h1.5v1.38h-1.5zM236.1 339.82h1.5v1.38h-1.5zM82.6 341.15h1.5v1.38h-1.5zM211.3 341.15h5.8v1.38h-5.8zM233.2 341.15h2.9v1.38h-2.9zM87.0 342.48h7.3v1.38h-7.3zM258.0 345.14h1.5v1.38h-1.5zM272.7 345.14h2.9v1.38h-2.9zM284.4 345.14h4.4v1.38h-4.4zM79.7 347.79h5.8v1.38h-5.8zM240.5 353.10h2.9v1.38h-2.9zM261.0 353.10h1.5v1.38h-1.5zM228.8 354.43h2.9v1.38h-2.9zM256.6 354.43h1.5v1.38h-1.5zM278.5 354.43h1.5v1.38h-1.5zM228.8 355.76h1.5v1.38h-1.5zM253.7 355.76h1.5v1.38h-1.5zM42.6 357.09h4.9v1.38h-4.9zM94.3 357.09h1.5v1.38h-1.5zM104.5 357.09h1.5v1.38h-1.5zM65.1 358.42h1.5v1.38h-1.5zM280.0 358.42h2.9v1.38h-2.9zM57.8 359.74h2.9v1.38h-2.9zM66.5 359.74h1.5v1.38h-1.5zM242.0 359.74h1.5v1.38h-1.5zM256.6 359.74h1.5v1.38h-1.5zM280.0 359.74h2.9v1.38h-2.9zM89.9 362.40h1.5v1.38h-1.5zM44.6 363.73h1.5v1.38h-1.5zM258.0 366.38h2.9v1.38h-2.9zM47.5 367.71h1.5v1.38h-1.5zM98.7 367.71h1.5v1.38h-1.5zM125.0 367.71h1.5v1.38h-1.5zM268.3 367.71h1.5v1.38h-1.5zM231.7 369.04h2.9v1.38h-2.9zM266.8 369.04h1.5v1.38h-1.5zM54.8 370.37h2.9v1.38h-2.9zM242.0 371.70h1.5v1.38h-1.5zM256.6 371.70h1.5v1.38h-1.5zM272.7 374.35h1.5v1.38h-1.5zM236.1 375.68h1.5v1.38h-1.5zM142.5 377.01h1.5v1.38h-1.5zM91.4 378.34h1.5v1.38h-1.5zM244.9 378.34h1.5v1.38h-1.5zM258.0 378.34h2.9v1.38h-2.9zM284.4 378.34h7.3v1.38h-7.3zM244.9 379.66h10.2v1.38h-10.2zM81.1 380.99h1.5v1.38h-1.5zM104.5 380.99h2.9v1.38h-2.9zM240.5 380.99h2.9v1.38h-2.9zM249.3 380.99h2.9v1.38h-2.9zM246.3 382.32h1.5v1.38h-1.5zM287.3 386.30h4.4v1.38h-4.4zM261.0 387.63h1.5v1.38h-1.5zM230.3 390.29h1.5v1.38h-1.5zM239.0 390.29h2.9v1.38h-2.9zM44.6 391.62h1.5v1.38h-1.5zM282.9 391.62h1.5v1.38h-1.5zM46.1 392.94h1.5v1.38h-1.5zM104.5 392.94h1.5v1.38h-1.5zM120.6 392.94h1.5v1.38h-1.5zM242.0 392.94h2.9v1.38h-2.9zM252.2 392.94h2.9v1.38h-2.9zM265.4 392.94h1.5v1.38h-1.5zM70.9 394.27h1.5v1.38h-1.5zM53.4 395.60h1.5v1.38h-1.5zM233.2 395.60h1.5v1.38h-1.5zM240.5 395.60h2.9v1.38h-2.9zM66.5 399.58h4.4v1.38h-4.4zM75.3 399.58h4.4v1.38h-4.4zM243.4 399.58h2.9v1.38h-2.9zM263.9 399.58h8.8v1.38h-8.8zM282.9 400.91h1.5v1.38h-1.5zM66.5 403.57h2.9v1.38h-2.9zM78.2 403.57h2.9v1.38h-2.9zM95.8 403.57h1.5v1.38h-1.5zM145.5 403.57h2.9v1.38h-2.9zM252.2 403.57h1.5v1.38h-1.5zM266.8 403.57h1.5v1.38h-1.5zM46.1 404.90h1.5v1.38h-1.5zM237.6 404.90h2.9v1.38h-2.9zM244.9 404.90h2.9v1.38h-2.9zM277.1 404.90h14.6v1.38h-14.6zM242.0 406.22h1.5v1.38h-1.5zM271.2 406.22h2.9v1.38h-2.9zM73.8 407.55h4.4v1.38h-4.4zM247.8 407.55h7.3v1.38h-7.3zM266.8 408.88h1.5v1.38h-1.5zM281.4 408.88h2.9v1.38h-2.9zM42.6 410.21h18.1v1.38h-18.1zM271.2 410.21h7.3v1.38h-7.3zM290.2 410.21h1.5v1.38h-1.5zM50.4 411.54h13.2v1.38h-13.2zM59.2 414.19h2.9v1.38h-2.9zM252.2 414.19h1.5v1.38h-1.5zM268.3 414.19h1.5v1.38h-1.5zM51.9 415.52h1.5v1.38h-1.5zM62.1 415.52h1.5v1.38h-1.5zM243.4 415.52h2.9v1.38h-2.9zM57.8 416.85h1.5v1.38h-1.5zM130.9 416.85h1.5v1.38h-1.5zM148.4 416.85h1.5v1.38h-1.5zM236.1 416.85h2.9v1.38h-2.9zM249.3 416.85h2.9v1.38h-2.9zM127.9 420.83h1.5v1.38h-1.5zM59.2 422.16h1.5v1.38h-1.5zM70.9 422.16h1.5v1.38h-1.5zM113.3 422.16h5.8v1.38h-5.8zM258.0 422.16h2.9v1.38h-2.9zM280.0 422.16h1.5v1.38h-1.5zM88.5 423.49h1.5v1.38h-1.5zM106.0 423.49h2.9v1.38h-2.9zM252.2 423.49h4.4v1.38h-4.4zM242.0 424.82h1.5v1.38h-1.5zM255.1 424.82h1.5v1.38h-1.5zM246.3 426.14h1.5v1.38h-1.5zM258.0 426.14h1.5v1.38h-1.5zM272.7 426.14h16.1v1.38h-16.1zM81.1 427.47h1.5v1.38h-1.5zM94.3 427.47h2.9v1.38h-2.9zM278.5 428.80h2.9v1.38h-2.9zM141.1 430.13h1.5v1.38h-1.5zM87.0 434.11h2.9v1.38h-2.9zM98.7 434.11h4.4v1.38h-4.4zM136.7 434.11h2.9v1.38h-2.9zM242.0 434.11h1.5v1.38h-1.5zM272.7 438.10h8.8v1.38h-8.8zM42.6 439.42h3.5v1.38h-3.5zM70.9 440.75h1.5v1.38h-1.5zM78.2 440.75h2.9v1.38h-2.9zM252.2 443.41h1.5v1.38h-1.5zM262.4 443.41h2.9v1.38h-2.9zM50.4 444.74h1.5v1.38h-1.5zM66.5 444.74h1.5v1.38h-1.5zM259.5 446.06h1.5v1.38h-1.5zM60.7 447.39h2.9v1.38h-2.9zM110.4 451.38h1.5v1.38h-1.5zM73.8 454.03h1.5v1.38h-1.5zM84.1 454.03h1.5v1.38h-1.5zM265.4 454.03h1.5v1.38h-1.5zM277.1 454.03h1.5v1.38h-1.5zM274.1 455.36h10.2v1.38h-10.2zM103.1 456.69h4.4v1.38h-4.4zM111.8 456.69h2.9v1.38h-2.9zM262.4 456.69h2.9v1.38h-2.9zM280.0 458.02h1.5v1.38h-1.5zM70.9 459.34h1.5v1.38h-1.5zM122.1 459.34h2.9v1.38h-2.9zM129.4 459.34h2.9v1.38h-2.9zM275.6 459.34h2.9v1.38h-2.9zM272.7 460.67h5.8v1.38h-5.8z"/>
<path fill="#f6b52d" d="M72.4 297.33h2.9v1.38h-2.9zM85.5 297.33h1.5v1.38h-1.5zM290.2 297.33h1.5v1.38h-1.5zM43.1 299.98h1.5v1.38h-1.5zM215.6 299.98h1.5v1.38h-1.5zM258.0 299.98h2.9v1.38h-2.9zM263.9 299.98h2.9v1.38h-2.9zM56.3 301.31h1.5v1.38h-1.5zM212.7 303.97h1.5v1.38h-1.5zM221.5 303.97h1.5v1.38h-1.5zM282.9 303.97h1.5v1.38h-1.5zM227.3 305.30h1.5v1.38h-1.5zM233.2 306.62h1.5v1.38h-1.5zM275.6 306.62h1.5v1.38h-1.5zM79.7 307.95h2.9v1.38h-2.9zM272.7 309.28h4.4v1.38h-4.4zM107.5 310.61h1.5v1.38h-1.5zM287.3 310.61h4.4v1.38h-4.4zM211.3 313.26h1.5v1.38h-1.5zM101.6 314.59h1.5v1.38h-1.5zM106.0 314.59h2.9v1.38h-2.9zM287.3 314.59h4.4v1.38h-4.4zM51.9 315.92h1.5v1.38h-1.5zM91.4 317.25h1.5v1.38h-1.5zM103.1 317.25h1.5v1.38h-1.5zM123.5 318.58h1.5v1.38h-1.5zM129.4 318.58h1.5v1.38h-1.5zM266.8 318.58h1.5v1.38h-1.5zM281.4 318.58h1.5v1.38h-1.5zM212.7 321.23h7.3v1.38h-7.3zM224.4 321.23h4.4v1.38h-4.4zM290.2 321.23h1.5v1.38h-1.5zM228.8 323.89h1.5v1.38h-1.5zM206.9 325.22h1.5v1.38h-1.5zM217.1 325.22h5.8v1.38h-5.8zM211.3 326.54h2.9v1.38h-2.9zM233.2 326.54h2.9v1.38h-2.9zM265.4 326.54h1.5v1.38h-1.5zM282.9 326.54h2.9v1.38h-2.9zM51.9 327.87h2.9v1.38h-2.9zM70.9 327.87h2.9v1.38h-2.9zM79.7 327.87h2.9v1.38h-2.9zM268.3 329.20h1.5v1.38h-1.5zM42.6 331.86h2.0v1.38h-2.0zM92.8 331.86h8.8v1.38h-8.8zM280.0 331.86h2.9v1.38h-2.9zM63.6 333.18h1.5v1.38h-1.5zM211.3 334.51h4.4v1.38h-4.4zM247.8 335.84h2.9v1.38h-2.9zM265.4 338.50h1.5v1.38h-1.5zM278.5 338.50h1.5v1.38h-1.5zM237.6 339.82h1.5v1.38h-1.5zM244.9 339.82h1.5v1.38h-1.5zM75.3 341.15h1.5v1.38h-1.5zM81.1 341.15h1.5v1.38h-1.5zM217.1 341.15h16.1v1.38h-16.1zM281.4 342.48h1.5v1.38h-1.5zM259.5 345.14h1.5v1.38h-1.5zM271.2 345.14h1.5v1.38h-1.5zM288.7 345.14h2.9v1.38h-2.9zM243.4 353.10h2.9v1.38h-2.9zM256.6 353.10h4.4v1.38h-4.4zM231.7 354.43h1.5v1.38h-1.5zM255.1 354.43h1.5v1.38h-1.5zM230.3 355.76h2.9v1.38h-2.9zM252.2 355.76h1.5v1.38h-1.5zM95.8 357.09h1.5v1.38h-1.5zM103.1 357.09h1.5v1.38h-1.5zM63.6 358.42h1.5v1.38h-1.5zM125.0 358.42h1.5v1.38h-1.5zM157.2 358.42h1.5v1.38h-1.5zM282.9 358.42h2.9v1.38h-2.9zM60.7 359.74h5.8v1.38h-5.8zM255.1 359.74h1.5v1.38h-1.5zM282.9 359.74h2.9v1.38h-2.9zM70.9 362.40h1.5v1.38h-1.5zM42.6 363.73h2.0v1.38h-2.0zM228.8 366.38h1.5v1.38h-1.5zM256.6 366.38h1.5v1.38h-1.5zM46.1 367.71h1.5v1.38h-1.5zM100.1 367.71h1.5v1.38h-1.5zM269.7 367.71h1.5v1.38h-1.5zM223.0 369.04h8.8v1.38h-8.8zM268.3 369.04h1.5v1.38h-1.5zM53.4 370.37h1.5v1.38h-1.5zM243.4 371.70h1.5v1.38h-1.5zM51.9 373.02h1.5v1.38h-1.5zM274.1 374.35h1.5v1.38h-1.5zM51.9 378.34h1.5v1.38h-1.5zM92.8 378.34h2.9v1.38h-2.9zM107.5 378.34h1.5v1.38h-1.5zM246.3 378.34h2.9v1.38h-2.9zM256.6 378.34h1.5v1.38h-1.5zM82.6 380.99h1.5v1.38h-1.5zM103.1 380.99h1.5v1.38h-1.5zM243.4 380.99h5.8v1.38h-5.8zM244.9 382.32h1.5v1.38h-1.5zM51.9 390.29h1.5v1.38h-1.5zM231.7 390.29h7.3v1.38h-7.3zM43.1 391.62h1.5v1.38h-1.5zM284.4 391.62h1.5v1.38h-1.5zM63.6 392.94h1.5v1.38h-1.5zM106.0 392.94h1.5v1.38h-1.5zM227.3 392.94h1.5v1.38h-1.5zM240.5 392.94h1.5v1.38h-1.5zM255.1 392.94h10.2v1.38h-10.2zM66.5 394.27h4.4v1.38h-4.4zM233.2 394.27h1.5v1.38h-1.5zM256.6 394.27h1.5v1.38h-1.5zM51.9 395.60h1.5v1.38h-1.5zM234.7 395.60h5.8v1.38h-5.8zM70.9 399.58h4.4v1.38h-4.4zM246.3 399.58h1.5v1.38h-1.5zM258.0 399.58h5.8v1.38h-5.8zM69.4 403.57h1.5v1.38h-1.5zM76.8 403.57h1.5v1.38h-1.5zM97.2 403.57h1.5v1.38h-1.5zM133.8 403.57h11.7v1.38h-11.7zM253.7 403.57h2.9v1.38h-2.9zM265.4 403.57h1.5v1.38h-1.5zM44.6 404.90h1.5v1.38h-1.5zM240.5 404.90h4.4v1.38h-4.4zM243.4 406.22h1.5v1.38h-1.5zM268.3 406.22h2.9v1.38h-2.9zM70.9 407.55h2.9v1.38h-2.9zM268.3 408.88h2.9v1.38h-2.9zM277.1 408.88h4.4v1.38h-4.4zM47.5 411.54h2.9v1.38h-2.9zM114.8 411.54h1.5v1.38h-1.5zM129.4 411.54h1.5v1.38h-1.5zM280.0 411.54h1.5v1.38h-1.5zM42.6 414.19h3.5v1.38h-3.5zM56.3 414.19h2.9v1.38h-2.9zM266.8 414.19h1.5v1.38h-1.5zM53.4 415.52h1.5v1.38h-1.5zM60.7 415.52h1.5v1.38h-1.5zM240.5 415.52h2.9v1.38h-2.9zM132.3 416.85h2.9v1.38h-2.9zM239.0 416.85h10.2v1.38h-10.2zM129.4 420.83h2.9v1.38h-2.9zM141.1 420.83h1.5v1.38h-1.5zM60.7 422.16h1.5v1.38h-1.5zM69.4 422.16h1.5v1.38h-1.5zM256.6 422.16h1.5v1.38h-1.5zM281.4 422.16h1.5v1.38h-1.5zM89.9 423.49h2.9v1.38h-2.9zM104.5 423.49h1.5v1.38h-1.5zM243.4 424.82h1.5v1.38h-1.5zM253.7 424.82h1.5v1.38h-1.5zM247.8 426.14h2.9v1.38h-2.9zM255.1 426.14h2.9v1.38h-2.9zM82.6 427.47h4.4v1.38h-4.4zM91.4 427.47h2.9v1.38h-2.9zM281.4 428.80h4.4v1.38h-4.4zM142.5 430.13h4.4v1.38h-4.4zM89.9 434.11h8.8v1.38h-8.8zM72.4 440.75h5.8v1.38h-5.8zM253.7 443.41h2.9v1.38h-2.9zM259.5 443.41h2.9v1.38h-2.9zM51.9 444.74h1.5v1.38h-1.5zM65.1 444.74h1.5v1.38h-1.5zM261.0 446.06h1.5v1.38h-1.5zM275.6 446.06h10.2v1.38h-10.2zM59.2 447.39h1.5v1.38h-1.5zM100.1 451.38h2.9v1.38h-2.9zM108.9 451.38h1.5v1.38h-1.5zM75.3 454.03h8.8v1.38h-8.8zM266.8 454.03h1.5v1.38h-1.5zM275.6 454.03h1.5v1.38h-1.5zM271.2 455.36h2.9v1.38h-2.9zM284.4 455.36h2.9v1.38h-2.9zM107.5 456.69h4.4v1.38h-4.4zM72.4 459.34h1.5v1.38h-1.5zM120.6 459.34h1.5v1.38h-1.5zM132.3 459.34h1.5v1.38h-1.5zM271.2 459.34h4.4v1.38h-4.4z"/>
<path fill="#f6cd2d" d="M75.3 297.33h2.9v1.38h-2.9zM82.6 297.33h2.9v1.38h-2.9zM42.6 299.98h0.5v1.38h-0.5zM199.6 299.98h1.5v1.38h-1.5zM214.2 299.98h1.5v1.38h-1.5zM261.0 299.98h2.9v1.38h-2.9zM78.2 301.31h1.5v1.38h-1.5zM214.2 303.97h1.5v1.38h-1.5zM218.6 303.97h2.9v1.38h-2.9zM228.8 305.30h1.5v1.38h-1.5zM242.0 305.30h1.5v1.38h-1.5zM234.7 306.62h1.5v1.38h-1.5zM256.6 306.62h1.5v1.38h-1.5zM277.1 306.62h2.9v1.38h-2.9zM242.0 309.28h1.5v1.38h-1.5zM269.7 309.28h2.9v1.38h-2.9zM277.1 309.28h4.4v1.38h-4.4zM82.6 310.61h1.5v1.38h-1.5zM205.4 313.26h5.8v1.38h-5.8zM103.1 314.59h2.9v1.38h-2.9zM50.4 315.92h1.5v1.38h-1.5zM92.8 317.25h1.5v1.38h-1.5zM100.1 317.25h2.9v1.38h-2.9zM69.4 318.58h1.5v1.38h-1.5zM88.5 318.58h1.5v1.38h-1.5zM125.0 318.58h4.4v1.38h-4.4zM268.3 318.58h2.9v1.38h-2.9zM280.0 318.58h1.5v1.38h-1.5zM244.9 319.90h1.5v1.38h-1.5zM220.0 321.23h4.4v1.38h-4.4zM209.8 323.89h1.5v1.38h-1.5zM208.3 325.22h8.8v1.38h-8.8zM214.2 326.54h2.9v1.38h-2.9zM230.3 326.54h2.9v1.38h-2.9zM266.8 326.54h1.5v1.38h-1.5zM281.4 326.54h1.5v1.38h-1.5zM50.4 327.87h1.5v1.38h-1.5zM73.8 327.87h5.8v1.38h-5.8zM269.7 329.20h1.5v1.38h-1.5zM282.9 331.86h4.4v1.38h-4.4zM62.1 333.18h1.5v1.38h-1.5zM250.7 335.84h1.5v1.38h-1.5zM266.8 338.50h1.5v1.38h-1.5zM277.1 338.50h1.5v1.38h-1.5zM239.0 339.82h5.8v1.38h-5.8zM76.8 341.15h4.4v1.38h-4.4zM261.0 345.14h10.2v1.38h-10.2zM246.3 353.10h10.2v1.38h-10.2zM233.2 354.43h2.9v1.38h-2.9zM253.7 354.43h1.5v1.38h-1.5zM280.0 354.43h1.5v1.38h-1.5zM233.2 355.76h2.9v1.38h-2.9zM250.7 355.76h1.5v1.38h-1.5zM97.2 357.09h2.9v1.38h-2.9zM101.6 357.09h1.5v1.38h-1.5zM50.4 358.42h1.5v1.38h-1.5zM60.7 358.42h2.9v1.38h-2.9zM285.8 358.42h5.8v1.38h-5.8zM243.4 359.74h1.5v1.38h-1.5zM253.7 359.74h1.5v1.38h-1.5zM285.8 359.74h5.8v1.38h-5.8zM230.3 366.38h1.5v1.38h-1.5zM255.1 366.38h1.5v1.38h-1.5zM43.1 367.71h2.9v1.38h-2.9zM101.6 367.71h1.5v1.38h-1.5zM123.5 367.71h1.5v1.38h-1.5zM271.2 367.71h1.5v1.38h-1.5zM269.7 369.04h1.5v1.38h-1.5zM51.9 370.37h1.5v1.38h-1.5zM244.9 371.70h1.5v1.38h-1.5zM255.1 371.70h1.5v1.38h-1.5zM50.4 373.02h1.5v1.38h-1.5zM275.6 374.35h1.5v1.38h-1.5zM288.7 374.35h2.9v1.38h-2.9zM223.0 375.68h1.5v1.38h-1.5zM234.7 375.68h1.5v1.38h-1.5zM98.7 377.01h1.5v1.38h-1.5zM127.9 377.01h2.9v1.38h-2.9zM95.8 378.34h1.5v1.38h-1.5zM106.0 378.34h1.5v1.38h-1.5zM249.3 378.34h7.3v1.38h-7.3zM84.1 380.99h1.5v1.38h-1.5zM101.6 380.99h1.5v1.38h-1.5zM223.0 382.32h1.5v1.38h-1.5zM262.4 387.63h1.5v1.38h-1.5zM42.6 391.62h0.5v1.38h-0.5zM285.8 391.62h2.9v1.38h-2.9zM47.5 392.94h1.5v1.38h-1.5zM119.2 392.94h1.5v1.38h-1.5zM228.8 392.94h1.5v1.38h-1.5zM237.6 392.94h2.9v1.38h-2.9zM54.8 394.27h11.7v1.38h-11.7zM255.1 394.27h1.5v1.38h-1.5zM50.4 395.60h1.5v1.38h-1.5zM247.8 399.58h10.2v1.38h-10.2zM284.4 400.91h1.5v1.38h-1.5zM70.9 403.57h5.8v1.38h-5.8zM129.4 403.57h4.4v1.38h-4.4zM256.6 403.57h8.8v1.38h-8.8zM42.6 404.90h2.0v1.38h-2.0zM265.4 406.22h2.9v1.38h-2.9zM68.0 407.55h2.9v1.38h-2.9zM271.2 408.88h5.8v1.38h-5.8zM43.1 411.54h4.4v1.38h-4.4zM281.4 411.54h1.5v1.38h-1.5zM46.1 414.19h10.2v1.38h-10.2zM253.7 414.19h1.5v1.38h-1.5zM263.9 414.19h2.9v1.38h-2.9zM54.8 415.52h5.8v1.38h-5.8zM236.1 415.52h4.4v1.38h-4.4zM42.6 416.85h0.5v1.38h-0.5zM56.3 416.85h1.5v1.38h-1.5zM135.2 416.85h4.4v1.38h-4.4zM132.3 420.83h1.5v1.38h-1.5zM62.1 422.16h7.3v1.38h-7.3zM253.7 422.16h2.9v1.38h-2.9zM282.9 422.16h2.9v1.38h-2.9zM92.8 423.49h1.5v1.38h-1.5zM100.1 423.49h4.4v1.38h-4.4zM244.9 424.82h2.9v1.38h-2.9zM250.7 424.82h2.9v1.38h-2.9zM250.7 426.14h4.4v1.38h-4.4zM87.0 427.47h4.4v1.38h-4.4zM285.8 428.80h5.8v1.38h-5.8zM256.6 443.41h2.9v1.38h-2.9zM53.4 444.74h2.9v1.38h-2.9zM63.6 444.74h1.5v1.38h-1.5zM262.4 446.06h13.2v1.38h-13.2zM285.8 446.06h5.8v1.38h-5.8zM56.3 447.39h2.9v1.38h-2.9zM103.1 451.38h5.8v1.38h-5.8zM268.3 454.03h7.3v1.38h-7.3zM262.4 455.36h8.8v1.38h-8.8zM287.3 455.36h4.4v1.38h-4.4zM281.4 458.02h1.5v1.38h-1.5zM95.8 459.34h7.3v1.38h-7.3zM119.2 459.34h1.5v1.38h-1.5zM133.8 459.34h1.5v1.38h-1.5zM145.5 459.34h1.5v1.38h-1.5z"/>
<path fill="#f3de36" d="M78.2 297.33h4.4v1.38h-4.4zM211.3 299.98h2.9v1.38h-2.9zM57.8 301.31h1.5v1.38h-1.5zM215.6 303.97h2.9v1.38h-2.9zM284.4 303.97h1.5v1.38h-1.5zM230.3 305.30h1.5v1.38h-1.5zM240.5 305.30h1.5v1.38h-1.5zM255.1 306.62h1.5v1.38h-1.5zM280.0 306.62h2.9v1.38h-2.9zM243.4 309.28h1.5v1.38h-1.5zM266.8 309.28h2.9v1.38h-2.9zM281.4 309.28h2.9v1.38h-2.9zM84.1 310.61h1.5v1.38h-1.5zM106.0 310.61h1.5v1.38h-1.5zM49.0 315.92h1.5v1.38h-1.5zM94.3 317.25h5.8v1.38h-5.8zM70.9 318.58h1.5v1.38h-1.5zM87.0 318.58h1.5v1.38h-1.5zM271.2 318.58h1.5v1.38h-1.5zM278.5 318.58h1.5v1.38h-1.5zM227.3 323.89h1.5v1.38h-1.5zM217.1 326.54h13.2v1.38h-13.2zM268.3 326.54h2.9v1.38h-2.9zM278.5 326.54h2.9v1.38h-2.9zM47.5 327.87h2.9v1.38h-2.9zM271.2 329.20h1.5v1.38h-1.5zM287.3 331.86h4.4v1.38h-4.4zM252.2 335.84h2.9v1.38h-2.9zM275.6 338.50h1.5v1.38h-1.5zM282.9 342.48h1.5v1.38h-1.5zM236.1 354.43h1.5v1.38h-1.5zM252.2 354.43h1.5v1.38h-1.5zM281.4 354.43h1.5v1.38h-1.5zM236.1 355.76h2.9v1.38h-2.9zM247.8 355.76h2.9v1.38h-2.9zM100.1 357.09h1.5v1.38h-1.5zM42.6 358.42h7.8v1.38h-7.8zM51.9 358.42h8.8v1.38h-8.8zM126.5 358.42h1.5v1.38h-1.5zM244.9 359.74h2.9v1.38h-2.9zM252.2 359.74h1.5v1.38h-1.5zM231.7 366.38h1.5v1.38h-1.5zM252.2 366.38h2.9v1.38h-2.9zM42.6 367.71h0.5v1.38h-0.5zM272.7 367.71h1.5v1.38h-1.5zM271.2 369.04h2.9v1.38h-2.9zM288.7 369.04h2.9v1.38h-2.9zM49.0 370.37h2.9v1.38h-2.9zM246.3 371.70h2.9v1.38h-2.9zM252.2 371.70h2.9v1.38h-2.9zM277.1 374.35h11.7v1.38h-11.7zM233.2 375.68h1.5v1.38h-1.5zM126.5 377.01h1.5v1.38h-1.5zM130.9 377.01h2.9v1.38h-2.9zM141.1 377.01h1.5v1.38h-1.5zM97.2 378.34h8.8v1.38h-8.8zM85.5 380.99h1.5v1.38h-1.5zM100.1 380.99h1.5v1.38h-1.5zM243.4 382.32h1.5v1.38h-1.5zM263.9 387.63h1.5v1.38h-1.5zM50.4 390.29h1.5v1.38h-1.5zM288.7 391.62h2.9v1.38h-2.9zM107.5 392.94h1.5v1.38h-1.5zM230.3 392.94h7.3v1.38h-7.3zM49.0 394.27h5.8v1.38h-5.8zM234.7 394.27h1.5v1.38h-1.5zM253.7 394.27h1.5v1.38h-1.5zM49.0 395.60h1.5v1.38h-1.5zM98.7 403.57h1.5v1.38h-1.5zM126.5 403.57h2.9v1.38h-2.9zM244.9 406.22h1.5v1.38h-1.5zM263.9 406.22h1.5v1.38h-1.5zM42.6 407.55h25.4v1.38h-25.4zM42.6 411.54h0.5v1.38h-0.5zM116.2 411.54h1.5v1.38h-1.5zM282.9 411.54h1.5v1.38h-1.5zM255.1 414.19h1.5v1.38h-1.5zM262.4 414.19h1.5v1.38h-1.5zM43.1 416.85h7.3v1.38h-7.3zM51.9 416.85h4.4v1.38h-4.4zM139.6 416.85h8.8v1.38h-8.8zM133.8 420.83h1.5v1.38h-1.5zM233.2 422.16h1.5v1.38h-1.5zM252.2 422.16h1.5v1.38h-1.5zM285.8 422.16h1.5v1.38h-1.5zM94.3 423.49h5.8v1.38h-5.8zM247.8 424.82h2.9v1.38h-2.9zM56.3 444.74h7.3v1.38h-7.3zM53.4 447.39h2.9v1.38h-2.9zM73.8 459.34h1.5v1.38h-1.5zM94.3 459.34h1.5v1.38h-1.5zM103.1 459.34h2.9v1.38h-2.9zM116.2 459.34h2.9v1.38h-2.9zM135.2 459.34h1.5v1.38h-1.5z"/>
<path fill="#f0ee3e" d="M201.0 299.98h10.2v1.38h-10.2zM59.2 301.31h19.0v1.38h-19.0zM285.8 303.97h5.8v1.38h-5.8zM231.7 305.30h8.8v1.38h-8.8zM236.1 306.62h19.0v1.38h-19.0zM282.9 306.62h8.8v1.38h-8.8zM244.9 309.28h21.9v1.38h-21.9zM284.4 309.28h7.3v1.38h-7.3zM85.5 310.61h20.5v1.38h-20.5zM42.6 315.92h6.4v1.38h-6.4zM72.4 318.58h14.6v1.38h-14.6zM272.7 318.58h5.8v1.38h-5.8zM206.9 319.90h38.0v1.38h-38.0zM211.3 323.89h16.1v1.38h-16.1zM271.2 326.54h7.3v1.38h-7.3zM42.6 327.87h4.9v1.38h-4.9zM272.7 329.20h19.0v1.38h-19.0zM42.6 333.18h19.5v1.38h-19.5zM255.1 335.84h36.5v1.38h-36.5zM268.3 338.50h7.3v1.38h-7.3zM284.4 342.48h7.3v1.38h-7.3zM237.6 354.43h14.6v1.38h-14.6zM282.9 354.43h8.8v1.38h-8.8zM239.0 355.76h8.8v1.38h-8.8zM127.9 358.42h29.2v1.38h-29.2zM247.8 359.74h4.4v1.38h-4.4zM72.4 362.40h17.5v1.38h-17.5zM233.2 366.38h19.0v1.38h-19.0zM103.1 367.71h20.5v1.38h-20.5zM274.1 367.71h17.5v1.38h-17.5zM274.1 369.04h14.6v1.38h-14.6zM42.6 370.37h6.4v1.38h-6.4zM249.3 371.70h2.9v1.38h-2.9zM42.6 373.02h7.8v1.38h-7.8zM224.4 375.68h8.8v1.38h-8.8zM100.1 377.01h26.3v1.38h-26.3zM133.8 377.01h7.3v1.38h-7.3zM42.6 378.34h9.3v1.38h-9.3zM87.0 380.99h13.2v1.38h-13.2zM224.4 382.32h19.0v1.38h-19.0zM265.4 387.63h26.3v1.38h-26.3zM42.6 390.29h7.8v1.38h-7.8zM49.0 392.94h14.6v1.38h-14.6zM108.9 392.94h10.2v1.38h-10.2zM42.6 394.27h6.4v1.38h-6.4zM236.1 394.27h17.5v1.38h-17.5zM42.6 395.60h6.4v1.38h-6.4zM285.8 400.91h5.8v1.38h-5.8zM100.1 403.57h26.3v1.38h-26.3zM246.3 406.22h17.5v1.38h-17.5zM117.7 411.54h11.7v1.38h-11.7zM284.4 411.54h7.3v1.38h-7.3zM256.6 414.19h5.8v1.38h-5.8zM50.4 416.85h1.5v1.38h-1.5zM135.2 420.83h5.8v1.38h-5.8zM234.7 422.16h17.5v1.38h-17.5zM287.3 422.16h4.4v1.38h-4.4zM42.6 447.39h10.8v1.38h-10.8zM282.9 458.02h8.8v1.38h-8.8zM75.3 459.34h19.0v1.38h-19.0zM106.0 459.34h10.2v1.38h-10.2zM136.7 459.34h8.8v1.38h-8.8z"/>
</g>
<line x1="189.1" y1="297" x2="189.1" y2="462" stroke="#fff" stroke-width="1.5" stroke-dasharray="5,3"/>
<path d="M197,428.8 H228" stroke="#fff" stroke-width="1.4"/>
<path d="M193.2,428.8 L202,424.8 L200.5,428.8 L202,432.8 Z M231.6,428.8 L222.8,424.8 L224.3,428.8 L222.8,432.8 Z" fill="#fff"/>
<text x="220.5" y="443.5" font-size="13" fill="#fff" stroke="#fff" stroke-width="0.25" text-anchor="middle" textLength="52.6" lengthAdjust="spacingAndGlyphs" >response</text>
<text x="220.7" y="457.6" font-size="13" fill="#fff" stroke="#fff" stroke-width="0.25" text-anchor="middle" textLength="24.8" lengthAdjust="spacingAndGlyphs" >time</text>
<path d="M42.3,296 V462.3 H291.7" fill="none" stroke="#4d4d4f" stroke-width="1"/>
<path d="M71.6,462 v-3 M100.9,462 v-3 M130.1,462 v-3 M159.4,462 v-3 M188.6,462 v-3 M217.8,462 v-3 M247.1,462 v-3 M276.3,462 v-3 M42.3,437.8 h3 M42.3,411.2 h3 M42.3,384.6 h3 M42.3,358.1 h3 M42.3,331.5 h3 M42.3,304.9 h3 " stroke="#4d4d4f" stroke-width="0.9"/>
<text x="26.8" y="442.4" font-size="14.5" fill="#4d4d4f" stroke="#4d4d4f" stroke-width="0.25" text-anchor="middle" textLength="16.6" lengthAdjust="spacingAndGlyphs" >20</text>
<text x="26.8" y="415.8" font-size="14.5" fill="#4d4d4f" stroke="#4d4d4f" stroke-width="0.25" text-anchor="middle" textLength="16.6" lengthAdjust="spacingAndGlyphs" >40</text>
<text x="26.8" y="389.1" font-size="14.5" fill="#4d4d4f" stroke="#4d4d4f" stroke-width="0.25" text-anchor="middle" textLength="16.6" lengthAdjust="spacingAndGlyphs" >60</text>
<text x="26.8" y="362.5" font-size="14.5" fill="#4d4d4f" stroke="#4d4d4f" stroke-width="0.25" text-anchor="middle" textLength="16.6" lengthAdjust="spacingAndGlyphs" >80</text>
<text x="26.8" y="335.8" font-size="14.5" fill="#4d4d4f" stroke="#4d4d4f" stroke-width="0.25" text-anchor="middle" textLength="26" lengthAdjust="spacingAndGlyphs" >100</text>
<text x="26.8" y="309.2" font-size="14.5" fill="#4d4d4f" stroke="#4d4d4f" stroke-width="0.25" text-anchor="middle" textLength="26" lengthAdjust="spacingAndGlyphs" >120</text>
<text x="42.4" y="475.9" font-size="13.6" fill="#4d4d4f" stroke="#4d4d4f" stroke-width="0.25" text-anchor="middle" textLength="22.5" lengthAdjust="spacingAndGlyphs" >-10</text>
<text x="71.6" y="475.9" font-size="13.6" fill="#4d4d4f" stroke="#4d4d4f" stroke-width="0.25" text-anchor="middle" textLength="14.0" lengthAdjust="spacingAndGlyphs" >-8</text>
<text x="100.9" y="475.9" font-size="13.6" fill="#4d4d4f" stroke="#4d4d4f" stroke-width="0.25" text-anchor="middle" textLength="14.0" lengthAdjust="spacingAndGlyphs" >-6</text>
<text x="130.1" y="475.9" font-size="13.6" fill="#4d4d4f" stroke="#4d4d4f" stroke-width="0.25" text-anchor="middle" textLength="14.0" lengthAdjust="spacingAndGlyphs" >-4</text>
<text x="159.4" y="475.9" font-size="13.6" fill="#4d4d4f" stroke="#4d4d4f" stroke-width="0.25" text-anchor="middle" textLength="14.0" lengthAdjust="spacingAndGlyphs" >-2</text>
<text x="188.6" y="475.9" font-size="13.6" fill="#4d4d4f" stroke="#4d4d4f" stroke-width="0.25" text-anchor="middle" textLength="8.5" lengthAdjust="spacingAndGlyphs" >0</text>
<text x="217.8" y="475.9" font-size="13.6" fill="#4d4d4f" stroke="#4d4d4f" stroke-width="0.25" text-anchor="middle" textLength="8.5" lengthAdjust="spacingAndGlyphs" >2</text>
<text x="247.1" y="475.9" font-size="13.6" fill="#4d4d4f" stroke="#4d4d4f" stroke-width="0.25" text-anchor="middle" textLength="8.5" lengthAdjust="spacingAndGlyphs" >4</text>
<text x="276.3" y="475.9" font-size="13.6" fill="#4d4d4f" stroke="#4d4d4f" stroke-width="0.25" text-anchor="middle" textLength="8.5" lengthAdjust="spacingAndGlyphs" >6</text>
<text x="50.4" y="488.6" font-size="13.5" fill="#4d4d4f" stroke="#4d4d4f" stroke-width="0.25" textLength="233.2" lengthAdjust="spacingAndGlyphs" >time relative to perturbation (min)</text>
<text transform="translate(10.5,380.3) rotate(-90)" font-size="13.5" fill="#231f20" stroke="#231f20" stroke-width="0.25" text-anchor="middle" textLength="89" lengthAdjust="spacingAndGlyphs" >trace number</text>
<defs><linearGradient id="cbg" x1="0" y1="0" x2="0" y2="1"><stop offset="0.0000" stop-color="rgb(240, 238, 62)"/><stop offset="0.1111" stop-color="rgb(246, 205, 45)"/><stop offset="0.1911" stop-color="rgb(246, 170, 45)"/><stop offset="0.1956" stop-color="rgb(246, 165, 48)"/><stop offset="0.2444" stop-color="rgb(244, 140, 60)"/><stop offset="0.3333" stop-color="rgb(232, 105, 84)"/><stop offset="0.4444" stop-color="rgb(205, 68, 118)"/><stop offset="0.5556" stop-color="rgb(170, 45, 140)"/><stop offset="0.6667" stop-color="rgb(135, 34, 152)"/><stop offset="0.7778" stop-color="rgb(98, 34, 156)"/><stop offset="0.8889" stop-color="rgb(62, 42, 150)"/><stop offset="1.0000" stop-color="rgb(46, 49, 146)"/></linearGradient></defs>
<rect x="295" y="296.7" width="9.3" height="165.3" fill="url(#cbg)" stroke="#6d6e71" stroke-width="0.8"/>
<line x1="295" y1="328.3" x2="304.3" y2="328.3" stroke="#8a6d4a" stroke-width="0.8"/>
<text x="306.6" y="466.7" font-size="13.5" fill="#4d4d4f" stroke="#4d4d4f" stroke-width="0.25" >0</text>
<text x="306.6" y="430.0" font-size="13.5" fill="#4d4d4f" stroke="#4d4d4f" stroke-width="0.25" >1</text>
<text x="306.6" y="393.3" font-size="13.5" fill="#4d4d4f" stroke="#4d4d4f" stroke-width="0.25" >2</text>
<text x="306.6" y="356.6" font-size="13.5" fill="#4d4d4f" stroke="#4d4d4f" stroke-width="0.25" >3</text>
<text x="306.6" y="319.9" font-size="13.5" fill="#4d4d4f" stroke="#4d4d4f" stroke-width="0.25" >4</text>
<text transform="translate(323.3,386.5) rotate(90)" font-size="13.5" fill="#231f20" stroke="#231f20" stroke-width="0.25" text-anchor="middle" textLength="151" lengthAdjust="spacingAndGlyphs" >spot fluorescence (AU)</text>
<text x="1.0" y="504.9" font-size="18" fill="#231f20" font-weight="bold" textLength="13.6" lengthAdjust="spacingAndGlyphs" >D</text>
<rect x="41.8" y="498.3" width="146.4" height="19.9" fill="#e6e7e8"/>
<rect x="188.2" y="498.3" width="103.5" height="19.9" fill="#7b93c9"/>
<text x="84.4" y="512.9" font-size="14" fill="#231f20" stroke="#231f20" stroke-width="0.25" textLength="60.8" lengthAdjust="spacingAndGlyphs" >light OFF</text>
<text x="211.0" y="512.9" font-size="14" fill="#fff" stroke="#fff" stroke-width="0.25" textLength="57.8" lengthAdjust="spacingAndGlyphs" >light ON</text>
<path d="M42.5,532.3 V697.8" stroke="#78b572" stroke-width="1.2"/>
<path d="M290.4,532.3 V697.8" stroke="#d6559b" stroke-width="1.2"/>
<path d="M42,697.8 H290.9" stroke="#6d6e71" stroke-width="1.2"/>
<path d="M71.8,697.8 v-3 M100.9,697.8 v-3 M130.1,697.8 v-3 M159.2,697.8 v-3 M188.3,697.8 v-3 M217.4,697.8 v-3 M246.5,697.8 v-3 M275.7,697.8 v-3 " stroke="#6d6e71" stroke-width="0.9"/>
<text x="38.6" y="695.5" font-size="13.6" fill="#78b572" stroke="#78b572" stroke-width="0.25" text-anchor="end" textLength="8" lengthAdjust="spacingAndGlyphs" >4</text>
<text x="38.6" y="663.9" font-size="13.6" fill="#78b572" stroke="#78b572" stroke-width="0.25" text-anchor="end" textLength="8" lengthAdjust="spacingAndGlyphs" >5</text>
<text x="38.6" y="632.2" font-size="13.6" fill="#78b572" stroke="#78b572" stroke-width="0.25" text-anchor="end" textLength="8" lengthAdjust="spacingAndGlyphs" >6</text>
<text x="38.6" y="600.6" font-size="13.6" fill="#78b572" stroke="#78b572" stroke-width="0.25" text-anchor="end" textLength="8" lengthAdjust="spacingAndGlyphs" >7</text>
<text x="38.6" y="568.9" font-size="13.6" fill="#78b572" stroke="#78b572" stroke-width="0.25" text-anchor="end" textLength="8" lengthAdjust="spacingAndGlyphs" >8</text>
<text x="38.6" y="537.3" font-size="13.6" fill="#78b572" stroke="#78b572" stroke-width="0.25" text-anchor="end" textLength="8" lengthAdjust="spacingAndGlyphs" >9</text>
<path d="M42.5,690.6 h3 M42.5,659.0 h3 M42.5,627.3 h3 M42.5,595.7 h3 M42.5,564.0 h3 M42.5,532.4 h3 " stroke="#78b572" stroke-width="0.9"/>
<text x="294.2" y="702.1" font-size="13.6" fill="#d6559b" stroke="#d6559b" stroke-width="0.25" textLength="8" lengthAdjust="spacingAndGlyphs" >0</text>
<text x="294.2" y="683.8" font-size="13.6" fill="#d6559b" stroke="#d6559b" stroke-width="0.25" textLength="21.6" lengthAdjust="spacingAndGlyphs" >0.1</text>
<text x="294.2" y="665.5" font-size="13.6" fill="#d6559b" stroke="#d6559b" stroke-width="0.25" textLength="21.6" lengthAdjust="spacingAndGlyphs" >0.2</text>
<text x="294.2" y="647.1" font-size="13.6" fill="#d6559b" stroke="#d6559b" stroke-width="0.25" textLength="21.6" lengthAdjust="spacingAndGlyphs" >0.3</text>
<text x="294.2" y="628.8" font-size="13.6" fill="#d6559b" stroke="#d6559b" stroke-width="0.25" textLength="21.6" lengthAdjust="spacingAndGlyphs" >0.4</text>
<text x="294.2" y="610.5" font-size="13.6" fill="#d6559b" stroke="#d6559b" stroke-width="0.25" textLength="21.6" lengthAdjust="spacingAndGlyphs" >0.5</text>
<text x="294.2" y="592.2" font-size="13.6" fill="#d6559b" stroke="#d6559b" stroke-width="0.25" textLength="21.6" lengthAdjust="spacingAndGlyphs" >0.6</text>
<text x="294.2" y="573.9" font-size="13.6" fill="#d6559b" stroke="#d6559b" stroke-width="0.25" textLength="21.6" lengthAdjust="spacingAndGlyphs" >0.7</text>
<text x="294.2" y="555.5" font-size="13.6" fill="#d6559b" stroke="#d6559b" stroke-width="0.25" textLength="21.6" lengthAdjust="spacingAndGlyphs" >0.8</text>
<text x="294.2" y="537.2" font-size="13.6" fill="#d6559b" stroke="#d6559b" stroke-width="0.25" textLength="21.6" lengthAdjust="spacingAndGlyphs" >0.9</text>
<path d="M290.4,697.2 h-3 M290.4,678.9 h-3 M290.4,660.6 h-3 M290.4,642.2 h-3 M290.4,623.9 h-3 M290.4,605.6 h-3 M290.4,587.3 h-3 M290.4,569.0 h-3 M290.4,550.6 h-3 M290.4,532.3 h-3 " stroke="#d6559b" stroke-width="0.9"/>
<text x="42.7" y="712.1" font-size="13.6" fill="#4d4d4f" stroke="#4d4d4f" stroke-width="0.25" text-anchor="middle" textLength="22.5" lengthAdjust="spacingAndGlyphs" >-10</text>
<text x="71.8" y="712.1" font-size="13.6" fill="#4d4d4f" stroke="#4d4d4f" stroke-width="0.25" text-anchor="middle" textLength="14.0" lengthAdjust="spacingAndGlyphs" >-8</text>
<text x="100.9" y="712.1" font-size="13.6" fill="#4d4d4f" stroke="#4d4d4f" stroke-width="0.25" text-anchor="middle" textLength="14.0" lengthAdjust="spacingAndGlyphs" >-6</text>
<text x="130.1" y="712.1" font-size="13.6" fill="#4d4d4f" stroke="#4d4d4f" stroke-width="0.25" text-anchor="middle" textLength="14.0" lengthAdjust="spacingAndGlyphs" >-4</text>
<text x="159.2" y="712.1" font-size="13.6" fill="#4d4d4f" stroke="#4d4d4f" stroke-width="0.25" text-anchor="middle" textLength="14.0" lengthAdjust="spacingAndGlyphs" >-2</text>
<text x="188.3" y="712.1" font-size="13.6" fill="#4d4d4f" stroke="#4d4d4f" stroke-width="0.25" text-anchor="middle" textLength="8.5" lengthAdjust="spacingAndGlyphs" >0</text>
<text x="217.4" y="712.1" font-size="13.6" fill="#4d4d4f" stroke="#4d4d4f" stroke-width="0.25" text-anchor="middle" textLength="8.5" lengthAdjust="spacingAndGlyphs" >2</text>
<text x="246.5" y="712.1" font-size="13.6" fill="#4d4d4f" stroke="#4d4d4f" stroke-width="0.25" text-anchor="middle" textLength="8.5" lengthAdjust="spacingAndGlyphs" >4</text>
<text x="275.7" y="712.1" font-size="13.6" fill="#4d4d4f" stroke="#4d4d4f" stroke-width="0.25" text-anchor="middle" textLength="8.5" lengthAdjust="spacingAndGlyphs" >6</text>
<text x="50.0" y="725.2" font-size="13.5" fill="#4d4d4f" stroke="#4d4d4f" stroke-width="0.25" textLength="233.2" lengthAdjust="spacingAndGlyphs" >time relative to perturbation (min)</text>
<text transform="translate(21.3,614.9) rotate(-90)" font-size="13.5" fill="#78b572" stroke="#78b572" stroke-width="0.25" text-anchor="middle" textLength="83.3" lengthAdjust="spacingAndGlyphs" >[Knirps] (au)</text>
<text transform="translate(323.2,614.5) rotate(90)" font-size="13.5" fill="#d6559b" stroke="#d6559b" stroke-width="0.25" text-anchor="middle" textLength="137" lengthAdjust="spacingAndGlyphs" >fraction of nuclei on</text>
<path d="M188.5,534.3 V697.8 M247,534.3 V697.8" stroke="#4d4d4f" stroke-width="1.2" stroke-dasharray="4.5,3"/>
<path d="M196,538.7 H240" stroke="#231f20" stroke-width="1.8"/>
<path d="M188.8,538.7 L198.7,533.2 L198.7,544.2 Z M247.2,538.7 L237.2,533.2 L237.2,544.2 Z" fill="#3a3a3a"/>
<text x="197.5" y="531.9" font-size="13" fill="#231f20" stroke="#231f20" stroke-width="0.25" textLength="36.8" lengthAdjust="spacingAndGlyphs" >4 min</text>
<defs><clipPath id="dclip"><rect x="42.5" y="525" width="250" height="173"/></clipPath></defs><g clip-path="url(#dclip)">
<path d="M42,662.6 V667.8 M49.4,651.7 V657.5 M57.3,639.8 V647.2 M65,640.6 V647.4 M72.6,629.3 V634.5 M80.5,627.8 V634.0 M88.4,614.6 V621.0 M96.3,618.8 V624.2 M103.7,603.1 V610.3 M111.4,598.8 V604.2 M119,591.7 V597.9 M126.9,586.8 V593.4 M134.6,580.6 V586.8 M142.2,572.9 V579.7 M149.9,568.7 V575.9 M157.8,561.3 V569.1 M165.4,559.3 V565.1 M173.1,549.8 V556.8 M181,548.6 V555.6 M188.5,606.7 V612.5 M196,658.7 V663.7 M204,668.6 V676.6 M211.6,674.4 V680.2 M219.5,679.0 V685.0 M226.9,677.2 V684.8 M234.8,679.1 V685.9 M242.5,680.0 V686.4 M250.4,679.0 V686.4 M258,679.7 V684.7 M265.7,678.6 V685.8 M273.3,677.9 V684.1 M281,678.9 V684.1 M288.6,677.0 V684.0 M42,561.1 V572.7 M49.4,559.1 V566.3 M57.3,572.6 V582.4 M65,566.0 V573.8 M72.6,576.3 V586.7 M80.5,574.8 V585.2 M88.4,570.6 V578.0 M96.3,586.8 V597.8 M103.7,591.5 V601.5 M111.4,611.5 V621.5 M119,608.8 V619.8 M126.9,623.6 V632.2 M134.6,623.6 V634.2 M142.2,627.2 V638.4 M149.9,651.5 V658.1 M157.8,651.0 V662.0 M165.4,664.2 V672.6 M173.1,662.5 V671.3 M181,669.9 V676.7 M188.5,663.8 V674.0 M196,671.1 V678.9 M204,664.0 V675.2 M211.6,644.1 V651.7 M219.5,594.8 V604.2 M226.9,571.6 V580.0 M234.8,554.7 V564.3 M242.5,542.8 V550.0 M250.4,545.4 V552.4 M258,546.4 V556.8 M265.7,548.5 V559.1 M273.3,543.2 V552.6 M281,555.4 V567.0 M288.6,553.9 V561.1 " stroke="#a7a9ac" stroke-width="0.8"/>
<path d="M42,665.2 L49.4,654.6 L57.3,643.5 L65,644 L72.6,631.9 L80.5,630.9 L88.4,617.8 L96.3,621.5 L103.7,606.7 L111.4,601.5 L119,594.8 L126.9,590.1 L134.6,583.7 L142.2,576.3 L149.9,572.3 L157.8,565.2 L165.4,562.2 L173.1,553.3 L181,552.1 L188.5,609.6 L196,661.2 L204,672.6 L211.6,677.3 L219.5,682 L226.9,681 L234.8,682.5 L242.5,683.2 L250.4,682.7 L258,682.2 L265.7,682.2 L273.3,681 L281,681.5 L288.6,680.5" fill="none" stroke="#231f20" stroke-width="1.3"/>
<path d="M40.0,565.7 C41.6,566.2 47.0,568.1 49.9,568.9 C52.8,569.7 54.8,569.8 57.3,570.6 C59.8,571.4 62.2,572.8 64.7,573.8 C67.2,574.8 69.6,576.1 72.1,576.8 C74.6,577.5 77.0,577.2 79.5,577.8 C82.0,578.4 84.4,579.2 86.9,580.5 C89.4,581.8 91.8,583.1 94.3,585.4 C96.8,587.7 99.2,591.0 101.7,594.1 C104.2,597.2 106.6,600.6 109.1,603.9 C111.6,607.2 114.0,610.9 116.5,613.8 C119.0,616.7 121.5,619.4 124.0,621.2 C126.5,623.1 128.9,623.2 131.4,624.9 C133.9,626.5 136.3,628.4 138.8,631.1 C141.3,633.8 143.7,637.3 146.2,641.0 C148.7,644.7 151.1,649.8 153.6,653.3 C156.1,656.8 158.5,659.7 161.0,662.0 C163.5,664.3 165.5,665.5 168.4,666.9 C171.3,668.2 175.0,669.2 178.3,670.1 C181.6,671.0 185.4,672.2 188.3,672.5 C191.2,672.8 193.7,672.6 196.0,671.9 C198.3,671.2 200.5,670.4 202.2,668.1 C203.8,665.8 204.4,663.2 205.9,658.3 C207.4,653.4 209.1,645.9 210.9,638.5 C212.8,631.1 215.2,621.2 217.0,613.8 C218.8,606.4 220.3,600.7 222.0,594.1 C223.7,587.5 225.2,579.6 226.9,574.3 C228.6,568.9 229.8,565.7 231.9,562.0 C234.0,558.3 236.8,554.2 239.3,552.1 C241.8,550.0 244.2,549.4 246.7,549.1 C249.1,548.8 251.1,549.6 254.0,550.1 C256.9,550.6 260.7,551.4 264.0,552.1 C267.3,552.9 270.9,554.0 273.8,554.6 C276.7,555.2 278.5,555.3 281.2,555.8 C283.9,556.3 288.5,557.5 290.0,557.8" fill="none" stroke="#d9489a" stroke-width="2"/>
<g fill="#74ad6c" stroke="#34402f" stroke-width="0.6"><circle cx="42" cy="665.2" r="2.7"/><circle cx="49.4" cy="654.6" r="2.7"/><circle cx="57.3" cy="643.5" r="2.7"/><circle cx="65" cy="644" r="2.7"/><circle cx="72.6" cy="631.9" r="2.7"/><circle cx="80.5" cy="630.9" r="2.7"/><circle cx="88.4" cy="617.8" r="2.7"/><circle cx="96.3" cy="621.5" r="2.7"/><circle cx="103.7" cy="606.7" r="2.7"/><circle cx="111.4" cy="601.5" r="2.7"/><circle cx="119" cy="594.8" r="2.7"/><circle cx="126.9" cy="590.1" r="2.7"/><circle cx="134.6" cy="583.7" r="2.7"/><circle cx="142.2" cy="576.3" r="2.7"/><circle cx="149.9" cy="572.3" r="2.7"/><circle cx="157.8" cy="565.2" r="2.7"/><circle cx="165.4" cy="562.2" r="2.7"/><circle cx="173.1" cy="553.3" r="2.7"/><circle cx="181" cy="552.1" r="2.7"/><circle cx="188.5" cy="609.6" r="2.7"/><circle cx="196" cy="661.2" r="2.7"/><circle cx="204" cy="672.6" r="2.7"/><circle cx="211.6" cy="677.3" r="2.7"/><circle cx="219.5" cy="682" r="2.7"/><circle cx="226.9" cy="681" r="2.7"/><circle cx="234.8" cy="682.5" r="2.7"/><circle cx="242.5" cy="683.2" r="2.7"/><circle cx="250.4" cy="682.7" r="2.7"/><circle cx="258" cy="682.2" r="2.7"/><circle cx="265.7" cy="682.2" r="2.7"/><circle cx="273.3" cy="681" r="2.7"/><circle cx="281" cy="681.5" r="2.7"/><circle cx="288.6" cy="680.5" r="2.7"/></g>
<g fill="#d8519b" stroke="#4e2040" stroke-width="0.6"><circle cx="42" cy="566.9" r="2.7"/><circle cx="49.4" cy="562.7" r="2.7"/><circle cx="57.3" cy="577.5" r="2.7"/><circle cx="65" cy="569.9" r="2.7"/><circle cx="72.6" cy="581.5" r="2.7"/><circle cx="80.5" cy="580" r="2.7"/><circle cx="88.4" cy="574.3" r="2.7"/><circle cx="96.3" cy="592.3" r="2.7"/><circle cx="103.7" cy="596.5" r="2.7"/><circle cx="111.4" cy="616.5" r="2.7"/><circle cx="119" cy="614.3" r="2.7"/><circle cx="126.9" cy="627.9" r="2.7"/><circle cx="134.6" cy="628.9" r="2.7"/><circle cx="142.2" cy="632.8" r="2.7"/><circle cx="149.9" cy="654.8" r="2.7"/><circle cx="157.8" cy="656.5" r="2.7"/><circle cx="165.4" cy="668.4" r="2.7"/><circle cx="173.1" cy="666.9" r="2.7"/><circle cx="181" cy="673.3" r="2.7"/><circle cx="188.5" cy="668.9" r="2.7"/><circle cx="196" cy="675" r="2.7"/><circle cx="204" cy="669.6" r="2.7"/><circle cx="211.6" cy="647.9" r="2.7"/><circle cx="219.5" cy="599.5" r="2.7"/><circle cx="226.9" cy="575.8" r="2.7"/><circle cx="234.8" cy="559.5" r="2.7"/><circle cx="242.5" cy="546.4" r="2.7"/><circle cx="250.4" cy="548.9" r="2.7"/><circle cx="258" cy="551.6" r="2.7"/><circle cx="265.7" cy="553.8" r="2.7"/><circle cx="273.3" cy="547.9" r="2.7"/><circle cx="281" cy="561.2" r="2.7"/><circle cx="288.6" cy="557.5" r="2.7"/></g>
</g>
<text x="345.6" y="286.0" font-size="18" fill="#231f20" font-weight="bold" textLength="10.8" lengthAdjust="spacingAndGlyphs" >E</text>
<g fill="#e9a679" stroke="#231f20" stroke-width="1"><rect x="386.30" y="434.4" width="18.43" height="21.9"/><rect x="404.73" y="391" width="18.43" height="65.3"/><rect x="423.16" y="304.9" width="18.43" height="151.4"/><rect x="441.59" y="326.75" width="18.43" height="129.6"/><rect x="460.02" y="310.7" width="18.43" height="145.6"/><rect x="478.45" y="337.8" width="18.43" height="118.5"/><rect x="496.88" y="407.5" width="18.43" height="48.8"/><rect x="515.31" y="440.1" width="18.43" height="16.2"/><rect x="533.74" y="445.5" width="18.43" height="10.8"/><rect x="552.17" y="440.2" width="18.43" height="16.1"/><rect x="570.60" y="450.5" width="18.43" height="5.8"/><rect x="589.03" y="445.1" width="18.43" height="11.2"/><rect x="607.46" y="450.5" width="18.43" height="5.8"/><rect x="625.89" y="450.5" width="18.43" height="5.8"/></g>
<path d="M387.3,283.7 V456.3 H644.6" fill="none" stroke="#4d4d4f" stroke-width="1"/>
<path d="M418.5,456.3 v-2.5 M450.6,456.3 v-2.5 M482.8,456.3 v-2.5 M515.0,456.3 v-2.5 M547.2,456.3 v-2.5 M579.3,456.3 v-2.5 M611.5,456.3 v-2.5 M643.7,456.3 v-2.5 M387.3,418.9 h2.5 M387.3,381.4 h2.5 M387.3,343.9 h2.5 M387.3,306.5 h2.5 " stroke="#4d4d4f" stroke-width="0.9"/>
<text x="386.3" y="471.8" font-size="13.6" fill="#4d4d4f" stroke="#4d4d4f" stroke-width="0.25" text-anchor="middle" textLength="8" lengthAdjust="spacingAndGlyphs" >0</text>
<text x="418.5" y="471.8" font-size="13.6" fill="#4d4d4f" stroke="#4d4d4f" stroke-width="0.25" text-anchor="middle" textLength="8" lengthAdjust="spacingAndGlyphs" >1</text>
<text x="450.6" y="471.8" font-size="13.6" fill="#4d4d4f" stroke="#4d4d4f" stroke-width="0.25" text-anchor="middle" textLength="8" lengthAdjust="spacingAndGlyphs" >2</text>
<text x="482.8" y="471.8" font-size="13.6" fill="#4d4d4f" stroke="#4d4d4f" stroke-width="0.25" text-anchor="middle" textLength="8" lengthAdjust="spacingAndGlyphs" >3</text>
<text x="515.0" y="471.8" font-size="13.6" fill="#4d4d4f" stroke="#4d4d4f" stroke-width="0.25" text-anchor="middle" textLength="8" lengthAdjust="spacingAndGlyphs" >4</text>
<text x="547.2" y="471.8" font-size="13.6" fill="#4d4d4f" stroke="#4d4d4f" stroke-width="0.25" text-anchor="middle" textLength="8" lengthAdjust="spacingAndGlyphs" >5</text>
<text x="579.3" y="471.8" font-size="13.6" fill="#4d4d4f" stroke="#4d4d4f" stroke-width="0.25" text-anchor="middle" textLength="8" lengthAdjust="spacingAndGlyphs" >6</text>
<text x="611.5" y="471.8" font-size="13.6" fill="#4d4d4f" stroke="#4d4d4f" stroke-width="0.25" text-anchor="middle" textLength="8" lengthAdjust="spacingAndGlyphs" >7</text>
<text x="643.7" y="471.8" font-size="13.6" fill="#4d4d4f" stroke="#4d4d4f" stroke-width="0.25" text-anchor="middle" textLength="8" lengthAdjust="spacingAndGlyphs" >8</text>
<text x="368.0" y="311.6" font-size="13.6" fill="#4d4d4f" stroke="#4d4d4f" stroke-width="0.25" text-anchor="middle" textLength="21.8" lengthAdjust="spacingAndGlyphs" >0.2</text>
<text x="368.0" y="386.5" font-size="13.6" fill="#4d4d4f" stroke="#4d4d4f" stroke-width="0.25" text-anchor="middle" textLength="21.8" lengthAdjust="spacingAndGlyphs" >0.1</text>
<text x="368.0" y="461.3" font-size="13.6" fill="#4d4d4f" stroke="#4d4d4f" stroke-width="0.25" text-anchor="middle" textLength="8" lengthAdjust="spacingAndGlyphs" >0</text>
<text x="438.2" y="485.1" font-size="13.5" fill="#4d4d4f" stroke="#4d4d4f" stroke-width="0.25" textLength="153.6" lengthAdjust="spacingAndGlyphs" >reactivation time (min)</text>
<text transform="translate(353.3,373.2) rotate(-90)" font-size="13.5" fill="#4d4d4f" stroke="#4d4d4f" stroke-width="0.25" text-anchor="middle" textLength="77" lengthAdjust="spacingAndGlyphs" >probability</text>
<text x="530.4" y="422.6" font-size="13.5" fill="#231f20" stroke="#231f20" stroke-width="0.25" textLength="107.4" lengthAdjust="spacingAndGlyphs" >mean = 2.5 min</text>
<rect x="551.4" y="293.2" width="113.7" height="74.8" fill="#fff" stroke="#4d4d4f" stroke-width="1"/>
<path d="M565.6,368.0 v-1.8 M565.6,293.2 v1.8 M579.8,368.0 v-1.8 M579.8,293.2 v1.8 M594.0,368.0 v-1.8 M594.0,293.2 v1.8 M608.2,368.0 v-1.8 M608.2,293.2 v1.8 M622.5,368.0 v-1.8 M622.5,293.2 v1.8 M636.7,368.0 v-1.8 M636.7,293.2 v1.8 M650.9,368.0 v-1.8 M650.9,293.2 v1.8 M551.4,360.5 h1.8 M665.1,360.5 h-1.8 M551.4,353.0 h1.8 M665.1,353.0 h-1.8 M551.4,345.6 h1.8 M665.1,345.6 h-1.8 M551.4,338.1 h1.8 M665.1,338.1 h-1.8 M551.4,330.6 h1.8 M665.1,330.6 h-1.8 M551.4,323.1 h1.8 M665.1,323.1 h-1.8 M551.4,315.6 h1.8 M665.1,315.6 h-1.8 M551.4,308.2 h1.8 M665.1,308.2 h-1.8 M551.4,300.7 h1.8 M665.1,300.7 h-1.8 " stroke="#4d4d4f" stroke-width="0.8"/>
<path d="M551.4,367.7 H556 V366.6 H561 V363.8 H565.6 V359.8 H570.5 V353.4 H575.1 V345.2 H579.7 V332.8 H584.6 V325.7 H589.2 V318.4 H593.9 V310.5 H598.8 V306.9 H603.4 V303.2 H608 V302 H612.9 V300.9 H618 V300.1 H623.5 V299.4 H629 V298.1 H636.2 V297.4 H643.5 V296.7 H650.8 V296 H658.1 V295.4 H665.1 V295 H665.1" fill="none" stroke="#1f72c0" stroke-width="2"/>
<text x="551.4" y="381.2" font-size="13.6" fill="#4d4d4f" stroke="#4d4d4f" stroke-width="0.25" text-anchor="middle" textLength="8" lengthAdjust="spacingAndGlyphs" >0</text>
<text x="579.8" y="381.2" font-size="13.6" fill="#4d4d4f" stroke="#4d4d4f" stroke-width="0.25" text-anchor="middle" textLength="8" lengthAdjust="spacingAndGlyphs" >2</text>
<text x="608.2" y="381.2" font-size="13.6" fill="#4d4d4f" stroke="#4d4d4f" stroke-width="0.25" text-anchor="middle" textLength="8" lengthAdjust="spacingAndGlyphs" >4</text>
<text x="636.7" y="381.2" font-size="13.6" fill="#4d4d4f" stroke="#4d4d4f" stroke-width="0.25" text-anchor="middle" textLength="8" lengthAdjust="spacingAndGlyphs" >6</text>
<text x="665.1" y="381.2" font-size="13.6" fill="#4d4d4f" stroke="#4d4d4f" stroke-width="0.25" text-anchor="middle" textLength="8" lengthAdjust="spacingAndGlyphs" >8</text>
<text x="540.3" y="295.4" font-size="12.8" fill="#4d4d4f" stroke="#4d4d4f" stroke-width="0.25" text-anchor="middle" textLength="6" lengthAdjust="spacingAndGlyphs" >1</text>
<text x="539.3" y="335.1" font-size="12.8" fill="#4d4d4f" stroke="#4d4d4f" stroke-width="0.25" text-anchor="middle" textLength="21" lengthAdjust="spacingAndGlyphs" >0.5</text>
<text x="540.0" y="371.9" font-size="12.8" fill="#4d4d4f" stroke="#4d4d4f" stroke-width="0.25" text-anchor="middle" textLength="7.8" lengthAdjust="spacingAndGlyphs" >0</text>
<text x="531.0" y="395.2" font-size="13.5" fill="#4d4d4f" stroke="#4d4d4f" stroke-width="0.25" textLength="152.6" lengthAdjust="spacingAndGlyphs" >reactivation time (min)</text>
<text transform="translate(510.2,333.2) rotate(-90)" font-size="13.5" fill="#4d4d4f" stroke="#4d4d4f" stroke-width="0.25" text-anchor="middle" textLength="74.5" lengthAdjust="spacingAndGlyphs" >cumulative</text>
<text transform="translate(525.7,332.9) rotate(-90)" font-size="13.5" fill="#4d4d4f" stroke="#4d4d4f" stroke-width="0.25" text-anchor="middle" textLength="74" lengthAdjust="spacingAndGlyphs" >probability</text>
<text x="345.6" y="504.9" font-size="18" fill="#231f20" font-weight="bold" textLength="10.0" lengthAdjust="spacingAndGlyphs" >F</text>
<g fill="#c7c8ca"><circle cx="590.2" cy="524.2" r="1.8"/><circle cx="403.8" cy="538.7" r="1.8"/><circle cx="498.7" cy="553.0" r="1.8"/><circle cx="411.6" cy="560.4" r="1.8"/><circle cx="447.1" cy="574.6" r="1.8"/><circle cx="510.5" cy="582.0" r="1.8"/><circle cx="538.7" cy="582.0" r="1.8"/><circle cx="480.7" cy="589.1" r="1.8"/><circle cx="394.4" cy="596.3" r="1.8"/><circle cx="403" cy="603.7" r="1.8"/><circle cx="430" cy="603.7" r="1.8"/><circle cx="438.3" cy="610.8" r="1.8"/><circle cx="632" cy="610.8" r="1.8"/><circle cx="408" cy="617.9" r="1.8"/><circle cx="428.8" cy="617.9" r="1.8"/><circle cx="433.9" cy="617.9" r="1.8"/><circle cx="437.6" cy="617.9" r="1.8"/><circle cx="574.2" cy="617.9" r="1.8"/><circle cx="623.4" cy="617.9" r="1.8"/><circle cx="412.7" cy="625.3" r="1.8"/><circle cx="420.3" cy="625.3" r="1.8"/><circle cx="472.2" cy="625.3" r="1.8"/><circle cx="477" cy="625.3" r="1.8"/><circle cx="538.8" cy="625.3" r="1.8"/><circle cx="562.5" cy="625.3" r="1.8"/><circle cx="599.8" cy="625.3" r="1.8"/><circle cx="395.5" cy="632.5" r="1.8"/><circle cx="404" cy="632.5" r="1.8"/><circle cx="420.3" cy="632.5" r="1.8"/><circle cx="433.9" cy="632.5" r="1.8"/><circle cx="447" cy="632.5" r="1.8"/><circle cx="455" cy="632.5" r="1.8"/><circle cx="464.3" cy="632.5" r="1.8"/><circle cx="472.2" cy="632.5" r="1.8"/><circle cx="477" cy="632.5" r="1.8"/><circle cx="496.4" cy="632.5" r="1.8"/><circle cx="521.6" cy="632.5" r="1.8"/><circle cx="528.2" cy="632.5" r="1.8"/><circle cx="557" cy="632.5" r="1.8"/><circle cx="421.5" cy="639.6" r="1.8"/><circle cx="433.9" cy="639.6" r="1.8"/><circle cx="455" cy="639.6" r="1.8"/><circle cx="463.8" cy="639.6" r="1.8"/><circle cx="468.2" cy="639.6" r="1.8"/><circle cx="510.7" cy="639.6" r="1.8"/><circle cx="538.8" cy="639.6" r="1.8"/><circle cx="573.4" cy="639.6" r="1.8"/><circle cx="389.4" cy="647.0" r="1.8"/><circle cx="402.5" cy="647.0" r="1.8"/><circle cx="406.9" cy="647.0" r="1.8"/><circle cx="417.1" cy="647.0" r="1.8"/><circle cx="421.5" cy="647.0" r="1.8"/><circle cx="429.5" cy="647.0" r="1.8"/><circle cx="455" cy="647.0" r="1.8"/><circle cx="498.2" cy="647.0" r="1.8"/><circle cx="530.4" cy="647.0" r="1.8"/><circle cx="537" cy="647.0" r="1.8"/><circle cx="574.2" cy="647.0" r="1.8"/><circle cx="391.1" cy="654.1" r="1.8"/><circle cx="394.8" cy="654.1" r="1.8"/><circle cx="412.7" cy="654.1" r="1.8"/><circle cx="420.3" cy="654.1" r="1.8"/><circle cx="433.9" cy="654.1" r="1.8"/><circle cx="437.6" cy="654.1" r="1.8"/><circle cx="442.7" cy="654.1" r="1.8"/><circle cx="446.3" cy="654.1" r="1.8"/><circle cx="472.2" cy="654.1" r="1.8"/><circle cx="480.6" cy="654.1" r="1.8"/><circle cx="496.4" cy="654.1" r="1.8"/><circle cx="510.7" cy="654.1" r="1.8"/><circle cx="521.6" cy="654.1" r="1.8"/><circle cx="531" cy="654.1" r="1.8"/><circle cx="581.9" cy="654.1" r="1.8"/><circle cx="590.5" cy="654.1" r="1.8"/><circle cx="633.3" cy="654.1" r="1.8"/><circle cx="412.7" cy="661.2" r="1.8"/><circle cx="433.9" cy="661.2" r="1.8"/><circle cx="442.7" cy="661.2" r="1.8"/><circle cx="446.3" cy="661.2" r="1.8"/><circle cx="455" cy="661.2" r="1.8"/><circle cx="459.7" cy="661.2" r="1.8"/><circle cx="496.4" cy="661.2" r="1.8"/><circle cx="498.2" cy="661.2" r="1.8"/><circle cx="555.9" cy="661.2" r="1.8"/><circle cx="579.3" cy="661.2" r="1.8"/><circle cx="579.6" cy="661.2" r="1.8"/><circle cx="607.8" cy="661.2" r="1.8"/><circle cx="394.8" cy="668.6" r="1.8"/><circle cx="404" cy="668.6" r="1.8"/><circle cx="411.7" cy="668.6" r="1.8"/><circle cx="420.3" cy="668.6" r="1.8"/><circle cx="430" cy="668.6" r="1.8"/><circle cx="437.8" cy="668.6" r="1.8"/><circle cx="451.1" cy="668.6" r="1.8"/><circle cx="463.5" cy="668.6" r="1.8"/><circle cx="472.2" cy="668.6" r="1.8"/><circle cx="489" cy="668.6" r="1.8"/><circle cx="496.4" cy="668.6" r="1.8"/><circle cx="557" cy="668.6" r="1.8"/><circle cx="404" cy="675.8" r="1.8"/><circle cx="411.7" cy="675.8" r="1.8"/><circle cx="433.9" cy="675.8" r="1.8"/><circle cx="481.4" cy="675.8" r="1.8"/><circle cx="505.3" cy="675.8" r="1.8"/><circle cx="522.3" cy="675.8" r="1.8"/><circle cx="528.2" cy="675.8" r="1.8"/><circle cx="412.7" cy="682.9" r="1.8"/><circle cx="433.9" cy="682.9" r="1.8"/><circle cx="477" cy="682.9" r="1.8"/><circle cx="513.6" cy="682.9" r="1.8"/><circle cx="536.6" cy="682.9" r="1.8"/><circle cx="404" cy="690.3" r="1.8"/><circle cx="433.9" cy="690.3" r="1.8"/><circle cx="472.2" cy="690.3" r="1.8"/><circle cx="530.8" cy="690.3" r="1.8"/></g>
<path d="M388.5,646.5 L647.4,638.7" stroke="#8d8e90" stroke-width="2.6" stroke-dasharray="8,5"/>
<path d="M403.5,634.6 V649.6 M434.3,640.6 V649.6 M465,643.5 V651 M495.6,635 V648 M526.4,645.3 V657.7 M557.4,637.2 V653.7 M587.9,612.2 V643.5 M618.6,623 V648.7 " stroke="#e0555a" stroke-width="1"/>
<path d="M403.5,641.9 L434.3,644.8 L465,647 L495.6,641.6 L526.4,651.1 L557.4,645.3 L587.9,627.8 L618.6,636.2" fill="none" stroke="#d9413f" stroke-width="2.2"/>
<g fill="#d9413f" stroke="#4a1515" stroke-width="0.7"><circle cx="403.5" cy="641.9" r="2.9"/><circle cx="434.3" cy="644.8" r="2.9"/><circle cx="465" cy="647" r="2.9"/><circle cx="495.6" cy="641.6" r="2.9"/><circle cx="526.4" cy="651.1" r="2.9"/><circle cx="557.4" cy="645.3" r="2.9"/><circle cx="587.9" cy="627.8" r="2.9"/><circle cx="618.6" cy="636.2" r="2.9"/></g>
<path d="M388.1,524.2 V697.2 H647.4" fill="none" stroke="#4d4d4f" stroke-width="1"/>
<path d="M413.7,697.2 v-2.5 M439.7,697.2 v-2.5 M465.6,697.2 v-2.5 M491.6,697.2 v-2.5 M517.5,697.2 v-2.5 M543.4,697.2 v-2.5 M569.4,697.2 v-2.5 M595.3,697.2 v-2.5 M621.3,697.2 v-2.5 M647.2,697.2 v-2.5 M388.1,675.8 h2.5 M388.1,654.1 h2.5 M388.1,632.5 h2.5 M388.1,610.8 h2.5 M388.1,589.1 h2.5 M388.1,567.5 h2.5 M388.1,545.9 h2.5 M388.1,524.2 h2.5 " stroke="#4d4d4f" stroke-width="0.9"/>
<text x="383.6" y="702.3" font-size="13.6" fill="#4d4d4f" stroke="#4d4d4f" stroke-width="0.25" text-anchor="end" textLength="8" lengthAdjust="spacingAndGlyphs" >0</text>
<text x="383.6" y="680.6" font-size="13.6" fill="#4d4d4f" stroke="#4d4d4f" stroke-width="0.25" text-anchor="end" textLength="8" lengthAdjust="spacingAndGlyphs" >1</text>
<text x="383.6" y="659.0" font-size="13.6" fill="#4d4d4f" stroke="#4d4d4f" stroke-width="0.25" text-anchor="end" textLength="8" lengthAdjust="spacingAndGlyphs" >2</text>
<text x="383.6" y="637.4" font-size="13.6" fill="#4d4d4f" stroke="#4d4d4f" stroke-width="0.25" text-anchor="end" textLength="8" lengthAdjust="spacingAndGlyphs" >3</text>
<text x="383.6" y="615.7" font-size="13.6" fill="#4d4d4f" stroke="#4d4d4f" stroke-width="0.25" text-anchor="end" textLength="8" lengthAdjust="spacingAndGlyphs" >4</text>
<text x="383.6" y="594.0" font-size="13.6" fill="#4d4d4f" stroke="#4d4d4f" stroke-width="0.25" text-anchor="end" textLength="8" lengthAdjust="spacingAndGlyphs" >5</text>
<text x="383.6" y="572.4" font-size="13.6" fill="#4d4d4f" stroke="#4d4d4f" stroke-width="0.25" text-anchor="end" textLength="8" lengthAdjust="spacingAndGlyphs" >6</text>
<text x="383.6" y="550.8" font-size="13.6" fill="#4d4d4f" stroke="#4d4d4f" stroke-width="0.25" text-anchor="end" textLength="8" lengthAdjust="spacingAndGlyphs" >7</text>
<text x="383.6" y="529.1" font-size="13.6" fill="#4d4d4f" stroke="#4d4d4f" stroke-width="0.25" text-anchor="end" textLength="8" lengthAdjust="spacingAndGlyphs" >8</text>
<text x="387.8" y="711.8" font-size="13.6" fill="#4d4d4f" stroke="#4d4d4f" stroke-width="0.25" text-anchor="middle" textLength="8" lengthAdjust="spacingAndGlyphs" >2</text>
<text x="413.7" y="711.8" font-size="13.6" fill="#4d4d4f" stroke="#4d4d4f" stroke-width="0.25" text-anchor="middle" textLength="8" lengthAdjust="spacingAndGlyphs" >3</text>
<text x="439.7" y="711.8" font-size="13.6" fill="#4d4d4f" stroke="#4d4d4f" stroke-width="0.25" text-anchor="middle" textLength="8" lengthAdjust="spacingAndGlyphs" >4</text>
<text x="465.6" y="711.8" font-size="13.6" fill="#4d4d4f" stroke="#4d4d4f" stroke-width="0.25" text-anchor="middle" textLength="8" lengthAdjust="spacingAndGlyphs" >5</text>
<text x="491.6" y="711.8" font-size="13.6" fill="#4d4d4f" stroke="#4d4d4f" stroke-width="0.25" text-anchor="middle" textLength="8" lengthAdjust="spacingAndGlyphs" >6</text>
<text x="517.5" y="711.8" font-size="13.6" fill="#4d4d4f" stroke="#4d4d4f" stroke-width="0.25" text-anchor="middle" textLength="8" lengthAdjust="spacingAndGlyphs" >7</text>
<text x="543.4" y="711.8" font-size="13.6" fill="#4d4d4f" stroke="#4d4d4f" stroke-width="0.25" text-anchor="middle" textLength="8" lengthAdjust="spacingAndGlyphs" >8</text>
<text x="569.4" y="711.8" font-size="13.6" fill="#4d4d4f" stroke="#4d4d4f" stroke-width="0.25" text-anchor="middle" textLength="8" lengthAdjust="spacingAndGlyphs" >9</text>
<text x="595.3" y="711.8" font-size="13.6" fill="#4d4d4f" stroke="#4d4d4f" stroke-width="0.25" text-anchor="middle" textLength="16" lengthAdjust="spacingAndGlyphs" >10</text>
<text x="621.3" y="711.8" font-size="13.6" fill="#4d4d4f" stroke="#4d4d4f" stroke-width="0.25" text-anchor="middle" textLength="16" lengthAdjust="spacingAndGlyphs" >11</text>
<text x="647.2" y="711.8" font-size="13.6" fill="#4d4d4f" stroke="#4d4d4f" stroke-width="0.25" text-anchor="middle" textLength="16" lengthAdjust="spacingAndGlyphs" >12</text>
<text x="419.0" y="726.2" font-size="13.5" fill="#4d4d4f" stroke="#4d4d4f" stroke-width="0.25" textLength="197" lengthAdjust="spacingAndGlyphs" >time in repressed state (min)</text>
<text transform="translate(369.3,610.2) rotate(-90)" font-size="13.5" fill="#4d4d4f" stroke="#4d4d4f" stroke-width="0.25" text-anchor="middle" textLength="157.5" lengthAdjust="spacingAndGlyphs" >reactivation time (min)</text>
</svg></body></html>
